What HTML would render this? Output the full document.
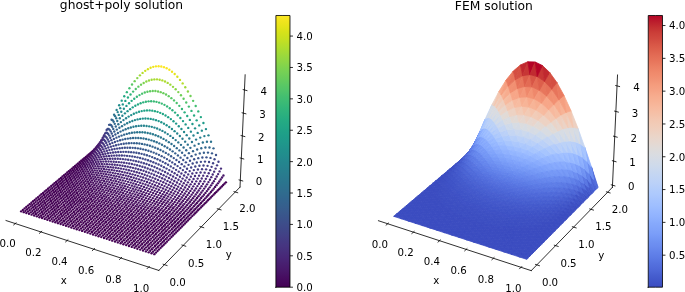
<!DOCTYPE html>
<html><head><meta charset="utf-8"><title>ghost+poly solution / FEM solution</title>
<style>html,body{margin:0;padding:0;background:#fff;overflow:hidden}svg{display:block}</style>
</head><body>
<svg width="685" height="292" viewBox="0 0 670.123 285.658">
<defs>
<style type="text/css">*{stroke-linejoin: round; stroke-linecap: butt}</style>
</defs>
<g id="figure_1">
<g id="patch_1">
<path d="M 0 285.658 L 670.123 285.658 L 670.123 0 L 0 0 z " style="fill: #ffffff"/>
</g>
<g id="patch_2">
<path d="M -14.185 281.353 L 251.907 281.353 L 251.907 15.261 L -14.185 15.261 z " style="fill: #ffffff"/>
</g>
<g id="pane3d_1">
<g id="patch_3">
<path d="M 5.906 215.744 L 93.779 142.087 L 92.557 35.861 L 0.480 103.055 " style="fill: none; opacity: 0.5"/>
</g>
</g>
<g id="pane3d_2">
<g id="patch_4">
<path d="M 93.779 142.087 L 234.783 183.071 L 239.815 73.187 L 92.557 35.861 " style="fill: none; opacity: 0.5"/>
</g>
</g>
<g id="pane3d_3">
<g id="patch_5">
<path d="M 5.906 215.744 L 155.377 264.561 L 234.783 183.071 L 93.779 142.087 " style="fill: none; opacity: 0.5"/>
</g>
</g>
<g id="axis3d_1">
<g id="line2d_1">
<path d="M 5.906 215.744 L 155.377 264.561 " style="fill: none; stroke: #000000; stroke-width: 0.8; stroke-linecap: square"/>
</g>
<g id="xtick_1">
<g id="line2d_2">
<path d="M 15.720 218.055 L 13.434 219.994 " style="fill: none; stroke: #000000; stroke-width: 0.8; stroke-linecap: square"/>
</g>
<g id="text_1">
<text style="font-size: 10px; font-family: 'DejaVu Sans', 'Liberation Sans', sans-serif; text-anchor: middle" x="7.430" y="242.009">0.0</text>
</g>
</g>
<g id="xtick_2">
<g id="line2d_3">
<path d="M 40.847 226.253 L 38.594 228.227 " style="fill: none; stroke: #000000; stroke-width: 0.8; stroke-linecap: square"/>
</g>
<g id="text_2">
<text style="font-size: 10px; font-family: 'DejaVu Sans', 'Liberation Sans', sans-serif; text-anchor: middle" x="32.594" y="250.393">0.2</text>
</g>
</g>
<g id="xtick_3">
<g id="line2d_4">
<path d="M 66.434 234.601 L 64.216 236.612 " style="fill: none; stroke: #000000; stroke-width: 0.8; stroke-linecap: square"/>
</g>
<g id="text_3">
<text style="font-size: 10px; font-family: 'DejaVu Sans', 'Liberation Sans', sans-serif; text-anchor: middle" x="58.220" y="258.932">0.4</text>
</g>
</g>
<g id="xtick_4">
<g id="line2d_5">
<path d="M 92.493 243.104 L 90.313 245.152 " style="fill: none; stroke: #000000; stroke-width: 0.8; stroke-linecap: square"/>
</g>
<g id="text_4">
<text style="font-size: 10px; font-family: 'DejaVu Sans', 'Liberation Sans', sans-serif; text-anchor: middle" x="84.322" y="267.628">0.6</text>
</g>
</g>
<g id="xtick_5">
<g id="line2d_6">
<path d="M 119.039 251.765 L 116.897 253.852 " style="fill: none; stroke: #000000; stroke-width: 0.8; stroke-linecap: square"/>
</g>
<g id="text_5">
<text style="font-size: 10px; font-family: 'DejaVu Sans', 'Liberation Sans', sans-serif; text-anchor: middle" x="110.914" y="276.488">0.8</text>
</g>
</g>
<g id="xtick_6">
<g id="line2d_7">
<path d="M 146.084 260.590 L 143.983 262.716 " style="fill: none; stroke: #000000; stroke-width: 0.8; stroke-linecap: square"/>
</g>
<g id="text_6">
<text style="font-size: 10px; font-family: 'DejaVu Sans', 'Liberation Sans', sans-serif; text-anchor: middle" x="138.008" y="285.515">1.0</text>
</g>
</g>
<g id="text_7">
<text style="font-size: 10px; font-family: 'DejaVu Sans', 'Liberation Sans', sans-serif; text-anchor: middle" x="62.380" y="277.540">x</text>
</g>
</g>
<g id="axis3d_2">
<g id="line2d_8">
<path d="M 234.783 183.071 L 155.377 264.561 " style="fill: none; stroke: #000000; stroke-width: 0.8; stroke-linecap: square"/>
</g>
<g id="xtick_7">
<g id="line2d_9">
<path d="M 159.617 258.516 L 163.385 259.737 " style="fill: none; stroke: #000000; stroke-width: 0.8; stroke-linecap: square"/>
</g>
<g id="text_8">
<text style="font-size: 10px; font-family: 'DejaVu Sans', 'Liberation Sans', sans-serif; text-anchor: middle" x="173.752" y="279.944">0.0</text>
</g>
</g>
<g id="xtick_8">
<g id="line2d_10">
<path d="M 177.986 239.698 L 181.702 240.871 " style="fill: none; stroke: #000000; stroke-width: 0.8; stroke-linecap: square"/>
</g>
<g id="text_9">
<text style="font-size: 10px; font-family: 'DejaVu Sans', 'Liberation Sans', sans-serif; text-anchor: middle" x="191.858" y="260.831">0.5</text>
</g>
</g>
<g id="xtick_9">
<g id="line2d_11">
<path d="M 195.638 221.615 L 199.303 222.743 " style="fill: none; stroke: #000000; stroke-width: 0.8; stroke-linecap: square"/>
</g>
<g id="text_10">
<text style="font-size: 10px; font-family: 'DejaVu Sans', 'Liberation Sans', sans-serif; text-anchor: middle" x="209.256" y="242.466">1.0</text>
</g>
</g>
<g id="xtick_10">
<g id="line2d_12">
<path d="M 212.613 204.226 L 216.229 205.310 " style="fill: none; stroke: #000000; stroke-width: 0.8; stroke-linecap: square"/>
</g>
<g id="text_11">
<text style="font-size: 10px; font-family: 'DejaVu Sans', 'Liberation Sans', sans-serif; text-anchor: middle" x="225.986" y="224.806">1.5</text>
</g>
</g>
<g id="xtick_11">
<g id="line2d_13">
<path d="M 228.950 187.491 L 232.517 188.535 " style="fill: none; stroke: #000000; stroke-width: 0.8; stroke-linecap: square"/>
</g>
<g id="text_12">
<text style="font-size: 10px; font-family: 'DejaVu Sans', 'Liberation Sans', sans-serif; text-anchor: middle" x="242.087" y="207.810">2.0</text>
</g>
</g>
<g id="text_13">
<text style="font-size: 10px; font-family: 'DejaVu Sans', 'Liberation Sans', sans-serif; text-anchor: middle" x="223.828" y="252.762">y</text>
</g>
</g>
<g id="axis3d_3">
<g id="line2d_14">
<path d="M 234.783 183.071 L 239.815 73.187 " style="fill: none; stroke: #000000; stroke-width: 0.8; stroke-linecap: square"/>
</g>
<g id="xtick_12">
<g id="line2d_15">
<path d="M 233.903 176.018 L 237.466 177.045 " style="fill: none; stroke: #000000; stroke-width: 0.8; stroke-linecap: square"/>
</g>
<g id="text_14">
<text style="font-size: 10px; font-family: 'DejaVu Sans', 'Liberation Sans', sans-serif; text-anchor: middle" x="253.388" y="181.367">0</text>
</g>
</g>
<g id="xtick_13">
<g id="line2d_16">
<path d="M 234.878 154.512 L 238.473 155.523 " style="fill: none; stroke: #000000; stroke-width: 0.8; stroke-linecap: square"/>
</g>
<g id="text_15">
<text style="font-size: 10px; font-family: 'DejaVu Sans', 'Liberation Sans', sans-serif; text-anchor: middle" x="254.529" y="159.898">1</text>
</g>
</g>
<g id="xtick_14">
<g id="line2d_17">
<path d="M 235.869 132.627 L 239.498 133.620 " style="fill: none; stroke: #000000; stroke-width: 0.8; stroke-linecap: square"/>
</g>
<g id="text_16">
<text style="font-size: 10px; font-family: 'DejaVu Sans', 'Liberation Sans', sans-serif; text-anchor: middle" x="255.691" y="138.051">2</text>
</g>
</g>
<g id="xtick_15">
<g id="line2d_18">
<path d="M 236.878 110.352 L 240.540 111.326 " style="fill: none; stroke: #000000; stroke-width: 0.8; stroke-linecap: square"/>
</g>
<g id="text_17">
<text style="font-size: 10px; font-family: 'DejaVu Sans', 'Liberation Sans', sans-serif; text-anchor: middle" x="256.873" y="115.817">3</text>
</g>
</g>
<g id="xtick_16">
<g id="line2d_19">
<path d="M 237.906 87.677 L 241.602 88.632 " style="fill: none; stroke: #000000; stroke-width: 0.8; stroke-linecap: square"/>
</g>
<g id="text_18">
<text style="font-size: 10px; font-family: 'DejaVu Sans', 'Liberation Sans', sans-serif; text-anchor: middle" x="258.077" y="93.184">4</text>
</g>
</g>
</g>
<g id="axes_1">
<g id="scatter">
<circle cx="97.16" cy="142.4" r="1.16" fill="#440154"/>
<circle cx="95.71" cy="143.62" r="1.16" fill="#440154"/>
<circle cx="94.25" cy="144.84" r="1.16" fill="#440154"/>
<circle cx="99.53" cy="137.32" r="1.16" fill="#48186a"/>
<circle cx="98.08" cy="139.24" r="1.16" fill="#481668"/>
<circle cx="92.79" cy="146.07" r="1.16" fill="#440154"/>
<circle cx="96.63" cy="141.07" r="1.16" fill="#471365"/>
<circle cx="91.33" cy="147.3" r="1.16" fill="#440154"/>
<circle cx="101.91" cy="132.24" r="1.16" fill="#472d7b"/>
<circle cx="95.18" cy="142.84" r="1.16" fill="#471164"/>
<circle cx="100.47" cy="134.85" r="1.16" fill="#482878"/>
<circle cx="89.86" cy="148.53" r="1.16" fill="#440154"/>
<circle cx="93.72" cy="144.54" r="1.16" fill="#470e61"/>
<circle cx="99.03" cy="137.3" r="1.16" fill="#482475"/>
<circle cx="88.39" cy="149.77" r="1.16" fill="#440154"/>
<circle cx="97.58" cy="139.61" r="1.16" fill="#482071"/>
<circle cx="92.26" cy="146.19" r="1.16" fill="#470d60"/>
<circle cx="104.31" cy="127.17" r="1.16" fill="#424086"/>
<circle cx="102.88" cy="130.48" r="1.16" fill="#443a83"/>
<circle cx="86.91" cy="151.01" r="1.16" fill="#440154"/>
<circle cx="96.13" cy="141.78" r="1.16" fill="#481c6e"/>
<circle cx="90.79" cy="147.8" r="1.16" fill="#460b5e"/>
<circle cx="101.44" cy="133.55" r="1.16" fill="#46337f"/>
<circle cx="94.67" cy="143.85" r="1.16" fill="#481a6c"/>
<circle cx="99.99" cy="136.39" r="1.16" fill="#472e7c"/>
<circle cx="85.43" cy="152.26" r="1.16" fill="#440154"/>
<circle cx="89.32" cy="149.36" r="1.16" fill="#460a5d"/>
<circle cx="106.73" cy="122.15" r="1.16" fill="#3b528b"/>
<circle cx="98.54" cy="139.05" r="1.16" fill="#482979"/>
<circle cx="93.21" cy="145.83" r="1.16" fill="#481769"/>
<circle cx="105.3" cy="126.15" r="1.16" fill="#3e4a89"/>
<circle cx="83.95" cy="153.51" r="1.16" fill="#440154"/>
<circle cx="103.86" cy="129.83" r="1.16" fill="#414287"/>
<circle cx="87.85" cy="150.9" r="1.16" fill="#46085c"/>
<circle cx="97.09" cy="141.53" r="1.16" fill="#482475"/>
<circle cx="91.74" cy="147.72" r="1.16" fill="#481467"/>
<circle cx="102.42" cy="133.21" r="1.16" fill="#443b84"/>
<circle cx="95.63" cy="143.87" r="1.16" fill="#482071"/>
<circle cx="82.46" cy="154.76" r="1.16" fill="#440154"/>
<circle cx="100.97" cy="136.34" r="1.16" fill="#463480"/>
<circle cx="86.37" cy="152.4" r="1.16" fill="#46085c"/>
<circle cx="90.27" cy="149.54" r="1.16" fill="#471164"/>
<circle cx="99.52" cy="139.24" r="1.16" fill="#472f7d"/>
<circle cx="109.17" cy="117.18" r="1.16" fill="#33638d"/>
<circle cx="94.17" cy="146.09" r="1.16" fill="#481c6e"/>
<circle cx="107.73" cy="121.88" r="1.16" fill="#38598c"/>
<circle cx="106.29" cy="126.16" r="1.16" fill="#3c508b"/>
<circle cx="80.97" cy="156.02" r="1.16" fill="#440154"/>
<circle cx="84.88" cy="153.87" r="1.16" fill="#46075a"/>
<circle cx="88.79" cy="151.29" r="1.16" fill="#471063"/>
<circle cx="104.85" cy="130.08" r="1.16" fill="#3f4788"/>
<circle cx="98.06" cy="141.94" r="1.16" fill="#472a7a"/>
<circle cx="92.7" cy="148.19" r="1.16" fill="#481a6c"/>
<circle cx="103.41" cy="133.67" r="1.16" fill="#424086"/>
<circle cx="96.6" cy="144.48" r="1.16" fill="#482576"/>
<circle cx="101.96" cy="136.99" r="1.16" fill="#443983"/>
<circle cx="83.39" cy="155.32" r="1.16" fill="#46075a"/>
<circle cx="79.47" cy="157.28" r="1.16" fill="#440154"/>
<circle cx="87.31" cy="152.98" r="1.16" fill="#470e61"/>
<circle cx="91.23" cy="150.19" r="1.16" fill="#481769"/>
<circle cx="100.51" cy="140.05" r="1.16" fill="#46337f"/>
<circle cx="95.14" cy="146.86" r="1.16" fill="#482173"/>
<circle cx="110.18" cy="117.69" r="1.16" fill="#31678e"/>
<circle cx="108.74" cy="122.57" r="1.16" fill="#365d8d"/>
<circle cx="111.61" cy="112.31" r="1.16" fill="#2c728e"/>
<circle cx="107.3" cy="127.01" r="1.16" fill="#3a538b"/>
<circle cx="81.9" cy="156.76" r="1.16" fill="#450559"/>
<circle cx="85.83" cy="154.63" r="1.16" fill="#460b5e"/>
<circle cx="105.86" cy="131.07" r="1.16" fill="#3e4a89"/>
<circle cx="77.97" cy="158.54" r="1.16" fill="#440154"/>
<circle cx="89.75" cy="152.11" r="1.16" fill="#481467"/>
<circle cx="99.05" cy="142.9" r="1.16" fill="#472d7b"/>
<circle cx="93.67" cy="149.11" r="1.16" fill="#481d6f"/>
<circle cx="104.41" cy="134.79" r="1.16" fill="#414287"/>
<circle cx="97.59" cy="145.57" r="1.16" fill="#482878"/>
<circle cx="102.96" cy="138.21" r="1.16" fill="#443b84"/>
<circle cx="84.34" cy="156.24" r="1.16" fill="#460b5e"/>
<circle cx="80.4" cy="158.17" r="1.16" fill="#450559"/>
<circle cx="88.27" cy="153.95" r="1.16" fill="#471164"/>
<circle cx="76.46" cy="159.81" r="1.16" fill="#440154"/>
<circle cx="92.2" cy="151.25" r="1.16" fill="#481b6d"/>
<circle cx="101.5" cy="141.37" r="1.16" fill="#453581"/>
<circle cx="111.2" cy="119.08" r="1.16" fill="#31688e"/>
<circle cx="109.76" cy="124.03" r="1.16" fill="#355e8d"/>
<circle cx="96.12" cy="148.06" r="1.16" fill="#482475"/>
<circle cx="112.64" cy="113.61" r="1.16" fill="#2c738e"/>
<circle cx="108.32" cy="128.54" r="1.16" fill="#3a548c"/>
<circle cx="106.87" cy="132.65" r="1.16" fill="#3e4c8a"/>
<circle cx="114.08" cy="107.55" r="1.16" fill="#26818e"/>
<circle cx="86.78" cy="155.73" r="1.16" fill="#471063"/>
<circle cx="82.84" cy="157.8" r="1.16" fill="#460a5d"/>
<circle cx="100.04" cy="144.31" r="1.16" fill="#472f7d"/>
<circle cx="90.72" cy="153.28" r="1.16" fill="#481769"/>
<circle cx="78.9" cy="159.57" r="1.16" fill="#450457"/>
<circle cx="105.42" cy="136.42" r="1.16" fill="#414487"/>
<circle cx="74.95" cy="161.08" r="1.16" fill="#440154"/>
<circle cx="94.65" cy="150.41" r="1.16" fill="#482071"/>
<circle cx="98.58" cy="147.04" r="1.16" fill="#472a7a"/>
<circle cx="103.97" cy="139.89" r="1.16" fill="#433d84"/>
<circle cx="85.29" cy="157.44" r="1.16" fill="#470e61"/>
<circle cx="89.24" cy="155.23" r="1.16" fill="#481467"/>
<circle cx="81.34" cy="159.34" r="1.16" fill="#46085c"/>
<circle cx="93.18" cy="152.64" r="1.16" fill="#481c6e"/>
<circle cx="112.23" cy="121.15" r="1.16" fill="#31688e"/>
<circle cx="77.39" cy="160.96" r="1.16" fill="#450457"/>
<circle cx="110.79" cy="126.1" r="1.16" fill="#355e8d"/>
<circle cx="102.51" cy="143.1" r="1.16" fill="#453581"/>
<circle cx="113.68" cy="115.69" r="1.16" fill="#2c738e"/>
<circle cx="109.34" cy="130.6" r="1.16" fill="#3a548c"/>
<circle cx="73.43" cy="162.36" r="1.16" fill="#440154"/>
<circle cx="97.11" cy="149.61" r="1.16" fill="#482576"/>
<circle cx="107.89" cy="134.71" r="1.16" fill="#3e4c8a"/>
<circle cx="115.12" cy="109.64" r="1.16" fill="#27808e"/>
<circle cx="101.05" cy="146.07" r="1.16" fill="#46307e"/>
<circle cx="87.75" cy="157.1" r="1.16" fill="#471365"/>
<circle cx="83.8" cy="159.11" r="1.16" fill="#470d60"/>
<circle cx="106.44" cy="138.47" r="1.16" fill="#414487"/>
<circle cx="91.7" cy="154.75" r="1.16" fill="#481a6c"/>
<circle cx="79.84" cy="160.85" r="1.16" fill="#46075a"/>
<circle cx="116.56" cy="102.93" r="1.16" fill="#218e8d"/>
<circle cx="95.64" cy="152.02" r="1.16" fill="#482173"/>
<circle cx="75.88" cy="162.34" r="1.16" fill="#450457"/>
<circle cx="104.98" cy="141.94" r="1.16" fill="#433d84"/>
<circle cx="99.58" cy="148.84" r="1.16" fill="#472a7a"/>
<circle cx="71.91" cy="163.64" r="1.16" fill="#440154"/>
<circle cx="113.27" cy="123.76" r="1.16" fill="#31668e"/>
<circle cx="111.82" cy="128.63" r="1.16" fill="#365c8d"/>
<circle cx="114.72" cy="118.38" r="1.16" fill="#2c718e"/>
<circle cx="86.26" cy="158.9" r="1.16" fill="#471063"/>
<circle cx="90.21" cy="156.77" r="1.16" fill="#481769"/>
<circle cx="110.37" cy="133.07" r="1.16" fill="#3b528b"/>
<circle cx="103.52" cy="145.14" r="1.16" fill="#453581"/>
<circle cx="82.3" cy="160.74" r="1.16" fill="#460b5e"/>
<circle cx="94.16" cy="154.3" r="1.16" fill="#481d6f"/>
<circle cx="116.16" cy="112.43" r="1.16" fill="#277e8e"/>
<circle cx="78.33" cy="162.33" r="1.16" fill="#46075a"/>
<circle cx="98.11" cy="151.44" r="1.16" fill="#482677"/>
<circle cx="108.92" cy="137.13" r="1.16" fill="#3e4989"/>
<circle cx="74.36" cy="163.72" r="1.16" fill="#440256"/>
<circle cx="102.06" cy="148.12" r="1.16" fill="#472f7d"/>
<circle cx="117.61" cy="105.83" r="1.16" fill="#228b8d"/>
<circle cx="107.46" cy="140.85" r="1.16" fill="#414287"/>
<circle cx="70.38" cy="164.92" r="1.16" fill="#440154"/>
<circle cx="88.72" cy="158.7" r="1.16" fill="#481467"/>
<circle cx="92.68" cy="156.46" r="1.16" fill="#481b6d"/>
<circle cx="84.76" cy="160.64" r="1.16" fill="#470e61"/>
<circle cx="96.64" cy="153.87" r="1.16" fill="#482173"/>
<circle cx="80.79" cy="162.33" r="1.16" fill="#460a5d"/>
<circle cx="106" cy="144.27" r="1.16" fill="#443b84"/>
<circle cx="114.31" cy="126.77" r="1.16" fill="#33638d"/>
<circle cx="76.82" cy="163.8" r="1.16" fill="#450559"/>
<circle cx="115.76" cy="121.53" r="1.16" fill="#2e6e8e"/>
<circle cx="100.59" cy="150.89" r="1.16" fill="#472a7a"/>
<circle cx="112.86" cy="131.52" r="1.16" fill="#38598c"/>
<circle cx="119.05" cy="98.47" r="1.16" fill="#1e9b8a"/>
<circle cx="72.84" cy="165.08" r="1.16" fill="#440256"/>
<circle cx="111.41" cy="135.86" r="1.16" fill="#3c508b"/>
<circle cx="117.21" cy="115.74" r="1.16" fill="#297a8e"/>
<circle cx="104.54" cy="147.44" r="1.16" fill="#463480"/>
<circle cx="91.19" cy="158.52" r="1.16" fill="#481769"/>
<circle cx="68.85" cy="166.21" r="1.16" fill="#440154"/>
<circle cx="87.23" cy="160.56" r="1.16" fill="#471164"/>
<circle cx="109.95" cy="139.82" r="1.16" fill="#3f4788"/>
<circle cx="95.16" cy="156.18" r="1.16" fill="#481d6f"/>
<circle cx="83.26" cy="162.33" r="1.16" fill="#470d60"/>
<circle cx="118.66" cy="109.32" r="1.16" fill="#24878e"/>
<circle cx="99.12" cy="153.48" r="1.16" fill="#482576"/>
<circle cx="79.28" cy="163.88" r="1.16" fill="#46085c"/>
<circle cx="108.5" cy="143.46" r="1.16" fill="#424086"/>
<circle cx="103.07" cy="150.39" r="1.16" fill="#472f7d"/>
<circle cx="75.3" cy="165.24" r="1.16" fill="#450559"/>
<circle cx="120.11" cy="102.17" r="1.16" fill="#1f968b"/>
<circle cx="115.36" cy="130.08" r="1.16" fill="#355f8d"/>
<circle cx="71.31" cy="166.44" r="1.16" fill="#440256"/>
<circle cx="116.82" cy="125.02" r="1.16" fill="#306a8e"/>
<circle cx="93.67" cy="158.36" r="1.16" fill="#481b6d"/>
<circle cx="89.7" cy="160.49" r="1.16" fill="#481668"/>
<circle cx="113.91" cy="134.68" r="1.16" fill="#39558c"/>
<circle cx="107.03" cy="146.82" r="1.16" fill="#443983"/>
<circle cx="118.27" cy="119.43" r="1.16" fill="#2b758e"/>
<circle cx="85.73" cy="162.35" r="1.16" fill="#471063"/>
<circle cx="97.64" cy="155.93" r="1.16" fill="#482173"/>
<circle cx="67.32" cy="167.5" r="1.16" fill="#440154"/>
<circle cx="81.75" cy="163.98" r="1.16" fill="#460b5e"/>
<circle cx="112.45" cy="138.88" r="1.16" fill="#3d4d8a"/>
<circle cx="101.6" cy="153.13" r="1.16" fill="#482979"/>
<circle cx="119.72" cy="113.25" r="1.16" fill="#26828e"/>
<circle cx="77.77" cy="165.41" r="1.16" fill="#46075a"/>
<circle cx="105.57" cy="149.93" r="1.16" fill="#46337f"/>
<circle cx="110.99" cy="142.73" r="1.16" fill="#404588"/>
<circle cx="73.78" cy="166.68" r="1.16" fill="#450457"/>
<circle cx="121.56" cy="94.2" r="1.16" fill="#22a884"/>
<circle cx="92.18" cy="160.44" r="1.16" fill="#48186a"/>
<circle cx="96.16" cy="158.23" r="1.16" fill="#481d6f"/>
<circle cx="88.2" cy="162.38" r="1.16" fill="#471365"/>
<circle cx="121.17" cy="106.37" r="1.16" fill="#21918c"/>
<circle cx="69.78" cy="167.8" r="1.16" fill="#440256"/>
<circle cx="100.13" cy="155.71" r="1.16" fill="#482576"/>
<circle cx="109.53" cy="146.27" r="1.16" fill="#433e85"/>
<circle cx="84.22" cy="164.08" r="1.16" fill="#470e61"/>
<circle cx="117.87" cy="128.74" r="1.16" fill="#32658e"/>
<circle cx="116.42" cy="133.6" r="1.16" fill="#375b8d"/>
<circle cx="119.33" cy="123.4" r="1.16" fill="#2d708e"/>
<circle cx="104.1" cy="152.83" r="1.16" fill="#472d7b"/>
<circle cx="80.24" cy="165.59" r="1.16" fill="#460a5d"/>
<circle cx="65.78" cy="168.8" r="1.16" fill="#440154"/>
<circle cx="114.96" cy="138.02" r="1.16" fill="#3b518b"/>
<circle cx="120.78" cy="117.48" r="1.16" fill="#287c8e"/>
<circle cx="76.25" cy="166.91" r="1.16" fill="#46075a"/>
<circle cx="108.07" cy="149.53" r="1.16" fill="#453781"/>
<circle cx="113.5" cy="142.06" r="1.16" fill="#3e4989"/>
<circle cx="122.63" cy="98.7" r="1.16" fill="#1fa187"/>
<circle cx="94.67" cy="160.42" r="1.16" fill="#481b6d"/>
<circle cx="72.25" cy="168.09" r="1.16" fill="#450457"/>
<circle cx="90.69" cy="162.43" r="1.16" fill="#481668"/>
<circle cx="98.65" cy="158.13" r="1.16" fill="#482173"/>
<circle cx="86.7" cy="164.2" r="1.16" fill="#471063"/>
<circle cx="122.24" cy="110.91" r="1.16" fill="#238a8d"/>
<circle cx="102.62" cy="155.53" r="1.16" fill="#482878"/>
<circle cx="82.71" cy="165.77" r="1.16" fill="#470d60"/>
<circle cx="112.04" cy="145.77" r="1.16" fill="#424186"/>
<circle cx="68.25" cy="169.15" r="1.16" fill="#440256"/>
<circle cx="106.6" cy="152.57" r="1.16" fill="#46307e"/>
<circle cx="78.72" cy="167.16" r="1.16" fill="#46085c"/>
<circle cx="118.93" cy="132.62" r="1.16" fill="#34608d"/>
<circle cx="120.39" cy="127.53" r="1.16" fill="#306a8e"/>
<circle cx="64.24" cy="170.1" r="1.16" fill="#440154"/>
<circle cx="117.47" cy="137.26" r="1.16" fill="#39558c"/>
<circle cx="121.85" cy="121.91" r="1.16" fill="#2b758e"/>
<circle cx="110.57" cy="149.19" r="1.16" fill="#443a83"/>
<circle cx="74.72" cy="168.4" r="1.16" fill="#450559"/>
<circle cx="123.7" cy="103.6" r="1.16" fill="#1f998a"/>
<circle cx="97.16" cy="160.42" r="1.16" fill="#481d6f"/>
<circle cx="93.18" cy="162.5" r="1.16" fill="#48186a"/>
<circle cx="101.14" cy="158.07" r="1.16" fill="#482475"/>
<circle cx="116.01" cy="141.48" r="1.16" fill="#3d4d8a"/>
<circle cx="124.09" cy="90.13" r="1.16" fill="#2fb47c"/>
<circle cx="89.19" cy="164.34" r="1.16" fill="#471365"/>
<circle cx="105.12" cy="155.39" r="1.16" fill="#472c7a"/>
<circle cx="70.72" cy="169.5" r="1.16" fill="#450457"/>
<circle cx="123.31" cy="115.68" r="1.16" fill="#26828e"/>
<circle cx="85.2" cy="165.97" r="1.16" fill="#470e61"/>
<circle cx="114.55" cy="145.36" r="1.16" fill="#404588"/>
<circle cx="81.2" cy="167.41" r="1.16" fill="#460b5e"/>
<circle cx="109.1" cy="152.36" r="1.16" fill="#463480"/>
<circle cx="66.7" cy="170.5" r="1.16" fill="#440154"/>
<circle cx="77.2" cy="168.7" r="1.16" fill="#46075a"/>
<circle cx="124.77" cy="108.75" r="1.16" fill="#20928c"/>
<circle cx="121.45" cy="131.76" r="1.16" fill="#32648e"/>
<circle cx="95.67" cy="162.6" r="1.16" fill="#481a6c"/>
<circle cx="99.66" cy="160.46" r="1.16" fill="#482071"/>
<circle cx="125.16" cy="95.44" r="1.16" fill="#25ab82"/>
<circle cx="113.09" cy="148.92" r="1.16" fill="#433e85"/>
<circle cx="119.99" cy="136.59" r="1.16" fill="#375a8c"/>
<circle cx="122.91" cy="126.44" r="1.16" fill="#2e6f8e"/>
<circle cx="91.68" cy="164.49" r="1.16" fill="#481668"/>
<circle cx="103.65" cy="158.04" r="1.16" fill="#482677"/>
<circle cx="62.69" cy="171.4" r="1.16" fill="#440154"/>
<circle cx="73.19" cy="169.86" r="1.16" fill="#450559"/>
<circle cx="87.69" cy="166.18" r="1.16" fill="#471164"/>
<circle cx="118.53" cy="140.99" r="1.16" fill="#3b518b"/>
<circle cx="107.63" cy="155.3" r="1.16" fill="#472e7c"/>
<circle cx="124.38" cy="120.56" r="1.16" fill="#297b8e"/>
<circle cx="83.69" cy="167.68" r="1.16" fill="#470d60"/>
<circle cx="69.18" cy="170.9" r="1.16" fill="#440256"/>
<circle cx="117.07" cy="145.01" r="1.16" fill="#3f4889"/>
<circle cx="111.62" cy="152.21" r="1.16" fill="#453781"/>
<circle cx="79.68" cy="169.02" r="1.16" fill="#460a5d"/>
<circle cx="126.23" cy="101.03" r="1.16" fill="#1fa187"/>
<circle cx="125.84" cy="114.04" r="1.16" fill="#23888e"/>
<circle cx="98.17" cy="162.72" r="1.16" fill="#481c6e"/>
<circle cx="65.16" cy="171.84" r="1.16" fill="#440154"/>
<circle cx="102.17" cy="160.52" r="1.16" fill="#482374"/>
<circle cx="94.18" cy="164.67" r="1.16" fill="#481769"/>
<circle cx="75.67" cy="170.22" r="1.16" fill="#46075a"/>
<circle cx="115.61" cy="148.71" r="1.16" fill="#424086"/>
<circle cx="106.16" cy="158.05" r="1.16" fill="#482979"/>
<circle cx="90.18" cy="166.41" r="1.16" fill="#471365"/>
<circle cx="123.99" cy="131.02" r="1.16" fill="#31688e"/>
<circle cx="122.52" cy="136.03" r="1.16" fill="#355e8d"/>
<circle cx="110.15" cy="155.26" r="1.16" fill="#46307e"/>
<circle cx="86.18" cy="167.96" r="1.16" fill="#470e61"/>
<circle cx="125.45" cy="125.49" r="1.16" fill="#2c738e"/>
<circle cx="126.62" cy="86.3" r="1.16" fill="#42be71"/>
<circle cx="61.13" cy="172.71" r="1.16" fill="#440154"/>
<circle cx="121.06" cy="140.59" r="1.16" fill="#3a548c"/>
<circle cx="71.66" cy="171.31" r="1.16" fill="#450457"/>
<circle cx="127.3" cy="106.78" r="1.16" fill="#1f988b"/>
<circle cx="82.17" cy="169.35" r="1.16" fill="#460b5e"/>
<circle cx="114.14" cy="152.12" r="1.16" fill="#443983"/>
<circle cx="119.6" cy="144.76" r="1.16" fill="#3e4c8a"/>
<circle cx="126.91" cy="119.37" r="1.16" fill="#27808e"/>
<circle cx="67.64" cy="172.29" r="1.16" fill="#440256"/>
<circle cx="100.68" cy="162.87" r="1.16" fill="#481f70"/>
<circle cx="78.16" cy="170.59" r="1.16" fill="#46085c"/>
<circle cx="104.68" cy="160.63" r="1.16" fill="#482576"/>
<circle cx="96.68" cy="164.87" r="1.16" fill="#481a6c"/>
<circle cx="127.7" cy="92.4" r="1.16" fill="#2fb47c"/>
<circle cx="108.67" cy="158.11" r="1.16" fill="#472c7a"/>
<circle cx="92.68" cy="166.65" r="1.16" fill="#481467"/>
<circle cx="118.13" cy="148.58" r="1.16" fill="#414487"/>
<circle cx="63.61" cy="173.19" r="1.16" fill="#440154"/>
<circle cx="88.67" cy="168.25" r="1.16" fill="#471063"/>
<circle cx="74.14" cy="171.72" r="1.16" fill="#450559"/>
<circle cx="128.38" cy="112.58" r="1.16" fill="#218e8d"/>
<circle cx="112.67" cy="155.28" r="1.16" fill="#46337f"/>
<circle cx="125.06" cy="135.58" r="1.16" fill="#34618d"/>
<circle cx="126.52" cy="130.4" r="1.16" fill="#2f6c8e"/>
<circle cx="123.6" cy="140.29" r="1.16" fill="#38588c"/>
<circle cx="84.66" cy="169.68" r="1.16" fill="#470d60"/>
<circle cx="128.77" cy="98.68" r="1.16" fill="#23a983"/>
<circle cx="127.99" cy="124.68" r="1.16" fill="#2a778e"/>
<circle cx="116.67" cy="152.09" r="1.16" fill="#433d84"/>
<circle cx="70.12" cy="172.74" r="1.16" fill="#450457"/>
<circle cx="59.58" cy="174.02" r="1.16" fill="#440154"/>
<circle cx="122.13" cy="144.58" r="1.16" fill="#3d4e8a"/>
<circle cx="80.65" cy="170.97" r="1.16" fill="#460a5d"/>
<circle cx="103.19" cy="163.05" r="1.16" fill="#482071"/>
<circle cx="99.19" cy="165.1" r="1.16" fill="#481b6d"/>
<circle cx="107.19" cy="160.77" r="1.16" fill="#482677"/>
<circle cx="95.18" cy="166.92" r="1.16" fill="#481769"/>
<circle cx="111.2" cy="158.21" r="1.16" fill="#472e7c"/>
<circle cx="129.46" cy="118.35" r="1.16" fill="#25848e"/>
<circle cx="66.09" cy="173.68" r="1.16" fill="#440256"/>
<circle cx="129.85" cy="105.01" r="1.16" fill="#1f9e89"/>
<circle cx="76.63" cy="172.14" r="1.16" fill="#46075a"/>
<circle cx="120.67" cy="148.52" r="1.16" fill="#404688"/>
<circle cx="91.18" cy="168.56" r="1.16" fill="#471365"/>
<circle cx="115.2" cy="155.35" r="1.16" fill="#453581"/>
<circle cx="87.16" cy="170.03" r="1.16" fill="#470e61"/>
<circle cx="127.6" cy="135.25" r="1.16" fill="#32648e"/>
<circle cx="72.6" cy="173.2" r="1.16" fill="#450559"/>
<circle cx="62.05" cy="174.54" r="1.16" fill="#440154"/>
<circle cx="129.17" cy="82.72" r="1.16" fill="#58c765"/>
<circle cx="126.14" cy="140.09" r="1.16" fill="#375a8c"/>
<circle cx="129.07" cy="129.92" r="1.16" fill="#2e6f8e"/>
<circle cx="119.2" cy="152.13" r="1.16" fill="#423f85"/>
<circle cx="83.15" cy="171.36" r="1.16" fill="#460b5e"/>
<circle cx="130.93" cy="111.3" r="1.16" fill="#20938c"/>
<circle cx="105.71" cy="163.27" r="1.16" fill="#482374"/>
<circle cx="124.67" cy="144.5" r="1.16" fill="#3c508b"/>
<circle cx="101.71" cy="165.35" r="1.16" fill="#481d6f"/>
<circle cx="109.72" cy="160.95" r="1.16" fill="#482979"/>
<circle cx="130.54" cy="124.03" r="1.16" fill="#297b8e"/>
<circle cx="97.7" cy="167.21" r="1.16" fill="#48186a"/>
<circle cx="130.25" cy="89.6" r="1.16" fill="#3fbc73"/>
<circle cx="68.57" cy="174.17" r="1.16" fill="#450457"/>
<circle cx="113.72" cy="158.37" r="1.16" fill="#472f7d"/>
<circle cx="58.01" cy="175.33" r="1.16" fill="#440154"/>
<circle cx="79.12" cy="172.57" r="1.16" fill="#46085c"/>
<circle cx="93.68" cy="168.89" r="1.16" fill="#481467"/>
<circle cx="123.2" cy="148.54" r="1.16" fill="#3f4889"/>
<circle cx="117.73" cy="155.47" r="1.16" fill="#453882"/>
<circle cx="131.33" cy="96.55" r="1.16" fill="#2ab07f"/>
<circle cx="89.67" cy="170.4" r="1.16" fill="#471063"/>
<circle cx="132.01" cy="117.49" r="1.16" fill="#23888e"/>
<circle cx="64.54" cy="175.06" r="1.16" fill="#440256"/>
<circle cx="75.09" cy="173.66" r="1.16" fill="#46075a"/>
<circle cx="130.15" cy="135.04" r="1.16" fill="#31668e"/>
<circle cx="85.65" cy="171.77" r="1.16" fill="#470d60"/>
<circle cx="128.68" cy="140" r="1.16" fill="#365c8d"/>
<circle cx="121.74" cy="152.24" r="1.16" fill="#424086"/>
<circle cx="132.41" cy="103.44" r="1.16" fill="#20a486"/>
<circle cx="131.62" cy="129.57" r="1.16" fill="#2c718e"/>
<circle cx="108.24" cy="163.53" r="1.16" fill="#482475"/>
<circle cx="104.23" cy="165.64" r="1.16" fill="#481f70"/>
<circle cx="71.06" cy="174.66" r="1.16" fill="#450457"/>
<circle cx="112.25" cy="161.18" r="1.16" fill="#472a7a"/>
<circle cx="127.22" cy="144.51" r="1.16" fill="#3b528b"/>
<circle cx="100.21" cy="167.53" r="1.16" fill="#481a6c"/>
<circle cx="60.49" cy="175.88" r="1.16" fill="#440154"/>
<circle cx="81.62" cy="173" r="1.16" fill="#460a5d"/>
<circle cx="116.26" cy="158.57" r="1.16" fill="#46327e"/>
<circle cx="96.2" cy="169.24" r="1.16" fill="#481668"/>
<circle cx="133.09" cy="123.53" r="1.16" fill="#277e8e"/>
<circle cx="133.49" cy="110.22" r="1.16" fill="#1f978b"/>
<circle cx="125.75" cy="148.64" r="1.16" fill="#3e4a89"/>
<circle cx="92.18" cy="170.78" r="1.16" fill="#471164"/>
<circle cx="120.27" cy="155.66" r="1.16" fill="#443983"/>
<circle cx="67.02" cy="175.58" r="1.16" fill="#440256"/>
<circle cx="77.59" cy="174.13" r="1.16" fill="#46085c"/>
<circle cx="56.44" cy="176.65" r="1.16" fill="#440154"/>
<circle cx="88.15" cy="172.18" r="1.16" fill="#470e61"/>
<circle cx="134.57" cy="116.82" r="1.16" fill="#228c8d"/>
<circle cx="124.28" cy="152.43" r="1.16" fill="#414287"/>
<circle cx="132.71" cy="134.96" r="1.16" fill="#30698e"/>
<circle cx="131.24" cy="140.02" r="1.16" fill="#355e8d"/>
<circle cx="73.56" cy="175.16" r="1.16" fill="#450559"/>
<circle cx="110.77" cy="163.82" r="1.16" fill="#482576"/>
<circle cx="131.74" cy="79.41" r="1.16" fill="#70cf57"/>
<circle cx="106.75" cy="165.95" r="1.16" fill="#482071"/>
<circle cx="62.98" cy="176.44" r="1.16" fill="#440256"/>
<circle cx="114.78" cy="161.46" r="1.16" fill="#472c7a"/>
<circle cx="102.74" cy="167.88" r="1.16" fill="#481b6d"/>
<circle cx="84.13" cy="173.45" r="1.16" fill="#460b5e"/>
<circle cx="134.18" cy="129.37" r="1.16" fill="#2c738e"/>
<circle cx="132.81" cy="87.06" r="1.16" fill="#4ec36b"/>
<circle cx="129.77" cy="144.62" r="1.16" fill="#3a548c"/>
<circle cx="98.72" cy="169.61" r="1.16" fill="#481769"/>
<circle cx="118.8" cy="158.83" r="1.16" fill="#46337f"/>
<circle cx="133.89" cy="94.66" r="1.16" fill="#34b679"/>
<circle cx="69.52" cy="176.11" r="1.16" fill="#450457"/>
<circle cx="94.69" cy="171.18" r="1.16" fill="#471365"/>
<circle cx="128.3" cy="148.83" r="1.16" fill="#3e4c8a"/>
<circle cx="80.09" cy="174.61" r="1.16" fill="#46085c"/>
<circle cx="134.97" cy="102.11" r="1.16" fill="#23a983"/>
<circle cx="122.81" cy="155.92" r="1.16" fill="#443b84"/>
<circle cx="58.93" cy="177.23" r="1.16" fill="#440154"/>
<circle cx="135.65" cy="123.19" r="1.16" fill="#26818e"/>
<circle cx="90.67" cy="172.61" r="1.16" fill="#471063"/>
<circle cx="136.05" cy="109.34" r="1.16" fill="#1e9c89"/>
<circle cx="76.06" cy="175.67" r="1.16" fill="#46075a"/>
<circle cx="65.47" cy="176.99" r="1.16" fill="#440256"/>
<circle cx="126.83" cy="152.69" r="1.16" fill="#414487"/>
<circle cx="113.3" cy="164.16" r="1.16" fill="#482878"/>
<circle cx="109.28" cy="166.3" r="1.16" fill="#482173"/>
<circle cx="133.79" cy="140.15" r="1.16" fill="#34608d"/>
<circle cx="135.27" cy="135" r="1.16" fill="#2f6b8e"/>
<circle cx="105.26" cy="168.25" r="1.16" fill="#481c6e"/>
<circle cx="117.32" cy="161.78" r="1.16" fill="#472e7c"/>
<circle cx="86.64" cy="173.91" r="1.16" fill="#470d60"/>
<circle cx="54.87" cy="177.97" r="1.16" fill="#440154"/>
<circle cx="132.32" cy="144.83" r="1.16" fill="#39568c"/>
<circle cx="137.13" cy="116.33" r="1.16" fill="#218f8d"/>
<circle cx="101.24" cy="170.01" r="1.16" fill="#48186a"/>
<circle cx="121.34" cy="159.15" r="1.16" fill="#463480"/>
<circle cx="136.74" cy="129.32" r="1.16" fill="#2a768e"/>
<circle cx="72.01" cy="176.65" r="1.16" fill="#450559"/>
<circle cx="97.21" cy="171.61" r="1.16" fill="#481467"/>
<circle cx="82.6" cy="175.09" r="1.16" fill="#460a5d"/>
<circle cx="61.42" cy="177.81" r="1.16" fill="#440256"/>
<circle cx="130.86" cy="149.11" r="1.16" fill="#3d4d8a"/>
<circle cx="220.98" cy="178.36" r="1.16" fill="#440154"/>
<circle cx="125.36" cy="156.24" r="1.16" fill="#433d84"/>
<circle cx="93.18" cy="173.06" r="1.16" fill="#471164"/>
<circle cx="138.22" cy="123.02" r="1.16" fill="#26828e"/>
<circle cx="67.96" cy="177.55" r="1.16" fill="#450457"/>
<circle cx="78.56" cy="176.18" r="1.16" fill="#46085c"/>
<circle cx="129.39" cy="153.03" r="1.16" fill="#404588"/>
<circle cx="111.82" cy="166.69" r="1.16" fill="#482374"/>
<circle cx="115.84" cy="164.53" r="1.16" fill="#482979"/>
<circle cx="57.36" cy="178.58" r="1.16" fill="#440154"/>
<circle cx="136.46" cy="93.02" r="1.16" fill="#3dbc74"/>
<circle cx="89.15" cy="174.38" r="1.16" fill="#470e61"/>
<circle cx="137.54" cy="101" r="1.16" fill="#27ad81"/>
<circle cx="107.8" cy="168.65" r="1.16" fill="#481d6f"/>
<circle cx="136.36" cy="140.4" r="1.16" fill="#34618d"/>
<circle cx="119.87" cy="162.15" r="1.16" fill="#472f7d"/>
<circle cx="135.39" cy="84.79" r="1.16" fill="#5ec962"/>
<circle cx="137.83" cy="135.18" r="1.16" fill="#2f6c8e"/>
<circle cx="138.62" cy="108.68" r="1.16" fill="#1f9f88"/>
<circle cx="134.89" cy="145.15" r="1.16" fill="#38588c"/>
<circle cx="103.77" cy="170.43" r="1.16" fill="#481a6c"/>
<circle cx="134.31" cy="76.4" r="1.16" fill="#89d548"/>
<circle cx="123.89" cy="159.53" r="1.16" fill="#453581"/>
<circle cx="74.51" cy="177.19" r="1.16" fill="#450559"/>
<circle cx="139.31" cy="129.42" r="1.16" fill="#2a778e"/>
<circle cx="63.91" cy="178.39" r="1.16" fill="#440256"/>
<circle cx="85.11" cy="175.59" r="1.16" fill="#460b5e"/>
<circle cx="99.74" cy="172.05" r="1.16" fill="#481668"/>
<circle cx="139.7" cy="116.03" r="1.16" fill="#20928c"/>
<circle cx="133.42" cy="149.48" r="1.16" fill="#3d4e8a"/>
<circle cx="127.92" cy="156.63" r="1.16" fill="#433e85"/>
<circle cx="53.29" cy="179.3" r="1.16" fill="#440154"/>
<circle cx="95.71" cy="173.52" r="1.16" fill="#471365"/>
<circle cx="70.46" cy="178.11" r="1.16" fill="#450457"/>
<circle cx="81.07" cy="176.71" r="1.16" fill="#46085c"/>
<circle cx="140.79" cy="123.03" r="1.16" fill="#25848e"/>
<circle cx="59.85" cy="179.18" r="1.16" fill="#440154"/>
<circle cx="131.95" cy="153.45" r="1.16" fill="#404688"/>
<circle cx="114.36" cy="167.12" r="1.16" fill="#482475"/>
<circle cx="118.39" cy="164.96" r="1.16" fill="#472a7a"/>
<circle cx="218.58" cy="171.66" r="1.16" fill="#48186a"/>
<circle cx="219.66" cy="179.69" r="1.16" fill="#440154"/>
<circle cx="91.67" cy="174.87" r="1.16" fill="#470e61"/>
<circle cx="110.33" cy="169.09" r="1.16" fill="#481f70"/>
<circle cx="122.42" cy="162.58" r="1.16" fill="#46307e"/>
<circle cx="138.93" cy="140.77" r="1.16" fill="#33628d"/>
<circle cx="140.4" cy="135.49" r="1.16" fill="#2e6d8e"/>
<circle cx="137.45" cy="145.57" r="1.16" fill="#38598c"/>
<circle cx="106.3" cy="170.88" r="1.16" fill="#481b6d"/>
<circle cx="126.45" cy="159.96" r="1.16" fill="#453781"/>
<circle cx="77.02" cy="177.73" r="1.16" fill="#46075a"/>
<circle cx="66.41" cy="178.98" r="1.16" fill="#450457"/>
<circle cx="87.63" cy="176.1" r="1.16" fill="#470d60"/>
<circle cx="102.27" cy="172.51" r="1.16" fill="#481769"/>
<circle cx="141.88" cy="129.67" r="1.16" fill="#29798e"/>
<circle cx="135.98" cy="149.94" r="1.16" fill="#3c4f8a"/>
<circle cx="55.78" cy="179.93" r="1.16" fill="#440154"/>
<circle cx="141.2" cy="108.23" r="1.16" fill="#1fa287"/>
<circle cx="140.12" cy="100.13" r="1.16" fill="#2cb17e"/>
<circle cx="130.48" cy="157.09" r="1.16" fill="#423f85"/>
<circle cx="142.28" cy="115.93" r="1.16" fill="#20938c"/>
<circle cx="98.24" cy="174" r="1.16" fill="#471365"/>
<circle cx="139.04" cy="91.65" r="1.16" fill="#48c16e"/>
<circle cx="72.97" cy="178.68" r="1.16" fill="#450559"/>
<circle cx="83.58" cy="177.24" r="1.16" fill="#460a5d"/>
<circle cx="62.35" cy="179.79" r="1.16" fill="#440256"/>
<circle cx="134.51" cy="153.94" r="1.16" fill="#3f4788"/>
<circle cx="143.37" cy="123.21" r="1.16" fill="#24868e"/>
<circle cx="120.94" cy="165.42" r="1.16" fill="#472a7a"/>
<circle cx="116.91" cy="167.58" r="1.16" fill="#482576"/>
<circle cx="137.97" cy="82.82" r="1.16" fill="#6ece58"/>
<circle cx="94.2" cy="175.37" r="1.16" fill="#471063"/>
<circle cx="141.5" cy="141.26" r="1.16" fill="#33638d"/>
<circle cx="112.88" cy="169.55" r="1.16" fill="#482071"/>
<circle cx="124.97" cy="163.06" r="1.16" fill="#46307e"/>
<circle cx="51.71" cy="180.63" r="1.16" fill="#440154"/>
<circle cx="142.97" cy="135.95" r="1.16" fill="#2e6e8e"/>
<circle cx="140.02" cy="146.09" r="1.16" fill="#38598c"/>
<circle cx="108.84" cy="171.36" r="1.16" fill="#481c6e"/>
<circle cx="129.01" cy="160.46" r="1.16" fill="#453882"/>
<circle cx="217.22" cy="173.69" r="1.16" fill="#481668"/>
<circle cx="79.53" cy="178.29" r="1.16" fill="#46085c"/>
<circle cx="68.91" cy="179.57" r="1.16" fill="#450457"/>
<circle cx="90.15" cy="176.62" r="1.16" fill="#470d60"/>
<circle cx="136.89" cy="73.7" r="1.16" fill="#a0da39"/>
<circle cx="104.81" cy="173" r="1.16" fill="#48186a"/>
<circle cx="144.46" cy="130.08" r="1.16" fill="#29798e"/>
<circle cx="58.28" cy="180.55" r="1.16" fill="#440154"/>
<circle cx="138.55" cy="150.5" r="1.16" fill="#3c508b"/>
<circle cx="216.17" cy="164.96" r="1.16" fill="#472d7b"/>
<circle cx="133.04" cy="157.63" r="1.16" fill="#423f85"/>
<circle cx="218.33" cy="181.02" r="1.16" fill="#440154"/>
<circle cx="100.77" cy="174.51" r="1.16" fill="#481467"/>
<circle cx="75.48" cy="179.26" r="1.16" fill="#450559"/>
<circle cx="143.78" cy="108.01" r="1.16" fill="#20a486"/>
<circle cx="144.86" cy="116.03" r="1.16" fill="#1f958b"/>
<circle cx="86.1" cy="177.78" r="1.16" fill="#460b5e"/>
<circle cx="64.85" cy="180.4" r="1.16" fill="#440256"/>
<circle cx="137.08" cy="154.53" r="1.16" fill="#3f4788"/>
<circle cx="142.7" cy="99.51" r="1.16" fill="#31b57b"/>
<circle cx="123.5" cy="165.94" r="1.16" fill="#472c7a"/>
<circle cx="119.46" cy="168.09" r="1.16" fill="#482677"/>
<circle cx="144.07" cy="141.88" r="1.16" fill="#33638d"/>
<circle cx="145.95" cy="123.57" r="1.16" fill="#24878e"/>
<circle cx="96.73" cy="175.89" r="1.16" fill="#471164"/>
<circle cx="54.2" cy="181.28" r="1.16" fill="#440154"/>
<circle cx="127.54" cy="163.59" r="1.16" fill="#46327e"/>
<circle cx="115.43" cy="170.06" r="1.16" fill="#482173"/>
<circle cx="145.55" cy="136.54" r="1.16" fill="#2e6e8e"/>
<circle cx="142.6" cy="146.72" r="1.16" fill="#375a8c"/>
<circle cx="111.39" cy="171.86" r="1.16" fill="#481c6e"/>
<circle cx="131.57" cy="161.03" r="1.16" fill="#453882"/>
<circle cx="82.05" cy="178.85" r="1.16" fill="#46085c"/>
<circle cx="71.42" cy="180.16" r="1.16" fill="#450559"/>
<circle cx="141.63" cy="90.55" r="1.16" fill="#50c46a"/>
<circle cx="92.68" cy="177.16" r="1.16" fill="#470e61"/>
<circle cx="141.13" cy="151.14" r="1.16" fill="#3c508b"/>
<circle cx="147.04" cy="130.64" r="1.16" fill="#297a8e"/>
<circle cx="60.78" cy="181.18" r="1.16" fill="#440256"/>
<circle cx="107.35" cy="173.51" r="1.16" fill="#48186a"/>
<circle cx="135.61" cy="158.23" r="1.16" fill="#424086"/>
<circle cx="214.78" cy="167.71" r="1.16" fill="#482878"/>
<circle cx="215.87" cy="175.65" r="1.16" fill="#471365"/>
<circle cx="50.13" cy="181.97" r="1.16" fill="#440154"/>
<circle cx="103.31" cy="175.03" r="1.16" fill="#481668"/>
<circle cx="77.99" cy="179.84" r="1.16" fill="#46075a"/>
<circle cx="88.63" cy="178.33" r="1.16" fill="#460b5e"/>
<circle cx="67.35" cy="181.01" r="1.16" fill="#450457"/>
<circle cx="140.55" cy="81.14" r="1.16" fill="#7fd34e"/>
<circle cx="139.66" cy="155.19" r="1.16" fill="#3f4788"/>
<circle cx="147.45" cy="116.33" r="1.16" fill="#1f968b"/>
<circle cx="146.65" cy="142.61" r="1.16" fill="#33638d"/>
<circle cx="146.37" cy="108.01" r="1.16" fill="#21a685"/>
<circle cx="126.06" cy="166.5" r="1.16" fill="#472d7b"/>
<circle cx="122.02" cy="168.64" r="1.16" fill="#482677"/>
<circle cx="148.53" cy="124.11" r="1.16" fill="#24878e"/>
<circle cx="148.13" cy="137.27" r="1.16" fill="#2e6e8e"/>
<circle cx="56.7" cy="181.92" r="1.16" fill="#440154"/>
<circle cx="99.26" cy="176.43" r="1.16" fill="#471164"/>
<circle cx="145.18" cy="147.47" r="1.16" fill="#375a8c"/>
<circle cx="130.1" cy="164.18" r="1.16" fill="#46327e"/>
<circle cx="213.75" cy="158.29" r="1.16" fill="#424086"/>
<circle cx="117.98" cy="170.6" r="1.16" fill="#482173"/>
<circle cx="217" cy="182.36" r="1.16" fill="#440154"/>
<circle cx="134.14" cy="161.65" r="1.16" fill="#443983"/>
<circle cx="113.94" cy="172.4" r="1.16" fill="#481d6f"/>
<circle cx="84.57" cy="179.42" r="1.16" fill="#460a5d"/>
<circle cx="73.93" cy="180.77" r="1.16" fill="#450559"/>
<circle cx="145.29" cy="99.15" r="1.16" fill="#34b679"/>
<circle cx="143.71" cy="151.89" r="1.16" fill="#3c508b"/>
<circle cx="149.62" cy="131.37" r="1.16" fill="#297a8e"/>
<circle cx="95.21" cy="177.71" r="1.16" fill="#470e61"/>
<circle cx="63.28" cy="181.81" r="1.16" fill="#440256"/>
<circle cx="138.19" cy="158.91" r="1.16" fill="#424086"/>
<circle cx="109.9" cy="174.05" r="1.16" fill="#481a6c"/>
<circle cx="139.48" cy="71.33" r="1.16" fill="#b5de2b"/>
<circle cx="213.4" cy="170.29" r="1.16" fill="#482475"/>
<circle cx="52.62" cy="182.63" r="1.16" fill="#440154"/>
<circle cx="105.85" cy="175.58" r="1.16" fill="#481668"/>
<circle cx="80.51" cy="180.43" r="1.16" fill="#46075a"/>
<circle cx="212.33" cy="161.75" r="1.16" fill="#443a83"/>
<circle cx="142.23" cy="155.94" r="1.16" fill="#3f4788"/>
<circle cx="149.24" cy="143.47" r="1.16" fill="#33638d"/>
<circle cx="91.16" cy="178.9" r="1.16" fill="#470d60"/>
<circle cx="69.86" cy="181.63" r="1.16" fill="#450457"/>
<circle cx="144.22" cy="89.74" r="1.16" fill="#58c765"/>
<circle cx="150.72" cy="138.14" r="1.16" fill="#2e6e8e"/>
<circle cx="150.03" cy="116.84" r="1.16" fill="#1f968b"/>
<circle cx="147.76" cy="148.32" r="1.16" fill="#38598c"/>
<circle cx="214.51" cy="177.54" r="1.16" fill="#471164"/>
<circle cx="151.12" cy="124.83" r="1.16" fill="#24878e"/>
<circle cx="128.63" cy="167.11" r="1.16" fill="#472d7b"/>
<circle cx="124.59" cy="169.23" r="1.16" fill="#482878"/>
<circle cx="59.2" cy="182.57" r="1.16" fill="#440256"/>
<circle cx="132.67" cy="164.82" r="1.16" fill="#46337f"/>
<circle cx="101.8" cy="176.98" r="1.16" fill="#471365"/>
<circle cx="120.54" cy="171.17" r="1.16" fill="#482374"/>
<circle cx="148.95" cy="108.25" r="1.16" fill="#22a785"/>
<circle cx="136.72" cy="162.34" r="1.16" fill="#443983"/>
<circle cx="152.21" cy="132.26" r="1.16" fill="#29798e"/>
<circle cx="146.29" cy="152.73" r="1.16" fill="#3c508b"/>
<circle cx="116.5" cy="172.97" r="1.16" fill="#481f70"/>
<circle cx="87.1" cy="180" r="1.16" fill="#460a5d"/>
<circle cx="76.45" cy="181.37" r="1.16" fill="#450559"/>
<circle cx="48.53" cy="183.31" r="1.16" fill="#440154"/>
<circle cx="140.77" cy="159.66" r="1.16" fill="#424086"/>
<circle cx="65.79" cy="182.45" r="1.16" fill="#440256"/>
<circle cx="97.75" cy="178.28" r="1.16" fill="#471063"/>
<circle cx="112.45" cy="174.62" r="1.16" fill="#481b6d"/>
<circle cx="147.88" cy="99.05" r="1.16" fill="#38b977"/>
<circle cx="210.92" cy="164.96" r="1.16" fill="#46337f"/>
<circle cx="211.32" cy="151.68" r="1.16" fill="#3b528b"/>
<circle cx="143.15" cy="79.78" r="1.16" fill="#8bd646"/>
<circle cx="55.12" cy="183.29" r="1.16" fill="#440154"/>
<circle cx="151.82" cy="144.46" r="1.16" fill="#33628d"/>
<circle cx="144.82" cy="156.77" r="1.16" fill="#3f4788"/>
<circle cx="153.31" cy="139.16" r="1.16" fill="#2e6d8e"/>
<circle cx="212.02" cy="172.72" r="1.16" fill="#482071"/>
<circle cx="108.4" cy="176.15" r="1.16" fill="#481769"/>
<circle cx="215.67" cy="183.7" r="1.16" fill="#440154"/>
<circle cx="83.04" cy="181.03" r="1.16" fill="#46085c"/>
<circle cx="150.35" cy="149.27" r="1.16" fill="#38598c"/>
<circle cx="153.71" cy="125.73" r="1.16" fill="#24878e"/>
<circle cx="72.38" cy="182.26" r="1.16" fill="#450559"/>
<circle cx="152.62" cy="117.55" r="1.16" fill="#1f968b"/>
<circle cx="93.69" cy="179.48" r="1.16" fill="#470d60"/>
<circle cx="131.2" cy="167.78" r="1.16" fill="#472d7b"/>
<circle cx="135.25" cy="165.53" r="1.16" fill="#46337f"/>
<circle cx="127.15" cy="169.86" r="1.16" fill="#482878"/>
<circle cx="61.71" cy="183.22" r="1.16" fill="#440256"/>
<circle cx="209.87" cy="155.84" r="1.16" fill="#3e4a89"/>
<circle cx="154.8" cy="133.3" r="1.16" fill="#29798e"/>
<circle cx="104.35" cy="177.56" r="1.16" fill="#481467"/>
<circle cx="148.87" cy="153.67" r="1.16" fill="#3c4f8a"/>
<circle cx="123.11" cy="171.79" r="1.16" fill="#482374"/>
<circle cx="139.3" cy="163.1" r="1.16" fill="#443983"/>
<circle cx="151.55" cy="108.73" r="1.16" fill="#22a884"/>
<circle cx="119.06" cy="173.57" r="1.16" fill="#481f70"/>
<circle cx="51.03" cy="183.99" r="1.16" fill="#440154"/>
<circle cx="78.97" cy="181.99" r="1.16" fill="#46075a"/>
<circle cx="146.81" cy="89.21" r="1.16" fill="#60ca60"/>
<circle cx="143.35" cy="160.49" r="1.16" fill="#424086"/>
<circle cx="89.63" cy="180.6" r="1.16" fill="#460b5e"/>
<circle cx="213.15" cy="179.36" r="1.16" fill="#470e61"/>
<circle cx="68.3" cy="183.09" r="1.16" fill="#450457"/>
<circle cx="154.41" cy="145.56" r="1.16" fill="#34618d"/>
<circle cx="100.29" cy="178.86" r="1.16" fill="#471063"/>
<circle cx="155.9" cy="140.31" r="1.16" fill="#2f6c8e"/>
<circle cx="115.01" cy="175.22" r="1.16" fill="#481b6d"/>
<circle cx="209.51" cy="167.94" r="1.16" fill="#472e7c"/>
<circle cx="147.4" cy="157.69" r="1.16" fill="#3f4788"/>
<circle cx="208.44" cy="159.67" r="1.16" fill="#414287"/>
<circle cx="152.93" cy="150.34" r="1.16" fill="#38588c"/>
<circle cx="156.3" cy="126.82" r="1.16" fill="#24868e"/>
<circle cx="142.08" cy="69.3" r="1.16" fill="#c8e020"/>
<circle cx="57.62" cy="183.96" r="1.16" fill="#440154"/>
<circle cx="155.21" cy="118.48" r="1.16" fill="#1f968b"/>
<circle cx="150.48" cy="99.21" r="1.16" fill="#3aba76"/>
<circle cx="157.39" cy="134.51" r="1.16" fill="#2a778e"/>
<circle cx="110.96" cy="176.74" r="1.16" fill="#481769"/>
<circle cx="85.57" cy="181.64" r="1.16" fill="#46085c"/>
<circle cx="74.9" cy="182.89" r="1.16" fill="#450559"/>
<circle cx="96.24" cy="180.08" r="1.16" fill="#470e61"/>
<circle cx="151.46" cy="154.7" r="1.16" fill="#3d4e8a"/>
<circle cx="46.94" cy="184.65" r="1.16" fill="#440154"/>
<circle cx="133.78" cy="168.49" r="1.16" fill="#472d7b"/>
<circle cx="210.64" cy="175.03" r="1.16" fill="#481c6e"/>
<circle cx="137.83" cy="166.29" r="1.16" fill="#46337f"/>
<circle cx="129.73" cy="170.54" r="1.16" fill="#482878"/>
<circle cx="64.22" cy="183.88" r="1.16" fill="#440256"/>
<circle cx="141.88" cy="163.92" r="1.16" fill="#443983"/>
<circle cx="154.14" cy="109.43" r="1.16" fill="#22a884"/>
<circle cx="125.67" cy="172.44" r="1.16" fill="#482475"/>
<circle cx="106.9" cy="178.16" r="1.16" fill="#481467"/>
<circle cx="208.88" cy="145.14" r="1.16" fill="#33638d"/>
<circle cx="157" cy="146.79" r="1.16" fill="#34608d"/>
<circle cx="145.93" cy="161.39" r="1.16" fill="#423f85"/>
<circle cx="158.49" cy="141.6" r="1.16" fill="#2f6b8e"/>
<circle cx="207.4" cy="150.01" r="1.16" fill="#38598c"/>
<circle cx="53.53" cy="184.67" r="1.16" fill="#440154"/>
<circle cx="207.01" cy="163.19" r="1.16" fill="#443b84"/>
<circle cx="121.62" cy="174.2" r="1.16" fill="#481f70"/>
<circle cx="145.75" cy="78.74" r="1.16" fill="#95d840"/>
<circle cx="81.5" cy="182.61" r="1.16" fill="#46075a"/>
<circle cx="158.89" cy="128.08" r="1.16" fill="#25848e"/>
<circle cx="92.17" cy="181.2" r="1.16" fill="#460b5e"/>
<circle cx="155.53" cy="151.51" r="1.16" fill="#39568c"/>
<circle cx="214.33" cy="185.04" r="1.16" fill="#440154"/>
<circle cx="149.99" cy="158.69" r="1.16" fill="#404688"/>
<circle cx="70.82" cy="183.73" r="1.16" fill="#450457"/>
<circle cx="159.98" cy="135.87" r="1.16" fill="#2a768e"/>
<circle cx="157.81" cy="119.61" r="1.16" fill="#1f958b"/>
<circle cx="102.84" cy="179.47" r="1.16" fill="#471164"/>
<circle cx="117.57" cy="175.84" r="1.16" fill="#481b6d"/>
<circle cx="208.11" cy="170.72" r="1.16" fill="#482979"/>
<circle cx="205.94" cy="154.45" r="1.16" fill="#3c508b"/>
<circle cx="60.13" cy="184.63" r="1.16" fill="#440256"/>
<circle cx="149.42" cy="88.99" r="1.16" fill="#65cb5e"/>
<circle cx="154.05" cy="155.82" r="1.16" fill="#3d4d8a"/>
<circle cx="113.51" cy="177.36" r="1.16" fill="#48186a"/>
<circle cx="153.08" cy="99.65" r="1.16" fill="#3bbb75"/>
<circle cx="88.1" cy="182.25" r="1.16" fill="#460a5d"/>
<circle cx="211.79" cy="181.13" r="1.16" fill="#470d60"/>
<circle cx="77.42" cy="183.52" r="1.16" fill="#450559"/>
<circle cx="161.08" cy="143.02" r="1.16" fill="#30698e"/>
<circle cx="159.6" cy="148.13" r="1.16" fill="#355e8d"/>
<circle cx="140.41" cy="167.1" r="1.16" fill="#46337f"/>
<circle cx="136.36" cy="169.25" r="1.16" fill="#472d7b"/>
<circle cx="98.78" cy="180.69" r="1.16" fill="#470e61"/>
<circle cx="49.44" cy="185.34" r="1.16" fill="#440154"/>
<circle cx="144.47" cy="164.81" r="1.16" fill="#453882"/>
<circle cx="156.74" cy="110.38" r="1.16" fill="#22a785"/>
<circle cx="132.3" cy="171.26" r="1.16" fill="#482878"/>
<circle cx="161.48" cy="129.53" r="1.16" fill="#26828e"/>
<circle cx="66.74" cy="184.54" r="1.16" fill="#450457"/>
<circle cx="204.5" cy="158.51" r="1.16" fill="#3f4788"/>
<circle cx="148.52" cy="162.37" r="1.16" fill="#423f85"/>
<circle cx="162.57" cy="137.38" r="1.16" fill="#2c738e"/>
<circle cx="158.12" cy="152.79" r="1.16" fill="#3a548c"/>
<circle cx="205.59" cy="166.46" r="1.16" fill="#463480"/>
<circle cx="128.25" cy="173.13" r="1.16" fill="#482475"/>
<circle cx="109.46" cy="178.77" r="1.16" fill="#481467"/>
<circle cx="160.4" cy="120.94" r="1.16" fill="#20938c"/>
<circle cx="209.26" cy="177.22" r="1.16" fill="#481a6c"/>
<circle cx="152.58" cy="159.77" r="1.16" fill="#404588"/>
<circle cx="56.04" cy="185.35" r="1.16" fill="#440154"/>
<circle cx="124.19" cy="174.87" r="1.16" fill="#482071"/>
<circle cx="84.03" cy="183.24" r="1.16" fill="#46085c"/>
<circle cx="94.71" cy="181.82" r="1.16" fill="#470d60"/>
<circle cx="73.34" cy="184.38" r="1.16" fill="#450559"/>
<circle cx="204.93" cy="144.27" r="1.16" fill="#31678e"/>
<circle cx="163.67" cy="144.58" r="1.16" fill="#31668e"/>
<circle cx="156.65" cy="157.04" r="1.16" fill="#3e4c8a"/>
<circle cx="203.45" cy="149.31" r="1.16" fill="#365d8d"/>
<circle cx="105.4" cy="180.09" r="1.16" fill="#471164"/>
<circle cx="120.14" cy="176.49" r="1.16" fill="#481c6e"/>
<circle cx="162.19" cy="149.6" r="1.16" fill="#365c8d"/>
<circle cx="144.69" cy="67.63" r="1.16" fill="#d8e219"/>
<circle cx="164.07" cy="131.15" r="1.16" fill="#26818e"/>
<circle cx="45.33" cy="186" r="1.16" fill="#440154"/>
<circle cx="206.43" cy="138.71" r="1.16" fill="#2c728e"/>
<circle cx="206.72" cy="173.34" r="1.16" fill="#482475"/>
<circle cx="203.06" cy="162.25" r="1.16" fill="#424086"/>
<circle cx="62.65" cy="185.3" r="1.16" fill="#440256"/>
<circle cx="165.16" cy="139.05" r="1.16" fill="#2c718e"/>
<circle cx="159.33" cy="111.56" r="1.16" fill="#21a685"/>
<circle cx="201.98" cy="153.9" r="1.16" fill="#3a538b"/>
<circle cx="155.68" cy="100.35" r="1.16" fill="#3bbb75"/>
<circle cx="160.71" cy="154.17" r="1.16" fill="#3b528b"/>
<circle cx="163" cy="122.48" r="1.16" fill="#20928c"/>
<circle cx="143" cy="167.98" r="1.16" fill="#46327e"/>
<circle cx="147.06" cy="165.76" r="1.16" fill="#453882"/>
<circle cx="116.08" cy="178.01" r="1.16" fill="#48186a"/>
<circle cx="148.36" cy="78.03" r="1.16" fill="#a0da39"/>
<circle cx="138.94" cy="170.07" r="1.16" fill="#472d7b"/>
<circle cx="90.64" cy="182.88" r="1.16" fill="#460a5d"/>
<circle cx="152.02" cy="89.07" r="1.16" fill="#69cd5b"/>
<circle cx="79.95" cy="184.17" r="1.16" fill="#46075a"/>
<circle cx="151.12" cy="163.41" r="1.16" fill="#433e85"/>
<circle cx="51.94" cy="186.04" r="1.16" fill="#440154"/>
<circle cx="101.33" cy="181.31" r="1.16" fill="#471063"/>
<circle cx="134.88" cy="172.02" r="1.16" fill="#482878"/>
<circle cx="204.17" cy="169.49" r="1.16" fill="#472f7d"/>
<circle cx="155.18" cy="160.94" r="1.16" fill="#414487"/>
<circle cx="166.27" cy="146.26" r="1.16" fill="#32648e"/>
<circle cx="69.26" cy="185.2" r="1.16" fill="#450457"/>
<circle cx="166.67" cy="132.94" r="1.16" fill="#277e8e"/>
<circle cx="212.99" cy="186.39" r="1.16" fill="#440154"/>
<circle cx="130.83" cy="173.86" r="1.16" fill="#482475"/>
<circle cx="164.79" cy="151.17" r="1.16" fill="#375a8c"/>
<circle cx="167.76" cy="140.86" r="1.16" fill="#2e6f8e"/>
<circle cx="200.52" cy="158.1" r="1.16" fill="#3e4a89"/>
<circle cx="112.02" cy="179.41" r="1.16" fill="#481668"/>
<circle cx="159.24" cy="158.34" r="1.16" fill="#3e4a89"/>
<circle cx="58.55" cy="186.03" r="1.16" fill="#440256"/>
<circle cx="126.77" cy="175.57" r="1.16" fill="#482071"/>
<circle cx="165.59" cy="124.22" r="1.16" fill="#218f8d"/>
<circle cx="210.43" cy="182.85" r="1.16" fill="#460b5e"/>
<circle cx="86.57" cy="183.88" r="1.16" fill="#46085c"/>
<circle cx="201.63" cy="165.69" r="1.16" fill="#443983"/>
<circle cx="97.26" cy="182.45" r="1.16" fill="#470d60"/>
<circle cx="161.93" cy="112.98" r="1.16" fill="#20a486"/>
<circle cx="200.94" cy="144.28" r="1.16" fill="#31688e"/>
<circle cx="199.45" cy="149.39" r="1.16" fill="#355e8d"/>
<circle cx="163.31" cy="155.64" r="1.16" fill="#3c508b"/>
<circle cx="75.87" cy="185.04" r="1.16" fill="#450559"/>
<circle cx="169.26" cy="134.9" r="1.16" fill="#297b8e"/>
<circle cx="122.71" cy="177.18" r="1.16" fill="#481c6e"/>
<circle cx="107.95" cy="180.73" r="1.16" fill="#471365"/>
<circle cx="168.86" cy="148.08" r="1.16" fill="#34618d"/>
<circle cx="207.88" cy="179.32" r="1.16" fill="#481769"/>
<circle cx="170.35" cy="142.82" r="1.16" fill="#2f6c8e"/>
<circle cx="47.84" cy="186.71" r="1.16" fill="#440154"/>
<circle cx="202.44" cy="138.64" r="1.16" fill="#2c738e"/>
<circle cx="197.98" cy="154.04" r="1.16" fill="#3a548c"/>
<circle cx="158.28" cy="101.32" r="1.16" fill="#3aba76"/>
<circle cx="65.17" cy="185.98" r="1.16" fill="#440256"/>
<circle cx="149.65" cy="166.78" r="1.16" fill="#453781"/>
<circle cx="145.59" cy="168.91" r="1.16" fill="#46327e"/>
<circle cx="167.38" cy="152.86" r="1.16" fill="#38588c"/>
<circle cx="153.71" cy="164.53" r="1.16" fill="#433d84"/>
<circle cx="199.08" cy="161.96" r="1.16" fill="#414287"/>
<circle cx="141.53" cy="170.93" r="1.16" fill="#472d7b"/>
<circle cx="168.18" cy="126.16" r="1.16" fill="#228c8d"/>
<circle cx="157.78" cy="162.18" r="1.16" fill="#414287"/>
<circle cx="205.32" cy="175.8" r="1.16" fill="#482071"/>
<circle cx="118.65" cy="178.68" r="1.16" fill="#48186a"/>
<circle cx="171.85" cy="137.02" r="1.16" fill="#2a778e"/>
<circle cx="93.19" cy="183.52" r="1.16" fill="#460b5e"/>
<circle cx="137.47" cy="172.84" r="1.16" fill="#482878"/>
<circle cx="161.84" cy="159.74" r="1.16" fill="#3f4889"/>
<circle cx="82.49" cy="184.82" r="1.16" fill="#46075a"/>
<circle cx="54.45" cy="186.73" r="1.16" fill="#440154"/>
<circle cx="164.53" cy="114.63" r="1.16" fill="#1fa287"/>
<circle cx="154.62" cy="89.46" r="1.16" fill="#6ccd5a"/>
<circle cx="103.89" cy="181.95" r="1.16" fill="#471063"/>
<circle cx="172.94" cy="144.91" r="1.16" fill="#31688e"/>
<circle cx="171.46" cy="150.01" r="1.16" fill="#355e8d"/>
<circle cx="196.52" cy="158.3" r="1.16" fill="#3e4c8a"/>
<circle cx="196.92" cy="144.99" r="1.16" fill="#31688e"/>
<circle cx="202.76" cy="172.33" r="1.16" fill="#472a7a"/>
<circle cx="165.91" cy="157.22" r="1.16" fill="#3d4e8a"/>
<circle cx="133.41" cy="174.63" r="1.16" fill="#482475"/>
<circle cx="195.44" cy="150.08" r="1.16" fill="#355e8d"/>
<circle cx="71.78" cy="185.87" r="1.16" fill="#450457"/>
<circle cx="203.96" cy="132.41" r="1.16" fill="#26818e"/>
<circle cx="170.77" cy="128.28" r="1.16" fill="#23888e"/>
<circle cx="174.44" cy="139.29" r="1.16" fill="#2c738e"/>
<circle cx="114.58" cy="180.08" r="1.16" fill="#481668"/>
<circle cx="169.98" cy="154.65" r="1.16" fill="#3a548c"/>
<circle cx="198.42" cy="139.37" r="1.16" fill="#2c738e"/>
<circle cx="200.2" cy="168.89" r="1.16" fill="#46337f"/>
<circle cx="150.97" cy="77.67" r="1.16" fill="#a8db34"/>
<circle cx="129.35" cy="176.31" r="1.16" fill="#482071"/>
<circle cx="43.73" cy="187.35" r="1.16" fill="#440154"/>
<circle cx="193.96" cy="154.72" r="1.16" fill="#3a548c"/>
<circle cx="61.07" cy="186.72" r="1.16" fill="#440256"/>
<circle cx="175.53" cy="147.13" r="1.16" fill="#32648e"/>
<circle cx="147.31" cy="66.33" r="1.16" fill="#e5e419"/>
<circle cx="160.88" cy="102.56" r="1.16" fill="#38b977"/>
<circle cx="89.11" cy="184.53" r="1.16" fill="#46085c"/>
<circle cx="174.05" cy="152.06" r="1.16" fill="#375a8c"/>
<circle cx="99.81" cy="183.1" r="1.16" fill="#470d60"/>
<circle cx="177.03" cy="141.72" r="1.16" fill="#2e6f8e"/>
<circle cx="197.64" cy="165.51" r="1.16" fill="#443b84"/>
<circle cx="173.36" cy="130.59" r="1.16" fill="#25848e"/>
<circle cx="167.12" cy="116.51" r="1.16" fill="#1f9f88"/>
<circle cx="192.89" cy="146.23" r="1.16" fill="#31668e"/>
<circle cx="78.4" cy="185.7" r="1.16" fill="#450559"/>
<circle cx="156.31" cy="165.72" r="1.16" fill="#443b84"/>
<circle cx="191.4" cy="151.24" r="1.16" fill="#365c8d"/>
<circle cx="160.38" cy="163.5" r="1.16" fill="#424086"/>
<circle cx="152.25" cy="167.86" r="1.16" fill="#453581"/>
<circle cx="125.29" cy="177.89" r="1.16" fill="#481c6e"/>
<circle cx="164.44" cy="161.22" r="1.16" fill="#404688"/>
<circle cx="110.52" cy="181.38" r="1.16" fill="#471365"/>
<circle cx="148.19" cy="169.9" r="1.16" fill="#46307e"/>
<circle cx="195.07" cy="162.2" r="1.16" fill="#414487"/>
<circle cx="178.12" cy="149.48" r="1.16" fill="#34608d"/>
<circle cx="179.61" cy="144.28" r="1.16" fill="#306a8e"/>
<circle cx="50.35" cy="187.41" r="1.16" fill="#440154"/>
<circle cx="194.38" cy="140.71" r="1.16" fill="#2c718e"/>
<circle cx="168.51" cy="158.89" r="1.16" fill="#3e4c8a"/>
<circle cx="175.95" cy="133.07" r="1.16" fill="#27808e"/>
<circle cx="144.12" cy="171.85" r="1.16" fill="#472d7b"/>
<circle cx="188.84" cy="147.88" r="1.16" fill="#33638d"/>
<circle cx="67.69" cy="186.66" r="1.16" fill="#450457"/>
<circle cx="192.5" cy="158.96" r="1.16" fill="#3e4c8a"/>
<circle cx="172.58" cy="156.54" r="1.16" fill="#3b518b"/>
<circle cx="199.94" cy="133.16" r="1.16" fill="#27808e"/>
<circle cx="182.2" cy="146.99" r="1.16" fill="#32658e"/>
<circle cx="189.93" cy="155.81" r="1.16" fill="#3b528b"/>
<circle cx="176.65" cy="154.21" r="1.16" fill="#39558c"/>
<circle cx="211.64" cy="187.74" r="1.16" fill="#440154"/>
<circle cx="190.33" cy="142.5" r="1.16" fill="#2e6e8e"/>
<circle cx="184.78" cy="149.81" r="1.16" fill="#355f8d"/>
<circle cx="178.53" cy="135.73" r="1.16" fill="#297b8e"/>
<circle cx="186.27" cy="144.63" r="1.16" fill="#306a8e"/>
<circle cx="187.36" cy="152.76" r="1.16" fill="#38598c"/>
<circle cx="180.71" cy="151.95" r="1.16" fill="#375b8d"/>
<circle cx="169.71" cy="118.6" r="1.16" fill="#1e9c89"/>
<circle cx="140.06" cy="173.69" r="1.16" fill="#482878"/>
<circle cx="121.22" cy="179.37" r="1.16" fill="#481a6c"/>
<circle cx="181.11" cy="138.55" r="1.16" fill="#2b758e"/>
<circle cx="183.69" cy="141.52" r="1.16" fill="#2d708e"/>
<circle cx="209.07" cy="184.53" r="1.16" fill="#460a5d"/>
<circle cx="95.74" cy="184.17" r="1.16" fill="#460b5e"/>
<circle cx="157.23" cy="90.15" r="1.16" fill="#6ccd5a"/>
<circle cx="85.03" cy="185.47" r="1.16" fill="#46075a"/>
<circle cx="56.97" cy="187.43" r="1.16" fill="#440154"/>
<circle cx="206.5" cy="181.33" r="1.16" fill="#481467"/>
<circle cx="183.3" cy="154.53" r="1.16" fill="#39558c"/>
<circle cx="106.45" cy="182.61" r="1.16" fill="#471063"/>
<circle cx="163.48" cy="104.07" r="1.16" fill="#34b679"/>
<circle cx="136" cy="175.44" r="1.16" fill="#482475"/>
<circle cx="195.9" cy="134.6" r="1.16" fill="#277e8e"/>
<circle cx="187.77" cy="138.91" r="1.16" fill="#2b758e"/>
<circle cx="203.93" cy="178.14" r="1.16" fill="#481c6e"/>
<circle cx="179.24" cy="156.48" r="1.16" fill="#3b518b"/>
<circle cx="74.31" cy="186.54" r="1.16" fill="#450457"/>
<circle cx="172.3" cy="120.92" r="1.16" fill="#1f978b"/>
<circle cx="185.89" cy="157.21" r="1.16" fill="#3c508b"/>
<circle cx="191.84" cy="136.57" r="1.16" fill="#297a8e"/>
<circle cx="175.18" cy="158.53" r="1.16" fill="#3d4d8a"/>
<circle cx="201.36" cy="174.98" r="1.16" fill="#482576"/>
<circle cx="171.11" cy="160.65" r="1.16" fill="#3f4889"/>
<circle cx="167.04" cy="162.78" r="1.16" fill="#414487"/>
<circle cx="188.47" cy="159.99" r="1.16" fill="#3e4989"/>
<circle cx="117.15" cy="180.76" r="1.16" fill="#481668"/>
<circle cx="198.78" cy="171.87" r="1.16" fill="#472d7b"/>
<circle cx="162.98" cy="164.9" r="1.16" fill="#423f85"/>
<circle cx="185.2" cy="135.48" r="1.16" fill="#287c8e"/>
<circle cx="191.05" cy="162.85" r="1.16" fill="#414487"/>
<circle cx="196.21" cy="168.8" r="1.16" fill="#453581"/>
<circle cx="131.93" cy="177.09" r="1.16" fill="#482071"/>
<circle cx="158.91" cy="166.98" r="1.16" fill="#443983"/>
<circle cx="193.63" cy="165.79" r="1.16" fill="#433d84"/>
<circle cx="46.23" cy="188.07" r="1.16" fill="#440154"/>
<circle cx="174.89" cy="123.45" r="1.16" fill="#20938c"/>
<circle cx="63.59" cy="187.41" r="1.16" fill="#440256"/>
<circle cx="154.85" cy="169" r="1.16" fill="#463480"/>
<circle cx="181.83" cy="158.84" r="1.16" fill="#3d4d8a"/>
<circle cx="182.63" cy="132.2" r="1.16" fill="#26828e"/>
<circle cx="177.48" cy="126.17" r="1.16" fill="#218e8d"/>
<circle cx="150.78" cy="170.94" r="1.16" fill="#46307e"/>
<circle cx="91.66" cy="185.19" r="1.16" fill="#460a5d"/>
<circle cx="180.06" cy="129.09" r="1.16" fill="#23888e"/>
<circle cx="102.37" cy="183.76" r="1.16" fill="#470e61"/>
<circle cx="201.49" cy="126.26" r="1.16" fill="#218e8d"/>
<circle cx="80.94" cy="186.37" r="1.16" fill="#46075a"/>
<circle cx="166.08" cy="105.85" r="1.16" fill="#31b57b"/>
<circle cx="177.77" cy="160.62" r="1.16" fill="#3e4989"/>
<circle cx="127.87" cy="178.64" r="1.16" fill="#481c6e"/>
<circle cx="153.58" cy="77.65" r="1.16" fill="#addc30"/>
<circle cx="189.29" cy="132.59" r="1.16" fill="#26828e"/>
<circle cx="146.72" cy="172.81" r="1.16" fill="#472c7a"/>
<circle cx="184.42" cy="161.29" r="1.16" fill="#3f4788"/>
<circle cx="113.08" cy="182.06" r="1.16" fill="#471365"/>
<circle cx="52.86" cy="188.12" r="1.16" fill="#440154"/>
<circle cx="173.71" cy="162.49" r="1.16" fill="#404588"/>
<circle cx="70.22" cy="187.34" r="1.16" fill="#450457"/>
<circle cx="197.44" cy="127.83" r="1.16" fill="#228b8d"/>
<circle cx="193.37" cy="129.99" r="1.16" fill="#24878e"/>
<circle cx="142.66" cy="174.59" r="1.16" fill="#482878"/>
<circle cx="169.65" cy="164.42" r="1.16" fill="#424086"/>
<circle cx="187.01" cy="163.82" r="1.16" fill="#414287"/>
<circle cx="159.84" cy="91.15" r="1.16" fill="#69cd5b"/>
<circle cx="123.8" cy="180.1" r="1.16" fill="#481a6c"/>
<circle cx="165.58" cy="166.37" r="1.16" fill="#433d84"/>
<circle cx="180.37" cy="162.79" r="1.16" fill="#404588"/>
<circle cx="186.73" cy="128.77" r="1.16" fill="#238a8d"/>
<circle cx="168.67" cy="107.88" r="1.16" fill="#2cb17e"/>
<circle cx="98.29" cy="184.84" r="1.16" fill="#460b5e"/>
<circle cx="189.6" cy="166.43" r="1.16" fill="#433d84"/>
<circle cx="138.59" cy="176.29" r="1.16" fill="#482475"/>
<circle cx="59.48" cy="188.13" r="1.16" fill="#440256"/>
<circle cx="42.12" cy="188.71" r="1.16" fill="#440154"/>
<circle cx="87.57" cy="186.14" r="1.16" fill="#46085c"/>
<circle cx="161.52" cy="168.3" r="1.16" fill="#453882"/>
<circle cx="149.92" cy="65.42" r="1.16" fill="#efe51c"/>
<circle cx="109.01" cy="183.29" r="1.16" fill="#471164"/>
<circle cx="192.19" cy="169.12" r="1.16" fill="#453581"/>
<circle cx="76.85" cy="187.22" r="1.16" fill="#450559"/>
<circle cx="157.45" cy="170.2" r="1.16" fill="#46337f"/>
<circle cx="176.31" cy="164.42" r="1.16" fill="#424186"/>
<circle cx="194.78" cy="171.86" r="1.16" fill="#472f7d"/>
<circle cx="184.17" cy="125.14" r="1.16" fill="#20928c"/>
<circle cx="182.97" cy="165.04" r="1.16" fill="#424086"/>
<circle cx="119.73" cy="181.47" r="1.16" fill="#481769"/>
<circle cx="134.52" cy="177.89" r="1.16" fill="#482071"/>
<circle cx="171.27" cy="110.17" r="1.16" fill="#27ad81"/>
<circle cx="153.39" cy="172.04" r="1.16" fill="#472f7d"/>
<circle cx="197.37" cy="174.65" r="1.16" fill="#482878"/>
<circle cx="48.74" cy="188.79" r="1.16" fill="#440154"/>
<circle cx="199.95" cy="177.49" r="1.16" fill="#482173"/>
<circle cx="172.25" cy="166.14" r="1.16" fill="#433e85"/>
<circle cx="66.12" cy="188.1" r="1.16" fill="#440256"/>
<circle cx="190.83" cy="125.56" r="1.16" fill="#21918c"/>
<circle cx="202.54" cy="180.36" r="1.16" fill="#481a6c"/>
<circle cx="181.6" cy="121.71" r="1.16" fill="#1f988b"/>
<circle cx="205.12" cy="183.26" r="1.16" fill="#471164"/>
<circle cx="173.86" cy="112.71" r="1.16" fill="#23a983"/>
<circle cx="207.7" cy="186.18" r="1.16" fill="#46085c"/>
<circle cx="149.32" cy="173.82" r="1.16" fill="#472a7a"/>
<circle cx="94.21" cy="185.86" r="1.16" fill="#460a5d"/>
<circle cx="210.29" cy="189.1" r="1.16" fill="#440154"/>
<circle cx="104.93" cy="184.43" r="1.16" fill="#470e61"/>
<circle cx="185.57" cy="167.36" r="1.16" fill="#443b84"/>
<circle cx="162.44" cy="92.47" r="1.16" fill="#65cb5e"/>
<circle cx="179.02" cy="118.49" r="1.16" fill="#1f9e89"/>
<circle cx="130.45" cy="179.41" r="1.16" fill="#481c6e"/>
<circle cx="176.44" cy="115.48" r="1.16" fill="#20a486"/>
<circle cx="168.19" cy="167.91" r="1.16" fill="#443983"/>
<circle cx="83.48" cy="187.05" r="1.16" fill="#46075a"/>
<circle cx="178.92" cy="166.42" r="1.16" fill="#433e85"/>
<circle cx="115.66" cy="182.76" r="1.16" fill="#481467"/>
<circle cx="55.37" cy="188.83" r="1.16" fill="#440154"/>
<circle cx="145.25" cy="175.54" r="1.16" fill="#482677"/>
<circle cx="156.19" cy="77.98" r="1.16" fill="#b0dd2f"/>
<circle cx="194.92" cy="122.68" r="1.16" fill="#1f968b"/>
<circle cx="164.13" cy="169.69" r="1.16" fill="#453581"/>
<circle cx="72.75" cy="188.03" r="1.16" fill="#450457"/>
<circle cx="188.16" cy="169.75" r="1.16" fill="#453581"/>
<circle cx="199" cy="120.29" r="1.16" fill="#1e9b8a"/>
<circle cx="126.38" cy="180.85" r="1.16" fill="#481a6c"/>
<circle cx="174.86" cy="167.93" r="1.16" fill="#443a83"/>
<circle cx="160.06" cy="171.46" r="1.16" fill="#46327e"/>
<circle cx="141.19" cy="177.17" r="1.16" fill="#482374"/>
<circle cx="188.28" cy="121.32" r="1.16" fill="#1f998a"/>
<circle cx="181.52" cy="168.5" r="1.16" fill="#443983"/>
<circle cx="100.85" cy="185.52" r="1.16" fill="#470d60"/>
<circle cx="44.62" cy="189.44" r="1.16" fill="#440154"/>
<circle cx="62.01" cy="188.84" r="1.16" fill="#440256"/>
<circle cx="190.76" cy="172.2" r="1.16" fill="#46307e"/>
<circle cx="90.12" cy="186.82" r="1.16" fill="#46085c"/>
<circle cx="111.58" cy="183.98" r="1.16" fill="#471164"/>
<circle cx="155.99" cy="173.19" r="1.16" fill="#472e7c"/>
<circle cx="165.05" cy="94.08" r="1.16" fill="#60ca60"/>
<circle cx="170.8" cy="169.51" r="1.16" fill="#453781"/>
<circle cx="79.39" cy="187.9" r="1.16" fill="#450559"/>
<circle cx="137.12" cy="178.74" r="1.16" fill="#482071"/>
<circle cx="193.36" cy="174.71" r="1.16" fill="#472a7a"/>
<circle cx="122.31" cy="182.2" r="1.16" fill="#481769"/>
<circle cx="151.92" cy="174.89" r="1.16" fill="#472a7a"/>
<circle cx="51.26" cy="189.51" r="1.16" fill="#440154"/>
<circle cx="184.12" cy="170.64" r="1.16" fill="#463480"/>
<circle cx="68.65" cy="188.8" r="1.16" fill="#450457"/>
<circle cx="177.47" cy="169.79" r="1.16" fill="#453781"/>
<circle cx="166.73" cy="171.14" r="1.16" fill="#46337f"/>
<circle cx="185.72" cy="117.28" r="1.16" fill="#1fa187"/>
<circle cx="195.95" cy="177.26" r="1.16" fill="#482475"/>
<circle cx="133.04" cy="180.22" r="1.16" fill="#481c6e"/>
<circle cx="96.77" cy="186.54" r="1.16" fill="#460a5d"/>
<circle cx="107.5" cy="185.12" r="1.16" fill="#470e61"/>
<circle cx="152.54" cy="64.89" r="1.16" fill="#f6e620"/>
<circle cx="192.39" cy="117.73" r="1.16" fill="#1fa187"/>
<circle cx="147.86" cy="176.52" r="1.16" fill="#482677"/>
<circle cx="167.65" cy="96" r="1.16" fill="#58c765"/>
<circle cx="198.55" cy="179.86" r="1.16" fill="#481d6f"/>
<circle cx="86.03" cy="187.73" r="1.16" fill="#46075a"/>
<circle cx="118.24" cy="183.48" r="1.16" fill="#481467"/>
<circle cx="162.67" cy="172.77" r="1.16" fill="#472f7d"/>
<circle cx="57.9" cy="189.55" r="1.16" fill="#440256"/>
<circle cx="158.81" cy="78.67" r="1.16" fill="#b0dd2f"/>
<circle cx="40.5" cy="190.07" r="1.16" fill="#440154"/>
<circle cx="186.73" cy="172.83" r="1.16" fill="#472f7d"/>
<circle cx="173.41" cy="171.18" r="1.16" fill="#463480"/>
<circle cx="201.14" cy="182.48" r="1.16" fill="#481769"/>
<circle cx="183.16" cy="113.47" r="1.16" fill="#23a983"/>
<circle cx="75.29" cy="188.72" r="1.16" fill="#450457"/>
<circle cx="143.79" cy="178.1" r="1.16" fill="#482374"/>
<circle cx="128.97" cy="181.63" r="1.16" fill="#481a6c"/>
<circle cx="180.08" cy="171.71" r="1.16" fill="#46337f"/>
<circle cx="158.6" cy="174.4" r="1.16" fill="#472c7a"/>
<circle cx="170.25" cy="98.22" r="1.16" fill="#50c46a"/>
<circle cx="203.74" cy="185.13" r="1.16" fill="#471063"/>
<circle cx="196.5" cy="114.52" r="1.16" fill="#22a884"/>
<circle cx="47.14" cy="190.17" r="1.16" fill="#440154"/>
<circle cx="180.59" cy="109.9" r="1.16" fill="#2ab07f"/>
<circle cx="103.42" cy="186.21" r="1.16" fill="#470d60"/>
<circle cx="64.54" cy="189.55" r="1.16" fill="#440256"/>
<circle cx="189.33" cy="175.09" r="1.16" fill="#472a7a"/>
<circle cx="206.33" cy="187.79" r="1.16" fill="#46085c"/>
<circle cx="169.35" cy="172.64" r="1.16" fill="#46307e"/>
<circle cx="92.68" cy="187.5" r="1.16" fill="#46085c"/>
<circle cx="114.16" cy="184.69" r="1.16" fill="#471164"/>
<circle cx="172.84" cy="100.73" r="1.16" fill="#48c16e"/>
<circle cx="139.71" cy="179.61" r="1.16" fill="#481f70"/>
<circle cx="154.53" cy="176" r="1.16" fill="#482979"/>
<circle cx="178.01" cy="106.58" r="1.16" fill="#34b679"/>
<circle cx="81.93" cy="188.6" r="1.16" fill="#450559"/>
<circle cx="208.93" cy="190.46" r="1.16" fill="#440154"/>
<circle cx="175.43" cy="103.52" r="1.16" fill="#3dbc74"/>
<circle cx="124.9" cy="182.96" r="1.16" fill="#481769"/>
<circle cx="176.02" cy="172.91" r="1.16" fill="#46307e"/>
<circle cx="182.68" cy="173.68" r="1.16" fill="#472f7d"/>
<circle cx="189.86" cy="112.99" r="1.16" fill="#25ab82"/>
<circle cx="53.78" cy="190.23" r="1.16" fill="#440154"/>
<circle cx="191.94" cy="177.39" r="1.16" fill="#482576"/>
<circle cx="165.28" cy="174.14" r="1.16" fill="#472e7c"/>
<circle cx="71.18" cy="189.51" r="1.16" fill="#450457"/>
<circle cx="150.46" cy="177.55" r="1.16" fill="#482576"/>
<circle cx="135.64" cy="181.06" r="1.16" fill="#481c6e"/>
<circle cx="161.42" cy="79.71" r="1.16" fill="#addc30"/>
<circle cx="99.33" cy="187.23" r="1.16" fill="#460b5e"/>
<circle cx="110.07" cy="185.83" r="1.16" fill="#470e61"/>
<circle cx="88.58" cy="188.42" r="1.16" fill="#46075a"/>
<circle cx="194.54" cy="179.73" r="1.16" fill="#482071"/>
<circle cx="120.82" cy="184.22" r="1.16" fill="#481467"/>
<circle cx="161.21" cy="175.65" r="1.16" fill="#472a7a"/>
<circle cx="60.42" cy="190.26" r="1.16" fill="#440256"/>
<circle cx="171.96" cy="174.21" r="1.16" fill="#472e7c"/>
<circle cx="43.01" cy="190.81" r="1.16" fill="#440154"/>
<circle cx="185.29" cy="175.71" r="1.16" fill="#472a7a"/>
<circle cx="146.39" cy="179.07" r="1.16" fill="#482173"/>
<circle cx="77.83" cy="189.42" r="1.16" fill="#450559"/>
<circle cx="131.56" cy="182.43" r="1.16" fill="#481a6c"/>
<circle cx="178.63" cy="174.69" r="1.16" fill="#472d7b"/>
<circle cx="155.17" cy="64.76" r="1.16" fill="#fbe723"/>
<circle cx="197.15" cy="182.11" r="1.16" fill="#481b6d"/>
<circle cx="157.14" cy="177.15" r="1.16" fill="#482878"/>
<circle cx="187.31" cy="108.5" r="1.16" fill="#2fb47c"/>
<circle cx="49.65" cy="190.9" r="1.16" fill="#440154"/>
<circle cx="105.99" cy="186.91" r="1.16" fill="#470d60"/>
<circle cx="67.07" cy="190.26" r="1.16" fill="#440256"/>
<circle cx="142.32" cy="180.52" r="1.16" fill="#481f70"/>
<circle cx="167.9" cy="175.56" r="1.16" fill="#472c7a"/>
<circle cx="95.24" cy="188.2" r="1.16" fill="#460a5d"/>
<circle cx="116.74" cy="185.42" r="1.16" fill="#471164"/>
<circle cx="193.99" cy="108.97" r="1.16" fill="#2fb47c"/>
<circle cx="187.9" cy="177.79" r="1.16" fill="#482677"/>
<circle cx="199.75" cy="184.51" r="1.16" fill="#481467"/>
<circle cx="164.03" cy="81.1" r="1.16" fill="#a8db34"/>
<circle cx="84.48" cy="189.29" r="1.16" fill="#46075a"/>
<circle cx="127.49" cy="183.74" r="1.16" fill="#481769"/>
<circle cx="153.07" cy="178.63" r="1.16" fill="#482475"/>
<circle cx="174.58" cy="175.82" r="1.16" fill="#472c7a"/>
<circle cx="181.25" cy="176.53" r="1.16" fill="#482979"/>
<circle cx="56.3" cy="190.96" r="1.16" fill="#440154"/>
<circle cx="38.88" cy="191.43" r="1.16" fill="#440154"/>
<circle cx="138.24" cy="181.92" r="1.16" fill="#481c6e"/>
<circle cx="202.36" cy="186.94" r="1.16" fill="#470e61"/>
<circle cx="163.83" cy="176.95" r="1.16" fill="#482979"/>
<circle cx="73.72" cy="190.21" r="1.16" fill="#450457"/>
<circle cx="184.75" cy="104.25" r="1.16" fill="#3fbc73"/>
<circle cx="190.52" cy="179.91" r="1.16" fill="#482173"/>
<circle cx="112.65" cy="186.55" r="1.16" fill="#471063"/>
<circle cx="101.9" cy="187.93" r="1.16" fill="#460b5e"/>
<circle cx="149" cy="180.07" r="1.16" fill="#482173"/>
<circle cx="123.4" cy="184.99" r="1.16" fill="#481467"/>
<circle cx="91.14" cy="189.12" r="1.16" fill="#46085c"/>
<circle cx="204.96" cy="189.38" r="1.16" fill="#46075a"/>
<circle cx="62.95" cy="190.98" r="1.16" fill="#440256"/>
<circle cx="45.53" cy="191.55" r="1.16" fill="#440154"/>
<circle cx="166.64" cy="82.84" r="1.16" fill="#a0da39"/>
<circle cx="170.51" cy="177.03" r="1.16" fill="#482979"/>
<circle cx="159.76" cy="178.35" r="1.16" fill="#482576"/>
<circle cx="134.16" cy="183.27" r="1.16" fill="#481a6c"/>
<circle cx="80.38" cy="190.13" r="1.16" fill="#450559"/>
<circle cx="183.86" cy="178.41" r="1.16" fill="#482576"/>
<circle cx="177.19" cy="177.49" r="1.16" fill="#482878"/>
<circle cx="193.13" cy="182.07" r="1.16" fill="#481c6e"/>
<circle cx="207.57" cy="191.83" r="1.16" fill="#440154"/>
<circle cx="182.19" cy="100.28" r="1.16" fill="#4ec36b"/>
<circle cx="144.92" cy="181.47" r="1.16" fill="#481f70"/>
<circle cx="157.79" cy="65.03" r="1.16" fill="#fde725"/>
<circle cx="52.18" cy="191.63" r="1.16" fill="#440154"/>
<circle cx="108.56" cy="187.63" r="1.16" fill="#470d60"/>
<circle cx="69.61" cy="190.97" r="1.16" fill="#440256"/>
<circle cx="119.32" cy="186.17" r="1.16" fill="#471164"/>
<circle cx="97.8" cy="188.91" r="1.16" fill="#460a5d"/>
<circle cx="169.25" cy="84.93" r="1.16" fill="#95d840"/>
<circle cx="191.46" cy="103.67" r="1.16" fill="#42be71"/>
<circle cx="155.68" cy="179.74" r="1.16" fill="#482374"/>
<circle cx="166.45" cy="178.3" r="1.16" fill="#482677"/>
<circle cx="130.08" cy="184.55" r="1.16" fill="#481769"/>
<circle cx="87.04" cy="190" r="1.16" fill="#46075a"/>
<circle cx="179.61" cy="96.59" r="1.16" fill="#5ec962"/>
<circle cx="195.74" cy="184.26" r="1.16" fill="#481769"/>
<circle cx="186.48" cy="180.33" r="1.16" fill="#482173"/>
<circle cx="140.84" cy="182.82" r="1.16" fill="#481b6d"/>
<circle cx="171.85" cy="87.36" r="1.16" fill="#8bd646"/>
<circle cx="58.83" cy="191.68" r="1.16" fill="#440256"/>
<circle cx="173.13" cy="178.55" r="1.16" fill="#482677"/>
<circle cx="41.39" cy="192.18" r="1.16" fill="#440154"/>
<circle cx="177.03" cy="93.2" r="1.16" fill="#6ece58"/>
<circle cx="76.27" cy="190.93" r="1.16" fill="#450457"/>
<circle cx="174.44" cy="90.12" r="1.16" fill="#7fd34e"/>
<circle cx="179.81" cy="179.2" r="1.16" fill="#482576"/>
<circle cx="151.61" cy="181.11" r="1.16" fill="#482071"/>
<circle cx="162.37" cy="179.59" r="1.16" fill="#482475"/>
<circle cx="115.23" cy="187.29" r="1.16" fill="#471063"/>
<circle cx="104.47" cy="188.65" r="1.16" fill="#460b5e"/>
<circle cx="198.36" cy="186.47" r="1.16" fill="#471164"/>
<circle cx="126" cy="185.77" r="1.16" fill="#481467"/>
<circle cx="93.7" cy="189.83" r="1.16" fill="#46085c"/>
<circle cx="65.49" cy="191.71" r="1.16" fill="#440256"/>
<circle cx="48.05" cy="192.29" r="1.16" fill="#440154"/>
<circle cx="136.76" cy="184.13" r="1.16" fill="#48186a"/>
<circle cx="189.1" cy="182.3" r="1.16" fill="#481d6f"/>
<circle cx="82.93" cy="190.84" r="1.16" fill="#450559"/>
<circle cx="169.07" cy="179.69" r="1.16" fill="#482576"/>
<circle cx="147.53" cy="182.45" r="1.16" fill="#481d6f"/>
<circle cx="200.97" cy="188.7" r="1.16" fill="#460b5e"/>
<circle cx="158.3" cy="180.89" r="1.16" fill="#482173"/>
<circle cx="188.93" cy="98.64" r="1.16" fill="#58c765"/>
<circle cx="160.42" cy="65.71" r="1.16" fill="#fde725"/>
<circle cx="182.43" cy="180.95" r="1.16" fill="#482173"/>
<circle cx="175.75" cy="180.11" r="1.16" fill="#482475"/>
<circle cx="54.7" cy="192.37" r="1.16" fill="#440154"/>
<circle cx="111.14" cy="188.36" r="1.16" fill="#470d60"/>
<circle cx="72.15" cy="191.69" r="1.16" fill="#450457"/>
<circle cx="121.91" cy="186.94" r="1.16" fill="#471164"/>
<circle cx="37.25" cy="192.8" r="1.16" fill="#440154"/>
<circle cx="100.37" cy="189.62" r="1.16" fill="#460a5d"/>
<circle cx="132.68" cy="185.38" r="1.16" fill="#481769"/>
<circle cx="191.72" cy="184.29" r="1.16" fill="#481a6c"/>
<circle cx="89.6" cy="190.71" r="1.16" fill="#46075a"/>
<circle cx="143.45" cy="183.75" r="1.16" fill="#481b6d"/>
<circle cx="203.59" cy="190.95" r="1.16" fill="#46075a"/>
<circle cx="165" cy="180.87" r="1.16" fill="#482374"/>
<circle cx="154.22" cy="182.18" r="1.16" fill="#481f70"/>
<circle cx="61.37" cy="192.42" r="1.16" fill="#440256"/>
<circle cx="43.91" cy="192.93" r="1.16" fill="#440154"/>
<circle cx="78.82" cy="191.64" r="1.16" fill="#450457"/>
<circle cx="185.05" cy="182.74" r="1.16" fill="#481d6f"/>
<circle cx="171.69" cy="181.12" r="1.16" fill="#482374"/>
<circle cx="117.82" cy="188.05" r="1.16" fill="#471063"/>
<circle cx="107.04" cy="189.38" r="1.16" fill="#460b5e"/>
<circle cx="128.59" cy="186.58" r="1.16" fill="#481467"/>
<circle cx="206.21" cy="193.2" r="1.16" fill="#440154"/>
<circle cx="178.38" cy="181.71" r="1.16" fill="#482173"/>
<circle cx="194.34" cy="186.31" r="1.16" fill="#481467"/>
<circle cx="139.37" cy="185.01" r="1.16" fill="#48186a"/>
<circle cx="96.27" cy="190.55" r="1.16" fill="#46085c"/>
<circle cx="50.57" cy="193.03" r="1.16" fill="#440154"/>
<circle cx="68.03" cy="192.43" r="1.16" fill="#440256"/>
<circle cx="186.38" cy="93.9" r="1.16" fill="#70cf57"/>
<circle cx="160.92" cy="182.08" r="1.16" fill="#482071"/>
<circle cx="150.15" cy="183.46" r="1.16" fill="#481c6e"/>
<circle cx="163.04" cy="66.79" r="1.16" fill="#fbe723"/>
<circle cx="85.49" cy="191.56" r="1.16" fill="#450559"/>
<circle cx="57.24" cy="193.1" r="1.16" fill="#440154"/>
<circle cx="167.62" cy="182.19" r="1.16" fill="#482071"/>
<circle cx="124.5" cy="187.72" r="1.16" fill="#471164"/>
<circle cx="113.72" cy="189.11" r="1.16" fill="#470d60"/>
<circle cx="187.68" cy="184.56" r="1.16" fill="#481b6d"/>
<circle cx="196.96" cy="188.36" r="1.16" fill="#471063"/>
<circle cx="74.7" cy="192.42" r="1.16" fill="#450457"/>
<circle cx="39.77" cy="193.56" r="1.16" fill="#440154"/>
<circle cx="135.28" cy="186.23" r="1.16" fill="#481668"/>
<circle cx="102.94" cy="190.35" r="1.16" fill="#460a5d"/>
<circle cx="146.06" cy="184.71" r="1.16" fill="#481b6d"/>
<circle cx="156.84" cy="183.29" r="1.16" fill="#481d6f"/>
<circle cx="174.31" cy="182.59" r="1.16" fill="#482071"/>
<circle cx="181" cy="183.35" r="1.16" fill="#481d6f"/>
<circle cx="92.16" cy="191.43" r="1.16" fill="#46075a"/>
<circle cx="183.82" cy="89.46" r="1.16" fill="#89d548"/>
<circle cx="63.9" cy="193.15" r="1.16" fill="#440256"/>
<circle cx="46.43" cy="193.68" r="1.16" fill="#440154"/>
<circle cx="165.66" cy="68.28" r="1.16" fill="#f6e620"/>
<circle cx="81.37" cy="192.37" r="1.16" fill="#450559"/>
<circle cx="199.58" cy="190.42" r="1.16" fill="#460b5e"/>
<circle cx="163.54" cy="183.3" r="1.16" fill="#481f70"/>
<circle cx="120.41" cy="188.82" r="1.16" fill="#471063"/>
<circle cx="131.19" cy="187.4" r="1.16" fill="#481467"/>
<circle cx="190.31" cy="186.41" r="1.16" fill="#481769"/>
<circle cx="109.63" cy="190.12" r="1.16" fill="#460b5e"/>
<circle cx="141.98" cy="185.93" r="1.16" fill="#48186a"/>
<circle cx="152.76" cy="184.5" r="1.16" fill="#481c6e"/>
<circle cx="98.84" cy="191.28" r="1.16" fill="#46085c"/>
<circle cx="53.1" cy="193.77" r="1.16" fill="#440154"/>
<circle cx="70.58" cy="193.16" r="1.16" fill="#440256"/>
<circle cx="170.24" cy="183.55" r="1.16" fill="#481f70"/>
<circle cx="35.62" cy="194.18" r="1.16" fill="#440154"/>
<circle cx="181.25" cy="85.35" r="1.16" fill="#a0da39"/>
<circle cx="183.63" cy="185.02" r="1.16" fill="#481b6d"/>
<circle cx="88.05" cy="192.28" r="1.16" fill="#450559"/>
<circle cx="176.94" cy="184.1" r="1.16" fill="#481d6f"/>
<circle cx="202.21" cy="192.49" r="1.16" fill="#450559"/>
<circle cx="168.27" cy="70.16" r="1.16" fill="#efe51c"/>
<circle cx="159.47" cy="184.44" r="1.16" fill="#481c6e"/>
<circle cx="127.1" cy="188.53" r="1.16" fill="#471164"/>
<circle cx="137.89" cy="187.11" r="1.16" fill="#481668"/>
<circle cx="59.77" cy="193.85" r="1.16" fill="#440256"/>
<circle cx="116.31" cy="189.87" r="1.16" fill="#470e61"/>
<circle cx="148.68" cy="185.7" r="1.16" fill="#481a6c"/>
<circle cx="192.93" cy="188.29" r="1.16" fill="#471365"/>
<circle cx="77.25" cy="193.15" r="1.16" fill="#450457"/>
<circle cx="42.29" cy="194.31" r="1.16" fill="#440154"/>
<circle cx="105.52" cy="191.09" r="1.16" fill="#460a5d"/>
<circle cx="178.67" cy="81.58" r="1.16" fill="#b5de2b"/>
<circle cx="170.88" cy="72.45" r="1.16" fill="#e5e419"/>
<circle cx="94.73" cy="192.16" r="1.16" fill="#46075a"/>
<circle cx="166.17" cy="184.56" r="1.16" fill="#481d6f"/>
<circle cx="204.84" cy="194.57" r="1.16" fill="#440154"/>
<circle cx="176.08" cy="78.16" r="1.16" fill="#c8e020"/>
<circle cx="173.49" cy="75.12" r="1.16" fill="#d8e219"/>
<circle cx="66.45" cy="193.89" r="1.16" fill="#440256"/>
<circle cx="186.26" cy="186.73" r="1.16" fill="#481769"/>
<circle cx="48.96" cy="194.43" r="1.16" fill="#440154"/>
<circle cx="155.38" cy="185.58" r="1.16" fill="#481b6d"/>
<circle cx="83.93" cy="193.1" r="1.16" fill="#450559"/>
<circle cx="172.87" cy="184.94" r="1.16" fill="#481c6e"/>
<circle cx="144.59" cy="186.87" r="1.16" fill="#481769"/>
<circle cx="133.8" cy="188.25" r="1.16" fill="#481467"/>
<circle cx="123.01" cy="189.61" r="1.16" fill="#471063"/>
<circle cx="179.57" cy="185.64" r="1.16" fill="#481b6d"/>
<circle cx="195.56" cy="190.19" r="1.16" fill="#470e61"/>
<circle cx="112.21" cy="190.88" r="1.16" fill="#460b5e"/>
<circle cx="101.42" cy="192.01" r="1.16" fill="#46085c"/>
<circle cx="55.63" cy="194.52" r="1.16" fill="#440154"/>
<circle cx="73.13" cy="193.9" r="1.16" fill="#450457"/>
<circle cx="38.14" cy="194.94" r="1.16" fill="#440154"/>
<circle cx="162.09" cy="185.61" r="1.16" fill="#481b6d"/>
<circle cx="90.62" cy="193.01" r="1.16" fill="#46075a"/>
<circle cx="151.3" cy="186.71" r="1.16" fill="#48186a"/>
<circle cx="188.89" cy="188.45" r="1.16" fill="#481467"/>
<circle cx="140.5" cy="188.01" r="1.16" fill="#481668"/>
<circle cx="129.7" cy="189.36" r="1.16" fill="#471164"/>
<circle cx="198.19" cy="192.1" r="1.16" fill="#460a5d"/>
<circle cx="118.91" cy="190.65" r="1.16" fill="#470e61"/>
<circle cx="62.31" cy="194.59" r="1.16" fill="#440256"/>
<circle cx="168.8" cy="185.85" r="1.16" fill="#481b6d"/>
<circle cx="44.81" cy="195.07" r="1.16" fill="#440154"/>
<circle cx="79.81" cy="193.88" r="1.16" fill="#450457"/>
<circle cx="108.11" cy="191.84" r="1.16" fill="#460a5d"/>
<circle cx="182.2" cy="187.2" r="1.16" fill="#48186a"/>
<circle cx="175.51" cy="186.36" r="1.16" fill="#481a6c"/>
<circle cx="97.3" cy="192.9" r="1.16" fill="#46075a"/>
<circle cx="158.01" cy="186.68" r="1.16" fill="#481a6c"/>
<circle cx="69" cy="194.63" r="1.16" fill="#440256"/>
<circle cx="51.49" cy="195.18" r="1.16" fill="#440154"/>
<circle cx="147.21" cy="187.83" r="1.16" fill="#481769"/>
<circle cx="136.41" cy="189.12" r="1.16" fill="#471365"/>
<circle cx="86.5" cy="193.83" r="1.16" fill="#450559"/>
<circle cx="125.61" cy="190.42" r="1.16" fill="#471063"/>
<circle cx="33.98" cy="195.55" r="1.16" fill="#440154"/>
<circle cx="200.83" cy="194.02" r="1.16" fill="#450559"/>
<circle cx="191.53" cy="190.2" r="1.16" fill="#471063"/>
<circle cx="114.8" cy="191.64" r="1.16" fill="#460b5e"/>
<circle cx="164.72" cy="186.81" r="1.16" fill="#481a6c"/>
<circle cx="104" cy="192.76" r="1.16" fill="#46085c"/>
<circle cx="58.17" cy="195.27" r="1.16" fill="#440154"/>
<circle cx="75.68" cy="194.64" r="1.16" fill="#450457"/>
<circle cx="184.84" cy="188.8" r="1.16" fill="#481668"/>
<circle cx="40.66" cy="195.7" r="1.16" fill="#440154"/>
<circle cx="171.43" cy="187.17" r="1.16" fill="#481a6c"/>
<circle cx="153.92" cy="187.75" r="1.16" fill="#48186a"/>
<circle cx="178.14" cy="187.81" r="1.16" fill="#48186a"/>
<circle cx="93.19" cy="193.75" r="1.16" fill="#46075a"/>
<circle cx="143.12" cy="188.94" r="1.16" fill="#481467"/>
<circle cx="132.31" cy="190.2" r="1.16" fill="#471164"/>
<circle cx="203.46" cy="195.95" r="1.16" fill="#440154"/>
<circle cx="121.5" cy="191.44" r="1.16" fill="#470e61"/>
<circle cx="64.86" cy="195.34" r="1.16" fill="#440256"/>
<circle cx="194.16" cy="191.97" r="1.16" fill="#470d60"/>
<circle cx="47.34" cy="195.83" r="1.16" fill="#440154"/>
<circle cx="82.37" cy="194.62" r="1.16" fill="#450457"/>
<circle cx="110.7" cy="192.6" r="1.16" fill="#460a5d"/>
<circle cx="160.64" cy="187.81" r="1.16" fill="#48186a"/>
<circle cx="99.88" cy="193.65" r="1.16" fill="#46085c"/>
<circle cx="149.83" cy="188.82" r="1.16" fill="#481668"/>
<circle cx="167.36" cy="188.05" r="1.16" fill="#48186a"/>
<circle cx="139.02" cy="190.01" r="1.16" fill="#471365"/>
<circle cx="71.55" cy="195.37" r="1.16" fill="#440256"/>
<circle cx="54.03" cy="195.94" r="1.16" fill="#440154"/>
<circle cx="187.48" cy="190.41" r="1.16" fill="#471164"/>
<circle cx="128.21" cy="191.24" r="1.16" fill="#471063"/>
<circle cx="89.07" cy="194.57" r="1.16" fill="#450559"/>
<circle cx="36.5" cy="196.32" r="1.16" fill="#440154"/>
<circle cx="174.07" cy="188.52" r="1.16" fill="#481769"/>
<circle cx="180.78" cy="189.29" r="1.16" fill="#481668"/>
<circle cx="117.4" cy="192.43" r="1.16" fill="#470d60"/>
<circle cx="196.8" cy="193.75" r="1.16" fill="#46085c"/>
<circle cx="156.55" cy="188.82" r="1.16" fill="#481769"/>
<circle cx="106.58" cy="193.52" r="1.16" fill="#460a5d"/>
<circle cx="60.72" cy="196.03" r="1.16" fill="#440256"/>
<circle cx="78.24" cy="195.38" r="1.16" fill="#450457"/>
<circle cx="43.19" cy="196.47" r="1.16" fill="#440154"/>
<circle cx="145.74" cy="189.88" r="1.16" fill="#481467"/>
<circle cx="95.76" cy="194.5" r="1.16" fill="#46075a"/>
<circle cx="134.92" cy="191.06" r="1.16" fill="#471164"/>
<circle cx="163.27" cy="188.97" r="1.16" fill="#481769"/>
<circle cx="124.11" cy="192.25" r="1.16" fill="#470e61"/>
<circle cx="190.12" cy="192.05" r="1.16" fill="#470e61"/>
<circle cx="67.41" cy="196.09" r="1.16" fill="#440256"/>
<circle cx="49.88" cy="196.59" r="1.16" fill="#440154"/>
<circle cx="84.94" cy="195.37" r="1.16" fill="#450559"/>
<circle cx="113.29" cy="193.37" r="1.16" fill="#460b5e"/>
<circle cx="199.44" cy="195.54" r="1.16" fill="#450457"/>
<circle cx="169.99" cy="189.31" r="1.16" fill="#481769"/>
<circle cx="152.46" cy="189.84" r="1.16" fill="#481668"/>
<circle cx="32.34" cy="196.93" r="1.16" fill="#440154"/>
<circle cx="183.42" cy="190.79" r="1.16" fill="#471365"/>
<circle cx="176.71" cy="189.9" r="1.16" fill="#481668"/>
<circle cx="102.47" cy="194.4" r="1.16" fill="#46085c"/>
<circle cx="141.64" cy="190.92" r="1.16" fill="#471365"/>
<circle cx="74.11" cy="196.12" r="1.16" fill="#440256"/>
<circle cx="56.57" cy="196.7" r="1.16" fill="#440154"/>
<circle cx="130.82" cy="192.08" r="1.16" fill="#471063"/>
<circle cx="39.03" cy="197.09" r="1.16" fill="#440154"/>
<circle cx="91.64" cy="195.32" r="1.16" fill="#450559"/>
<circle cx="159.18" cy="189.91" r="1.16" fill="#481668"/>
<circle cx="120" cy="193.22" r="1.16" fill="#470d60"/>
<circle cx="192.76" cy="193.7" r="1.16" fill="#460b5e"/>
<circle cx="109.17" cy="194.29" r="1.16" fill="#460a5d"/>
<circle cx="202.09" cy="197.34" r="1.16" fill="#440154"/>
<circle cx="148.37" cy="190.85" r="1.16" fill="#481467"/>
<circle cx="63.27" cy="196.78" r="1.16" fill="#440256"/>
<circle cx="80.81" cy="196.13" r="1.16" fill="#450457"/>
<circle cx="165.91" cy="190.15" r="1.16" fill="#481668"/>
<circle cx="45.72" cy="197.24" r="1.16" fill="#440154"/>
<circle cx="137.54" cy="191.94" r="1.16" fill="#471164"/>
<circle cx="186.06" cy="192.31" r="1.16" fill="#471063"/>
<circle cx="98.34" cy="195.26" r="1.16" fill="#46075a"/>
<circle cx="172.63" cy="190.59" r="1.16" fill="#481467"/>
<circle cx="126.72" cy="193.07" r="1.16" fill="#470d60"/>
<circle cx="179.35" cy="191.29" r="1.16" fill="#471365"/>
<circle cx="69.97" cy="196.84" r="1.16" fill="#440256"/>
<circle cx="155.09" cy="190.87" r="1.16" fill="#481467"/>
<circle cx="52.42" cy="197.36" r="1.16" fill="#440154"/>
<circle cx="115.89" cy="194.16" r="1.16" fill="#460b5e"/>
<circle cx="87.51" cy="196.12" r="1.16" fill="#450559"/>
<circle cx="34.86" cy="197.71" r="1.16" fill="#440154"/>
<circle cx="195.41" cy="195.37" r="1.16" fill="#46075a"/>
<circle cx="144.27" cy="191.86" r="1.16" fill="#471164"/>
<circle cx="105.05" cy="195.17" r="1.16" fill="#46085c"/>
<circle cx="161.82" cy="191.03" r="1.16" fill="#481467"/>
<circle cx="133.44" cy="192.94" r="1.16" fill="#470e61"/>
<circle cx="76.67" cy="196.88" r="1.16" fill="#450457"/>
<circle cx="59.12" cy="197.46" r="1.16" fill="#440154"/>
<circle cx="41.56" cy="197.87" r="1.16" fill="#440154"/>
<circle cx="94.22" cy="196.08" r="1.16" fill="#450559"/>
<circle cx="122.6" cy="194.03" r="1.16" fill="#460b5e"/>
<circle cx="188.71" cy="193.85" r="1.16" fill="#470d60"/>
<circle cx="168.55" cy="191.36" r="1.16" fill="#481467"/>
<circle cx="150.99" cy="191.84" r="1.16" fill="#471365"/>
<circle cx="181.99" cy="192.71" r="1.16" fill="#471063"/>
<circle cx="175.27" cy="191.9" r="1.16" fill="#471365"/>
<circle cx="111.77" cy="195.07" r="1.16" fill="#460a5d"/>
<circle cx="65.82" cy="197.54" r="1.16" fill="#440256"/>
<circle cx="83.38" cy="196.89" r="1.16" fill="#450457"/>
<circle cx="48.26" cy="198.01" r="1.16" fill="#440154"/>
<circle cx="140.16" cy="192.84" r="1.16" fill="#471063"/>
<circle cx="198.05" cy="197.04" r="1.16" fill="#450457"/>
<circle cx="100.93" cy="196.02" r="1.16" fill="#46075a"/>
<circle cx="30.69" cy="198.32" r="1.16" fill="#440154"/>
<circle cx="157.73" cy="191.93" r="1.16" fill="#471365"/>
<circle cx="129.33" cy="193.91" r="1.16" fill="#470d60"/>
<circle cx="72.53" cy="197.6" r="1.16" fill="#440256"/>
<circle cx="118.49" cy="194.96" r="1.16" fill="#460b5e"/>
<circle cx="54.96" cy="198.13" r="1.16" fill="#440154"/>
<circle cx="90.09" cy="196.87" r="1.16" fill="#450559"/>
<circle cx="146.89" cy="192.81" r="1.16" fill="#471164"/>
<circle cx="191.36" cy="195.4" r="1.16" fill="#460a5d"/>
<circle cx="164.46" cy="192.17" r="1.16" fill="#471365"/>
<circle cx="37.39" cy="198.49" r="1.16" fill="#440154"/>
<circle cx="107.65" cy="195.94" r="1.16" fill="#46085c"/>
<circle cx="136.06" cy="193.81" r="1.16" fill="#470e61"/>
<circle cx="171.19" cy="192.58" r="1.16" fill="#471365"/>
<circle cx="184.64" cy="194.15" r="1.16" fill="#470e61"/>
<circle cx="200.71" cy="198.72" r="1.16" fill="#440154"/>
<circle cx="61.67" cy="198.22" r="1.16" fill="#440256"/>
<circle cx="79.24" cy="197.63" r="1.16" fill="#450457"/>
<circle cx="177.92" cy="193.23" r="1.16" fill="#471164"/>
<circle cx="44.09" cy="198.64" r="1.16" fill="#440154"/>
<circle cx="125.21" cy="194.85" r="1.16" fill="#460b5e"/>
<circle cx="96.8" cy="196.84" r="1.16" fill="#450559"/>
<circle cx="153.63" cy="192.85" r="1.16" fill="#471164"/>
<circle cx="114.37" cy="195.86" r="1.16" fill="#460a5d"/>
<circle cx="142.79" cy="193.76" r="1.16" fill="#471063"/>
<circle cx="68.38" cy="198.3" r="1.16" fill="#440256"/>
<circle cx="85.95" cy="197.65" r="1.16" fill="#450457"/>
<circle cx="50.8" cy="198.78" r="1.16" fill="#440154"/>
<circle cx="160.36" cy="193.01" r="1.16" fill="#471365"/>
<circle cx="194.01" cy="196.97" r="1.16" fill="#46075a"/>
<circle cx="103.52" cy="196.79" r="1.16" fill="#46075a"/>
<circle cx="131.94" cy="194.76" r="1.16" fill="#470d60"/>
<circle cx="33.22" cy="199.1" r="1.16" fill="#440154"/>
<circle cx="167.1" cy="193.33" r="1.16" fill="#471164"/>
<circle cx="75.09" cy="198.36" r="1.16" fill="#440256"/>
<circle cx="121.1" cy="195.77" r="1.16" fill="#460b5e"/>
<circle cx="149.52" cy="193.78" r="1.16" fill="#471063"/>
<circle cx="187.29" cy="195.6" r="1.16" fill="#460b5e"/>
<circle cx="57.51" cy="198.89" r="1.16" fill="#440154"/>
<circle cx="92.67" cy="197.64" r="1.16" fill="#450559"/>
<circle cx="173.84" cy="193.83" r="1.16" fill="#471063"/>
<circle cx="180.57" cy="194.57" r="1.16" fill="#470e61"/>
<circle cx="39.92" cy="199.27" r="1.16" fill="#440154"/>
<circle cx="110.25" cy="196.73" r="1.16" fill="#46085c"/>
<circle cx="138.68" cy="194.7" r="1.16" fill="#470e61"/>
<circle cx="156.26" cy="193.88" r="1.16" fill="#471164"/>
<circle cx="64.22" cy="198.99" r="1.16" fill="#440256"/>
<circle cx="81.81" cy="198.4" r="1.16" fill="#450457"/>
<circle cx="127.83" cy="195.69" r="1.16" fill="#460b5e"/>
<circle cx="196.66" cy="198.54" r="1.16" fill="#450457"/>
<circle cx="46.63" cy="199.42" r="1.16" fill="#440154"/>
<circle cx="99.39" cy="197.61" r="1.16" fill="#46075a"/>
<circle cx="29.04" cy="199.71" r="1.16" fill="#440154"/>
<circle cx="163.01" cy="194.12" r="1.16" fill="#471164"/>
<circle cx="145.42" cy="194.7" r="1.16" fill="#471063"/>
<circle cx="116.98" cy="196.66" r="1.16" fill="#460a5d"/>
<circle cx="70.94" cy="199.07" r="1.16" fill="#440256"/>
<circle cx="88.53" cy="198.41" r="1.16" fill="#450457"/>
<circle cx="189.95" cy="197.07" r="1.16" fill="#46085c"/>
<circle cx="53.35" cy="199.55" r="1.16" fill="#440154"/>
<circle cx="169.75" cy="194.51" r="1.16" fill="#471063"/>
<circle cx="134.57" cy="195.63" r="1.16" fill="#470d60"/>
<circle cx="106.12" cy="197.57" r="1.16" fill="#46075a"/>
<circle cx="35.75" cy="199.89" r="1.16" fill="#440154"/>
<circle cx="183.22" cy="195.94" r="1.16" fill="#470d60"/>
<circle cx="176.49" cy="195.1" r="1.16" fill="#470e61"/>
<circle cx="152.16" cy="194.76" r="1.16" fill="#471063"/>
<circle cx="123.71" cy="196.59" r="1.16" fill="#460a5d"/>
<circle cx="77.66" cy="199.13" r="1.16" fill="#440256"/>
<circle cx="60.06" cy="199.67" r="1.16" fill="#440154"/>
<circle cx="199.32" cy="200.12" r="1.16" fill="#440154"/>
<circle cx="95.25" cy="198.41" r="1.16" fill="#450559"/>
<circle cx="42.46" cy="200.05" r="1.16" fill="#440154"/>
<circle cx="141.31" cy="195.61" r="1.16" fill="#470e61"/>
<circle cx="112.85" cy="197.52" r="1.16" fill="#46085c"/>
<circle cx="158.91" cy="194.93" r="1.16" fill="#471063"/>
<circle cx="66.78" cy="199.76" r="1.16" fill="#440256"/>
<circle cx="84.39" cy="199.16" r="1.16" fill="#450457"/>
<circle cx="130.45" cy="196.54" r="1.16" fill="#460b5e"/>
<circle cx="192.61" cy="198.54" r="1.16" fill="#450559"/>
<circle cx="49.18" cy="200.2" r="1.16" fill="#440154"/>
<circle cx="165.65" cy="195.23" r="1.16" fill="#471063"/>
<circle cx="101.98" cy="198.39" r="1.16" fill="#46075a"/>
<circle cx="148.05" cy="195.65" r="1.16" fill="#470e61"/>
<circle cx="31.57" cy="200.5" r="1.16" fill="#440154"/>
<circle cx="172.4" cy="195.7" r="1.16" fill="#470e61"/>
<circle cx="185.88" cy="197.31" r="1.16" fill="#460a5d"/>
<circle cx="119.59" cy="197.47" r="1.16" fill="#460a5d"/>
<circle cx="179.14" cy="196.38" r="1.16" fill="#470d60"/>
<circle cx="73.51" cy="199.84" r="1.16" fill="#440256"/>
<circle cx="91.11" cy="199.18" r="1.16" fill="#450457"/>
<circle cx="55.9" cy="200.33" r="1.16" fill="#440154"/>
<circle cx="137.19" cy="196.51" r="1.16" fill="#470d60"/>
<circle cx="108.72" cy="198.36" r="1.16" fill="#46075a"/>
<circle cx="154.8" cy="195.77" r="1.16" fill="#470e61"/>
<circle cx="38.28" cy="200.68" r="1.16" fill="#440154"/>
<circle cx="126.33" cy="197.42" r="1.16" fill="#460a5d"/>
<circle cx="80.24" cy="199.9" r="1.16" fill="#450457"/>
<circle cx="62.62" cy="200.44" r="1.16" fill="#440154"/>
<circle cx="97.85" cy="199.19" r="1.16" fill="#450559"/>
<circle cx="161.55" cy="196" r="1.16" fill="#470e61"/>
<circle cx="195.27" cy="200.02" r="1.16" fill="#440256"/>
<circle cx="143.94" cy="196.53" r="1.16" fill="#470d60"/>
<circle cx="45.01" cy="200.84" r="1.16" fill="#440154"/>
<circle cx="115.46" cy="198.32" r="1.16" fill="#46085c"/>
<circle cx="168.3" cy="196.37" r="1.16" fill="#470e61"/>
<circle cx="27.38" cy="201.11" r="1.16" fill="#440154"/>
<circle cx="188.54" cy="198.7" r="1.16" fill="#46075a"/>
<circle cx="133.07" cy="197.4" r="1.16" fill="#460b5e"/>
<circle cx="69.35" cy="200.54" r="1.16" fill="#440256"/>
<circle cx="86.97" cy="199.94" r="1.16" fill="#450457"/>
<circle cx="175.05" cy="196.92" r="1.16" fill="#470d60"/>
<circle cx="181.8" cy="197.68" r="1.16" fill="#460b5e"/>
<circle cx="150.69" cy="196.62" r="1.16" fill="#470e61"/>
<circle cx="51.73" cy="200.98" r="1.16" fill="#440154"/>
<circle cx="104.58" cy="199.18" r="1.16" fill="#46075a"/>
<circle cx="34.1" cy="201.29" r="1.16" fill="#440154"/>
<circle cx="122.2" cy="198.29" r="1.16" fill="#460a5d"/>
<circle cx="76.08" cy="200.61" r="1.16" fill="#440256"/>
<circle cx="139.82" cy="197.41" r="1.16" fill="#470d60"/>
<circle cx="157.45" cy="196.79" r="1.16" fill="#470e61"/>
<circle cx="93.7" cy="199.96" r="1.16" fill="#450559"/>
<circle cx="58.46" cy="201.11" r="1.16" fill="#440154"/>
<circle cx="197.93" cy="201.51" r="1.16" fill="#440154"/>
<circle cx="111.32" cy="199.16" r="1.16" fill="#46075a"/>
<circle cx="40.83" cy="201.46" r="1.16" fill="#440154"/>
<circle cx="128.95" cy="198.27" r="1.16" fill="#460a5d"/>
<circle cx="164.2" cy="197.08" r="1.16" fill="#470e61"/>
<circle cx="82.82" cy="200.67" r="1.16" fill="#450457"/>
<circle cx="146.58" cy="197.47" r="1.16" fill="#470d60"/>
<circle cx="191.2" cy="200.1" r="1.16" fill="#450559"/>
<circle cx="65.19" cy="201.22" r="1.16" fill="#440256"/>
<circle cx="100.44" cy="199.97" r="1.16" fill="#450559"/>
<circle cx="170.96" cy="197.52" r="1.16" fill="#470d60"/>
<circle cx="47.55" cy="201.62" r="1.16" fill="#440154"/>
<circle cx="184.46" cy="198.99" r="1.16" fill="#46085c"/>
<circle cx="118.07" cy="199.14" r="1.16" fill="#46085c"/>
<circle cx="177.71" cy="198.15" r="1.16" fill="#460b5e"/>
<circle cx="29.91" cy="201.9" r="1.16" fill="#440154"/>
<circle cx="135.7" cy="198.27" r="1.16" fill="#460b5e"/>
<circle cx="153.33" cy="197.6" r="1.16" fill="#470d60"/>
<circle cx="71.92" cy="201.31" r="1.16" fill="#440256"/>
<circle cx="89.55" cy="200.71" r="1.16" fill="#450457"/>
<circle cx="54.28" cy="201.76" r="1.16" fill="#440154"/>
<circle cx="107.19" cy="199.97" r="1.16" fill="#46075a"/>
<circle cx="124.82" cy="199.12" r="1.16" fill="#460a5d"/>
<circle cx="36.64" cy="202.08" r="1.16" fill="#440154"/>
<circle cx="160.09" cy="197.83" r="1.16" fill="#470d60"/>
<circle cx="142.46" cy="198.32" r="1.16" fill="#460b5e"/>
<circle cx="78.66" cy="201.39" r="1.16" fill="#440256"/>
<circle cx="96.3" cy="200.74" r="1.16" fill="#450559"/>
<circle cx="61.02" cy="201.89" r="1.16" fill="#440154"/>
<circle cx="193.87" cy="201.5" r="1.16" fill="#440256"/>
<circle cx="113.93" cy="199.96" r="1.16" fill="#46075a"/>
<circle cx="166.85" cy="198.18" r="1.16" fill="#470d60"/>
<circle cx="43.37" cy="202.25" r="1.16" fill="#440154"/>
<circle cx="131.57" cy="199.13" r="1.16" fill="#460a5d"/>
<circle cx="187.12" cy="200.31" r="1.16" fill="#46075a"/>
<circle cx="173.61" cy="198.69" r="1.16" fill="#460b5e"/>
<circle cx="149.22" cy="198.42" r="1.16" fill="#470d60"/>
<circle cx="180.37" cy="199.39" r="1.16" fill="#460a5d"/>
<circle cx="25.72" cy="202.51" r="1.16" fill="#440154"/>
<circle cx="85.4" cy="201.45" r="1.16" fill="#450457"/>
<circle cx="67.75" cy="202" r="1.16" fill="#440256"/>
<circle cx="103.04" cy="200.76" r="1.16" fill="#450559"/>
<circle cx="50.11" cy="202.41" r="1.16" fill="#440154"/>
<circle cx="120.69" cy="199.96" r="1.16" fill="#46085c"/>
<circle cx="155.98" cy="198.6" r="1.16" fill="#470d60"/>
<circle cx="138.33" cy="199.16" r="1.16" fill="#460b5e"/>
<circle cx="32.45" cy="202.7" r="1.16" fill="#440154"/>
<circle cx="74.5" cy="202.09" r="1.16" fill="#440256"/>
<circle cx="92.14" cy="201.5" r="1.16" fill="#450457"/>
<circle cx="109.79" cy="200.77" r="1.16" fill="#46075a"/>
<circle cx="56.84" cy="202.55" r="1.16" fill="#440154"/>
<circle cx="162.75" cy="198.88" r="1.16" fill="#470d60"/>
<circle cx="196.53" cy="202.91" r="1.16" fill="#440154"/>
<circle cx="127.44" cy="199.97" r="1.16" fill="#46085c"/>
<circle cx="39.18" cy="202.88" r="1.16" fill="#440154"/>
<circle cx="145.1" cy="199.24" r="1.16" fill="#460b5e"/>
<circle cx="169.51" cy="199.3" r="1.16" fill="#460b5e"/>
<circle cx="189.79" cy="201.64" r="1.16" fill="#450457"/>
<circle cx="81.24" cy="202.17" r="1.16" fill="#440256"/>
<circle cx="98.89" cy="201.53" r="1.16" fill="#450559"/>
<circle cx="63.58" cy="202.67" r="1.16" fill="#440154"/>
<circle cx="176.28" cy="199.87" r="1.16" fill="#460a5d"/>
<circle cx="183.04" cy="200.64" r="1.16" fill="#46075a"/>
<circle cx="116.55" cy="200.78" r="1.16" fill="#46075a"/>
<circle cx="45.92" cy="203.05" r="1.16" fill="#440154"/>
<circle cx="134.21" cy="200" r="1.16" fill="#460a5d"/>
<circle cx="151.86" cy="199.38" r="1.16" fill="#460b5e"/>
<circle cx="28.25" cy="203.31" r="1.16" fill="#440154"/>
<circle cx="87.99" cy="202.23" r="1.16" fill="#450457"/>
<circle cx="70.33" cy="202.78" r="1.16" fill="#440256"/>
<circle cx="105.65" cy="201.56" r="1.16" fill="#450559"/>
<circle cx="52.66" cy="203.2" r="1.16" fill="#440154"/>
<circle cx="158.63" cy="199.61" r="1.16" fill="#460b5e"/>
<circle cx="123.31" cy="200.79" r="1.16" fill="#46085c"/>
<circle cx="140.97" cy="200.06" r="1.16" fill="#460a5d"/>
<circle cx="34.99" cy="203.5" r="1.16" fill="#440154"/>
<circle cx="165.4" cy="199.95" r="1.16" fill="#460b5e"/>
<circle cx="94.74" cy="202.29" r="1.16" fill="#450457"/>
<circle cx="77.08" cy="202.88" r="1.16" fill="#440256"/>
<circle cx="112.41" cy="201.58" r="1.16" fill="#46075a"/>
<circle cx="59.41" cy="203.34" r="1.16" fill="#440154"/>
<circle cx="192.46" cy="202.98" r="1.16" fill="#440256"/>
<circle cx="130.07" cy="200.82" r="1.16" fill="#46085c"/>
<circle cx="172.17" cy="200.42" r="1.16" fill="#460a5d"/>
<circle cx="147.74" cy="200.18" r="1.16" fill="#460b5e"/>
<circle cx="41.73" cy="203.67" r="1.16" fill="#440154"/>
<circle cx="185.7" cy="201.9" r="1.16" fill="#450559"/>
<circle cx="178.94" cy="201.06" r="1.16" fill="#46085c"/>
<circle cx="83.83" cy="202.96" r="1.16" fill="#440256"/>
<circle cx="24.05" cy="203.91" r="1.16" fill="#440154"/>
<circle cx="101.5" cy="202.33" r="1.16" fill="#450559"/>
<circle cx="66.15" cy="203.46" r="1.16" fill="#440154"/>
<circle cx="119.17" cy="201.6" r="1.16" fill="#46075a"/>
<circle cx="154.51" cy="200.36" r="1.16" fill="#460b5e"/>
<circle cx="136.84" cy="200.88" r="1.16" fill="#460a5d"/>
<circle cx="48.48" cy="203.84" r="1.16" fill="#440154"/>
<circle cx="30.79" cy="204.11" r="1.16" fill="#440154"/>
<circle cx="90.58" cy="203.02" r="1.16" fill="#450457"/>
<circle cx="161.29" cy="200.64" r="1.16" fill="#460b5e"/>
<circle cx="72.91" cy="203.57" r="1.16" fill="#440256"/>
<circle cx="108.26" cy="202.36" r="1.16" fill="#450559"/>
<circle cx="125.94" cy="201.63" r="1.16" fill="#46085c"/>
<circle cx="55.22" cy="203.99" r="1.16" fill="#440154"/>
<circle cx="143.61" cy="200.97" r="1.16" fill="#460a5d"/>
<circle cx="195.14" cy="204.32" r="1.16" fill="#440154"/>
<circle cx="168.06" cy="201.03" r="1.16" fill="#460a5d"/>
<circle cx="37.54" cy="204.3" r="1.16" fill="#440154"/>
<circle cx="174.84" cy="201.56" r="1.16" fill="#46085c"/>
<circle cx="188.38" cy="203.17" r="1.16" fill="#450457"/>
<circle cx="97.34" cy="203.08" r="1.16" fill="#450457"/>
<circle cx="79.66" cy="203.66" r="1.16" fill="#440256"/>
<circle cx="181.61" cy="202.27" r="1.16" fill="#46075a"/>
<circle cx="115.02" cy="202.4" r="1.16" fill="#46075a"/>
<circle cx="61.97" cy="204.13" r="1.16" fill="#440154"/>
<circle cx="150.39" cy="201.13" r="1.16" fill="#460a5d"/>
<circle cx="132.71" cy="201.69" r="1.16" fill="#46085c"/>
<circle cx="44.28" cy="204.47" r="1.16" fill="#440154"/>
<circle cx="86.42" cy="203.75" r="1.16" fill="#440256"/>
<circle cx="26.59" cy="204.72" r="1.16" fill="#440154"/>
<circle cx="157.17" cy="201.35" r="1.16" fill="#460a5d"/>
<circle cx="104.11" cy="203.13" r="1.16" fill="#450559"/>
<circle cx="68.73" cy="204.25" r="1.16" fill="#440256"/>
<circle cx="121.79" cy="202.43" r="1.16" fill="#46075a"/>
<circle cx="139.48" cy="201.77" r="1.16" fill="#460a5d"/>
<circle cx="51.04" cy="204.63" r="1.16" fill="#440154"/>
<circle cx="163.95" cy="201.67" r="1.16" fill="#460a5d"/>
<circle cx="33.33" cy="204.91" r="1.16" fill="#440154"/>
<circle cx="93.18" cy="203.82" r="1.16" fill="#450457"/>
<circle cx="110.87" cy="203.17" r="1.16" fill="#450559"/>
<circle cx="75.49" cy="204.36" r="1.16" fill="#440256"/>
<circle cx="170.73" cy="202.12" r="1.16" fill="#46085c"/>
<circle cx="146.26" cy="201.9" r="1.16" fill="#460a5d"/>
<circle cx="128.57" cy="202.49" r="1.16" fill="#46085c"/>
<circle cx="57.79" cy="204.78" r="1.16" fill="#440154"/>
<circle cx="191.05" cy="204.45" r="1.16" fill="#440256"/>
<circle cx="177.51" cy="202.71" r="1.16" fill="#46075a"/>
<circle cx="184.28" cy="203.48" r="1.16" fill="#450559"/>
<circle cx="40.09" cy="205.1" r="1.16" fill="#440154"/>
<circle cx="99.95" cy="203.88" r="1.16" fill="#450457"/>
<circle cx="153.04" cy="202.09" r="1.16" fill="#460a5d"/>
<circle cx="82.25" cy="204.46" r="1.16" fill="#440256"/>
<circle cx="117.65" cy="203.22" r="1.16" fill="#46075a"/>
<circle cx="135.34" cy="202.56" r="1.16" fill="#46085c"/>
<circle cx="22.37" cy="205.32" r="1.16" fill="#440154"/>
<circle cx="64.55" cy="204.92" r="1.16" fill="#440154"/>
<circle cx="46.84" cy="205.27" r="1.16" fill="#440154"/>
<circle cx="159.83" cy="202.35" r="1.16" fill="#460a5d"/>
<circle cx="29.13" cy="205.52" r="1.16" fill="#440154"/>
<circle cx="89.02" cy="204.54" r="1.16" fill="#440256"/>
<circle cx="106.72" cy="203.94" r="1.16" fill="#450559"/>
<circle cx="124.42" cy="203.27" r="1.16" fill="#46075a"/>
<circle cx="142.13" cy="202.67" r="1.16" fill="#46085c"/>
<circle cx="71.31" cy="205.04" r="1.16" fill="#440256"/>
<circle cx="166.61" cy="202.72" r="1.16" fill="#46085c"/>
<circle cx="53.6" cy="205.43" r="1.16" fill="#440154"/>
<circle cx="193.73" cy="205.73" r="1.16" fill="#440154"/>
<circle cx="173.4" cy="203.22" r="1.16" fill="#46085c"/>
<circle cx="35.88" cy="205.72" r="1.16" fill="#440154"/>
<circle cx="186.96" cy="204.69" r="1.16" fill="#450457"/>
<circle cx="180.18" cy="203.87" r="1.16" fill="#450559"/>
<circle cx="148.91" cy="202.83" r="1.16" fill="#46085c"/>
<circle cx="95.78" cy="204.62" r="1.16" fill="#450457"/>
<circle cx="113.49" cy="203.99" r="1.16" fill="#450559"/>
<circle cx="78.07" cy="205.15" r="1.16" fill="#440256"/>
<circle cx="131.2" cy="203.35" r="1.16" fill="#46075a"/>
<circle cx="60.36" cy="205.58" r="1.16" fill="#440154"/>
<circle cx="42.64" cy="205.9" r="1.16" fill="#440154"/>
<circle cx="155.7" cy="203.06" r="1.16" fill="#46085c"/>
<circle cx="102.56" cy="204.68" r="1.16" fill="#450457"/>
<circle cx="84.84" cy="205.25" r="1.16" fill="#440256"/>
<circle cx="120.27" cy="204.05" r="1.16" fill="#46075a"/>
<circle cx="137.99" cy="203.44" r="1.16" fill="#46085c"/>
<circle cx="24.91" cy="206.13" r="1.16" fill="#440154"/>
<circle cx="67.13" cy="205.71" r="1.16" fill="#440154"/>
<circle cx="162.49" cy="203.37" r="1.16" fill="#46085c"/>
<circle cx="49.4" cy="206.07" r="1.16" fill="#440154"/>
<circle cx="144.78" cy="203.58" r="1.16" fill="#46085c"/>
<circle cx="31.67" cy="206.33" r="1.16" fill="#440154"/>
<circle cx="169.28" cy="203.78" r="1.16" fill="#46085c"/>
<circle cx="109.34" cy="204.75" r="1.16" fill="#450559"/>
<circle cx="91.62" cy="205.34" r="1.16" fill="#450457"/>
<circle cx="127.06" cy="204.12" r="1.16" fill="#46075a"/>
<circle cx="73.89" cy="205.84" r="1.16" fill="#440256"/>
<circle cx="176.07" cy="204.33" r="1.16" fill="#46075a"/>
<circle cx="189.64" cy="205.92" r="1.16" fill="#440256"/>
<circle cx="56.17" cy="206.23" r="1.16" fill="#440154"/>
<circle cx="182.86" cy="205.03" r="1.16" fill="#450457"/>
<circle cx="151.57" cy="203.78" r="1.16" fill="#46085c"/>
<circle cx="38.44" cy="206.53" r="1.16" fill="#440154"/>
<circle cx="98.39" cy="205.42" r="1.16" fill="#450457"/>
<circle cx="116.12" cy="204.82" r="1.16" fill="#450559"/>
<circle cx="133.84" cy="204.22" r="1.16" fill="#46075a"/>
<circle cx="80.67" cy="205.95" r="1.16" fill="#440256"/>
<circle cx="62.94" cy="206.38" r="1.16" fill="#440154"/>
<circle cx="20.7" cy="206.73" r="1.16" fill="#440154"/>
<circle cx="158.36" cy="204.04" r="1.16" fill="#46085c"/>
<circle cx="45.2" cy="206.71" r="1.16" fill="#440154"/>
<circle cx="140.63" cy="204.34" r="1.16" fill="#46085c"/>
<circle cx="105.17" cy="205.5" r="1.16" fill="#450457"/>
<circle cx="122.9" cy="204.89" r="1.16" fill="#46075a"/>
<circle cx="87.44" cy="206.05" r="1.16" fill="#440256"/>
<circle cx="27.46" cy="206.94" r="1.16" fill="#440154"/>
<circle cx="165.16" cy="204.39" r="1.16" fill="#46085c"/>
<circle cx="69.71" cy="206.51" r="1.16" fill="#440154"/>
<circle cx="51.97" cy="206.88" r="1.16" fill="#440154"/>
<circle cx="171.95" cy="204.85" r="1.16" fill="#46075a"/>
<circle cx="147.43" cy="204.51" r="1.16" fill="#46085c"/>
<circle cx="192.32" cy="207.14" r="1.16" fill="#440154"/>
<circle cx="178.75" cy="205.45" r="1.16" fill="#450559"/>
<circle cx="129.69" cy="204.98" r="1.16" fill="#46075a"/>
<circle cx="34.23" cy="207.15" r="1.16" fill="#440154"/>
<circle cx="111.96" cy="205.57" r="1.16" fill="#450559"/>
<circle cx="185.54" cy="206.2" r="1.16" fill="#440256"/>
<circle cx="94.22" cy="206.14" r="1.16" fill="#450457"/>
<circle cx="76.48" cy="206.64" r="1.16" fill="#440256"/>
<circle cx="58.74" cy="207.03" r="1.16" fill="#440154"/>
<circle cx="154.23" cy="204.73" r="1.16" fill="#46085c"/>
<circle cx="40.99" cy="207.34" r="1.16" fill="#440154"/>
<circle cx="136.49" cy="205.09" r="1.16" fill="#46075a"/>
<circle cx="118.75" cy="205.65" r="1.16" fill="#450559"/>
<circle cx="101.01" cy="206.23" r="1.16" fill="#450457"/>
<circle cx="83.26" cy="206.75" r="1.16" fill="#440256"/>
<circle cx="161.03" cy="205.03" r="1.16" fill="#46075a"/>
<circle cx="65.52" cy="207.18" r="1.16" fill="#440154"/>
<circle cx="23.24" cy="207.55" r="1.16" fill="#440154"/>
<circle cx="47.77" cy="207.51" r="1.16" fill="#440154"/>
<circle cx="143.29" cy="205.24" r="1.16" fill="#46075a"/>
<circle cx="167.83" cy="205.42" r="1.16" fill="#46075a"/>
<circle cx="125.54" cy="205.74" r="1.16" fill="#450559"/>
<circle cx="107.79" cy="206.31" r="1.16" fill="#450457"/>
<circle cx="90.05" cy="206.85" r="1.16" fill="#440256"/>
<circle cx="30.01" cy="207.76" r="1.16" fill="#440154"/>
<circle cx="72.3" cy="207.31" r="1.16" fill="#440154"/>
<circle cx="174.63" cy="205.93" r="1.16" fill="#450559"/>
<circle cx="181.43" cy="206.58" r="1.16" fill="#450457"/>
<circle cx="188.22" cy="207.38" r="1.16" fill="#440154"/>
<circle cx="54.54" cy="207.68" r="1.16" fill="#440154"/>
<circle cx="150.09" cy="205.44" r="1.16" fill="#46075a"/>
<circle cx="132.34" cy="205.85" r="1.16" fill="#46075a"/>
<circle cx="114.59" cy="206.4" r="1.16" fill="#450559"/>
<circle cx="36.78" cy="207.96" r="1.16" fill="#440154"/>
<circle cx="96.83" cy="206.95" r="1.16" fill="#450457"/>
<circle cx="79.08" cy="207.44" r="1.16" fill="#440256"/>
<circle cx="156.89" cy="205.7" r="1.16" fill="#46075a"/>
<circle cx="61.32" cy="207.84" r="1.16" fill="#440154"/>
<circle cx="139.14" cy="205.98" r="1.16" fill="#46075a"/>
<circle cx="43.56" cy="208.15" r="1.16" fill="#440154"/>
<circle cx="121.38" cy="206.49" r="1.16" fill="#450559"/>
<circle cx="103.62" cy="207.04" r="1.16" fill="#450457"/>
<circle cx="163.7" cy="206.03" r="1.16" fill="#46075a"/>
<circle cx="85.87" cy="207.55" r="1.16" fill="#440256"/>
<circle cx="25.79" cy="208.37" r="1.16" fill="#440154"/>
<circle cx="68.1" cy="207.98" r="1.16" fill="#440154"/>
<circle cx="170.5" cy="206.47" r="1.16" fill="#450559"/>
<circle cx="145.94" cy="206.15" r="1.16" fill="#46075a"/>
<circle cx="50.34" cy="208.32" r="1.16" fill="#440154"/>
<circle cx="128.18" cy="206.59" r="1.16" fill="#450559"/>
<circle cx="177.31" cy="207.02" r="1.16" fill="#450457"/>
<circle cx="110.42" cy="207.13" r="1.16" fill="#450457"/>
<circle cx="190.91" cy="208.56" r="1.16" fill="#440154"/>
<circle cx="92.66" cy="207.66" r="1.16" fill="#440256"/>
<circle cx="184.11" cy="207.71" r="1.16" fill="#440256"/>
<circle cx="32.56" cy="208.58" r="1.16" fill="#440154"/>
<circle cx="74.89" cy="208.12" r="1.16" fill="#440154"/>
<circle cx="152.75" cy="206.38" r="1.16" fill="#46075a"/>
<circle cx="57.12" cy="208.49" r="1.16" fill="#440154"/>
<circle cx="134.99" cy="206.72" r="1.16" fill="#46075a"/>
<circle cx="117.22" cy="207.23" r="1.16" fill="#450559"/>
<circle cx="39.34" cy="208.77" r="1.16" fill="#440154"/>
<circle cx="99.45" cy="207.76" r="1.16" fill="#450457"/>
<circle cx="81.68" cy="208.24" r="1.16" fill="#440256"/>
<circle cx="159.56" cy="206.67" r="1.16" fill="#46075a"/>
<circle cx="63.9" cy="208.64" r="1.16" fill="#440154"/>
<circle cx="141.79" cy="206.88" r="1.16" fill="#46075a"/>
<circle cx="166.37" cy="207.04" r="1.16" fill="#450559"/>
<circle cx="46.12" cy="208.96" r="1.16" fill="#440154"/>
<circle cx="124.02" cy="207.33" r="1.16" fill="#450559"/>
<circle cx="106.25" cy="207.86" r="1.16" fill="#450457"/>
<circle cx="88.47" cy="208.36" r="1.16" fill="#440256"/>
<circle cx="173.18" cy="207.52" r="1.16" fill="#450559"/>
<circle cx="28.34" cy="209.19" r="1.16" fill="#440154"/>
<circle cx="70.69" cy="208.79" r="1.16" fill="#440154"/>
<circle cx="148.6" cy="207.07" r="1.16" fill="#46075a"/>
<circle cx="179.99" cy="208.11" r="1.16" fill="#450457"/>
<circle cx="186.8" cy="208.84" r="1.16" fill="#440154"/>
<circle cx="52.91" cy="209.13" r="1.16" fill="#440154"/>
<circle cx="130.83" cy="207.46" r="1.16" fill="#450559"/>
<circle cx="113.05" cy="207.96" r="1.16" fill="#450457"/>
<circle cx="95.27" cy="208.47" r="1.16" fill="#440256"/>
<circle cx="35.12" cy="209.39" r="1.16" fill="#440154"/>
<circle cx="77.49" cy="208.93" r="1.16" fill="#440256"/>
<circle cx="155.42" cy="207.33" r="1.16" fill="#46075a"/>
<circle cx="59.7" cy="209.3" r="1.16" fill="#440154"/>
<circle cx="137.64" cy="207.6" r="1.16" fill="#450559"/>
<circle cx="119.86" cy="208.07" r="1.16" fill="#450559"/>
<circle cx="162.23" cy="207.65" r="1.16" fill="#450559"/>
<circle cx="41.91" cy="209.59" r="1.16" fill="#440154"/>
<circle cx="102.07" cy="208.58" r="1.16" fill="#450457"/>
<circle cx="84.28" cy="209.05" r="1.16" fill="#440256"/>
<circle cx="66.49" cy="209.45" r="1.16" fill="#440154"/>
<circle cx="169.05" cy="208.06" r="1.16" fill="#450559"/>
<circle cx="144.45" cy="207.78" r="1.16" fill="#46075a"/>
<circle cx="48.7" cy="209.77" r="1.16" fill="#440154"/>
<circle cx="126.67" cy="208.19" r="1.16" fill="#450559"/>
<circle cx="175.87" cy="208.57" r="1.16" fill="#450457"/>
<circle cx="108.88" cy="208.69" r="1.16" fill="#450457"/>
<circle cx="91.08" cy="209.17" r="1.16" fill="#440256"/>
<circle cx="182.68" cy="209.21" r="1.16" fill="#440256"/>
<circle cx="189.5" cy="209.98" r="1.16" fill="#440154"/>
<circle cx="30.89" cy="210.01" r="1.16" fill="#440154"/>
<circle cx="73.29" cy="209.6" r="1.16" fill="#440154"/>
<circle cx="151.27" cy="208" r="1.16" fill="#46075a"/>
<circle cx="55.49" cy="209.95" r="1.16" fill="#440154"/>
<circle cx="133.48" cy="208.32" r="1.16" fill="#450559"/>
<circle cx="115.68" cy="208.8" r="1.16" fill="#450457"/>
<circle cx="97.89" cy="209.29" r="1.16" fill="#440256"/>
<circle cx="158.09" cy="208.29" r="1.16" fill="#450559"/>
<circle cx="37.68" cy="210.21" r="1.16" fill="#440154"/>
<circle cx="80.09" cy="209.74" r="1.16" fill="#440256"/>
<circle cx="62.29" cy="210.11" r="1.16" fill="#440154"/>
<circle cx="140.3" cy="208.49" r="1.16" fill="#450559"/>
<circle cx="164.91" cy="208.64" r="1.16" fill="#450559"/>
<circle cx="122.5" cy="208.91" r="1.16" fill="#450559"/>
<circle cx="44.48" cy="210.41" r="1.16" fill="#440154"/>
<circle cx="104.7" cy="209.4" r="1.16" fill="#450457"/>
<circle cx="86.89" cy="209.87" r="1.16" fill="#440256"/>
<circle cx="171.73" cy="209.08" r="1.16" fill="#450457"/>
<circle cx="147.12" cy="208.69" r="1.16" fill="#450559"/>
<circle cx="69.09" cy="210.26" r="1.16" fill="#440154"/>
<circle cx="178.56" cy="209.63" r="1.16" fill="#440256"/>
<circle cx="185.38" cy="210.31" r="1.16" fill="#440154"/>
<circle cx="129.31" cy="209.05" r="1.16" fill="#450559"/>
<circle cx="51.27" cy="210.59" r="1.16" fill="#440154"/>
<circle cx="111.51" cy="209.52" r="1.16" fill="#450457"/>
<circle cx="93.7" cy="209.99" r="1.16" fill="#440256"/>
<circle cx="153.94" cy="208.94" r="1.16" fill="#450559"/>
<circle cx="33.45" cy="210.83" r="1.16" fill="#440154"/>
<circle cx="75.89" cy="210.41" r="1.16" fill="#440154"/>
<circle cx="136.13" cy="209.2" r="1.16" fill="#450559"/>
<circle cx="58.07" cy="210.76" r="1.16" fill="#440154"/>
<circle cx="118.32" cy="209.64" r="1.16" fill="#450457"/>
<circle cx="160.77" cy="209.25" r="1.16" fill="#450559"/>
<circle cx="100.51" cy="210.11" r="1.16" fill="#440256"/>
<circle cx="40.25" cy="211.04" r="1.16" fill="#440154"/>
<circle cx="82.7" cy="210.55" r="1.16" fill="#440256"/>
<circle cx="167.59" cy="209.64" r="1.16" fill="#450559"/>
<circle cx="142.96" cy="209.38" r="1.16" fill="#450559"/>
<circle cx="64.88" cy="210.92" r="1.16" fill="#440154"/>
<circle cx="125.14" cy="209.77" r="1.16" fill="#450457"/>
<circle cx="174.42" cy="210.11" r="1.16" fill="#450457"/>
<circle cx="47.05" cy="211.23" r="1.16" fill="#440154"/>
<circle cx="107.33" cy="210.23" r="1.16" fill="#450457"/>
<circle cx="89.51" cy="210.68" r="1.16" fill="#440256"/>
<circle cx="181.25" cy="210.7" r="1.16" fill="#440256"/>
<circle cx="149.79" cy="209.61" r="1.16" fill="#450559"/>
<circle cx="188.07" cy="211.41" r="1.16" fill="#440154"/>
<circle cx="71.68" cy="211.08" r="1.16" fill="#440154"/>
<circle cx="131.97" cy="209.91" r="1.16" fill="#450559"/>
<circle cx="53.86" cy="211.41" r="1.16" fill="#440154"/>
<circle cx="114.15" cy="210.35" r="1.16" fill="#450457"/>
<circle cx="156.62" cy="209.88" r="1.16" fill="#450559"/>
<circle cx="96.32" cy="210.81" r="1.16" fill="#440256"/>
<circle cx="36.02" cy="211.66" r="1.16" fill="#440154"/>
<circle cx="78.49" cy="211.23" r="1.16" fill="#440154"/>
<circle cx="138.79" cy="210.08" r="1.16" fill="#450559"/>
<circle cx="163.45" cy="210.22" r="1.16" fill="#450559"/>
<circle cx="60.66" cy="211.58" r="1.16" fill="#440154"/>
<circle cx="120.97" cy="210.48" r="1.16" fill="#450457"/>
<circle cx="103.14" cy="210.93" r="1.16" fill="#440256"/>
<circle cx="42.82" cy="211.86" r="1.16" fill="#440154"/>
<circle cx="170.28" cy="210.64" r="1.16" fill="#450457"/>
<circle cx="85.31" cy="211.37" r="1.16" fill="#440256"/>
<circle cx="145.63" cy="210.29" r="1.16" fill="#450559"/>
<circle cx="67.47" cy="211.74" r="1.16" fill="#440154"/>
<circle cx="177.11" cy="211.15" r="1.16" fill="#440256"/>
<circle cx="127.8" cy="210.62" r="1.16" fill="#450457"/>
<circle cx="183.95" cy="211.77" r="1.16" fill="#440154"/>
<circle cx="49.63" cy="212.05" r="1.16" fill="#440154"/>
<circle cx="109.96" cy="211.06" r="1.16" fill="#450457"/>
<circle cx="152.46" cy="210.53" r="1.16" fill="#450559"/>
<circle cx="92.13" cy="211.5" r="1.16" fill="#440256"/>
<circle cx="74.29" cy="211.9" r="1.16" fill="#440154"/>
<circle cx="134.63" cy="210.79" r="1.16" fill="#450559"/>
<circle cx="56.44" cy="212.23" r="1.16" fill="#440154"/>
<circle cx="159.3" cy="210.83" r="1.16" fill="#450559"/>
<circle cx="116.79" cy="211.19" r="1.16" fill="#450457"/>
<circle cx="98.95" cy="211.63" r="1.16" fill="#440256"/>
<circle cx="38.59" cy="212.49" r="1.16" fill="#440154"/>
<circle cx="81.1" cy="212.04" r="1.16" fill="#440154"/>
<circle cx="166.13" cy="211.2" r="1.16" fill="#450457"/>
<circle cx="141.46" cy="210.97" r="1.16" fill="#450559"/>
<circle cx="63.26" cy="212.4" r="1.16" fill="#440154"/>
<circle cx="123.62" cy="211.33" r="1.16" fill="#450457"/>
<circle cx="172.97" cy="211.65" r="1.16" fill="#450457"/>
<circle cx="105.77" cy="211.76" r="1.16" fill="#440256"/>
<circle cx="45.4" cy="212.68" r="1.16" fill="#440154"/>
<circle cx="87.92" cy="212.19" r="1.16" fill="#440256"/>
<circle cx="148.3" cy="211.2" r="1.16" fill="#450559"/>
<circle cx="179.81" cy="212.19" r="1.16" fill="#440256"/>
<circle cx="186.65" cy="212.84" r="1.16" fill="#440154"/>
<circle cx="70.07" cy="212.56" r="1.16" fill="#440154"/>
<circle cx="130.45" cy="211.49" r="1.16" fill="#450457"/>
<circle cx="112.6" cy="211.9" r="1.16" fill="#450457"/>
<circle cx="52.22" cy="212.87" r="1.16" fill="#440154"/>
<circle cx="155.14" cy="211.47" r="1.16" fill="#450457"/>
<circle cx="94.75" cy="212.32" r="1.16" fill="#440256"/>
<circle cx="76.89" cy="212.71" r="1.16" fill="#440154"/>
<circle cx="137.29" cy="211.66" r="1.16" fill="#450457"/>
<circle cx="161.98" cy="211.79" r="1.16" fill="#450457"/>
<circle cx="59.03" cy="213.05" r="1.16" fill="#440154"/>
<circle cx="119.43" cy="212.04" r="1.16" fill="#450457"/>
<circle cx="101.58" cy="212.46" r="1.16" fill="#440256"/>
<circle cx="168.82" cy="212.18" r="1.16" fill="#450457"/>
<circle cx="41.17" cy="213.31" r="1.16" fill="#440154"/>
<circle cx="83.72" cy="212.86" r="1.16" fill="#440154"/>
<circle cx="144.13" cy="211.87" r="1.16" fill="#450457"/>
<circle cx="65.85" cy="213.22" r="1.16" fill="#440154"/>
<circle cx="175.67" cy="212.66" r="1.16" fill="#440256"/>
<circle cx="126.27" cy="212.19" r="1.16" fill="#450457"/>
<circle cx="108.41" cy="212.6" r="1.16" fill="#440256"/>
<circle cx="182.51" cy="213.23" r="1.16" fill="#440154"/>
<circle cx="47.98" cy="213.51" r="1.16" fill="#440154"/>
<circle cx="150.97" cy="212.11" r="1.16" fill="#450457"/>
<circle cx="90.55" cy="213.01" r="1.16" fill="#440256"/>
<circle cx="72.68" cy="213.38" r="1.16" fill="#440154"/>
<circle cx="133.11" cy="212.36" r="1.16" fill="#450457"/>
<circle cx="157.82" cy="212.4" r="1.16" fill="#450457"/>
<circle cx="115.25" cy="212.74" r="1.16" fill="#450457"/>
<circle cx="54.8" cy="213.69" r="1.16" fill="#440154"/>
<circle cx="97.38" cy="213.15" r="1.16" fill="#440256"/>
<circle cx="79.51" cy="213.54" r="1.16" fill="#440154"/>
<circle cx="139.96" cy="212.55" r="1.16" fill="#450457"/>
<circle cx="164.67" cy="212.75" r="1.16" fill="#450457"/>
<circle cx="61.63" cy="213.87" r="1.16" fill="#440154"/>
<circle cx="122.09" cy="212.89" r="1.16" fill="#450457"/>
<circle cx="171.52" cy="213.17" r="1.16" fill="#440256"/>
<circle cx="104.21" cy="213.29" r="1.16" fill="#440256"/>
<circle cx="43.75" cy="214.14" r="1.16" fill="#440154"/>
<circle cx="146.8" cy="212.77" r="1.16" fill="#450457"/>
<circle cx="86.34" cy="213.69" r="1.16" fill="#440154"/>
<circle cx="178.37" cy="213.68" r="1.16" fill="#440256"/>
<circle cx="68.46" cy="214.04" r="1.16" fill="#440154"/>
<circle cx="128.93" cy="213.05" r="1.16" fill="#450457"/>
<circle cx="185.22" cy="214.28" r="1.16" fill="#440154"/>
<circle cx="111.05" cy="213.43" r="1.16" fill="#440256"/>
<circle cx="153.65" cy="213.03" r="1.16" fill="#450457"/>
<circle cx="50.57" cy="214.34" r="1.16" fill="#440154"/>
<circle cx="93.17" cy="213.83" r="1.16" fill="#440256"/>
<circle cx="135.78" cy="213.23" r="1.16" fill="#450457"/>
<circle cx="75.29" cy="214.2" r="1.16" fill="#440154"/>
<circle cx="160.51" cy="213.35" r="1.16" fill="#450457"/>
<circle cx="117.9" cy="213.58" r="1.16" fill="#440256"/>
<circle cx="57.4" cy="214.52" r="1.16" fill="#440154"/>
<circle cx="100.01" cy="213.98" r="1.16" fill="#440256"/>
<circle cx="167.36" cy="213.72" r="1.16" fill="#440256"/>
<circle cx="142.63" cy="213.44" r="1.16" fill="#450457"/>
<circle cx="82.12" cy="214.36" r="1.16" fill="#440154"/>
<circle cx="124.74" cy="213.74" r="1.16" fill="#450457"/>
<circle cx="174.22" cy="214.17" r="1.16" fill="#440256"/>
<circle cx="64.23" cy="214.7" r="1.16" fill="#440154"/>
<circle cx="106.85" cy="214.13" r="1.16" fill="#440256"/>
<circle cx="149.48" cy="213.68" r="1.16" fill="#450457"/>
<circle cx="181.07" cy="214.7" r="1.16" fill="#440154"/>
<circle cx="46.33" cy="214.98" r="1.16" fill="#440154"/>
<circle cx="88.96" cy="214.51" r="1.16" fill="#440154"/>
<circle cx="131.59" cy="213.92" r="1.16" fill="#450457"/>
<circle cx="71.06" cy="214.87" r="1.16" fill="#440154"/>
<circle cx="156.34" cy="213.96" r="1.16" fill="#450457"/>
<circle cx="113.7" cy="214.28" r="1.16" fill="#440256"/>
<circle cx="53.16" cy="215.17" r="1.16" fill="#440154"/>
<circle cx="95.8" cy="214.66" r="1.16" fill="#440256"/>
<circle cx="138.45" cy="214.11" r="1.16" fill="#450457"/>
<circle cx="163.2" cy="214.3" r="1.16" fill="#450457"/>
<circle cx="77.9" cy="215.03" r="1.16" fill="#440154"/>
<circle cx="120.55" cy="214.43" r="1.16" fill="#440256"/>
<circle cx="60" cy="215.35" r="1.16" fill="#440154"/>
<circle cx="170.06" cy="214.69" r="1.16" fill="#440256"/>
<circle cx="102.65" cy="214.81" r="1.16" fill="#440256"/>
<circle cx="145.31" cy="214.33" r="1.16" fill="#450457"/>
<circle cx="84.74" cy="215.19" r="1.16" fill="#440154"/>
<circle cx="176.92" cy="215.16" r="1.16" fill="#440154"/>
<circle cx="127.41" cy="214.6" r="1.16" fill="#450457"/>
<circle cx="66.84" cy="215.53" r="1.16" fill="#440154"/>
<circle cx="183.78" cy="215.72" r="1.16" fill="#440154"/>
<circle cx="152.17" cy="214.59" r="1.16" fill="#450457"/>
<circle cx="109.5" cy="214.97" r="1.16" fill="#440256"/>
<circle cx="48.92" cy="215.81" r="1.16" fill="#440154"/>
<circle cx="91.59" cy="215.34" r="1.16" fill="#440154"/>
<circle cx="134.26" cy="214.79" r="1.16" fill="#450457"/>
<circle cx="73.68" cy="215.69" r="1.16" fill="#440154"/>
<circle cx="159.03" cy="214.89" r="1.16" fill="#450457"/>
<circle cx="116.35" cy="215.12" r="1.16" fill="#440256"/>
<circle cx="55.76" cy="216" r="1.16" fill="#440154"/>
<circle cx="98.44" cy="215.5" r="1.16" fill="#440256"/>
<circle cx="165.9" cy="215.25" r="1.16" fill="#440256"/>
<circle cx="141.12" cy="215" r="1.16" fill="#450457"/>
<circle cx="80.52" cy="215.86" r="1.16" fill="#440154"/>
<circle cx="123.21" cy="215.29" r="1.16" fill="#440256"/>
<circle cx="172.76" cy="215.67" r="1.16" fill="#440256"/>
<circle cx="62.6" cy="216.18" r="1.16" fill="#440154"/>
<circle cx="105.29" cy="215.65" r="1.16" fill="#440256"/>
<circle cx="147.99" cy="215.24" r="1.16" fill="#450457"/>
<circle cx="179.63" cy="216.16" r="1.16" fill="#440154"/>
<circle cx="87.37" cy="216.02" r="1.16" fill="#440154"/>
<circle cx="130.07" cy="215.47" r="1.16" fill="#450457"/>
<circle cx="69.45" cy="216.35" r="1.16" fill="#440154"/>
<circle cx="154.86" cy="215.51" r="1.16" fill="#450457"/>
<circle cx="112.15" cy="215.81" r="1.16" fill="#440256"/>
<circle cx="51.52" cy="216.64" r="1.16" fill="#440154"/>
<circle cx="94.22" cy="216.18" r="1.16" fill="#440154"/>
<circle cx="136.94" cy="215.67" r="1.16" fill="#450457"/>
<circle cx="161.73" cy="215.83" r="1.16" fill="#440256"/>
<circle cx="76.29" cy="216.52" r="1.16" fill="#440154"/>
<circle cx="119.01" cy="215.97" r="1.16" fill="#440256"/>
<circle cx="58.36" cy="216.83" r="1.16" fill="#440154"/>
<circle cx="168.6" cy="216.21" r="1.16" fill="#440256"/>
<circle cx="101.08" cy="216.33" r="1.16" fill="#440256"/>
<circle cx="143.8" cy="215.89" r="1.16" fill="#450457"/>
<circle cx="83.15" cy="216.69" r="1.16" fill="#440154"/>
<circle cx="175.47" cy="216.65" r="1.16" fill="#440154"/>
<circle cx="125.88" cy="216.15" r="1.16" fill="#440256"/>
<circle cx="65.21" cy="217.01" r="1.16" fill="#440154"/>
<circle cx="150.68" cy="216.14" r="1.16" fill="#440256"/>
<circle cx="182.34" cy="217.17" r="1.16" fill="#440154"/>
<circle cx="107.94" cy="216.49" r="1.16" fill="#440256"/>
<circle cx="90" cy="216.85" r="1.16" fill="#440154"/>
<circle cx="132.74" cy="216.34" r="1.16" fill="#440256"/>
<circle cx="157.55" cy="216.43" r="1.16" fill="#440256"/>
<circle cx="72.06" cy="217.19" r="1.16" fill="#440154"/>
<circle cx="114.81" cy="216.66" r="1.16" fill="#440256"/>
<circle cx="54.11" cy="217.48" r="1.16" fill="#440154"/>
<circle cx="96.86" cy="217.01" r="1.16" fill="#440154"/>
<circle cx="164.43" cy="216.77" r="1.16" fill="#440256"/>
<circle cx="139.61" cy="216.55" r="1.16" fill="#440256"/>
<circle cx="78.92" cy="217.36" r="1.16" fill="#440154"/>
<circle cx="121.67" cy="216.83" r="1.16" fill="#440256"/>
<circle cx="171.3" cy="217.17" r="1.16" fill="#440256"/>
<circle cx="60.97" cy="217.67" r="1.16" fill="#440154"/>
<circle cx="103.73" cy="217.17" r="1.16" fill="#440256"/>
<circle cx="146.49" cy="216.78" r="1.16" fill="#440256"/>
<circle cx="178.18" cy="217.63" r="1.16" fill="#440154"/>
<circle cx="85.78" cy="217.52" r="1.16" fill="#440154"/>
<circle cx="128.54" cy="217.01" r="1.16" fill="#440256"/>
<circle cx="67.82" cy="217.85" r="1.16" fill="#440154"/>
<circle cx="153.37" cy="217.05" r="1.16" fill="#440256"/>
<circle cx="110.59" cy="217.34" r="1.16" fill="#440256"/>
<circle cx="92.64" cy="217.69" r="1.16" fill="#440154"/>
<circle cx="135.42" cy="217.21" r="1.16" fill="#440256"/>
<circle cx="160.25" cy="217.36" r="1.16" fill="#440256"/>
<circle cx="74.68" cy="218.02" r="1.16" fill="#440154"/>
<circle cx="117.47" cy="217.51" r="1.16" fill="#440256"/>
<circle cx="56.72" cy="218.32" r="1.16" fill="#440154"/>
<circle cx="167.13" cy="217.72" r="1.16" fill="#440256"/>
<circle cx="99.51" cy="217.85" r="1.16" fill="#440154"/>
<circle cx="142.3" cy="217.43" r="1.16" fill="#440256"/>
<circle cx="81.54" cy="218.19" r="1.16" fill="#440154"/>
<circle cx="174.01" cy="218.13" r="1.16" fill="#440154"/>
<circle cx="124.34" cy="217.69" r="1.16" fill="#440256"/>
<circle cx="63.58" cy="218.5" r="1.16" fill="#440154"/>
<circle cx="149.18" cy="217.68" r="1.16" fill="#440256"/>
<circle cx="106.38" cy="218.02" r="1.16" fill="#440256"/>
<circle cx="180.9" cy="218.62" r="1.16" fill="#440154"/>
<circle cx="88.41" cy="218.36" r="1.16" fill="#440154"/>
<circle cx="131.22" cy="217.88" r="1.16" fill="#440256"/>
<circle cx="156.06" cy="217.97" r="1.16" fill="#440256"/>
<circle cx="70.44" cy="218.68" r="1.16" fill="#440154"/>
<circle cx="113.25" cy="218.18" r="1.16" fill="#440256"/>
<circle cx="95.28" cy="218.52" r="1.16" fill="#440154"/>
<circle cx="138.1" cy="218.09" r="1.16" fill="#440256"/>
<circle cx="162.95" cy="218.29" r="1.16" fill="#440256"/>
<circle cx="77.31" cy="218.86" r="1.16" fill="#440154"/>
<circle cx="120.13" cy="218.36" r="1.16" fill="#440256"/>
<circle cx="169.84" cy="218.67" r="1.16" fill="#440154"/>
<circle cx="59.33" cy="219.16" r="1.16" fill="#440154"/>
<circle cx="144.99" cy="218.32" r="1.16" fill="#440256"/>
<circle cx="102.16" cy="218.69" r="1.16" fill="#440154"/>
<circle cx="176.73" cy="219.1" r="1.16" fill="#440154"/>
<circle cx="84.18" cy="219.03" r="1.16" fill="#440154"/>
<circle cx="127.01" cy="218.55" r="1.16" fill="#440256"/>
<circle cx="151.87" cy="218.59" r="1.16" fill="#440256"/>
<circle cx="66.19" cy="219.34" r="1.16" fill="#440154"/>
<circle cx="109.03" cy="218.86" r="1.16" fill="#440256"/>
<circle cx="91.05" cy="219.2" r="1.16" fill="#440154"/>
<circle cx="133.9" cy="218.75" r="1.16" fill="#440256"/>
<circle cx="158.76" cy="218.89" r="1.16" fill="#440256"/>
<circle cx="73.06" cy="219.52" r="1.16" fill="#440154"/>
<circle cx="115.92" cy="219.04" r="1.16" fill="#440256"/>
<circle cx="165.66" cy="219.23" r="1.16" fill="#440256"/>
<circle cx="97.93" cy="219.37" r="1.16" fill="#440154"/>
<circle cx="140.79" cy="218.97" r="1.16" fill="#440256"/>
<circle cx="79.94" cy="219.69" r="1.16" fill="#440154"/>
<circle cx="122.8" cy="219.22" r="1.16" fill="#440256"/>
<circle cx="172.55" cy="219.62" r="1.16" fill="#440154"/>
<circle cx="61.94" cy="220" r="1.16" fill="#440154"/>
<circle cx="147.68" cy="219.22" r="1.16" fill="#440256"/>
<circle cx="104.81" cy="219.54" r="1.16" fill="#440154"/>
<circle cx="179.45" cy="220.07" r="1.16" fill="#440154"/>
<circle cx="86.81" cy="219.87" r="1.16" fill="#440154"/>
<circle cx="129.69" cy="219.42" r="1.16" fill="#440256"/>
<circle cx="154.57" cy="219.49" r="1.16" fill="#440256"/>
<circle cx="68.81" cy="220.18" r="1.16" fill="#440154"/>
<circle cx="111.69" cy="219.71" r="1.16" fill="#440256"/>
<circle cx="93.69" cy="220.04" r="1.16" fill="#440154"/>
<circle cx="136.58" cy="219.63" r="1.16" fill="#440256"/>
<circle cx="161.47" cy="219.81" r="1.16" fill="#440256"/>
<circle cx="75.69" cy="220.36" r="1.16" fill="#440154"/>
<circle cx="118.58" cy="219.89" r="1.16" fill="#440256"/>
<circle cx="168.37" cy="220.17" r="1.16" fill="#440154"/>
<circle cx="143.48" cy="219.86" r="1.16" fill="#440256"/>
<circle cx="100.58" cy="220.21" r="1.16" fill="#440154"/>
<circle cx="82.57" cy="220.53" r="1.16" fill="#440154"/>
<circle cx="175.27" cy="220.58" r="1.16" fill="#440154"/>
<circle cx="125.48" cy="220.08" r="1.16" fill="#440256"/>
<circle cx="150.38" cy="220.12" r="1.16" fill="#440256"/>
<circle cx="64.56" cy="220.84" r="1.16" fill="#440154"/>
<circle cx="107.47" cy="220.38" r="1.16" fill="#440154"/>
<circle cx="89.46" cy="220.71" r="1.16" fill="#440154"/>
<circle cx="132.37" cy="220.29" r="1.16" fill="#440256"/>
<circle cx="157.28" cy="220.41" r="1.16" fill="#440256"/>
<circle cx="71.44" cy="221.02" r="1.16" fill="#440154"/>
<circle cx="114.36" cy="220.56" r="1.16" fill="#440256"/>
<circle cx="164.18" cy="220.73" r="1.16" fill="#440154"/>
<circle cx="139.27" cy="220.51" r="1.16" fill="#440256"/>
<circle cx="96.34" cy="220.88" r="1.16" fill="#440154"/>
<circle cx="78.32" cy="221.2" r="1.16" fill="#440154"/>
<circle cx="121.26" cy="220.75" r="1.16" fill="#440256"/>
<circle cx="171.09" cy="221.11" r="1.16" fill="#440154"/>
<circle cx="146.17" cy="220.75" r="1.16" fill="#440256"/>
<circle cx="103.24" cy="221.06" r="1.16" fill="#440154"/>
<circle cx="178" cy="221.53" r="1.16" fill="#440154"/>
<circle cx="85.21" cy="221.38" r="1.16" fill="#440154"/>
<circle cx="128.16" cy="220.95" r="1.16" fill="#440256"/>
<circle cx="153.08" cy="221.02" r="1.16" fill="#440256"/>
<circle cx="67.18" cy="221.68" r="1.16" fill="#440154"/>
<circle cx="110.13" cy="221.23" r="1.16" fill="#440154"/>
<circle cx="92.1" cy="221.55" r="1.16" fill="#440154"/>
<circle cx="135.06" cy="221.16" r="1.16" fill="#440256"/>
<circle cx="159.99" cy="221.32" r="1.16" fill="#440256"/>
<circle cx="74.07" cy="221.86" r="1.16" fill="#440154"/>
<circle cx="117.03" cy="221.42" r="1.16" fill="#440256"/>
<circle cx="166.9" cy="221.66" r="1.16" fill="#440154"/>
<circle cx="141.96" cy="221.39" r="1.16" fill="#440256"/>
<circle cx="99" cy="221.73" r="1.16" fill="#440154"/>
<circle cx="80.96" cy="222.04" r="1.16" fill="#440154"/>
<circle cx="123.93" cy="221.61" r="1.16" fill="#440256"/>
<circle cx="173.81" cy="222.05" r="1.16" fill="#440154"/>
<circle cx="148.87" cy="221.64" r="1.16" fill="#440256"/>
<circle cx="105.9" cy="221.91" r="1.16" fill="#440154"/>
<circle cx="87.86" cy="222.22" r="1.16" fill="#440154"/>
<circle cx="130.84" cy="221.82" r="1.16" fill="#440256"/>
<circle cx="155.79" cy="221.92" r="1.16" fill="#440256"/>
<circle cx="69.81" cy="222.53" r="1.16" fill="#440154"/>
<circle cx="112.8" cy="222.09" r="1.16" fill="#440154"/>
<circle cx="137.75" cy="222.04" r="1.16" fill="#440256"/>
<circle cx="162.7" cy="222.24" r="1.16" fill="#440154"/>
<circle cx="94.76" cy="222.4" r="1.16" fill="#440154"/>
<circle cx="76.71" cy="222.71" r="1.16" fill="#440154"/>
<circle cx="119.71" cy="222.28" r="1.16" fill="#440154"/>
<circle cx="169.62" cy="222.6" r="1.16" fill="#440154"/>
<circle cx="144.66" cy="222.28" r="1.16" fill="#440256"/>
<circle cx="101.66" cy="222.58" r="1.16" fill="#440154"/>
<circle cx="176.54" cy="223" r="1.16" fill="#440154"/>
<circle cx="83.6" cy="222.89" r="1.16" fill="#440154"/>
<circle cx="126.62" cy="222.48" r="1.16" fill="#440256"/>
<circle cx="151.58" cy="222.54" r="1.16" fill="#440256"/>
<circle cx="108.56" cy="222.76" r="1.16" fill="#440154"/>
<circle cx="133.53" cy="222.69" r="1.16" fill="#440256"/>
<circle cx="90.51" cy="223.07" r="1.16" fill="#440154"/>
<circle cx="158.5" cy="222.83" r="1.16" fill="#440154"/>
<circle cx="72.44" cy="223.37" r="1.16" fill="#440154"/>
<circle cx="115.47" cy="222.94" r="1.16" fill="#440154"/>
<circle cx="165.42" cy="223.16" r="1.16" fill="#440154"/>
<circle cx="140.45" cy="222.92" r="1.16" fill="#440256"/>
<circle cx="97.41" cy="223.25" r="1.16" fill="#440154"/>
<circle cx="79.35" cy="223.56" r="1.16" fill="#440154"/>
<circle cx="122.39" cy="223.14" r="1.16" fill="#440154"/>
<circle cx="172.34" cy="223.53" r="1.16" fill="#440154"/>
<circle cx="147.37" cy="223.17" r="1.16" fill="#440256"/>
<circle cx="104.32" cy="223.43" r="1.16" fill="#440154"/>
<circle cx="86.25" cy="223.74" r="1.16" fill="#440154"/>
<circle cx="129.3" cy="223.35" r="1.16" fill="#440256"/>
<circle cx="154.29" cy="223.44" r="1.16" fill="#440154"/>
<circle cx="111.23" cy="223.61" r="1.16" fill="#440154"/>
<circle cx="136.22" cy="223.57" r="1.16" fill="#440256"/>
<circle cx="93.16" cy="223.92" r="1.16" fill="#440154"/>
<circle cx="161.22" cy="223.75" r="1.16" fill="#440154"/>
<circle cx="75.08" cy="224.22" r="1.16" fill="#440154"/>
<circle cx="118.15" cy="223.8" r="1.16" fill="#440154"/>
<circle cx="168.14" cy="224.09" r="1.16" fill="#440154"/>
<circle cx="143.15" cy="223.8" r="1.16" fill="#440256"/>
<circle cx="100.07" cy="224.1" r="1.16" fill="#440154"/>
<circle cx="175.07" cy="224.47" r="1.16" fill="#440154"/>
<circle cx="81.99" cy="224.4" r="1.16" fill="#440154"/>
<circle cx="125.07" cy="224" r="1.16" fill="#440154"/>
<circle cx="150.08" cy="224.06" r="1.16" fill="#440154"/>
<circle cx="106.99" cy="224.28" r="1.16" fill="#440154"/>
<circle cx="132" cy="224.22" r="1.16" fill="#440154"/>
<circle cx="88.9" cy="224.59" r="1.16" fill="#440154"/>
<circle cx="157.01" cy="224.35" r="1.16" fill="#440154"/>
<circle cx="113.91" cy="224.47" r="1.16" fill="#440154"/>
<circle cx="138.92" cy="224.44" r="1.16" fill="#440154"/>
<circle cx="163.94" cy="224.66" r="1.16" fill="#440154"/>
<circle cx="95.82" cy="224.77" r="1.16" fill="#440154"/>
<circle cx="77.73" cy="225.07" r="1.16" fill="#440154"/>
<circle cx="120.83" cy="224.67" r="1.16" fill="#440154"/>
<circle cx="170.87" cy="225.01" r="1.16" fill="#440154"/>
<circle cx="145.85" cy="224.69" r="1.16" fill="#440154"/>
<circle cx="102.74" cy="224.95" r="1.16" fill="#440154"/>
<circle cx="127.76" cy="224.87" r="1.16" fill="#440154"/>
<circle cx="84.64" cy="225.25" r="1.16" fill="#440154"/>
<circle cx="152.79" cy="224.96" r="1.16" fill="#440154"/>
<circle cx="109.66" cy="225.14" r="1.16" fill="#440154"/>
<circle cx="134.69" cy="225.09" r="1.16" fill="#440154"/>
<circle cx="91.56" cy="225.44" r="1.16" fill="#440154"/>
<circle cx="159.73" cy="225.25" r="1.16" fill="#440154"/>
<circle cx="116.59" cy="225.33" r="1.16" fill="#440154"/>
<circle cx="166.66" cy="225.58" r="1.16" fill="#440154"/>
<circle cx="141.63" cy="225.33" r="1.16" fill="#440154"/>
<circle cx="98.49" cy="225.62" r="1.16" fill="#440154"/>
<circle cx="80.37" cy="225.92" r="1.16" fill="#440154"/>
<circle cx="123.52" cy="225.53" r="1.16" fill="#440154"/>
<circle cx="173.61" cy="225.94" r="1.16" fill="#440154"/>
<circle cx="148.57" cy="225.58" r="1.16" fill="#440154"/>
<circle cx="105.41" cy="225.81" r="1.16" fill="#440154"/>
<circle cx="130.46" cy="225.74" r="1.16" fill="#440154"/>
<circle cx="87.3" cy="226.11" r="1.16" fill="#440154"/>
<circle cx="155.51" cy="225.86" r="1.16" fill="#440154"/>
<circle cx="112.34" cy="226" r="1.16" fill="#440154"/>
<circle cx="137.4" cy="225.97" r="1.16" fill="#440154"/>
<circle cx="162.45" cy="226.16" r="1.16" fill="#440154"/>
<circle cx="94.22" cy="226.29" r="1.16" fill="#440154"/>
<circle cx="119.28" cy="226.19" r="1.16" fill="#440154"/>
<circle cx="169.4" cy="226.5" r="1.16" fill="#440154"/>
<circle cx="144.34" cy="226.21" r="1.16" fill="#440154"/>
<circle cx="101.15" cy="226.47" r="1.16" fill="#440154"/>
<circle cx="126.22" cy="226.4" r="1.16" fill="#440154"/>
<circle cx="83.03" cy="226.78" r="1.16" fill="#440154"/>
<circle cx="151.28" cy="226.47" r="1.16" fill="#440154"/>
<circle cx="108.09" cy="226.66" r="1.16" fill="#440154"/>
<circle cx="133.16" cy="226.62" r="1.16" fill="#440154"/>
<circle cx="89.96" cy="226.96" r="1.16" fill="#440154"/>
<circle cx="158.23" cy="226.76" r="1.16" fill="#440154"/>
<circle cx="115.03" cy="226.86" r="1.16" fill="#440154"/>
<circle cx="140.1" cy="226.85" r="1.16" fill="#440154"/>
<circle cx="165.18" cy="227.07" r="1.16" fill="#440154"/>
<circle cx="96.89" cy="227.14" r="1.16" fill="#440154"/>
<circle cx="121.97" cy="227.06" r="1.16" fill="#440154"/>
<circle cx="172.13" cy="227.42" r="1.16" fill="#440154"/>
<circle cx="147.05" cy="227.1" r="1.16" fill="#440154"/>
<circle cx="103.83" cy="227.33" r="1.16" fill="#440154"/>
<circle cx="128.92" cy="227.27" r="1.16" fill="#440154"/>
<circle cx="85.69" cy="227.63" r="1.16" fill="#440154"/>
<circle cx="154" cy="227.37" r="1.16" fill="#440154"/>
<circle cx="110.77" cy="227.52" r="1.16" fill="#440154"/>
<circle cx="135.86" cy="227.49" r="1.16" fill="#440154"/>
<circle cx="160.96" cy="227.66" r="1.16" fill="#440154"/>
<circle cx="92.62" cy="227.82" r="1.16" fill="#440154"/>
<circle cx="117.72" cy="227.72" r="1.16" fill="#440154"/>
<circle cx="167.92" cy="227.99" r="1.16" fill="#440154"/>
<circle cx="142.82" cy="227.73" r="1.16" fill="#440154"/>
<circle cx="99.56" cy="228" r="1.16" fill="#440154"/>
<circle cx="124.67" cy="227.93" r="1.16" fill="#440154"/>
<circle cx="149.77" cy="227.99" r="1.16" fill="#440154"/>
<circle cx="106.51" cy="228.19" r="1.16" fill="#440154"/>
<circle cx="131.62" cy="228.14" r="1.16" fill="#440154"/>
<circle cx="88.35" cy="228.49" r="1.16" fill="#440154"/>
<circle cx="156.73" cy="228.27" r="1.16" fill="#440154"/>
<circle cx="113.46" cy="228.39" r="1.16" fill="#440154"/>
<circle cx="138.57" cy="228.37" r="1.16" fill="#440154"/>
<circle cx="163.69" cy="228.57" r="1.16" fill="#440154"/>
<circle cx="95.29" cy="228.67" r="1.16" fill="#440154"/>
<circle cx="120.41" cy="228.59" r="1.16" fill="#440154"/>
<circle cx="170.66" cy="228.9" r="1.16" fill="#440154"/>
<circle cx="145.53" cy="228.62" r="1.16" fill="#440154"/>
<circle cx="102.24" cy="228.86" r="1.16" fill="#440154"/>
<circle cx="127.37" cy="228.8" r="1.16" fill="#440154"/>
<circle cx="152.5" cy="228.88" r="1.16" fill="#440154"/>
<circle cx="109.19" cy="229.05" r="1.16" fill="#440154"/>
<circle cx="134.33" cy="229.02" r="1.16" fill="#440154"/>
<circle cx="91.02" cy="229.35" r="1.16" fill="#440154"/>
<circle cx="159.46" cy="229.17" r="1.16" fill="#440154"/>
<circle cx="116.15" cy="229.25" r="1.16" fill="#440154"/>
<circle cx="166.43" cy="229.48" r="1.16" fill="#440154"/>
<circle cx="141.29" cy="229.26" r="1.16" fill="#440154"/>
<circle cx="97.97" cy="229.53" r="1.16" fill="#440154"/>
<circle cx="123.11" cy="229.46" r="1.16" fill="#440154"/>
<circle cx="148.26" cy="229.51" r="1.16" fill="#440154"/>
<circle cx="104.92" cy="229.72" r="1.16" fill="#440154"/>
<circle cx="130.07" cy="229.67" r="1.16" fill="#440154"/>
<circle cx="155.23" cy="229.78" r="1.16" fill="#440154"/>
<circle cx="111.88" cy="229.92" r="1.16" fill="#440154"/>
<circle cx="137.04" cy="229.9" r="1.16" fill="#440154"/>
<circle cx="162.2" cy="230.07" r="1.16" fill="#440154"/>
<circle cx="93.69" cy="230.21" r="1.16" fill="#440154"/>
<circle cx="118.85" cy="230.12" r="1.16" fill="#440154"/>
<circle cx="169.17" cy="230.39" r="1.16" fill="#440154"/>
<circle cx="144.01" cy="230.14" r="1.16" fill="#440154"/>
<circle cx="100.65" cy="230.39" r="1.16" fill="#440154"/>
<circle cx="125.81" cy="230.33" r="1.16" fill="#440154"/>
<circle cx="150.98" cy="230.4" r="1.16" fill="#440154"/>
<circle cx="107.61" cy="230.59" r="1.16" fill="#440154"/>
<circle cx="132.78" cy="230.55" r="1.16" fill="#440154"/>
<circle cx="157.96" cy="230.68" r="1.16" fill="#440154"/>
<circle cx="114.58" cy="230.78" r="1.16" fill="#440154"/>
<circle cx="139.76" cy="230.78" r="1.16" fill="#440154"/>
<circle cx="164.94" cy="230.98" r="1.16" fill="#440154"/>
<circle cx="96.37" cy="231.07" r="1.16" fill="#440154"/>
<circle cx="121.55" cy="230.99" r="1.16" fill="#440154"/>
<circle cx="146.74" cy="231.03" r="1.16" fill="#440154"/>
<circle cx="103.33" cy="231.26" r="1.16" fill="#440154"/>
<circle cx="128.52" cy="231.2" r="1.16" fill="#440154"/>
<circle cx="153.72" cy="231.29" r="1.16" fill="#440154"/>
<circle cx="110.3" cy="231.45" r="1.16" fill="#440154"/>
<circle cx="135.5" cy="231.43" r="1.16" fill="#440154"/>
<circle cx="160.7" cy="231.58" r="1.16" fill="#440154"/>
<circle cx="117.28" cy="231.65" r="1.16" fill="#440154"/>
<circle cx="142.48" cy="231.66" r="1.16" fill="#440154"/>
<circle cx="167.69" cy="231.88" r="1.16" fill="#440154"/>
<circle cx="99.05" cy="231.93" r="1.16" fill="#440154"/>
<circle cx="124.26" cy="231.86" r="1.16" fill="#440154"/>
<circle cx="149.47" cy="231.92" r="1.16" fill="#440154"/>
<circle cx="106.02" cy="232.12" r="1.16" fill="#440154"/>
<circle cx="131.24" cy="232.08" r="1.16" fill="#440154"/>
<circle cx="156.45" cy="232.19" r="1.16" fill="#440154"/>
<circle cx="113" cy="232.32" r="1.16" fill="#440154"/>
<circle cx="138.22" cy="232.31" r="1.16" fill="#440154"/>
<circle cx="163.45" cy="232.48" r="1.16" fill="#440154"/>
<circle cx="119.98" cy="232.52" r="1.16" fill="#440154"/>
<circle cx="145.21" cy="232.55" r="1.16" fill="#440154"/>
<circle cx="101.74" cy="232.79" r="1.16" fill="#440154"/>
<circle cx="126.97" cy="232.73" r="1.16" fill="#440154"/>
<circle cx="152.2" cy="232.81" r="1.16" fill="#440154"/>
<circle cx="108.72" cy="232.99" r="1.16" fill="#440154"/>
<circle cx="133.96" cy="232.95" r="1.16" fill="#440154"/>
<circle cx="159.2" cy="233.09" r="1.16" fill="#440154"/>
<circle cx="115.7" cy="233.19" r="1.16" fill="#440154"/>
<circle cx="140.95" cy="233.19" r="1.16" fill="#440154"/>
<circle cx="166.2" cy="233.38" r="1.16" fill="#440154"/>
<circle cx="122.69" cy="233.39" r="1.16" fill="#440154"/>
<circle cx="147.94" cy="233.44" r="1.16" fill="#440154"/>
<circle cx="104.43" cy="233.66" r="1.16" fill="#440154"/>
<circle cx="129.69" cy="233.61" r="1.16" fill="#440154"/>
<circle cx="154.94" cy="233.7" r="1.16" fill="#440154"/>
<circle cx="111.42" cy="233.86" r="1.16" fill="#440154"/>
<circle cx="136.68" cy="233.83" r="1.16" fill="#440154"/>
<circle cx="161.95" cy="233.98" r="1.16" fill="#440154"/>
<circle cx="118.41" cy="234.06" r="1.16" fill="#440154"/>
<circle cx="143.68" cy="234.07" r="1.16" fill="#440154"/>
<circle cx="125.41" cy="234.27" r="1.16" fill="#440154"/>
<circle cx="150.68" cy="234.33" r="1.16" fill="#440154"/>
<circle cx="107.13" cy="234.53" r="1.16" fill="#440154"/>
<circle cx="132.41" cy="234.49" r="1.16" fill="#440154"/>
<circle cx="157.69" cy="234.6" r="1.16" fill="#440154"/>
<circle cx="114.13" cy="234.73" r="1.16" fill="#440154"/>
<circle cx="139.41" cy="234.72" r="1.16" fill="#440154"/>
<circle cx="164.7" cy="234.89" r="1.16" fill="#440154"/>
<circle cx="121.12" cy="234.93" r="1.16" fill="#440154"/>
<circle cx="146.42" cy="234.96" r="1.16" fill="#440154"/>
<circle cx="128.13" cy="235.14" r="1.16" fill="#440154"/>
<circle cx="153.43" cy="235.22" r="1.16" fill="#440154"/>
<circle cx="109.83" cy="235.4" r="1.16" fill="#440154"/>
<circle cx="135.14" cy="235.37" r="1.16" fill="#440154"/>
<circle cx="160.44" cy="235.5" r="1.16" fill="#440154"/>
<circle cx="116.84" cy="235.6" r="1.16" fill="#440154"/>
<circle cx="142.15" cy="235.6" r="1.16" fill="#440154"/>
<circle cx="123.84" cy="235.8" r="1.16" fill="#440154"/>
<circle cx="149.16" cy="235.85" r="1.16" fill="#440154"/>
<circle cx="130.85" cy="236.02" r="1.16" fill="#440154"/>
<circle cx="156.18" cy="236.11" r="1.16" fill="#440154"/>
<circle cx="112.54" cy="236.27" r="1.16" fill="#440154"/>
<circle cx="137.87" cy="236.25" r="1.16" fill="#440154"/>
<circle cx="163.2" cy="236.39" r="1.16" fill="#440154"/>
<circle cx="119.55" cy="236.47" r="1.16" fill="#440154"/>
<circle cx="144.89" cy="236.49" r="1.16" fill="#440154"/>
<circle cx="126.57" cy="236.68" r="1.16" fill="#440154"/>
<circle cx="151.91" cy="236.74" r="1.16" fill="#440154"/>
<circle cx="133.58" cy="236.9" r="1.16" fill="#440154"/>
<circle cx="158.93" cy="237.01" r="1.16" fill="#440154"/>
<circle cx="115.25" cy="237.14" r="1.16" fill="#440154"/>
<circle cx="140.61" cy="237.13" r="1.16" fill="#440154"/>
<circle cx="122.27" cy="237.35" r="1.16" fill="#440154"/>
<circle cx="147.63" cy="237.38" r="1.16" fill="#440154"/>
<circle cx="129.29" cy="237.56" r="1.16" fill="#440154"/>
<circle cx="154.66" cy="237.63" r="1.16" fill="#440154"/>
<circle cx="136.32" cy="237.78" r="1.16" fill="#440154"/>
<circle cx="161.69" cy="237.91" r="1.16" fill="#440154"/>
<circle cx="117.97" cy="238.02" r="1.16" fill="#440154"/>
<circle cx="143.35" cy="238.02" r="1.16" fill="#440154"/>
<circle cx="125" cy="238.22" r="1.16" fill="#440154"/>
<circle cx="150.38" cy="238.27" r="1.16" fill="#440154"/>
<circle cx="132.03" cy="238.44" r="1.16" fill="#440154"/>
<circle cx="157.42" cy="238.53" r="1.16" fill="#440154"/>
<circle cx="139.06" cy="238.67" r="1.16" fill="#440154"/>
<circle cx="120.7" cy="238.89" r="1.16" fill="#440154"/>
<circle cx="146.1" cy="238.91" r="1.16" fill="#440154"/>
<circle cx="127.73" cy="239.1" r="1.16" fill="#440154"/>
<circle cx="153.14" cy="239.16" r="1.16" fill="#440154"/>
<circle cx="134.77" cy="239.32" r="1.16" fill="#440154"/>
<circle cx="160.18" cy="239.43" r="1.16" fill="#440154"/>
<circle cx="141.81" cy="239.55" r="1.16" fill="#440154"/>
<circle cx="123.43" cy="239.77" r="1.16" fill="#440154"/>
<circle cx="148.85" cy="239.8" r="1.16" fill="#440154"/>
<circle cx="130.47" cy="239.98" r="1.16" fill="#440154"/>
<circle cx="155.9" cy="240.05" r="1.16" fill="#440154"/>
<circle cx="137.51" cy="240.21" r="1.16" fill="#440154"/>
<circle cx="144.56" cy="240.44" r="1.16" fill="#440154"/>
<circle cx="126.16" cy="240.65" r="1.16" fill="#440154"/>
<circle cx="151.61" cy="240.69" r="1.16" fill="#440154"/>
<circle cx="133.21" cy="240.87" r="1.16" fill="#440154"/>
<circle cx="158.66" cy="240.95" r="1.16" fill="#440154"/>
<circle cx="140.26" cy="241.09" r="1.16" fill="#440154"/>
<circle cx="147.31" cy="241.33" r="1.16" fill="#440154"/>
<circle cx="128.9" cy="241.53" r="1.16" fill="#440154"/>
<circle cx="154.37" cy="241.58" r="1.16" fill="#440154"/>
<circle cx="135.95" cy="241.75" r="1.16" fill="#440154"/>
<circle cx="143.01" cy="241.98" r="1.16" fill="#440154"/>
<circle cx="150.08" cy="242.22" r="1.16" fill="#440154"/>
<circle cx="131.64" cy="242.41" r="1.16" fill="#440154"/>
<circle cx="157.14" cy="242.48" r="1.16" fill="#440154"/>
<circle cx="138.71" cy="242.64" r="1.16" fill="#440154"/>
<circle cx="145.77" cy="242.87" r="1.16" fill="#440154"/>
<circle cx="152.84" cy="243.11" r="1.16" fill="#440154"/>
<circle cx="134.39" cy="243.3" r="1.16" fill="#440154"/>
<circle cx="141.46" cy="243.52" r="1.16" fill="#440154"/>
<circle cx="148.54" cy="243.76" r="1.16" fill="#440154"/>
<circle cx="155.61" cy="244.01" r="1.16" fill="#440154"/>
<circle cx="137.15" cy="244.18" r="1.16" fill="#440154"/>
<circle cx="144.23" cy="244.41" r="1.16" fill="#440154"/>
<circle cx="151.31" cy="244.65" r="1.16" fill="#440154"/>
<circle cx="139.91" cy="245.07" r="1.16" fill="#440154"/>
<circle cx="146.99" cy="245.3" r="1.16" fill="#440154"/>
<circle cx="154.08" cy="245.55" r="1.16" fill="#440154"/>
<circle cx="142.68" cy="245.96" r="1.16" fill="#440154"/>
<circle cx="149.77" cy="246.2" r="1.16" fill="#440154"/>
<circle cx="145.45" cy="246.85" r="1.16" fill="#440154"/>
<circle cx="152.55" cy="247.09" r="1.16" fill="#440154"/>
<circle cx="148.22" cy="247.74" r="1.16" fill="#440154"/>
<circle cx="151" cy="248.64" r="1.16" fill="#440154"/>
</g><g id="text_19">
<text style="font-size: 12.05px; font-family: 'DejaVu Sans', 'Liberation Sans', sans-serif; text-anchor: middle" x="118.861" y="9.161">ghost+poly solution</text>
</g>
</g>
<g id="axes_2">
<g id="patch_6">
<path d="M 269.908 280.962 L 283.701 280.962 L 283.701 15.163 L 269.908 15.163 z " style="fill: #ffffff"/>
</g>
<rect x="269.91" y="15.16" width="13.79" height="265.8" fill="url(#gv)"/>
<g id="matplotlib.axis_1"/>
<g id="matplotlib.axis_2">
<g id="ytick_1">
<g id="line2d_20">
<defs>
<path id="m1a3ad3c0e2" d="M 0 0 L 2.9 0 " style="stroke: #000000; stroke-width: 0.8"/>
</defs>
<g>
<use href="#m1a3ad3c0e2" x="283.701" y="280.962" style="stroke: #000000; stroke-width: 0.8"/>
</g>
</g>
<g id="text_20">
<text style="font-size: 10px; font-family: 'DejaVu Sans', 'Liberation Sans', sans-serif; text-anchor: start" x="290.101" y="284.761">0.0</text>
</g>
</g>
<g id="ytick_2">
<g id="line2d_21">
<g>
<use href="#m1a3ad3c0e2" x="283.701" y="250.254" style="stroke: #000000; stroke-width: 0.8"/>
</g>
</g>
<g id="text_21">
<text style="font-size: 10px; font-family: 'DejaVu Sans', 'Liberation Sans', sans-serif; text-anchor: start" x="290.101" y="254.053">0.5</text>
</g>
</g>
<g id="ytick_3">
<g id="line2d_22">
<g>
<use href="#m1a3ad3c0e2" x="283.701" y="219.545" style="stroke: #000000; stroke-width: 0.8"/>
</g>
</g>
<g id="text_22">
<text style="font-size: 10px; font-family: 'DejaVu Sans', 'Liberation Sans', sans-serif; text-anchor: start" x="290.101" y="223.344">1.0</text>
</g>
</g>
<g id="ytick_4">
<g id="line2d_23">
<g>
<use href="#m1a3ad3c0e2" x="283.701" y="188.837" style="stroke: #000000; stroke-width: 0.8"/>
</g>
</g>
<g id="text_23">
<text style="font-size: 10px; font-family: 'DejaVu Sans', 'Liberation Sans', sans-serif; text-anchor: start" x="290.101" y="192.636">1.5</text>
</g>
</g>
<g id="ytick_5">
<g id="line2d_24">
<g>
<use href="#m1a3ad3c0e2" x="283.701" y="158.128" style="stroke: #000000; stroke-width: 0.8"/>
</g>
</g>
<g id="text_24">
<text style="font-size: 10px; font-family: 'DejaVu Sans', 'Liberation Sans', sans-serif; text-anchor: start" x="290.101" y="161.927">2.0</text>
</g>
</g>
<g id="ytick_6">
<g id="line2d_25">
<g>
<use href="#m1a3ad3c0e2" x="283.701" y="127.419" style="stroke: #000000; stroke-width: 0.8"/>
</g>
</g>
<g id="text_25">
<text style="font-size: 10px; font-family: 'DejaVu Sans', 'Liberation Sans', sans-serif; text-anchor: start" x="290.101" y="131.219">2.5</text>
</g>
</g>
<g id="ytick_7">
<g id="line2d_26">
<g>
<use href="#m1a3ad3c0e2" x="283.701" y="96.711" style="stroke: #000000; stroke-width: 0.8"/>
</g>
</g>
<g id="text_26">
<text style="font-size: 10px; font-family: 'DejaVu Sans', 'Liberation Sans', sans-serif; text-anchor: start" x="290.101" y="100.510">3.0</text>
</g>
</g>
<g id="ytick_8">
<g id="line2d_27">
<g>
<use href="#m1a3ad3c0e2" x="283.701" y="66.002" style="stroke: #000000; stroke-width: 0.8"/>
</g>
</g>
<g id="text_27">
<text style="font-size: 10px; font-family: 'DejaVu Sans', 'Liberation Sans', sans-serif; text-anchor: start" x="290.101" y="69.802">3.5</text>
</g>
</g>
<g id="ytick_9">
<g id="line2d_28">
<g>
<use href="#m1a3ad3c0e2" x="283.701" y="35.294" style="stroke: #000000; stroke-width: 0.8"/>
</g>
</g>
<g id="text_28">
<text style="font-size: 10px; font-family: 'DejaVu Sans', 'Liberation Sans', sans-serif; text-anchor: start" x="290.101" y="39.093">4.0</text>
</g>
</g>
</g>
<g id="LineCollection_1"/>
<g id="patch_7">
<path d="M 269.908 280.962 L 276.804 280.962 L 283.701 280.962 L 283.701 15.163 L 276.804 15.163 L 269.908 15.163 L 269.908 280.962 z " style="fill: none; stroke: #000000; stroke-width: 0.8; stroke-linejoin: miter; stroke-linecap: square"/>
</g>
</g>
<g id="patch_8">
<path d="M 350.127 281.549 L 616.219 281.549 L 616.219 15.456 L 350.127 15.456 z " style="fill: #ffffff"/>
</g>
<g id="pane3d_4">
<g id="patch_9">
<path d="M 370.219 215.939 L 458.091 142.283 L 456.870 36.057 L 364.792 103.251 " style="fill: none; opacity: 0.5"/>
</g>
</g>
<g id="pane3d_5">
<g id="patch_10">
<path d="M 458.091 142.283 L 599.095 183.267 L 604.127 73.382 L 456.870 36.057 " style="fill: none; opacity: 0.5"/>
</g>
</g>
<g id="pane3d_6">
<g id="patch_11">
<path d="M 370.219 215.939 L 519.690 264.756 L 599.095 183.267 L 458.091 142.283 " style="fill: none; opacity: 0.5"/>
</g>
</g>
<g id="axis3d_4">
<g id="line2d_29">
<path d="M 370.219 215.939 L 519.690 264.756 " style="fill: none; stroke: #000000; stroke-width: 0.8; stroke-linecap: square"/>
</g>
<g id="xtick_17">
<g id="line2d_30">
<path d="M 380.032 218.250 L 377.746 220.189 " style="fill: none; stroke: #000000; stroke-width: 0.8; stroke-linecap: square"/>
</g>
<g id="text_29">
<text style="font-size: 10px; font-family: 'DejaVu Sans', 'Liberation Sans', sans-serif; text-anchor: middle" x="371.742" y="242.205">0.0</text>
</g>
</g>
<g id="xtick_18">
<g id="line2d_31">
<path d="M 405.159 226.449 L 402.906 228.423 " style="fill: none; stroke: #000000; stroke-width: 0.8; stroke-linecap: square"/>
</g>
<g id="text_30">
<text style="font-size: 10px; font-family: 'DejaVu Sans', 'Liberation Sans', sans-serif; text-anchor: middle" x="396.906" y="250.589">0.2</text>
</g>
</g>
<g id="xtick_19">
<g id="line2d_32">
<path d="M 430.746 234.797 L 428.528 236.808 " style="fill: none; stroke: #000000; stroke-width: 0.8; stroke-linecap: square"/>
</g>
<g id="text_31">
<text style="font-size: 10px; font-family: 'DejaVu Sans', 'Liberation Sans', sans-serif; text-anchor: middle" x="422.532" y="259.127">0.4</text>
</g>
</g>
<g id="xtick_20">
<g id="line2d_33">
<path d="M 456.806 243.300 L 454.625 245.348 " style="fill: none; stroke: #000000; stroke-width: 0.8; stroke-linecap: square"/>
</g>
<g id="text_32">
<text style="font-size: 10px; font-family: 'DejaVu Sans', 'Liberation Sans', sans-serif; text-anchor: middle" x="448.635" y="267.824">0.6</text>
</g>
</g>
<g id="xtick_21">
<g id="line2d_34">
<path d="M 483.351 251.961 L 481.209 254.048 " style="fill: none; stroke: #000000; stroke-width: 0.8; stroke-linecap: square"/>
</g>
<g id="text_33">
<text style="font-size: 10px; font-family: 'DejaVu Sans', 'Liberation Sans', sans-serif; text-anchor: middle" x="475.226" y="276.684">0.8</text>
</g>
</g>
<g id="xtick_22">
<g id="line2d_35">
<path d="M 510.397 260.785 L 508.295 262.911 " style="fill: none; stroke: #000000; stroke-width: 0.8; stroke-linecap: square"/>
</g>
<g id="text_34">
<text style="font-size: 10px; font-family: 'DejaVu Sans', 'Liberation Sans', sans-serif; text-anchor: middle" x="502.320" y="285.711">1.0</text>
</g>
</g>
<g id="text_35">
<text style="font-size: 10px; font-family: 'DejaVu Sans', 'Liberation Sans', sans-serif; text-anchor: middle" x="426.692" y="277.736">x</text>
</g>
</g>
<g id="axis3d_5">
<g id="line2d_36">
<path d="M 599.095 183.267 L 519.690 264.756 " style="fill: none; stroke: #000000; stroke-width: 0.8; stroke-linecap: square"/>
</g>
<g id="xtick_23">
<g id="line2d_37">
<path d="M 523.929 258.711 L 527.697 259.932 " style="fill: none; stroke: #000000; stroke-width: 0.8; stroke-linecap: square"/>
</g>
<g id="text_36">
<text style="font-size: 10px; font-family: 'DejaVu Sans', 'Liberation Sans', sans-serif; text-anchor: middle" x="538.065" y="280.140">0.0</text>
</g>
</g>
<g id="xtick_24">
<g id="line2d_38">
<path d="M 542.299 239.893 L 546.015 241.066 " style="fill: none; stroke: #000000; stroke-width: 0.8; stroke-linecap: square"/>
</g>
<g id="text_37">
<text style="font-size: 10px; font-family: 'DejaVu Sans', 'Liberation Sans', sans-serif; text-anchor: middle" x="556.171" y="261.027">0.5</text>
</g>
</g>
<g id="xtick_25">
<g id="line2d_39">
<path d="M 559.950 221.811 L 563.615 222.938 " style="fill: none; stroke: #000000; stroke-width: 0.8; stroke-linecap: square"/>
</g>
<g id="text_38">
<text style="font-size: 10px; font-family: 'DejaVu Sans', 'Liberation Sans', sans-serif; text-anchor: middle" x="573.568" y="242.662">1.0</text>
</g>
</g>
<g id="xtick_26">
<g id="line2d_40">
<path d="M 576.925 204.422 L 580.541 205.506 " style="fill: none; stroke: #000000; stroke-width: 0.8; stroke-linecap: square"/>
</g>
<g id="text_39">
<text style="font-size: 10px; font-family: 'DejaVu Sans', 'Liberation Sans', sans-serif; text-anchor: middle" x="590.299" y="225.001">1.5</text>
</g>
</g>
<g id="xtick_27">
<g id="line2d_41">
<path d="M 593.262 187.686 L 596.829 188.730 " style="fill: none; stroke: #000000; stroke-width: 0.8; stroke-linecap: square"/>
</g>
<g id="text_40">
<text style="font-size: 10px; font-family: 'DejaVu Sans', 'Liberation Sans', sans-serif; text-anchor: middle" x="606.399" y="208.006">2.0</text>
</g>
</g>
<g id="text_41">
<text style="font-size: 10px; font-family: 'DejaVu Sans', 'Liberation Sans', sans-serif; text-anchor: middle" x="588.140" y="252.958">y</text>
</g>
</g>
<g id="axis3d_6">
<g id="line2d_42">
<path d="M 599.095 183.267 L 604.127 73.382 " style="fill: none; stroke: #000000; stroke-width: 0.8; stroke-linecap: square"/>
</g>
<g id="xtick_28">
<g id="line2d_43">
<path d="M 598.007 180.818 L 601.563 181.849 " style="fill: none; stroke: #000000; stroke-width: 0.8; stroke-linecap: square"/>
</g>
<g id="text_42">
<text style="font-size: 10px; font-family: 'DejaVu Sans', 'Liberation Sans', sans-serif; text-anchor: middle" x="617.455" y="186.159">0</text>
</g>
</g>
<g id="xtick_29">
<g id="line2d_44">
<path d="M 599.075 157.242 L 602.667 158.255 " style="fill: none; stroke: #000000; stroke-width: 0.8; stroke-linecap: square"/>
</g>
<g id="text_43">
<text style="font-size: 10px; font-family: 'DejaVu Sans', 'Liberation Sans', sans-serif; text-anchor: middle" x="618.707" y="162.624">1</text>
</g>
</g>
<g id="xtick_30">
<g id="line2d_45">
<path d="M 600.164 133.209 L 603.792 134.202 " style="fill: none; stroke: #000000; stroke-width: 0.8; stroke-linecap: square"/>
</g>
<g id="text_44">
<text style="font-size: 10px; font-family: 'DejaVu Sans', 'Liberation Sans', sans-serif; text-anchor: middle" x="619.983" y="138.633">2</text>
</g>
</g>
<g id="xtick_31">
<g id="line2d_46">
<path d="M 601.274 108.705 L 604.939 109.678 " style="fill: none; stroke: #000000; stroke-width: 0.8; stroke-linecap: square"/>
</g>
<g id="text_45">
<text style="font-size: 10px; font-family: 'DejaVu Sans', 'Liberation Sans', sans-serif; text-anchor: middle" x="621.283" y="114.173">3</text>
</g>
</g>
<g id="xtick_32">
<g id="line2d_47">
<path d="M 602.406 83.717 L 606.109 84.669 " style="fill: none; stroke: #000000; stroke-width: 0.8; stroke-linecap: square"/>
</g>
<g id="text_46">
<text style="font-size: 10px; font-family: 'DejaVu Sans', 'Liberation Sans', sans-serif; text-anchor: middle" x="622.610" y="89.232">4</text>
</g>
</g>
</g>
<g id="axes_3">
<g id="surf" stroke-width="0.8" stroke-linejoin="round">
<path d="M460.2 148.19L463.43 141.47L461.51 147.08z" fill="#4257c9" stroke="#4257c9"/>
<path d="M458.88 149.3L463.43 141.47L460.2 148.19z" fill="#4257c9" stroke="#4257c9"/>
<path d="M457.56 150.42L460.8 145.3L458.88 149.3z" fill="#3f53c6" stroke="#3f53c6"/>
<path d="M463.43 141.47L467.98 131.75L461.51 147.08z" fill="#5470de" stroke="#5470de"/>
<path d="M456.24 151.54L460.8 145.3L457.56 150.42z" fill="#3f53c6" stroke="#3f53c6"/>
<path d="M458.88 149.3L465.37 137.56L463.43 141.47z" fill="#506bda" stroke="#506bda"/>
<path d="M460.8 145.3L465.37 137.56L458.88 149.3z" fill="#4f69d9" stroke="#4f69d9"/>
<path d="M454.91 152.66L458.17 148.8L456.24 151.54z" fill="#3e51c5" stroke="#3e51c5"/>
<path d="M453.58 153.79L458.17 148.8L454.91 152.66z" fill="#3e51c5" stroke="#3e51c5"/>
<path d="M456.24 151.54L462.76 142.64L460.8 145.3z" fill="#4b64d5" stroke="#4b64d5"/>
<path d="M458.17 148.8L462.76 142.64L456.24 151.54z" fill="#4a63d3" stroke="#4a63d3"/>
<path d="M463.43 141.47L469.96 128.11L467.98 131.75z" fill="#6f92f3" stroke="#6f92f3"/>
<path d="M452.25 154.92L455.51 152.06L453.58 153.79z" fill="#3d50c3" stroke="#3d50c3"/>
<path d="M465.37 137.56L469.96 128.11L463.43 141.47z" fill="#6b8df0" stroke="#6b8df0"/>
<path d="M453.58 153.79L460.12 147.15L458.17 148.8z" fill="#485fd1" stroke="#485fd1"/>
<path d="M450.91 156.05L455.51 152.06L452.25 154.92z" fill="#3d50c3" stroke="#3d50c3"/>
<path d="M460.8 145.3L467.35 135.13L465.37 137.56z" fill="#6384eb" stroke="#6384eb"/>
<path d="M455.51 152.06L460.12 147.15L453.58 153.79z" fill="#465ecf" stroke="#465ecf"/>
<path d="M462.76 142.64L467.35 135.13L460.8 145.3z" fill="#5f7fe8" stroke="#5f7fe8"/>
<path d="M449.57 157.18L452.85 155.13L450.91 156.05z" fill="#3c4ec2" stroke="#3c4ec2"/>
<path d="M458.17 148.8L464.73 141.16L462.76 142.64z" fill="#5a78e4" stroke="#5a78e4"/>
<path d="M450.91 156.05L457.47 151.2L455.51 152.06z" fill="#445acc" stroke="#445acc"/>
<path d="M460.12 147.15L464.73 141.16L458.17 148.8z" fill="#5875e1" stroke="#5875e1"/>
<path d="M448.22 158.32L452.85 155.13L449.57 157.18z" fill="#3c4ec2" stroke="#3c4ec2"/>
<path d="M452.85 155.13L457.47 151.2L450.91 156.05z" fill="#445acc" stroke="#445acc"/>
<path d="M469.96 128.11L474.57 116.68L467.98 131.75z" fill="#8fb1fe" stroke="#8fb1fe"/>
<path d="M465.37 137.56L471.97 126.06L469.96 128.11z" fill="#82a6fb" stroke="#82a6fb"/>
<path d="M455.51 152.06L462.1 146.42L460.12 147.15z" fill="#536edd" stroke="#536edd"/>
<path d="M467.35 135.13L471.97 126.06L465.37 137.56z" fill="#7da0f9" stroke="#7da0f9"/>
<path d="M446.87 159.46L450.16 158.04L448.22 158.32z" fill="#3c4ec2" stroke="#3c4ec2"/>
<path d="M457.47 151.2L462.1 146.42L455.51 152.06z" fill="#516ddb" stroke="#516ddb"/>
<path d="M462.76 142.64L469.36 133.96L467.35 135.13z" fill="#7295f4" stroke="#7295f4"/>
<path d="M448.22 158.32L454.81 154.89L452.85 155.13z" fill="#4257c9" stroke="#4257c9"/>
<path d="M464.73 141.16L469.36 133.96L462.76 142.64z" fill="#6e90f2" stroke="#6e90f2"/>
<path d="M445.52 160.61L450.16 158.04L446.87 159.46z" fill="#3c4ec2" stroke="#3c4ec2"/>
<path d="M450.16 158.04L454.81 154.89L448.22 158.32z" fill="#4257c9" stroke="#4257c9"/>
<path d="M460.12 147.15L466.74 140.69L464.73 141.16z" fill="#6687ed" stroke="#6687ed"/>
<path d="M452.85 155.13L459.45 151.07L457.47 151.2z" fill="#4e68d8" stroke="#4e68d8"/>
<path d="M462.1 146.42L466.74 140.69L460.12 147.15z" fill="#6282ea" stroke="#6282ea"/>
<path d="M454.81 154.89L459.45 151.07L452.85 155.13z" fill="#4b64d5" stroke="#4b64d5"/>
<path d="M444.16 161.76L447.47 160.84L445.52 160.61z" fill="#3b4cc0" stroke="#3b4cc0"/>
<path d="M445.52 160.61L452.13 158.3L450.16 158.04z" fill="#4055c8" stroke="#4055c8"/>
<path d="M457.47 151.2L464.1 146.5L462.1 146.42z" fill="#5b7ae5" stroke="#5b7ae5"/>
<path d="M471.97 126.06L476.61 115.23L469.96 128.11z" fill="#9fbfff" stroke="#9fbfff"/>
<path d="M469.96 128.11L476.61 115.23L474.57 116.68z" fill="#a7c5fe" stroke="#a7c5fe"/>
<path d="M467.35 135.13L474 125.38L471.97 126.06z" fill="#90b2fe" stroke="#90b2fe"/>
<path d="M469.36 133.96L474 125.38L467.35 135.13z" fill="#89acfd" stroke="#89acfd"/>
<path d="M442.8 162.91L447.47 160.84L444.16 161.76z" fill="#3b4cc0" stroke="#3b4cc0"/>
<path d="M447.47 160.84L452.13 158.3L445.52 160.61z" fill="#3f53c6" stroke="#3f53c6"/>
<path d="M459.45 151.07L464.1 146.5L457.47 151.2z" fill="#5977e3" stroke="#5977e3"/>
<path d="M450.16 158.04L456.79 155.25L454.81 154.89z" fill="#4961d2" stroke="#4961d2"/>
<path d="M464.73 141.16L471.39 133.87L469.36 133.96z" fill="#7da0f9" stroke="#7da0f9"/>
<path d="M466.74 140.69L471.39 133.87L464.73 141.16z" fill="#779af7" stroke="#779af7"/>
<path d="M452.13 158.3L456.79 155.25L450.16 158.04z" fill="#485fd1" stroke="#485fd1"/>
<path d="M454.81 154.89L461.45 151.59L459.45 151.07z" fill="#5470de" stroke="#5470de"/>
<path d="M462.1 146.42L468.76 141.08L466.74 140.69z" fill="#6e90f2" stroke="#6e90f2"/>
<path d="M442.8 162.91L449.43 161.5L447.47 160.84z" fill="#3f53c6" stroke="#3f53c6"/>
<path d="M441.44 164.06L444.75 163.54L442.8 162.91z" fill="#3b4cc0" stroke="#3b4cc0"/>
<path d="M464.1 146.5L468.76 141.08L462.1 146.42z" fill="#6a8bef" stroke="#6a8bef"/>
<path d="M456.79 155.25L461.45 151.59L454.81 154.89z" fill="#536edd" stroke="#536edd"/>
<path d="M447.47 160.84L454.11 159.04L452.13 158.3z" fill="#455cce" stroke="#455cce"/>
<path d="M444.75 163.54L449.43 161.5L442.8 162.91z" fill="#3e51c5" stroke="#3e51c5"/>
<path d="M440.07 165.22L444.75 163.54L441.44 164.06z" fill="#3b4cc0" stroke="#3b4cc0"/>
<path d="M459.45 151.07L466.12 147.26L464.1 146.5z" fill="#6282ea" stroke="#6282ea"/>
<path d="M449.43 161.5L454.11 159.04L447.47 160.84z" fill="#455cce" stroke="#455cce"/>
<path d="M469.36 133.96L476.06 125.83L474 125.38z" fill="#9abbff" stroke="#9abbff"/>
<path d="M461.45 151.59L466.12 147.26L459.45 151.07z" fill="#5f7fe8" stroke="#5f7fe8"/>
<path d="M474 125.38L478.67 115.23L471.97 126.06z" fill="#aac7fd" stroke="#aac7fd"/>
<path d="M471.39 133.87L476.06 125.83L469.36 133.96z" fill="#92b4fe" stroke="#92b4fe"/>
<path d="M452.13 158.3L458.79 156.11L456.79 155.25z" fill="#4f69d9" stroke="#4f69d9"/>
<path d="M471.97 126.06L478.67 115.23L476.61 115.23z" fill="#b3cdfb" stroke="#b3cdfb"/>
<path d="M466.74 140.69L473.44 134.69L471.39 133.87z" fill="#84a7fc" stroke="#84a7fc"/>
<path d="M468.76 141.08L473.44 134.69L466.74 140.69z" fill="#7ea1fa" stroke="#7ea1fa"/>
<path d="M476.61 115.23L481.29 102.39L474.57 116.68z" fill="#c6d6f1" stroke="#c6d6f1"/>
<path d="M454.11 159.04L458.79 156.11L452.13 158.3z" fill="#4c66d6" stroke="#4c66d6"/>
<path d="M440.07 165.22L446.72 164.52L444.75 163.54z" fill="#3e51c5" stroke="#3e51c5"/>
<path d="M456.79 155.25L463.47 152.65L461.45 151.59z" fill="#5977e3" stroke="#5977e3"/>
<path d="M438.7 166.38L442.02 166.18L440.07 165.22z" fill="#3b4cc0" stroke="#3b4cc0"/>
<path d="M464.1 146.5L470.8 142.18L468.76 141.08z" fill="#7396f5" stroke="#7396f5"/>
<path d="M444.75 163.54L451.41 162.54L449.43 161.5z" fill="#4358cb" stroke="#4358cb"/>
<path d="M466.12 147.26L470.8 142.18L464.1 146.5z" fill="#6f92f3" stroke="#6f92f3"/>
<path d="M458.79 156.11L463.47 152.65L456.79 155.25z" fill="#5673e0" stroke="#5673e0"/>
<path d="M442.02 166.18L446.72 164.52L440.07 165.22z" fill="#3d50c3" stroke="#3d50c3"/>
<path d="M437.33 167.54L442.02 166.18L438.7 166.38z" fill="#3b4cc0" stroke="#3b4cc0"/>
<path d="M449.43 161.5L456.11 160.19L454.11 159.04z" fill="#4a63d3" stroke="#4a63d3"/>
<path d="M446.72 164.52L451.41 162.54L444.75 163.54z" fill="#4358cb" stroke="#4358cb"/>
<path d="M461.45 151.59L468.16 148.59L466.12 147.26z" fill="#6687ed" stroke="#6687ed"/>
<path d="M451.41 162.54L456.11 160.19L449.43 161.5z" fill="#4961d2" stroke="#4961d2"/>
<path d="M463.47 152.65L468.16 148.59L461.45 151.59z" fill="#6384eb" stroke="#6384eb"/>
<path d="M454.11 159.04L460.81 157.41L458.79 156.11z" fill="#536edd" stroke="#536edd"/>
<path d="M471.39 133.87L478.13 127.23L476.06 125.83z" fill="#9ebeff" stroke="#9ebeff"/>
<path d="M473.44 134.69L478.13 127.23L471.39 133.87z" fill="#97b8ff" stroke="#97b8ff"/>
<path d="M476.06 125.83L480.75 116.42L474 125.38z" fill="#afcafc" stroke="#afcafc"/>
<path d="M468.76 141.08L475.5 136.25L473.44 134.69z" fill="#88abfd" stroke="#88abfd"/>
<path d="M474 125.38L480.75 116.42L478.67 115.23z" fill="#bad0f8" stroke="#bad0f8"/>
<path d="M470.8 142.18L475.5 136.25L468.76 141.08z" fill="#82a6fb" stroke="#82a6fb"/>
<path d="M437.33 167.54L443.99 167.42L442.02 166.18z" fill="#3d50c3" stroke="#3d50c3"/>
<path d="M456.11 160.19L460.81 157.41L454.11 159.04z" fill="#506bda" stroke="#506bda"/>
<path d="M435.95 168.71L439.28 168.76L437.33 167.54z" fill="#3b4cc0" stroke="#3b4cc0"/>
<path d="M442.02 166.18L448.7 165.81L446.72 164.52z" fill="#4055c8" stroke="#4055c8"/>
<path d="M458.79 156.11L465.51 154.16L463.47 152.65z" fill="#5d7ce6" stroke="#5d7ce6"/>
<path d="M478.67 115.23L483.37 103.32L476.61 115.23z" fill="#cdd9ec" stroke="#cdd9ec"/>
<path d="M466.12 147.26L472.86 143.87L470.8 142.18z" fill="#779af7" stroke="#779af7"/>
<path d="M446.72 164.52L453.41 163.91L451.41 162.54z" fill="#465ecf" stroke="#465ecf"/>
<path d="M439.28 168.76L443.99 167.42L437.33 167.54z" fill="#3d50c3" stroke="#3d50c3"/>
<path d="M468.16 148.59L472.86 143.87L466.12 147.26z" fill="#7295f4" stroke="#7295f4"/>
<path d="M476.61 115.23L483.37 103.32L481.29 102.39z" fill="#d7dce3" stroke="#d7dce3"/>
<path d="M460.81 157.41L465.51 154.16L458.79 156.11z" fill="#5a78e4" stroke="#5a78e4"/>
<path d="M434.57 169.88L439.28 168.76L435.95 168.71z" fill="#3b4cc0" stroke="#3b4cc0"/>
<path d="M443.99 167.42L448.7 165.81L442.02 166.18z" fill="#4055c8" stroke="#4055c8"/>
<path d="M451.41 162.54L458.12 161.68L456.11 160.19z" fill="#4c66d6" stroke="#4c66d6"/>
<path d="M448.7 165.81L453.41 163.91L446.72 164.52z" fill="#455cce" stroke="#455cce"/>
<path d="M463.47 152.65L470.22 150.39L468.16 148.59z" fill="#688aef" stroke="#688aef"/>
<path d="M465.51 154.16L470.22 150.39L463.47 152.65z" fill="#6687ed" stroke="#6687ed"/>
<path d="M453.41 163.91L458.12 161.68L451.41 162.54z" fill="#4b64d5" stroke="#4b64d5"/>
<path d="M473.44 134.69L480.21 129.39L478.13 127.23z" fill="#a1c0ff" stroke="#a1c0ff"/>
<path d="M475.5 136.25L480.21 129.39L473.44 134.69z" fill="#98b9ff" stroke="#98b9ff"/>
<path d="M456.11 160.19L462.84 159.07L460.81 157.41z" fill="#5572df" stroke="#5572df"/>
<path d="M478.13 127.23L482.84 118.57L476.06 125.83z" fill="#b2ccfb" stroke="#b2ccfb"/>
<path d="M470.8 142.18L477.57 138.42L475.5 136.25z" fill="#8badfd" stroke="#8badfd"/>
<path d="M434.57 169.88L441.25 170.21L439.28 168.76z" fill="#3c4ec2" stroke="#3c4ec2"/>
<path d="M476.06 125.83L482.84 118.57L480.75 116.42z" fill="#bcd2f7" stroke="#bcd2f7"/>
<path d="M472.86 143.87L477.57 138.42L470.8 142.18z" fill="#84a7fc" stroke="#84a7fc"/>
<path d="M439.28 168.76L445.98 168.9L443.99 167.42z" fill="#3f53c6" stroke="#3f53c6"/>
<path d="M458.12 161.68L462.84 159.07L456.11 160.19z" fill="#536edd" stroke="#536edd"/>
<path d="M433.18 171.05L436.52 171.31L434.57 169.88z" fill="#3b4cc0" stroke="#3b4cc0"/>
<path d="M443.99 167.42L450.7 167.36L448.7 165.81z" fill="#445acc" stroke="#445acc"/>
<path d="M468.16 148.59L474.93 146.05L472.86 143.87z" fill="#799cf8" stroke="#799cf8"/>
<path d="M460.81 157.41L467.56 156.05L465.51 154.16z" fill="#5e7de7" stroke="#5e7de7"/>
<path d="M480.75 116.42L485.47 105.48L478.67 115.23z" fill="#d1dae9" stroke="#d1dae9"/>
<path d="M436.52 171.31L441.25 170.21L434.57 169.88z" fill="#3c4ec2" stroke="#3c4ec2"/>
<path d="M470.22 150.39L474.93 146.05L468.16 148.59z" fill="#7396f5" stroke="#7396f5"/>
<path d="M448.7 165.81L455.43 165.55L453.41 163.91z" fill="#4961d2" stroke="#4961d2"/>
<path d="M441.25 170.21L445.98 168.9L439.28 168.76z" fill="#3f53c6" stroke="#3f53c6"/>
<path d="M462.84 159.07L467.56 156.05L460.81 157.41z" fill="#5b7ae5" stroke="#5b7ae5"/>
<path d="M431.79 172.22L436.52 171.31L433.18 171.05z" fill="#3b4cc0" stroke="#3b4cc0"/>
<path d="M478.67 115.23L485.47 105.48L483.37 103.32z" fill="#dadce0" stroke="#dadce0"/>
<path d="M445.98 168.9L450.7 167.36L443.99 167.42z" fill="#4358cb" stroke="#4358cb"/>
<path d="M453.41 163.91L460.15 163.45L458.12 161.68z" fill="#4f69d9" stroke="#4f69d9"/>
<path d="M465.51 154.16L472.28 152.58L470.22 150.39z" fill="#6a8bef" stroke="#6a8bef"/>
<path d="M450.7 167.36L455.43 165.55L448.7 165.81z" fill="#485fd1" stroke="#485fd1"/>
<path d="M475.5 136.25L482.3 132.16L480.21 129.39z" fill="#a1c0ff" stroke="#a1c0ff"/>
<path d="M477.57 138.42L482.3 132.16L475.5 136.25z" fill="#98b9ff" stroke="#98b9ff"/>
<path d="M467.56 156.05L472.28 152.58L465.51 154.16z" fill="#6687ed" stroke="#6687ed"/>
<path d="M480.21 129.39L484.94 121.51L478.13 127.23z" fill="#b2ccfb" stroke="#b2ccfb"/>
<path d="M455.43 165.55L460.15 163.45L453.41 163.91z" fill="#4e68d8" stroke="#4e68d8"/>
<path d="M472.86 143.87L479.66 141.07L477.57 138.42z" fill="#89acfd" stroke="#89acfd"/>
<path d="M458.12 161.68L464.88 161.03L462.84 159.07z" fill="#5673e0" stroke="#5673e0"/>
<path d="M478.13 127.23L484.94 121.51L482.84 118.57z" fill="#bcd2f7" stroke="#bcd2f7"/>
<path d="M474.93 146.05L479.66 141.07L472.86 143.87z" fill="#84a7fc" stroke="#84a7fc"/>
<path d="M431.79 172.22L438.49 172.92L436.52 171.31z" fill="#3c4ec2" stroke="#3c4ec2"/>
<path d="M483.37 103.32L488.12 89.44L481.29 102.39z" fill="#edd1c2" stroke="#edd1c2"/>
<path d="M436.52 171.31L443.23 171.85L441.25 170.21z" fill="#3e51c5" stroke="#3e51c5"/>
<path d="M430.4 173.4L433.75 173.82L431.79 172.22z" fill="#3b4cc0" stroke="#3b4cc0"/>
<path d="M460.15 163.45L464.88 161.03L458.12 161.68z" fill="#5470de" stroke="#5470de"/>
<path d="M441.25 170.21L447.97 170.59L445.98 168.9z" fill="#4257c9" stroke="#4257c9"/>
<path d="M470.22 150.39L477.02 148.61L474.93 146.05z" fill="#779af7" stroke="#779af7"/>
<path d="M462.84 159.07L469.62 158.25L467.56 156.05z" fill="#5f7fe8" stroke="#5f7fe8"/>
<path d="M482.84 118.57L487.59 108.61L480.75 116.42z" fill="#cfdaea" stroke="#cfdaea"/>
<path d="M445.98 168.9L452.71 169.13L450.7 167.36z" fill="#455cce" stroke="#455cce"/>
<path d="M472.28 152.58L477.02 148.61L470.22 150.39z" fill="#7396f5" stroke="#7396f5"/>
<path d="M433.75 173.82L438.49 172.92L431.79 172.22z" fill="#3b4cc0" stroke="#3b4cc0"/>
<path d="M438.49 172.92L443.23 171.85L436.52 171.31z" fill="#3e51c5" stroke="#3e51c5"/>
<path d="M480.75 116.42L487.59 108.61L485.47 105.48z" fill="#dadce0" stroke="#dadce0"/>
<path d="M450.7 167.36L457.45 167.43L455.43 165.55z" fill="#4a63d3" stroke="#4a63d3"/>
<path d="M464.88 161.03L469.62 158.25L462.84 159.07z" fill="#5d7ce6" stroke="#5d7ce6"/>
<path d="M443.23 171.85L447.97 170.59L441.25 170.21z" fill="#4055c8" stroke="#4055c8"/>
<path d="M429 174.59L433.75 173.82L430.4 173.4z" fill="#3b4cc0" stroke="#3b4cc0"/>
<path d="M447.97 170.59L452.71 169.13L445.98 168.9z" fill="#445acc" stroke="#445acc"/>
<path d="M467.56 156.05L474.36 155.07L472.28 152.58z" fill="#6a8bef" stroke="#6a8bef"/>
<path d="M455.43 165.55L462.2 165.47L460.15 163.45z" fill="#506bda" stroke="#506bda"/>
<path d="M477.57 138.42L484.41 135.41L482.3 132.16z" fill="#9ebeff" stroke="#9ebeff"/>
<path d="M479.66 141.07L484.41 135.41L477.57 138.42z" fill="#96b7ff" stroke="#96b7ff"/>
<path d="M452.71 169.13L457.45 167.43L450.7 167.36z" fill="#4961d2" stroke="#4961d2"/>
<path d="M482.3 132.16L487.05 125.04L480.21 129.39z" fill="#afcafc" stroke="#afcafc"/>
<path d="M474.93 146.05L481.76 144.11L479.66 141.07z" fill="#88abfd" stroke="#88abfd"/>
<path d="M469.62 158.25L474.36 155.07L467.56 156.05z" fill="#6687ed" stroke="#6687ed"/>
<path d="M480.21 129.39L487.05 125.04L484.94 121.51z" fill="#bad0f8" stroke="#bad0f8"/>
<path d="M477.02 148.61L481.76 144.11L474.93 146.05z" fill="#82a6fb" stroke="#82a6fb"/>
<path d="M460.15 163.45L466.94 163.23L464.88 161.03z" fill="#5875e1" stroke="#5875e1"/>
<path d="M457.45 167.43L462.2 165.47L455.43 165.55z" fill="#4f69d9" stroke="#4f69d9"/>
<path d="M485.47 105.48L490.24 92.84L483.37 103.32z" fill="#edd1c2" stroke="#edd1c2"/>
<path d="M429 174.59L435.71 175.57L433.75 173.82z" fill="#3b4cc0" stroke="#3b4cc0"/>
<path d="M433.75 173.82L440.47 174.69L438.49 172.92z" fill="#3d50c3" stroke="#3d50c3"/>
<path d="M484.94 121.51L489.71 112.5L482.84 118.57z" fill="#cdd9ec" stroke="#cdd9ec"/>
<path d="M472.28 152.58L479.11 151.48L477.02 148.61z" fill="#7699f6" stroke="#7699f6"/>
<path d="M438.49 172.92L445.23 173.66L443.23 171.85z" fill="#3f53c6" stroke="#3f53c6"/>
<path d="M462.2 165.47L466.94 163.23L460.15 163.45z" fill="#5572df" stroke="#5572df"/>
<path d="M427.6 175.77L430.95 176.32L429 174.59z" fill="#3b4cc0" stroke="#3b4cc0"/>
<path d="M443.23 171.85L449.98 172.46L447.97 170.59z" fill="#4358cb" stroke="#4358cb"/>
<path d="M464.88 161.03L471.69 160.69L469.62 158.25z" fill="#5f7fe8" stroke="#5f7fe8"/>
<path d="M474.36 155.07L479.11 151.48L472.28 152.58z" fill="#7295f4" stroke="#7295f4"/>
<path d="M482.84 118.57L489.71 112.5L487.59 108.61z" fill="#d7dce3" stroke="#d7dce3"/>
<path d="M483.37 103.32L490.24 92.84L488.12 89.44z" fill="#f4c6af" stroke="#f4c6af"/>
<path d="M447.97 170.59L454.74 171.08L452.71 169.13z" fill="#465ecf" stroke="#465ecf"/>
<path d="M430.95 176.32L435.71 175.57L429 174.59z" fill="#3b4cc0" stroke="#3b4cc0"/>
<path d="M435.71 175.57L440.47 174.69L433.75 173.82z" fill="#3d50c3" stroke="#3d50c3"/>
<path d="M466.94 163.23L471.69 160.69L464.88 161.03z" fill="#5d7ce6" stroke="#5d7ce6"/>
<path d="M440.47 174.69L445.23 173.66L438.49 172.92z" fill="#3f53c6" stroke="#3f53c6"/>
<path d="M452.71 169.13L459.5 169.5L457.45 167.43z" fill="#4b64d5" stroke="#4b64d5"/>
<path d="M479.66 141.07L486.52 139.03L484.41 135.41z" fill="#9abbff" stroke="#9abbff"/>
<path d="M445.23 173.66L449.98 172.46L443.23 171.85z" fill="#4257c9" stroke="#4257c9"/>
<path d="M481.76 144.11L486.52 139.03L479.66 141.07z" fill="#93b5fe" stroke="#93b5fe"/>
<path d="M426.19 176.96L430.95 176.32L427.6 175.77z" fill="#3b4cc0" stroke="#3b4cc0"/>
<path d="M484.41 135.41L489.17 129.02L482.3 132.16z" fill="#abc8fd" stroke="#abc8fd"/>
<path d="M469.62 158.25L476.45 157.81L474.36 155.07z" fill="#688aef" stroke="#688aef"/>
<path d="M482.3 132.16L489.17 129.02L487.05 125.04z" fill="#b5cdfa" stroke="#b5cdfa"/>
<path d="M449.98 172.46L454.74 171.08L447.97 170.59z" fill="#455cce" stroke="#455cce"/>
<path d="M477.02 148.61L483.87 147.43L481.76 144.11z" fill="#85a8fc" stroke="#85a8fc"/>
<path d="M457.45 167.43L464.25 167.69L462.2 165.47z" fill="#506bda" stroke="#506bda"/>
<path d="M479.11 151.48L483.87 147.43L477.02 148.61z" fill="#80a3fa" stroke="#80a3fa"/>
<path d="M471.69 160.69L476.45 157.81L469.62 158.25z" fill="#6485ec" stroke="#6485ec"/>
<path d="M454.74 171.08L459.5 169.5L452.71 169.13z" fill="#4a63d3" stroke="#4a63d3"/>
<path d="M487.59 108.61L492.37 97.2L485.47 105.48z" fill="#ebd3c6" stroke="#ebd3c6"/>
<path d="M487.05 125.04L491.83 116.97L484.94 121.51z" fill="#c9d7f0" stroke="#c9d7f0"/>
<path d="M462.2 165.47L469.01 165.64L466.94 163.23z" fill="#5673e0" stroke="#5673e0"/>
<path d="M459.5 169.5L464.25 167.69L457.45 167.43z" fill="#4f69d9" stroke="#4f69d9"/>
<path d="M474.36 155.07L481.21 154.57L479.11 151.48z" fill="#7597f6" stroke="#7597f6"/>
<path d="M484.94 121.51L491.83 116.97L489.71 112.5z" fill="#d3dbe7" stroke="#d3dbe7"/>
<path d="M426.19 176.96L432.92 178.18L430.95 176.32z" fill="#3b4cc0" stroke="#3b4cc0"/>
<path d="M430.95 176.32L437.7 177.44L435.71 175.57z" fill="#3c4ec2" stroke="#3c4ec2"/>
<path d="M485.47 105.48L492.37 97.2L490.24 92.84z" fill="#f2c9b4" stroke="#f2c9b4"/>
<path d="M435.71 175.57L442.47 176.59L440.47 174.69z" fill="#3e51c5" stroke="#3e51c5"/>
<path d="M464.25 167.69L469.01 165.64L462.2 165.47z" fill="#5572df" stroke="#5572df"/>
<path d="M476.45 157.81L481.21 154.57L474.36 155.07z" fill="#6f92f3" stroke="#6f92f3"/>
<path d="M466.94 163.23L473.78 163.32L471.69 160.69z" fill="#5e7de7" stroke="#5e7de7"/>
<path d="M440.47 174.69L447.24 175.61L445.23 173.66z" fill="#4055c8" stroke="#4055c8"/>
<path d="M424.78 178.15L428.15 178.81L426.19 176.96z" fill="#3b4cc0" stroke="#3b4cc0"/>
<path d="M445.23 173.66L452.01 174.48L449.98 172.46z" fill="#445acc" stroke="#445acc"/>
<path d="M486.52 139.03L491.3 133.33L484.41 135.41z" fill="#a6c4fe" stroke="#a6c4fe"/>
<path d="M481.76 144.11L488.64 142.9L486.52 139.03z" fill="#96b7ff" stroke="#96b7ff"/>
<path d="M484.41 135.41L491.3 133.33L489.17 129.02z" fill="#afcafc" stroke="#afcafc"/>
<path d="M483.87 147.43L488.64 142.9L481.76 144.11z" fill="#8fb1fe" stroke="#8fb1fe"/>
<path d="M449.98 172.46L456.78 173.19L454.74 171.08z" fill="#485fd1" stroke="#485fd1"/>
<path d="M469.01 165.64L473.78 163.32L466.94 163.23z" fill="#5b7ae5" stroke="#5b7ae5"/>
<path d="M428.15 178.81L432.92 178.18L426.19 176.96z" fill="#3b4cc0" stroke="#3b4cc0"/>
<path d="M432.92 178.18L437.7 177.44L430.95 176.32z" fill="#3c4ec2" stroke="#3c4ec2"/>
<path d="M437.7 177.44L442.47 176.59L435.71 175.57z" fill="#3e51c5" stroke="#3e51c5"/>
<path d="M489.71 112.5L494.5 102.29L487.59 108.61z" fill="#e7d7ce" stroke="#e7d7ce"/>
<path d="M479.11 151.48L485.99 150.95L483.87 147.43z" fill="#81a4fb" stroke="#81a4fb"/>
<path d="M471.69 160.69L478.55 160.73L476.45 157.81z" fill="#6788ee" stroke="#6788ee"/>
<path d="M454.74 171.08L461.55 171.72L459.5 169.5z" fill="#4b64d5" stroke="#4b64d5"/>
<path d="M442.47 176.59L447.24 175.61L440.47 174.69z" fill="#4055c8" stroke="#4055c8"/>
<path d="M489.17 129.02L493.96 121.84L487.05 125.04z" fill="#c3d5f4" stroke="#c3d5f4"/>
<path d="M447.24 175.61L452.01 174.48L445.23 173.66z" fill="#4358cb" stroke="#4358cb"/>
<path d="M481.21 154.57L485.99 150.95L479.11 151.48z" fill="#7b9ff9" stroke="#7b9ff9"/>
<path d="M423.37 179.35L428.15 178.81L424.78 178.15z" fill="#3b4cc0" stroke="#3b4cc0"/>
<path d="M487.05 125.04L493.96 121.84L491.83 116.97z" fill="#ccd9ed" stroke="#ccd9ed"/>
<path d="M459.5 169.5L466.32 170.06L464.25 167.69z" fill="#506bda" stroke="#506bda"/>
<path d="M452.01 174.48L456.78 173.19L449.98 172.46z" fill="#465ecf" stroke="#465ecf"/>
<path d="M473.78 163.32L478.55 160.73L471.69 160.69z" fill="#6384eb" stroke="#6384eb"/>
<path d="M456.78 173.19L461.55 171.72L454.74 171.08z" fill="#4a63d3" stroke="#4a63d3"/>
<path d="M487.59 108.61L494.5 102.29L492.37 97.2z" fill="#efcebd" stroke="#efcebd"/>
<path d="M464.25 167.69L471.1 168.2L469.01 165.64z" fill="#5673e0" stroke="#5673e0"/>
<path d="M476.45 157.81L483.33 157.83L481.21 154.57z" fill="#7093f3" stroke="#7093f3"/>
<path d="M461.55 171.72L466.32 170.06L459.5 169.5z" fill="#4f69d9" stroke="#4f69d9"/>
<path d="M490.24 92.84L495.06 78.35L488.12 89.44z" fill="#f7a98b" stroke="#f7a98b"/>
<path d="M488.64 142.9L493.43 137.86L486.52 139.03z" fill="#9fbfff" stroke="#9fbfff"/>
<path d="M486.52 139.03L493.43 137.86L491.3 133.33z" fill="#a7c5fe" stroke="#a7c5fe"/>
<path d="M478.55 160.73L483.33 157.83L476.45 157.81z" fill="#6c8ff1" stroke="#6c8ff1"/>
<path d="M483.87 147.43L490.77 146.94L488.64 142.9z" fill="#90b2fe" stroke="#90b2fe"/>
<path d="M491.83 116.97L496.64 107.89L489.71 112.5z" fill="#e0dbd8" stroke="#e0dbd8"/>
<path d="M469.01 165.64L475.87 166.1L473.78 163.32z" fill="#5d7ce6" stroke="#5d7ce6"/>
<path d="M485.99 150.95L490.77 146.94L483.87 147.43z" fill="#89acfd" stroke="#89acfd"/>
<path d="M466.32 170.06L471.1 168.2L464.25 167.69z" fill="#5470de" stroke="#5470de"/>
<path d="M428.15 178.81L434.9 180.14L432.92 178.18z" fill="#3c4ec2" stroke="#3c4ec2"/>
<path d="M423.37 179.35L430.12 180.75L428.15 178.81z" fill="#3b4cc0" stroke="#3b4cc0"/>
<path d="M432.92 178.18L439.69 179.43L437.7 177.44z" fill="#3d50c3" stroke="#3d50c3"/>
<path d="M491.3 133.33L496.1 126.99L489.17 129.02z" fill="#bad0f8" stroke="#bad0f8"/>
<path d="M437.7 177.44L444.48 178.61L442.47 176.59z" fill="#3f53c6" stroke="#3f53c6"/>
<path d="M442.47 176.59L449.26 177.68L447.24 175.61z" fill="#4257c9" stroke="#4257c9"/>
<path d="M489.17 129.02L496.1 126.99L493.96 121.84z" fill="#c4d5f3" stroke="#c4d5f3"/>
<path d="M447.24 175.61L454.04 176.63L452.01 174.48z" fill="#445acc" stroke="#445acc"/>
<path d="M481.21 154.57L488.11 154.63L485.99 150.95z" fill="#7da0f9" stroke="#7da0f9"/>
<path d="M421.95 180.55L425.33 181.29L423.37 179.35z" fill="#3b4cc0" stroke="#3b4cc0"/>
<path d="M471.1 168.2L475.87 166.1L469.01 165.64z" fill="#5a78e4" stroke="#5a78e4"/>
<path d="M489.71 112.5L496.64 107.89L494.5 102.29z" fill="#ead4c8" stroke="#ead4c8"/>
<path d="M452.01 174.48L458.83 175.43L456.78 173.19z" fill="#485fd1" stroke="#485fd1"/>
<path d="M473.78 163.32L480.66 163.78L478.55 160.73z" fill="#6485ec" stroke="#6485ec"/>
<path d="M483.33 157.83L488.11 154.63L481.21 154.57z" fill="#779af7" stroke="#779af7"/>
<path d="M430.12 180.75L434.9 180.14L428.15 178.81z" fill="#3c4ec2" stroke="#3c4ec2"/>
<path d="M434.9 180.14L439.69 179.43L432.92 178.18z" fill="#3d50c3" stroke="#3d50c3"/>
<path d="M425.33 181.29L430.12 180.75L423.37 179.35z" fill="#3b4cc0" stroke="#3b4cc0"/>
<path d="M456.78 173.19L463.61 174.08L461.55 171.72z" fill="#4b64d5" stroke="#4b64d5"/>
<path d="M439.69 179.43L444.48 178.61L437.7 177.44z" fill="#3f53c6" stroke="#3f53c6"/>
<path d="M444.48 178.61L449.26 177.68L442.47 176.59z" fill="#4055c8" stroke="#4055c8"/>
<path d="M492.37 97.2L497.2 84.23L490.24 92.84z" fill="#f7b396" stroke="#f7b396"/>
<path d="M475.87 166.1L480.66 163.78L473.78 163.32z" fill="#6180e9" stroke="#6180e9"/>
<path d="M449.26 177.68L454.04 176.63L447.24 175.61z" fill="#445acc" stroke="#445acc"/>
<path d="M493.96 121.84L498.78 113.83L491.83 116.97z" fill="#d8dce2" stroke="#d8dce2"/>
<path d="M461.55 171.72L468.4 172.56L466.32 170.06z" fill="#506bda" stroke="#506bda"/>
<path d="M420.53 181.75L425.33 181.29L421.95 180.55z" fill="#3b4cc0" stroke="#3b4cc0"/>
<path d="M488.64 142.9L495.57 142.52L493.43 137.86z" fill="#9fbfff" stroke="#9fbfff"/>
<path d="M454.04 176.63L458.83 175.43L452.01 174.48z" fill="#465ecf" stroke="#465ecf"/>
<path d="M490.77 146.94L495.57 142.52L488.64 142.9z" fill="#98b9ff" stroke="#98b9ff"/>
<path d="M478.55 160.73L485.45 161.21L483.33 157.83z" fill="#6e90f2" stroke="#6e90f2"/>
<path d="M493.43 137.86L498.24 132.3L491.3 133.33z" fill="#b2ccfb" stroke="#b2ccfb"/>
<path d="M485.99 150.95L492.91 151.1L490.77 146.94z" fill="#89acfd" stroke="#89acfd"/>
<path d="M458.83 175.43L463.61 174.08L456.78 173.19z" fill="#4a63d3" stroke="#4a63d3"/>
<path d="M466.32 170.06L473.19 170.87L471.1 168.2z" fill="#5572df" stroke="#5572df"/>
<path d="M491.3 133.33L498.24 132.3L496.1 126.99z" fill="#bbd1f8" stroke="#bbd1f8"/>
<path d="M491.83 116.97L498.78 113.83L496.64 107.89z" fill="#e2dad5" stroke="#e2dad5"/>
<path d="M488.11 154.63L492.91 151.1L485.99 150.95z" fill="#82a6fb" stroke="#82a6fb"/>
<path d="M480.66 163.78L485.45 161.21L478.55 160.73z" fill="#6a8bef" stroke="#6a8bef"/>
<path d="M463.61 174.08L468.4 172.56L461.55 171.72z" fill="#4e68d8" stroke="#4e68d8"/>
<path d="M471.1 168.2L477.98 169L475.87 166.1z" fill="#5b7ae5" stroke="#5b7ae5"/>
<path d="M490.24 92.84L497.2 84.23L495.06 78.35z" fill="#f59f80" stroke="#f59f80"/>
<path d="M494.5 102.29L499.34 90.77L492.37 97.2z" fill="#f6bda2" stroke="#f6bda2"/>
<path d="M468.4 172.56L473.19 170.87L466.32 170.06z" fill="#536edd" stroke="#536edd"/>
<path d="M483.33 157.83L490.25 158.38L488.11 154.63z" fill="#779af7" stroke="#779af7"/>
<path d="M496.1 126.99L500.93 119.98L493.96 121.84z" fill="#cfdaea" stroke="#cfdaea"/>
<path d="M430.12 180.75L436.9 182.18L434.9 180.14z" fill="#3d50c3" stroke="#3d50c3"/>
<path d="M425.33 181.29L432.1 182.78L430.12 180.75z" fill="#3b4cc0" stroke="#3b4cc0"/>
<path d="M434.9 180.14L441.7 181.5L439.69 179.43z" fill="#3e51c5" stroke="#3e51c5"/>
<path d="M420.53 181.75L427.29 183.3L425.33 181.29z" fill="#3b4cc0" stroke="#3b4cc0"/>
<path d="M439.69 179.43L446.5 180.73L444.48 178.61z" fill="#3f53c6" stroke="#3f53c6"/>
<path d="M485.45 161.21L490.25 158.38L483.33 157.83z" fill="#7295f4" stroke="#7295f4"/>
<path d="M444.48 178.61L451.3 179.86L449.26 177.68z" fill="#4257c9" stroke="#4257c9"/>
<path d="M473.19 170.87L477.98 169L471.1 168.2z" fill="#5977e3" stroke="#5977e3"/>
<path d="M475.87 166.1L482.78 166.93L480.66 163.78z" fill="#6282ea" stroke="#6282ea"/>
<path d="M449.26 177.68L456.09 178.88L454.04 176.63z" fill="#455cce" stroke="#455cce"/>
<path d="M493.96 121.84L500.93 119.98L498.78 113.83z" fill="#d9dce1" stroke="#d9dce1"/>
<path d="M490.77 146.94L497.72 147.24L495.57 142.52z" fill="#97b8ff" stroke="#97b8ff"/>
<path d="M495.57 142.52L500.39 137.68L493.43 137.86z" fill="#a9c6fd" stroke="#a9c6fd"/>
<path d="M492.91 151.1L497.72 147.24L490.77 146.94z" fill="#90b2fe" stroke="#90b2fe"/>
<path d="M454.04 176.63L460.89 177.77L458.83 175.43z" fill="#485fd1" stroke="#485fd1"/>
<path d="M493.43 137.86L500.39 137.68L498.24 132.3z" fill="#b1cbfc" stroke="#b1cbfc"/>
<path d="M419.11 182.95L422.49 183.76L420.53 181.75z" fill="#3b4cc0" stroke="#3b4cc0"/>
<path d="M477.98 169L482.78 166.93L475.87 166.1z" fill="#5f7fe8" stroke="#5f7fe8"/>
<path d="M458.83 175.43L465.69 176.54L463.61 174.08z" fill="#4b64d5" stroke="#4b64d5"/>
<path d="M496.64 107.89L501.49 97.74L494.5 102.29z" fill="#f3c8b2" stroke="#f3c8b2"/>
<path d="M488.11 154.63L495.06 155.3L492.91 151.1z" fill="#82a6fb" stroke="#82a6fb"/>
<path d="M432.1 182.78L436.9 182.18L430.12 180.75z" fill="#3c4ec2" stroke="#3c4ec2"/>
<path d="M492.37 97.2L499.34 90.77L497.2 84.23z" fill="#f7ac8e" stroke="#f7ac8e"/>
<path d="M436.9 182.18L441.7 181.5L434.9 180.14z" fill="#3e51c5" stroke="#3e51c5"/>
<path d="M427.29 183.3L432.1 182.78L425.33 181.29z" fill="#3b4cc0" stroke="#3b4cc0"/>
<path d="M441.7 181.5L446.5 180.73L439.69 179.43z" fill="#3f53c6" stroke="#3f53c6"/>
<path d="M480.66 163.78L487.58 164.66L485.45 161.21z" fill="#6a8bef" stroke="#6a8bef"/>
<path d="M422.49 183.76L427.29 183.3L420.53 181.75z" fill="#3b4cc0" stroke="#3b4cc0"/>
<path d="M446.5 180.73L451.3 179.86L444.48 178.61z" fill="#4257c9" stroke="#4257c9"/>
<path d="M498.24 132.3L503.08 126.21L496.1 126.99z" fill="#c5d6f2" stroke="#c5d6f2"/>
<path d="M490.25 158.38L495.06 155.3L488.11 154.63z" fill="#7da0f9" stroke="#7da0f9"/>
<path d="M463.61 174.08L470.49 175.16L468.4 172.56z" fill="#4f69d9" stroke="#4f69d9"/>
<path d="M451.3 179.86L456.09 178.88L449.26 177.68z" fill="#445acc" stroke="#445acc"/>
<path d="M456.09 178.88L460.89 177.77L454.04 176.63z" fill="#465ecf" stroke="#465ecf"/>
<path d="M482.78 166.93L487.58 164.66L480.66 163.78z" fill="#6687ed" stroke="#6687ed"/>
<path d="M496.1 126.99L503.08 126.21L500.93 119.98z" fill="#cedaeb" stroke="#cedaeb"/>
<path d="M417.68 184.16L422.49 183.76L419.11 182.95z" fill="#3b4cc0" stroke="#3b4cc0"/>
<path d="M468.4 172.56L475.29 173.64L473.19 170.87z" fill="#5470de" stroke="#5470de"/>
<path d="M460.89 177.77L465.69 176.54L458.83 175.43z" fill="#4a63d3" stroke="#4a63d3"/>
<path d="M498.78 113.83L503.64 104.96L496.64 107.89z" fill="#edd2c3" stroke="#edd2c3"/>
<path d="M485.45 161.21L492.39 162.19L490.25 158.38z" fill="#7295f4" stroke="#7295f4"/>
<path d="M465.69 176.54L470.49 175.16L463.61 174.08z" fill="#4e68d8" stroke="#4e68d8"/>
<path d="M494.5 102.29L501.49 97.74L499.34 90.77z" fill="#f7b99e" stroke="#f7b99e"/>
<path d="M497.72 147.24L502.55 143.07L495.57 142.52z" fill="#9ebeff" stroke="#9ebeff"/>
<path d="M495.57 142.52L502.55 143.07L500.39 137.68z" fill="#a7c5fe" stroke="#a7c5fe"/>
<path d="M473.19 170.87L480.1 171.97L477.98 169z" fill="#5977e3" stroke="#5977e3"/>
<path d="M492.91 151.1L499.87 151.97L497.72 147.24z" fill="#8fb1fe" stroke="#8fb1fe"/>
<path d="M487.58 164.66L492.39 162.19L485.45 161.21z" fill="#6e90f2" stroke="#6e90f2"/>
<path d="M470.49 175.16L475.29 173.64L468.4 172.56z" fill="#516ddb" stroke="#516ddb"/>
<path d="M495.06 155.3L499.87 151.97L492.91 151.1z" fill="#88abfd" stroke="#88abfd"/>
<path d="M500.39 137.68L505.23 132.43L498.24 132.3z" fill="#bad0f8" stroke="#bad0f8"/>
<path d="M477.98 169L484.91 170.13L482.78 166.93z" fill="#5f7fe8" stroke="#5f7fe8"/>
<path d="M498.24 132.3L505.23 132.43L503.08 126.21z" fill="#c4d5f3" stroke="#c4d5f3"/>
<path d="M475.29 173.64L480.1 171.97L473.19 170.87z" fill="#5673e0" stroke="#5673e0"/>
<path d="M500.93 119.98L505.78 112.28L498.78 113.83z" fill="#e3d9d3" stroke="#e3d9d3"/>
<path d="M496.64 107.89L503.64 104.96L501.49 97.74z" fill="#f3c7b1" stroke="#f3c7b1"/>
<path d="M432.1 182.78L438.9 184.31L436.9 182.18z" fill="#3d50c3" stroke="#3d50c3"/>
<path d="M436.9 182.18L443.72 183.66L441.7 181.5z" fill="#3e51c5" stroke="#3e51c5"/>
<path d="M490.25 158.38L497.21 159.51L495.06 155.3z" fill="#7b9ff9" stroke="#7b9ff9"/>
<path d="M427.29 183.3L434.09 184.88L432.1 182.78z" fill="#3c4ec2" stroke="#3c4ec2"/>
<path d="M441.7 181.5L448.53 182.94L446.5 180.73z" fill="#4055c8" stroke="#4055c8"/>
<path d="M422.49 183.76L429.27 185.39L427.29 183.3z" fill="#3b4cc0" stroke="#3b4cc0"/>
<path d="M446.5 180.73L453.34 182.12L451.3 179.86z" fill="#4257c9" stroke="#4257c9"/>
<path d="M417.68 184.16L424.45 185.84L422.49 183.76z" fill="#3b4cc0" stroke="#3b4cc0"/>
<path d="M583.91 184.38L585.11 183.17L578.62 163.39z" fill="#4b64d5" stroke="#4b64d5"/>
<path d="M451.3 179.86L458.15 181.21L456.09 178.88z" fill="#445acc" stroke="#445acc"/>
<path d="M492.39 162.19L497.21 159.51L490.25 158.38z" fill="#7699f6" stroke="#7699f6"/>
<path d="M480.1 171.97L484.91 170.13L477.98 169z" fill="#5b7ae5" stroke="#5b7ae5"/>
<path d="M456.09 178.88L462.96 180.2L460.89 177.77z" fill="#485fd1" stroke="#485fd1"/>
<path d="M482.78 166.93L489.72 168.14L487.58 164.66z" fill="#6687ed" stroke="#6687ed"/>
<path d="M460.89 177.77L467.78 179.07L465.69 176.54z" fill="#4a63d3" stroke="#4a63d3"/>
<path d="M497.72 147.24L504.71 148.39L502.55 143.07z" fill="#9dbdff" stroke="#9dbdff"/>
<path d="M416.25 185.37L419.63 186.24L417.68 184.16z" fill="#3b4cc0" stroke="#3b4cc0"/>
<path d="M582.71 185.59L583.91 184.38L580.63 175.44z" fill="#4257c9" stroke="#4257c9"/>
<path d="M498.78 113.83L505.78 112.28L503.64 104.96z" fill="#edd2c3" stroke="#edd2c3"/>
<path d="M499.87 151.97L504.71 148.39L497.72 147.24z" fill="#94b6ff" stroke="#94b6ff"/>
<path d="M503.08 126.21L507.93 119.58L500.93 119.98z" fill="#d7dce3" stroke="#d7dce3"/>
<path d="M502.55 143.07L507.39 138.57L500.39 137.68z" fill="#aec9fc" stroke="#aec9fc"/>
<path d="M438.9 184.31L443.72 183.66L436.9 182.18z" fill="#3e51c5" stroke="#3e51c5"/>
<path d="M434.09 184.88L438.9 184.31L432.1 182.78z" fill="#3d50c3" stroke="#3d50c3"/>
<path d="M443.72 183.66L448.53 182.94L441.7 181.5z" fill="#3f53c6" stroke="#3f53c6"/>
<path d="M465.69 176.54L472.59 177.83L470.49 175.16z" fill="#4e68d8" stroke="#4e68d8"/>
<path d="M429.27 185.39L434.09 184.88L427.29 183.3z" fill="#3c4ec2" stroke="#3c4ec2"/>
<path d="M484.91 170.13L489.72 168.14L482.78 166.93z" fill="#6282ea" stroke="#6282ea"/>
<path d="M500.39 137.68L507.39 138.57L505.23 132.43z" fill="#b7cff9" stroke="#b7cff9"/>
<path d="M448.53 182.94L453.34 182.12L446.5 180.73z" fill="#4257c9" stroke="#4257c9"/>
<path d="M424.45 185.84L429.27 185.39L422.49 183.76z" fill="#3b4cc0" stroke="#3b4cc0"/>
<path d="M495.06 155.3L502.04 156.65L499.87 151.97z" fill="#86a9fc" stroke="#86a9fc"/>
<path d="M497.2 84.23L502.09 69.56L495.06 78.35z" fill="#ea7b60" stroke="#ea7b60"/>
<path d="M419.63 186.24L424.45 185.84L417.68 184.16z" fill="#3b4cc0" stroke="#3b4cc0"/>
<path d="M453.34 182.12L458.15 181.21L451.3 179.86z" fill="#445acc" stroke="#445acc"/>
<path d="M487.58 164.66L494.54 166L492.39 162.19z" fill="#6c8ff1" stroke="#6c8ff1"/>
<path d="M458.15 181.21L462.96 180.2L456.09 178.88z" fill="#465ecf" stroke="#465ecf"/>
<path d="M470.49 175.16L477.41 176.47L475.29 173.64z" fill="#536edd" stroke="#536edd"/>
<path d="M497.21 159.51L502.04 156.65L495.06 155.3z" fill="#81a4fb" stroke="#81a4fb"/>
<path d="M580.63 175.44L583.91 184.38L578.62 163.39z" fill="#5470de" stroke="#5470de"/>
<path d="M500.93 119.98L507.93 119.58L505.78 112.28z" fill="#e1dad6" stroke="#e1dad6"/>
<path d="M462.96 180.2L467.78 179.07L460.89 177.77z" fill="#4961d2" stroke="#4961d2"/>
<path d="M489.72 168.14L494.54 166L487.58 164.66z" fill="#688aef" stroke="#688aef"/>
<path d="M505.23 132.43L510.09 126.78L503.08 126.21z" fill="#cbd8ee" stroke="#cbd8ee"/>
<path d="M414.81 186.59L419.63 186.24L416.25 185.37z" fill="#3b4cc0" stroke="#3b4cc0"/>
<path d="M475.29 173.64L482.22 174.99L480.1 171.97z" fill="#5673e0" stroke="#5673e0"/>
<path d="M467.78 179.07L472.59 177.83L465.69 176.54z" fill="#4c66d6" stroke="#4c66d6"/>
<path d="M499.34 90.77L504.24 77.86L497.2 84.23z" fill="#f29072" stroke="#f29072"/>
<path d="M492.39 162.19L499.37 163.7L497.21 159.51z" fill="#7699f6" stroke="#7699f6"/>
<path d="M472.59 177.83L477.41 176.47L470.49 175.16z" fill="#506bda" stroke="#506bda"/>
<path d="M504.71 148.39L509.55 144.58L502.55 143.07z" fill="#a2c1ff" stroke="#a2c1ff"/>
<path d="M480.1 171.97L487.05 173.37L484.91 170.13z" fill="#5b7ae5" stroke="#5b7ae5"/>
<path d="M503.08 126.21L510.09 126.78L507.93 119.58z" fill="#d5dbe5" stroke="#d5dbe5"/>
<path d="M502.55 143.07L509.55 144.58L507.39 138.57z" fill="#aac7fd" stroke="#aac7fd"/>
<path d="M499.87 151.97L506.87 153.61L504.71 148.39z" fill="#92b4fe" stroke="#92b4fe"/>
<path d="M501.49 97.74L506.38 86.47L499.34 90.77z" fill="#f7a688" stroke="#f7a688"/>
<path d="M502.04 156.65L506.87 153.61L499.87 151.97z" fill="#8badfd" stroke="#8badfd"/>
<path d="M494.54 166L499.37 163.7L492.39 162.19z" fill="#7093f3" stroke="#7093f3"/>
<path d="M576.06 169.47L582.71 185.59L580.63 175.44z" fill="#506bda" stroke="#506bda"/>
<path d="M477.41 176.47L482.22 174.99L475.29 173.64z" fill="#5470de" stroke="#5470de"/>
<path d="M507.39 138.57L512.25 133.79L505.23 132.43z" fill="#bed2f6" stroke="#bed2f6"/>
<path d="M581.51 186.81L582.71 185.59L576.06 169.47z" fill="#485fd1" stroke="#485fd1"/>
<path d="M484.91 170.13L491.87 171.64L489.72 168.14z" fill="#6282ea" stroke="#6282ea"/>
<path d="M503.64 104.96L508.53 95.2L501.49 97.74z" fill="#f7b99e" stroke="#f7b99e"/>
<path d="M438.9 184.31L445.75 185.89L443.72 183.66z" fill="#3f53c6" stroke="#3f53c6"/>
<path d="M434.09 184.88L440.92 186.5L438.9 184.31z" fill="#3d50c3" stroke="#3d50c3"/>
<path d="M482.22 174.99L487.05 173.37L480.1 171.97z" fill="#5977e3" stroke="#5977e3"/>
<path d="M443.72 183.66L450.57 185.21L448.53 182.94z" fill="#4055c8" stroke="#4055c8"/>
<path d="M497.21 159.51L504.2 161.26L502.04 156.65z" fill="#7ea1fa" stroke="#7ea1fa"/>
<path d="M429.27 185.39L436.09 187.05L434.09 184.88z" fill="#3c4ec2" stroke="#3c4ec2"/>
<path d="M448.53 182.94L455.4 184.46L453.34 182.12z" fill="#4257c9" stroke="#4257c9"/>
<path d="M424.45 185.84L431.26 187.54L429.27 185.39z" fill="#3b4cc0" stroke="#3b4cc0"/>
<path d="M505.23 132.43L512.25 133.79L510.09 126.78z" fill="#c7d7f0" stroke="#c7d7f0"/>
<path d="M419.63 186.24L426.43 187.98L424.45 185.84z" fill="#3b4cc0" stroke="#3b4cc0"/>
<path d="M453.34 182.12L460.22 183.62L458.15 181.21z" fill="#445acc" stroke="#445acc"/>
<path d="M414.81 186.59L421.6 188.37L419.63 186.24z" fill="#3b4cc0" stroke="#3b4cc0"/>
<path d="M458.15 181.21L465.05 182.69L462.96 180.2z" fill="#465ecf" stroke="#465ecf"/>
<path d="M499.37 163.7L504.2 161.26L497.21 159.51z" fill="#799cf8" stroke="#799cf8"/>
<path d="M505.78 112.28L510.67 103.89L503.64 104.96z" fill="#f2c9b4" stroke="#f2c9b4"/>
<path d="M487.05 173.37L491.87 171.64L484.91 170.13z" fill="#5e7de7" stroke="#5e7de7"/>
<path d="M489.72 168.14L496.7 169.78L494.54 166z" fill="#688aef" stroke="#688aef"/>
<path d="M462.96 180.2L469.87 181.67L467.78 179.07z" fill="#4a63d3" stroke="#4a63d3"/>
<path d="M580.3 188.03L581.51 186.81L578.15 179.5z" fill="#3f53c6" stroke="#3f53c6"/>
<path d="M504.71 148.39L511.72 150.41L509.55 144.58z" fill="#9ebeff" stroke="#9ebeff"/>
<path d="M497.2 84.23L504.24 77.86L502.09 69.56z" fill="#e7745b" stroke="#e7745b"/>
<path d="M506.87 153.61L511.72 150.41L504.71 148.39z" fill="#96b7ff" stroke="#96b7ff"/>
<path d="M574.02 157.72L580.63 175.44L578.62 163.39z" fill="#6f92f3" stroke="#6f92f3"/>
<path d="M467.78 179.07L474.7 180.56L472.59 177.83z" fill="#4c66d6" stroke="#4c66d6"/>
<path d="M507.93 119.58L512.82 112.44L505.78 112.28z" fill="#e9d5cb" stroke="#e9d5cb"/>
<path d="M509.55 144.58L514.41 140.57L507.39 138.57z" fill="#afcafc" stroke="#afcafc"/>
<path d="M578.15 179.5L581.51 186.81L576.06 169.47z" fill="#4f69d9" stroke="#4f69d9"/>
<path d="M413.37 187.81L416.76 188.72L414.81 186.59z" fill="#3b4cc0" stroke="#3b4cc0"/>
<path d="M440.92 186.5L445.75 185.89L438.9 184.31z" fill="#3e51c5" stroke="#3e51c5"/>
<path d="M445.75 185.89L450.57 185.21L443.72 183.66z" fill="#3f53c6" stroke="#3f53c6"/>
<path d="M436.09 187.05L440.92 186.5L434.09 184.88z" fill="#3d50c3" stroke="#3d50c3"/>
<path d="M502.04 156.65L509.05 158.69L506.87 153.61z" fill="#88abfd" stroke="#88abfd"/>
<path d="M450.57 185.21L455.4 184.46L448.53 182.94z" fill="#4257c9" stroke="#4257c9"/>
<path d="M431.26 187.54L436.09 187.05L429.27 185.39z" fill="#3c4ec2" stroke="#3c4ec2"/>
<path d="M491.87 171.64L496.7 169.78L489.72 168.14z" fill="#6485ec" stroke="#6485ec"/>
<path d="M507.39 138.57L514.41 140.57L512.25 133.79z" fill="#b9d0f9" stroke="#b9d0f9"/>
<path d="M499.34 90.77L506.38 86.47L504.24 77.86z" fill="#f18f71" stroke="#f18f71"/>
<path d="M472.59 177.83L479.53 179.34L477.41 176.47z" fill="#506bda" stroke="#506bda"/>
<path d="M455.4 184.46L460.22 183.62L453.34 182.12z" fill="#445acc" stroke="#445acc"/>
<path d="M426.43 187.98L431.26 187.54L424.45 185.84z" fill="#3b4cc0" stroke="#3b4cc0"/>
<path d="M494.54 166L501.54 167.82L499.37 163.7z" fill="#6f92f3" stroke="#6f92f3"/>
<path d="M421.6 188.37L426.43 187.98L419.63 186.24z" fill="#3b4cc0" stroke="#3b4cc0"/>
<path d="M460.22 183.62L465.05 182.69L458.15 181.21z" fill="#455cce" stroke="#455cce"/>
<path d="M576.06 169.47L580.63 175.44L574.02 157.72z" fill="#6b8df0" stroke="#6b8df0"/>
<path d="M510.09 126.78L514.97 120.74L507.93 119.58z" fill="#dbdcde" stroke="#dbdcde"/>
<path d="M504.2 161.26L509.05 158.69L502.04 156.65z" fill="#81a4fb" stroke="#81a4fb"/>
<path d="M501.49 97.74L508.53 95.2L506.38 86.47z" fill="#f7a688" stroke="#f7a688"/>
<path d="M416.76 188.72L421.6 188.37L414.81 186.59z" fill="#3b4cc0" stroke="#3b4cc0"/>
<path d="M465.05 182.69L469.87 181.67L462.96 180.2z" fill="#4961d2" stroke="#4961d2"/>
<path d="M477.41 176.47L484.36 178.03L482.22 174.99z" fill="#5470de" stroke="#5470de"/>
<path d="M503.64 104.96L510.67 103.89L508.53 95.2z" fill="#f7bca1" stroke="#f7bca1"/>
<path d="M469.87 181.67L474.7 180.56L467.78 179.07z" fill="#4b64d5" stroke="#4b64d5"/>
<path d="M496.7 169.78L501.54 167.82L494.54 166z" fill="#6b8df0" stroke="#6b8df0"/>
<path d="M505.78 112.28L512.82 112.44L510.67 103.89z" fill="#f1ccb8" stroke="#f1ccb8"/>
<path d="M512.25 133.79L517.12 128.75L510.09 126.78z" fill="#cdd9ec" stroke="#cdd9ec"/>
<path d="M482.22 174.99L489.19 176.62L487.05 173.37z" fill="#5977e3" stroke="#5977e3"/>
<path d="M474.7 180.56L479.53 179.34L472.59 177.83z" fill="#4f69d9" stroke="#4f69d9"/>
<path d="M411.92 189.03L416.76 188.72L413.37 187.81z" fill="#3b4cc0" stroke="#3b4cc0"/>
<path d="M499.37 163.7L506.38 165.76L504.2 161.26z" fill="#7699f6" stroke="#7699f6"/>
<path d="M573.51 174.8L580.3 188.03L578.15 179.5z" fill="#4b64d5" stroke="#4b64d5"/>
<path d="M511.72 150.41L516.58 147.09L509.55 144.58z" fill="#a2c1ff" stroke="#a2c1ff"/>
<path d="M507.93 119.58L514.97 120.74L512.82 112.44z" fill="#e6d7cf" stroke="#e6d7cf"/>
<path d="M509.55 144.58L516.58 147.09L514.41 140.57z" fill="#aac7fd" stroke="#aac7fd"/>
<path d="M506.87 153.61L513.9 156.03L511.72 150.41z" fill="#92b4fe" stroke="#92b4fe"/>
<path d="M479.53 179.34L484.36 178.03L477.41 176.47z" fill="#536edd" stroke="#536edd"/>
<path d="M509.05 158.69L513.9 156.03L506.87 153.61z" fill="#8badfd" stroke="#8badfd"/>
<path d="M487.05 173.37L494.03 175.12L491.87 171.64z" fill="#5e7de7" stroke="#5e7de7"/>
<path d="M571.41 165.01L578.15 179.5L576.06 169.47z" fill="#6384eb" stroke="#6384eb"/>
<path d="M501.54 167.82L506.38 165.76L499.37 163.7z" fill="#7295f4" stroke="#7295f4"/>
<path d="M510.09 126.78L517.12 128.75L514.97 120.74z" fill="#d7dce3" stroke="#d7dce3"/>
<path d="M514.41 140.57L519.28 136.4L512.25 133.79z" fill="#bed2f6" stroke="#bed2f6"/>
<path d="M579.09 189.25L580.3 188.03L573.51 174.8z" fill="#445acc" stroke="#445acc"/>
<path d="M484.36 178.03L489.19 176.62L482.22 174.99z" fill="#5673e0" stroke="#5673e0"/>
<path d="M504.2 161.26L511.23 163.62L509.05 158.69z" fill="#7ea1fa" stroke="#7ea1fa"/>
<path d="M491.87 171.64L498.87 173.53L496.7 169.78z" fill="#6384eb" stroke="#6384eb"/>
<path d="M512.25 133.79L519.28 136.4L517.12 128.75z" fill="#c7d7f0" stroke="#c7d7f0"/>
<path d="M440.92 186.5L447.79 188.18L445.75 185.89z" fill="#3f53c6" stroke="#3f53c6"/>
<path d="M489.19 176.62L494.03 175.12L487.05 173.37z" fill="#5b7ae5" stroke="#5b7ae5"/>
<path d="M445.75 185.89L452.63 187.55L450.57 185.21z" fill="#4055c8" stroke="#4055c8"/>
<path d="M573.51 174.8L578.15 179.5L571.41 165.01z" fill="#5f7fe8" stroke="#5f7fe8"/>
<path d="M436.09 187.05L442.95 188.76L440.92 186.5z" fill="#3e51c5" stroke="#3e51c5"/>
<path d="M450.57 185.21L457.47 186.84L455.4 184.46z" fill="#4257c9" stroke="#4257c9"/>
<path d="M574.02 157.72L578.62 163.39L572.05 143.98z" fill="#8fb1fe" stroke="#8fb1fe"/>
<path d="M431.26 187.54L438.11 189.28L436.09 187.05z" fill="#3d50c3" stroke="#3d50c3"/>
<path d="M455.4 184.46L462.31 186.08L460.22 183.62z" fill="#445acc" stroke="#445acc"/>
<path d="M426.43 187.98L433.27 189.74L431.26 187.54z" fill="#3c4ec2" stroke="#3c4ec2"/>
<path d="M506.38 165.76L511.23 163.62L504.2 161.26z" fill="#799cf8" stroke="#799cf8"/>
<path d="M421.6 188.37L428.42 190.17L426.43 187.98z" fill="#3b4cc0" stroke="#3b4cc0"/>
<path d="M460.22 183.62L467.14 185.23L465.05 182.69z" fill="#465ecf" stroke="#465ecf"/>
<path d="M511.72 150.41L518.76 153.31L516.58 147.09z" fill="#9dbdff" stroke="#9dbdff"/>
<path d="M513.9 156.03L518.76 153.31L511.72 150.41z" fill="#94b6ff" stroke="#94b6ff"/>
<path d="M416.76 188.72L423.57 190.55L421.6 188.37z" fill="#3b4cc0" stroke="#3b4cc0"/>
<path d="M465.05 182.69L471.98 184.31L469.87 181.67z" fill="#4961d2" stroke="#4961d2"/>
<path d="M516.58 147.09L521.45 143.68L514.41 140.57z" fill="#aec9fc" stroke="#aec9fc"/>
<path d="M496.7 169.78L503.71 171.86L501.54 167.82z" fill="#688aef" stroke="#688aef"/>
<path d="M575.67 183.23L579.09 189.25L573.51 174.8z" fill="#4a63d3" stroke="#4a63d3"/>
<path d="M494.03 175.12L498.87 173.53L491.87 171.64z" fill="#5f7fe8" stroke="#5f7fe8"/>
<path d="M569.35 153.68L576.06 169.47L574.02 157.72z" fill="#82a6fb" stroke="#82a6fb"/>
<path d="M411.92 189.03L418.72 190.89L416.76 188.72z" fill="#3b4cc0" stroke="#3b4cc0"/>
<path d="M469.87 181.67L476.82 183.32L474.7 180.56z" fill="#4b64d5" stroke="#4b64d5"/>
<path d="M514.41 140.57L521.45 143.68L519.28 136.4z" fill="#b7cff9" stroke="#b7cff9"/>
<path d="M509.05 158.69L516.08 161.43L513.9 156.03z" fill="#86a9fc" stroke="#86a9fc"/>
<path d="M577.87 190.47L579.09 189.25L575.67 183.23z" fill="#3e51c5" stroke="#3e51c5"/>
<path d="M571.41 165.01L576.06 169.47L569.35 153.68z" fill="#7da0f9" stroke="#7da0f9"/>
<path d="M474.7 180.56L481.66 182.24L479.53 179.34z" fill="#4f69d9" stroke="#4f69d9"/>
<path d="M511.23 163.62L516.08 161.43L509.05 158.69z" fill="#81a4fb" stroke="#81a4fb"/>
<path d="M498.87 173.53L503.71 171.86L496.7 169.78z" fill="#6485ec" stroke="#6485ec"/>
<path d="M514.97 120.74L519.88 114.38L512.82 112.44z" fill="#ebd3c6" stroke="#ebd3c6"/>
<path d="M447.79 188.18L452.63 187.55L445.75 185.89z" fill="#3f53c6" stroke="#3f53c6"/>
<path d="M442.95 188.76L447.79 188.18L440.92 186.5z" fill="#3e51c5" stroke="#3e51c5"/>
<path d="M501.54 167.82L508.56 170.13L506.38 165.76z" fill="#6f92f3" stroke="#6f92f3"/>
<path d="M452.63 187.55L457.47 186.84L450.57 185.21z" fill="#4257c9" stroke="#4257c9"/>
<path d="M512.82 112.44L517.74 104.81L510.67 103.89z" fill="#f5c4ac" stroke="#f5c4ac"/>
<path d="M438.11 189.28L442.95 188.76L436.09 187.05z" fill="#3d50c3" stroke="#3d50c3"/>
<path d="M517.12 128.75L522.02 123.5L514.97 120.74z" fill="#dbdcde" stroke="#dbdcde"/>
<path d="M457.47 186.84L462.31 186.08L455.4 184.46z" fill="#4358cb" stroke="#4358cb"/>
<path d="M433.27 189.74L438.11 189.28L431.26 187.54z" fill="#3c4ec2" stroke="#3c4ec2"/>
<path d="M479.53 179.34L486.51 181.09L484.36 178.03z" fill="#536edd" stroke="#536edd"/>
<path d="M410.47 190.26L413.87 191.2L411.92 189.03z" fill="#3b4cc0" stroke="#3b4cc0"/>
<path d="M462.31 186.08L467.14 185.23L460.22 183.62z" fill="#455cce" stroke="#455cce"/>
<path d="M428.42 190.17L433.27 189.74L426.43 187.98z" fill="#3c4ec2" stroke="#3c4ec2"/>
<path d="M510.67 103.89L515.6 94.83L508.53 95.2z" fill="#f7af91" stroke="#f7af91"/>
<path d="M423.57 190.55L428.42 190.17L421.6 188.37z" fill="#3b4cc0" stroke="#3b4cc0"/>
<path d="M467.14 185.23L471.98 184.31L465.05 182.69z" fill="#485fd1" stroke="#485fd1"/>
<path d="M519.28 136.4L524.17 132.13L517.12 128.75z" fill="#cbd8ee" stroke="#cbd8ee"/>
<path d="M568.82 171.31L575.67 183.23L573.51 174.8z" fill="#5a78e4" stroke="#5a78e4"/>
<path d="M518.76 153.31L523.63 150.57L516.58 147.09z" fill="#9ebeff" stroke="#9ebeff"/>
<path d="M418.72 190.89L423.57 190.55L416.76 188.72z" fill="#3b4cc0" stroke="#3b4cc0"/>
<path d="M516.58 147.09L523.63 150.57L521.45 143.68z" fill="#a7c5fe" stroke="#a7c5fe"/>
<path d="M484.36 178.03L491.35 179.86L489.19 176.62z" fill="#5673e0" stroke="#5673e0"/>
<path d="M508.53 95.2L513.46 84.55L506.38 86.47z" fill="#f29274" stroke="#f29274"/>
<path d="M471.98 184.31L476.82 183.32L469.87 181.67z" fill="#4a63d3" stroke="#4a63d3"/>
<path d="M503.71 171.86L508.56 170.13L501.54 167.82z" fill="#6b8df0" stroke="#6b8df0"/>
<path d="M513.9 156.03L520.94 159.23L518.76 153.31z" fill="#8fb1fe" stroke="#8fb1fe"/>
<path d="M413.87 191.2L418.72 190.89L411.92 189.03z" fill="#3b4cc0" stroke="#3b4cc0"/>
<path d="M566.69 161.86L573.51 174.8L571.41 165.01z" fill="#7295f4" stroke="#7295f4"/>
<path d="M506.38 165.76L513.42 168.37L511.23 163.62z" fill="#7699f6" stroke="#7699f6"/>
<path d="M476.82 183.32L481.66 182.24L474.7 180.56z" fill="#4c66d6" stroke="#4c66d6"/>
<path d="M570.98 179.54L577.87 190.47L575.67 183.23z" fill="#485fd1" stroke="#485fd1"/>
<path d="M506.38 86.47L511.33 74.05L504.24 77.86z" fill="#e67259" stroke="#e67259"/>
<path d="M516.08 161.43L520.94 159.23L513.9 156.03z" fill="#88abfd" stroke="#88abfd"/>
<path d="M521.45 143.68L526.33 140.25L519.28 136.4z" fill="#bad0f8" stroke="#bad0f8"/>
<path d="M489.19 176.62L496.2 178.57L494.03 175.12z" fill="#5a78e4" stroke="#5a78e4"/>
<path d="M514.97 120.74L522.02 123.5L519.88 114.38z" fill="#e6d7cf" stroke="#e6d7cf"/>
<path d="M517.12 128.75L524.17 132.13L522.02 123.5z" fill="#d5dbe5" stroke="#d5dbe5"/>
<path d="M481.66 182.24L486.51 181.09L479.53 179.34z" fill="#506bda" stroke="#506bda"/>
<path d="M504.24 77.86L509.19 63.5L502.09 69.56z" fill="#d44e41" stroke="#d44e41"/>
<path d="M512.82 112.44L519.88 114.38L517.74 104.81z" fill="#f2cab5" stroke="#f2cab5"/>
<path d="M570.98 179.54L575.67 183.23L568.82 171.31z" fill="#5875e1" stroke="#5875e1"/>
<path d="M568.82 171.31L573.51 174.8L566.69 161.86z" fill="#6e90f2" stroke="#6e90f2"/>
<path d="M508.56 170.13L513.42 168.37L506.38 165.76z" fill="#7093f3" stroke="#7093f3"/>
<path d="M519.28 136.4L526.33 140.25L524.17 132.13z" fill="#c4d5f3" stroke="#c4d5f3"/>
<path d="M486.51 181.09L491.35 179.86L484.36 178.03z" fill="#5470de" stroke="#5470de"/>
<path d="M409.02 191.49L413.87 191.2L410.47 190.26z" fill="#3b4cc0" stroke="#3b4cc0"/>
<path d="M494.03 175.12L501.05 177.21L498.87 173.53z" fill="#5e7de7" stroke="#5e7de7"/>
<path d="M510.67 103.89L517.74 104.81L515.6 94.83z" fill="#f7b497" stroke="#f7b497"/>
<path d="M511.23 163.62L518.28 166.6L516.08 161.43z" fill="#7b9ff9" stroke="#7b9ff9"/>
<path d="M569.35 153.68L574.02 157.72L567.34 140.58z" fill="#9fbfff" stroke="#9fbfff"/>
<path d="M567.34 140.58L574.02 157.72L572.05 143.98z" fill="#a7c5fe" stroke="#a7c5fe"/>
<path d="M518.76 153.31L525.81 157.07L523.63 150.57z" fill="#97b8ff" stroke="#97b8ff"/>
<path d="M576.65 191.7L577.87 190.47L570.98 179.54z" fill="#4257c9" stroke="#4257c9"/>
<path d="M523.63 150.57L528.5 147.87L521.45 143.68z" fill="#a9c6fd" stroke="#a9c6fd"/>
<path d="M564.61 151.03L571.41 165.01L569.35 153.68z" fill="#90b2fe" stroke="#90b2fe"/>
<path d="M491.35 179.86L496.2 178.57L489.19 176.62z" fill="#5875e1" stroke="#5875e1"/>
<path d="M520.94 159.23L525.81 157.07L518.76 153.31z" fill="#90b2fe" stroke="#90b2fe"/>
<path d="M521.45 143.68L528.5 147.87L526.33 140.25z" fill="#b1cbfc" stroke="#b1cbfc"/>
<path d="M498.87 173.53L505.9 175.81L503.71 171.86z" fill="#6384eb" stroke="#6384eb"/>
<path d="M513.42 168.37L518.28 166.6L511.23 163.62z" fill="#7699f6" stroke="#7699f6"/>
<path d="M566.69 161.86L571.41 165.01L564.61 151.03z" fill="#89acfd" stroke="#89acfd"/>
<path d="M508.53 95.2L515.6 94.83L513.46 84.55z" fill="#f4987a" stroke="#f4987a"/>
<path d="M496.2 178.57L501.05 177.21L494.03 175.12z" fill="#5b7ae5" stroke="#5b7ae5"/>
<path d="M516.08 161.43L523.14 164.85L520.94 159.23z" fill="#82a6fb" stroke="#82a6fb"/>
<path d="M447.79 188.18L454.7 189.93L452.63 187.55z" fill="#4055c8" stroke="#4055c8"/>
<path d="M442.95 188.76L449.84 190.52L447.79 188.18z" fill="#3f53c6" stroke="#3f53c6"/>
<path d="M452.63 187.55L459.55 189.28L457.47 186.84z" fill="#4257c9" stroke="#4257c9"/>
<path d="M438.11 189.28L444.99 191.06L442.95 188.76z" fill="#3e51c5" stroke="#3e51c5"/>
<path d="M457.47 186.84L464.4 188.58L462.31 186.08z" fill="#4358cb" stroke="#4358cb"/>
<path d="M503.71 171.86L510.76 174.38L508.56 170.13z" fill="#688aef" stroke="#688aef"/>
<path d="M433.27 189.74L440.14 191.55L438.11 189.28z" fill="#3d50c3" stroke="#3d50c3"/>
<path d="M462.31 186.08L469.25 187.81L467.14 185.23z" fill="#455cce" stroke="#455cce"/>
<path d="M573.19 186.7L576.65 191.7L570.98 179.54z" fill="#465ecf" stroke="#465ecf"/>
<path d="M564.07 168.84L570.98 179.54L568.82 171.31z" fill="#6687ed" stroke="#6687ed"/>
<path d="M524.17 132.13L529.08 127.82L522.02 123.5z" fill="#d7dce3" stroke="#d7dce3"/>
<path d="M428.42 190.17L435.28 191.99L433.27 189.74z" fill="#3c4ec2" stroke="#3c4ec2"/>
<path d="M526.33 140.25L531.22 136.88L524.17 132.13z" fill="#c5d6f2" stroke="#c5d6f2"/>
<path d="M506.38 86.47L513.46 84.55L511.33 74.05z" fill="#e8765c" stroke="#e8765c"/>
<path d="M561.93 159.8L568.82 171.31L566.69 161.86z" fill="#7da0f9" stroke="#7da0f9"/>
<path d="M467.14 185.23L474.1 186.99L471.98 184.31z" fill="#485fd1" stroke="#485fd1"/>
<path d="M501.05 177.21L505.9 175.81L498.87 173.53z" fill="#5f7fe8" stroke="#5f7fe8"/>
<path d="M518.28 166.6L523.14 164.85L516.08 161.43z" fill="#7da0f9" stroke="#7da0f9"/>
<path d="M423.57 190.55L430.42 192.4L428.42 190.17z" fill="#3b4cc0" stroke="#3b4cc0"/>
<path d="M523.63 150.57L530.68 154.99L528.5 147.87z" fill="#9fbfff" stroke="#9fbfff"/>
<path d="M525.81 157.07L530.68 154.99L523.63 150.57z" fill="#98b9ff" stroke="#98b9ff"/>
<path d="M522.02 123.5L526.94 118.11L519.88 114.38z" fill="#e9d5cb" stroke="#e9d5cb"/>
<path d="M471.98 184.31L478.95 186.1L476.82 183.32z" fill="#4a63d3" stroke="#4a63d3"/>
<path d="M418.72 190.89L425.56 192.77L423.57 190.55z" fill="#3b4cc0" stroke="#3b4cc0"/>
<path d="M528.5 147.87L533.38 145.29L526.33 140.25z" fill="#b2ccfb" stroke="#b2ccfb"/>
<path d="M413.87 191.2L420.7 193.11L418.72 190.89z" fill="#3b4cc0" stroke="#3b4cc0"/>
<path d="M476.82 183.32L483.81 185.15L481.66 182.24z" fill="#4c66d6" stroke="#4c66d6"/>
<path d="M508.56 170.13L515.62 172.94L513.42 168.37z" fill="#6c8ff1" stroke="#6c8ff1"/>
<path d="M566.25 176.8L573.19 186.7L570.98 179.54z" fill="#536edd" stroke="#536edd"/>
<path d="M564.07 168.84L568.82 171.31L561.93 159.8z" fill="#779af7" stroke="#779af7"/>
<path d="M520.94 159.23L528.01 163.18L525.81 157.07z" fill="#89acfd" stroke="#89acfd"/>
<path d="M505.9 175.81L510.76 174.38L503.71 171.86z" fill="#6485ec" stroke="#6485ec"/>
<path d="M524.17 132.13L531.22 136.88L529.08 127.82z" fill="#cedaeb" stroke="#cedaeb"/>
<path d="M409.02 191.49L415.84 193.42L413.87 191.2z" fill="#3b4cc0" stroke="#3b4cc0"/>
<path d="M566.25 176.8L570.98 179.54L564.07 168.84z" fill="#6282ea" stroke="#6282ea"/>
<path d="M504.24 77.86L511.33 74.05L509.19 63.5z" fill="#d55042" stroke="#d55042"/>
<path d="M575.43 192.94L576.65 191.7L573.19 186.7z" fill="#3d50c3" stroke="#3d50c3"/>
<path d="M526.33 140.25L533.38 145.29L531.22 136.88z" fill="#bbd1f8" stroke="#bbd1f8"/>
<path d="M481.66 182.24L488.66 184.14L486.51 181.09z" fill="#506bda" stroke="#506bda"/>
<path d="M519.88 114.38L524.81 107.74L517.74 104.81z" fill="#f5c4ac" stroke="#f5c4ac"/>
<path d="M523.14 164.85L528.01 163.18L520.94 159.23z" fill="#82a6fb" stroke="#82a6fb"/>
<path d="M522.02 123.5L529.08 127.82L526.94 118.11z" fill="#e1dad6" stroke="#e1dad6"/>
<path d="M559.82 149.54L566.69 161.86L564.61 151.03z" fill="#9abbff" stroke="#9abbff"/>
<path d="M564.61 151.03L569.35 153.68L562.57 138.65z" fill="#aac7fd" stroke="#aac7fd"/>
<path d="M454.7 189.93L459.55 189.28L452.63 187.55z" fill="#4055c8" stroke="#4055c8"/>
<path d="M449.84 190.52L454.7 189.93L447.79 188.18z" fill="#3f53c6" stroke="#3f53c6"/>
<path d="M561.93 159.8L566.69 161.86L559.82 149.54z" fill="#92b4fe" stroke="#92b4fe"/>
<path d="M459.55 189.28L464.4 188.58L457.47 186.84z" fill="#4358cb" stroke="#4358cb"/>
<path d="M444.99 191.06L449.84 190.52L442.95 188.76z" fill="#3e51c5" stroke="#3e51c5"/>
<path d="M486.51 181.09L493.52 183.08L491.35 179.86z" fill="#536edd" stroke="#536edd"/>
<path d="M513.42 168.37L520.48 171.52L518.28 166.6z" fill="#7295f4" stroke="#7295f4"/>
<path d="M440.14 191.55L444.99 191.06L438.11 189.28z" fill="#3d50c3" stroke="#3d50c3"/>
<path d="M530.68 154.99L535.56 153.08L528.5 147.87z" fill="#9fbfff" stroke="#9fbfff"/>
<path d="M464.4 188.58L469.25 187.81L462.31 186.08z" fill="#445acc" stroke="#445acc"/>
<path d="M510.76 174.38L515.62 172.94L508.56 170.13z" fill="#688aef" stroke="#688aef"/>
<path d="M528.5 147.87L535.56 153.08L533.38 145.29z" fill="#a7c5fe" stroke="#a7c5fe"/>
<path d="M435.28 191.99L440.14 191.55L433.27 189.74z" fill="#3d50c3" stroke="#3d50c3"/>
<path d="M562.57 138.65L569.35 153.68L567.34 140.58z" fill="#b3cdfb" stroke="#b3cdfb"/>
<path d="M469.25 187.81L474.1 186.99L467.14 185.23z" fill="#465ecf" stroke="#465ecf"/>
<path d="M525.81 157.07L532.87 161.63L530.68 154.99z" fill="#90b2fe" stroke="#90b2fe"/>
<path d="M430.42 192.4L435.28 191.99L428.42 190.17z" fill="#3c4ec2" stroke="#3c4ec2"/>
<path d="M474.1 186.99L478.95 186.1L471.98 184.31z" fill="#4961d2" stroke="#4961d2"/>
<path d="M491.35 179.86L498.37 181.97L496.2 178.57z" fill="#5673e0" stroke="#5673e0"/>
<path d="M425.56 192.77L430.42 192.4L423.57 190.55z" fill="#3b4cc0" stroke="#3b4cc0"/>
<path d="M407.56 192.72L410.97 193.7L409.02 191.49z" fill="#3b4cc0" stroke="#3b4cc0"/>
<path d="M519.88 114.38L526.94 118.11L524.81 107.74z" fill="#f1ccb8" stroke="#f1ccb8"/>
<path d="M568.46 183.81L573.19 186.7L566.25 176.8z" fill="#516ddb" stroke="#516ddb"/>
<path d="M528.01 163.18L532.87 161.63L525.81 157.07z" fill="#89acfd" stroke="#89acfd"/>
<path d="M557.13 158.66L564.07 168.84L561.93 159.8z" fill="#84a7fc" stroke="#84a7fc"/>
<path d="M478.95 186.1L483.81 185.15L476.82 183.32z" fill="#4b64d5" stroke="#4b64d5"/>
<path d="M568.46 183.81L575.43 192.94L573.19 186.7z" fill="#445acc" stroke="#445acc"/>
<path d="M420.7 193.11L425.56 192.77L418.72 190.89z" fill="#3b4cc0" stroke="#3b4cc0"/>
<path d="M517.74 104.81L522.69 96.74L515.6 94.83z" fill="#f7aa8c" stroke="#f7aa8c"/>
<path d="M559.29 167.25L566.25 176.8L564.07 168.84z" fill="#6e90f2" stroke="#6e90f2"/>
<path d="M533.38 145.29L538.27 142.91L531.22 136.88z" fill="#bad0f8" stroke="#bad0f8"/>
<path d="M515.62 172.94L520.48 171.52L513.42 168.37z" fill="#6e90f2" stroke="#6e90f2"/>
<path d="M518.28 166.6L525.35 170.17L523.14 164.85z" fill="#779af7" stroke="#779af7"/>
<path d="M531.22 136.88L536.12 133.64L529.08 127.82z" fill="#cfdaea" stroke="#cfdaea"/>
<path d="M496.2 178.57L503.23 180.83L501.05 177.21z" fill="#5a78e4" stroke="#5a78e4"/>
<path d="M483.81 185.15L488.66 184.14L481.66 182.24z" fill="#4e68d8" stroke="#4e68d8"/>
<path d="M415.84 193.42L420.7 193.11L413.87 191.2z" fill="#3b4cc0" stroke="#3b4cc0"/>
<path d="M559.29 167.25L564.07 168.84L557.13 158.66z" fill="#7ea1fa" stroke="#7ea1fa"/>
<path d="M535.56 153.08L540.43 151.41L533.38 145.29z" fill="#a6c4fe" stroke="#a6c4fe"/>
<path d="M530.68 154.99L537.74 160.28L535.56 153.08z" fill="#96b7ff" stroke="#96b7ff"/>
<path d="M410.97 193.7L415.84 193.42L409.02 191.49z" fill="#3b4cc0" stroke="#3b4cc0"/>
<path d="M567.34 140.58L572.05 143.98L565.38 125.47z" fill="#c6d6f1" stroke="#c6d6f1"/>
<path d="M488.66 184.14L493.52 183.08L486.51 181.09z" fill="#516ddb" stroke="#516ddb"/>
<path d="M555 149.01L561.93 159.8L559.82 149.54z" fill="#9ebeff" stroke="#9ebeff"/>
<path d="M533.38 145.29L540.43 151.41L538.27 142.91z" fill="#afcafc" stroke="#afcafc"/>
<path d="M531.22 136.88L538.27 142.91L536.12 133.64z" fill="#c4d5f3" stroke="#c4d5f3"/>
<path d="M532.87 161.63L537.74 160.28L530.68 154.99z" fill="#8fb1fe" stroke="#8fb1fe"/>
<path d="M557.13 158.66L561.93 159.8L555 149.01z" fill="#97b8ff" stroke="#97b8ff"/>
<path d="M501.05 177.21L508.1 179.66L505.9 175.81z" fill="#5e7de7" stroke="#5e7de7"/>
<path d="M520.48 171.52L525.35 170.17L518.28 166.6z" fill="#7295f4" stroke="#7295f4"/>
<path d="M523.14 164.85L530.21 168.91L528.01 163.18z" fill="#7da0f9" stroke="#7da0f9"/>
<path d="M561.48 174.89L566.25 176.8L559.29 167.25z" fill="#6a8bef" stroke="#6a8bef"/>
<path d="M529.08 127.82L533.99 123.57L526.94 118.11z" fill="#e3d9d3" stroke="#e3d9d3"/>
<path d="M559.82 149.54L564.61 151.03L557.75 137.93z" fill="#afcafc" stroke="#afcafc"/>
<path d="M561.48 174.89L568.46 183.81L566.25 176.8z" fill="#5b7ae5" stroke="#5b7ae5"/>
<path d="M493.52 183.08L498.37 181.97L491.35 179.86z" fill="#5470de" stroke="#5470de"/>
<path d="M517.74 104.81L524.81 107.74L522.69 96.74z" fill="#f7b497" stroke="#f7b497"/>
<path d="M535.56 153.08L542.6 159.2L540.43 151.41z" fill="#9abbff" stroke="#9abbff"/>
<path d="M552.31 158.28L559.29 167.25L557.13 158.66z" fill="#88abfd" stroke="#88abfd"/>
<path d="M529.08 127.82L536.12 133.64L533.99 123.57z" fill="#d9dce1" stroke="#d9dce1"/>
<path d="M537.74 160.28L542.6 159.2L535.56 153.08z" fill="#93b5fe" stroke="#93b5fe"/>
<path d="M505.9 175.81L512.96 178.48L510.76 174.38z" fill="#6282ea" stroke="#6282ea"/>
<path d="M557.75 137.93L564.61 151.03L562.57 138.65z" fill="#bad0f8" stroke="#bad0f8"/>
<path d="M540.43 151.41L545.3 150.1L538.27 142.91z" fill="#abc8fd" stroke="#abc8fd"/>
<path d="M498.37 181.97L503.23 180.83L496.2 178.57z" fill="#5875e1" stroke="#5875e1"/>
<path d="M525.35 170.17L530.21 168.91L523.14 164.85z" fill="#779af7" stroke="#779af7"/>
<path d="M528.01 163.18L535.08 167.8L532.87 161.63z" fill="#81a4fb" stroke="#81a4fb"/>
<path d="M550.16 149.25L557.13 158.66L555 149.01z" fill="#a1c0ff" stroke="#a1c0ff"/>
<path d="M515.6 94.83L520.57 85.14L513.46 84.55z" fill="#ef886b" stroke="#ef886b"/>
<path d="M552.31 158.28L557.13 158.66L550.16 149.25z" fill="#98b9ff" stroke="#98b9ff"/>
<path d="M574.21 194.17L575.43 192.94L568.46 183.81z" fill="#4055c8" stroke="#4055c8"/>
<path d="M538.27 142.91L543.15 140.84L536.12 133.64z" fill="#c3d5f4" stroke="#c3d5f4"/>
<path d="M406.1 193.96L410.97 193.7L407.56 192.72z" fill="#3b4cc0" stroke="#3b4cc0"/>
<path d="M554.48 166.39L559.29 167.25L552.31 158.28z" fill="#82a6fb" stroke="#82a6fb"/>
<path d="M540.43 151.41L547.46 158.5L545.3 150.1z" fill="#9ebeff" stroke="#9ebeff"/>
<path d="M538.27 142.91L545.3 150.1L543.15 140.84z" fill="#b5cdfa" stroke="#b5cdfa"/>
<path d="M554.48 166.39L561.48 174.89L559.29 167.25z" fill="#7396f5" stroke="#7396f5"/>
<path d="M542.6 159.2L547.46 158.5L540.43 151.41z" fill="#96b7ff" stroke="#96b7ff"/>
<path d="M545.3 150.1L552.31 158.28L550.16 149.25z" fill="#a1c0ff" stroke="#a1c0ff"/>
<path d="M547.46 158.5L552.31 158.28L545.3 150.1z" fill="#98b9ff" stroke="#98b9ff"/>
<path d="M555 149.01L559.82 149.54L552.9 138.18z" fill="#b2ccfb" stroke="#b2ccfb"/>
<path d="M510.76 174.38L517.83 177.33L515.62 172.94z" fill="#6687ed" stroke="#6687ed"/>
<path d="M503.23 180.83L508.1 179.66L501.05 177.21z" fill="#5b7ae5" stroke="#5b7ae5"/>
<path d="M532.87 161.63L539.94 166.92L537.74 160.28z" fill="#85a8fc" stroke="#85a8fc"/>
<path d="M545.3 150.1L550.16 149.25L543.15 140.84z" fill="#afcafc" stroke="#afcafc"/>
<path d="M547.46 158.5L554.48 166.39L552.31 158.28z" fill="#8badfd" stroke="#8badfd"/>
<path d="M530.21 168.91L535.08 167.8L528.01 163.18z" fill="#7b9ff9" stroke="#7b9ff9"/>
<path d="M563.69 181.68L568.46 183.81L561.48 174.89z" fill="#5977e3" stroke="#5977e3"/>
<path d="M526.94 118.11L531.88 112.67L524.81 107.74z" fill="#f2c9b4" stroke="#f2c9b4"/>
<path d="M550.16 149.25L555 149.01L548.03 139.22z" fill="#b2ccfb" stroke="#b2ccfb"/>
<path d="M537.74 160.28L544.8 166.33L542.6 159.2z" fill="#88abfd" stroke="#88abfd"/>
<path d="M542.6 159.2L549.65 166.12L547.46 158.5z" fill="#89acfd" stroke="#89acfd"/>
<path d="M536.12 133.64L543.15 140.84L541.03 130.67z" fill="#ccd9ed" stroke="#ccd9ed"/>
<path d="M552.9 138.18L559.82 149.54L557.75 137.93z" fill="#bcd2f7" stroke="#bcd2f7"/>
<path d="M549.65 166.12L554.48 166.39L547.46 158.5z" fill="#84a7fc" stroke="#84a7fc"/>
<path d="M543.15 140.84L550.16 149.25L548.03 139.22z" fill="#bad0f8" stroke="#bad0f8"/>
<path d="M508.1 179.66L512.96 178.48L505.9 175.81z" fill="#5e7de7" stroke="#5e7de7"/>
<path d="M526.94 118.11L533.99 123.57L531.88 112.67z" fill="#edd2c3" stroke="#edd2c3"/>
<path d="M535.08 167.8L539.94 166.92L532.87 161.63z" fill="#80a3fa" stroke="#80a3fa"/>
<path d="M515.62 172.94L522.7 176.22L520.48 171.52z" fill="#6a8bef" stroke="#6a8bef"/>
<path d="M536.12 133.64L541.03 130.67L533.99 123.57z" fill="#d8dce2" stroke="#d8dce2"/>
<path d="M556.68 173.67L561.48 174.89L554.48 166.39z" fill="#6f92f3" stroke="#6f92f3"/>
<path d="M570.7 189.98L574.21 194.17L568.46 183.81z" fill="#445acc" stroke="#445acc"/>
<path d="M454.7 189.93L461.64 191.75L459.55 189.28z" fill="#4257c9" stroke="#4257c9"/>
<path d="M449.84 190.52L456.77 192.35L454.7 189.93z" fill="#4055c8" stroke="#4055c8"/>
<path d="M459.55 189.28L466.5 191.11L464.4 188.58z" fill="#4358cb" stroke="#4358cb"/>
<path d="M444.99 191.06L451.91 192.89L449.84 190.52z" fill="#3e51c5" stroke="#3e51c5"/>
<path d="M563.69 181.68L570.7 189.98L568.46 183.81z" fill="#4e68d8" stroke="#4e68d8"/>
<path d="M548.03 139.22L555 149.01L552.9 138.18z" fill="#bcd2f7" stroke="#bcd2f7"/>
<path d="M464.4 188.58L471.37 190.42L469.25 187.81z" fill="#445acc" stroke="#445acc"/>
<path d="M515.6 94.83L522.69 96.74L520.57 85.14z" fill="#f39475" stroke="#f39475"/>
<path d="M562.57 138.65L567.34 140.58L560.57 124.51z" fill="#cdd9ec" stroke="#cdd9ec"/>
<path d="M544.8 166.33L549.65 166.12L542.6 159.2z" fill="#84a7fc" stroke="#84a7fc"/>
<path d="M440.14 191.55L447.04 193.4L444.99 191.06z" fill="#3e51c5" stroke="#3e51c5"/>
<path d="M539.94 166.92L544.8 166.33L537.74 160.28z" fill="#82a6fb" stroke="#82a6fb"/>
<path d="M469.25 187.81L476.23 189.68L474.1 186.99z" fill="#465ecf" stroke="#465ecf"/>
<path d="M549.65 166.12L556.68 173.67L554.48 166.39z" fill="#779af7" stroke="#779af7"/>
<path d="M435.28 191.99L442.17 193.86L440.14 191.55z" fill="#3d50c3" stroke="#3d50c3"/>
<path d="M543.15 140.84L548.03 139.22L541.03 130.67z" fill="#c9d7f0" stroke="#c9d7f0"/>
<path d="M556.68 173.67L563.69 181.68L561.48 174.89z" fill="#6282ea" stroke="#6282ea"/>
<path d="M512.96 178.48L517.83 177.33L510.76 174.38z" fill="#6282ea" stroke="#6282ea"/>
<path d="M474.1 186.99L481.1 188.9L478.95 186.1z" fill="#4961d2" stroke="#4961d2"/>
<path d="M520.48 171.52L527.56 175.19L525.35 170.17z" fill="#6e90f2" stroke="#6e90f2"/>
<path d="M430.42 192.4L437.3 194.29L435.28 191.99z" fill="#3c4ec2" stroke="#3c4ec2"/>
<path d="M478.95 186.1L485.96 188.06L483.81 185.15z" fill="#4b64d5" stroke="#4b64d5"/>
<path d="M425.56 192.77L432.43 194.68L430.42 192.4z" fill="#3c4ec2" stroke="#3c4ec2"/>
<path d="M513.46 84.55L518.45 73.01L511.33 74.05z" fill="#dd5f4b" stroke="#dd5f4b"/>
<path d="M483.81 185.15L490.83 187.18L488.66 184.14z" fill="#4e68d8" stroke="#4e68d8"/>
<path d="M517.83 177.33L522.7 176.22L515.62 172.94z" fill="#6687ed" stroke="#6687ed"/>
<path d="M420.7 193.11L427.56 195.03L425.56 192.77z" fill="#3b4cc0" stroke="#3b4cc0"/>
<path d="M525.35 170.17L532.43 174.28L530.21 168.91z" fill="#7093f3" stroke="#7093f3"/>
<path d="M544.8 166.33L551.85 173.02L549.65 166.12z" fill="#799cf8" stroke="#799cf8"/>
<path d="M551.85 173.02L556.68 173.67L549.65 166.12z" fill="#7295f4" stroke="#7295f4"/>
<path d="M415.84 193.42L422.69 195.36L420.7 193.11z" fill="#3b4cc0" stroke="#3b4cc0"/>
<path d="M488.66 184.14L495.69 186.27L493.52 183.08z" fill="#506bda" stroke="#506bda"/>
<path d="M560.57 124.51L567.34 140.58L565.38 125.47z" fill="#d7dce3" stroke="#d7dce3"/>
<path d="M533.99 123.57L541.03 130.67L538.92 119.51z" fill="#e2dad5" stroke="#e2dad5"/>
<path d="M548.03 139.22L552.9 138.18L545.93 128.08z" fill="#cdd9ec" stroke="#cdd9ec"/>
<path d="M530.21 168.91L537.3 173.54L535.08 167.8z" fill="#7597f6" stroke="#7597f6"/>
<path d="M541.03 130.67L548.03 139.22L545.93 128.08z" fill="#d3dbe7" stroke="#d3dbe7"/>
<path d="M557.75 137.93L562.57 138.65L555.71 124.8z" fill="#d1dae9" stroke="#d1dae9"/>
<path d="M539.94 166.92L547.01 172.84L544.8 166.33z" fill="#779af7" stroke="#779af7"/>
<path d="M522.7 176.22L527.56 175.19L520.48 171.52z" fill="#6a8bef" stroke="#6a8bef"/>
<path d="M535.08 167.8L542.16 173.04L539.94 166.92z" fill="#7699f6" stroke="#7699f6"/>
<path d="M410.97 193.7L417.81 195.66L415.84 193.42z" fill="#3b4cc0" stroke="#3b4cc0"/>
<path d="M558.9 180.2L563.69 181.68L556.68 173.67z" fill="#5f7fe8" stroke="#5f7fe8"/>
<path d="M524.81 107.74L529.77 100.92L522.69 96.74z" fill="#f7af91" stroke="#f7af91"/>
<path d="M533.99 123.57L538.92 119.51L531.88 112.67z" fill="#edd2c3" stroke="#edd2c3"/>
<path d="M493.52 183.08L500.56 185.33L498.37 181.97z" fill="#536edd" stroke="#536edd"/>
<path d="M565.94 187.72L570.7 189.98L563.69 181.68z" fill="#4b64d5" stroke="#4b64d5"/>
<path d="M552.9 138.18L557.75 137.93L550.83 126.06z" fill="#cfdaea" stroke="#cfdaea"/>
<path d="M572.98 195.42L574.21 194.17L570.7 189.98z" fill="#3c4ec2" stroke="#3c4ec2"/>
<path d="M406.1 193.96L412.93 195.94L410.97 193.7z" fill="#3b4cc0" stroke="#3b4cc0"/>
<path d="M547.01 172.84L551.85 173.02L544.8 166.33z" fill="#7396f5" stroke="#7396f5"/>
<path d="M524.81 107.74L531.88 112.67L529.77 100.92z" fill="#f7bca1" stroke="#f7bca1"/>
<path d="M527.56 175.19L532.43 174.28L525.35 170.17z" fill="#6c8ff1" stroke="#6c8ff1"/>
<path d="M461.64 191.75L466.5 191.11L459.55 189.28z" fill="#4257c9" stroke="#4257c9"/>
<path d="M456.77 192.35L461.64 191.75L454.7 189.93z" fill="#4055c8" stroke="#4055c8"/>
<path d="M451.91 192.89L456.77 192.35L449.84 190.52z" fill="#3f53c6" stroke="#3f53c6"/>
<path d="M466.5 191.11L471.37 190.42L464.4 188.58z" fill="#445acc" stroke="#445acc"/>
<path d="M551.85 173.02L558.9 180.2L556.68 173.67z" fill="#6687ed" stroke="#6687ed"/>
<path d="M447.04 193.4L451.91 192.89L444.99 191.06z" fill="#3e51c5" stroke="#3e51c5"/>
<path d="M471.37 190.42L476.23 189.68L469.25 187.81z" fill="#455cce" stroke="#455cce"/>
<path d="M498.37 181.97L505.43 184.36L503.23 180.83z" fill="#5673e0" stroke="#5673e0"/>
<path d="M442.17 193.86L447.04 193.4L440.14 191.55z" fill="#3d50c3" stroke="#3d50c3"/>
<path d="M476.23 189.68L481.1 188.9L474.1 186.99z" fill="#485fd1" stroke="#485fd1"/>
<path d="M541.03 130.67L545.93 128.08L538.92 119.51z" fill="#e0dbd8" stroke="#e0dbd8"/>
<path d="M532.43 174.28L537.3 173.54L530.21 168.91z" fill="#6f92f3" stroke="#6f92f3"/>
<path d="M542.16 173.04L547.01 172.84L539.94 166.92z" fill="#7396f5" stroke="#7396f5"/>
<path d="M437.3 194.29L442.17 193.86L435.28 191.99z" fill="#3d50c3" stroke="#3d50c3"/>
<path d="M537.3 173.54L542.16 173.04L535.08 167.8z" fill="#7295f4" stroke="#7295f4"/>
<path d="M481.1 188.9L485.96 188.06L478.95 186.1z" fill="#4a63d3" stroke="#4a63d3"/>
<path d="M558.9 180.2L565.94 187.72L563.69 181.68z" fill="#5470de" stroke="#5470de"/>
<path d="M513.46 84.55L520.57 85.14L518.45 73.01z" fill="#e36b54" stroke="#e36b54"/>
<path d="M545.93 128.08L552.9 138.18L550.83 126.06z" fill="#d7dce3" stroke="#d7dce3"/>
<path d="M503.23 180.83L510.3 183.4L508.1 179.66z" fill="#5977e3" stroke="#5977e3"/>
<path d="M432.43 194.68L437.3 194.29L430.42 192.4z" fill="#3c4ec2" stroke="#3c4ec2"/>
<path d="M485.96 188.06L490.83 187.18L483.81 185.15z" fill="#4b64d5" stroke="#4b64d5"/>
<path d="M555.71 124.8L562.57 138.65L560.57 124.51z" fill="#dadce0" stroke="#dadce0"/>
<path d="M565.94 187.72L572.98 195.42L570.7 189.98z" fill="#4257c9" stroke="#4257c9"/>
<path d="M427.56 195.03L432.43 194.68L425.56 192.77z" fill="#3b4cc0" stroke="#3b4cc0"/>
<path d="M490.83 187.18L495.69 186.27L488.66 184.14z" fill="#4e68d8" stroke="#4e68d8"/>
<path d="M511.33 74.05L516.33 60.46L509.19 63.5z" fill="#c0282f" stroke="#c0282f"/>
<path d="M508.1 179.66L515.18 182.45L512.96 178.48z" fill="#5b7ae5" stroke="#5b7ae5"/>
<path d="M550.83 126.06L557.75 137.93L555.71 124.8z" fill="#dadce0" stroke="#dadce0"/>
<path d="M422.69 195.36L427.56 195.03L420.7 193.11z" fill="#3b4cc0" stroke="#3b4cc0"/>
<path d="M547.01 172.84L554.08 179.27L551.85 173.02z" fill="#688aef" stroke="#688aef"/>
<path d="M554.08 179.27L558.9 180.2L551.85 173.02z" fill="#6384eb" stroke="#6384eb"/>
<path d="M404.64 195.2L408.05 196.2L406.1 193.96z" fill="#3b4cc0" stroke="#3b4cc0"/>
<path d="M495.69 186.27L500.56 185.33L493.52 183.08z" fill="#516ddb" stroke="#516ddb"/>
<path d="M417.81 195.66L422.69 195.36L415.84 193.42z" fill="#3b4cc0" stroke="#3b4cc0"/>
<path d="M512.96 178.48L520.05 181.53L517.83 177.33z" fill="#5f7fe8" stroke="#5f7fe8"/>
<path d="M500.56 185.33L505.43 184.36L498.37 181.97z" fill="#5470de" stroke="#5470de"/>
<path d="M412.93 195.94L417.81 195.66L410.97 193.7z" fill="#3b4cc0" stroke="#3b4cc0"/>
<path d="M531.88 112.67L538.92 119.51L536.83 107.31z" fill="#f3c7b1" stroke="#f3c7b1"/>
<path d="M517.83 177.33L524.92 180.68L522.7 176.22z" fill="#6282ea" stroke="#6282ea"/>
<path d="M542.16 173.04L549.24 178.79L547.01 172.84z" fill="#6a8bef" stroke="#6a8bef"/>
<path d="M538.92 119.51L545.93 128.08L543.85 115.76z" fill="#ead4c8" stroke="#ead4c8"/>
<path d="M505.43 184.36L510.3 183.4L503.23 180.83z" fill="#5673e0" stroke="#5673e0"/>
<path d="M561.14 186.07L565.94 187.72L558.9 180.2z" fill="#536edd" stroke="#536edd"/>
<path d="M408.05 196.2L412.93 195.94L406.1 193.96z" fill="#3b4cc0" stroke="#3b4cc0"/>
<path d="M522.7 176.22L529.79 179.93L527.56 175.19z" fill="#6485ec" stroke="#6485ec"/>
<path d="M545.93 128.08L550.83 126.06L543.85 115.76z" fill="#e7d7ce" stroke="#e7d7ce"/>
<path d="M549.24 178.79L554.08 179.27L547.01 172.84z" fill="#6687ed" stroke="#6687ed"/>
<path d="M537.3 173.54L544.39 178.68L542.16 173.04z" fill="#6a8bef" stroke="#6a8bef"/>
<path d="M531.88 112.67L536.83 107.31L529.77 100.92z" fill="#f7b99e" stroke="#f7b99e"/>
<path d="M527.56 175.19L534.66 179.31L532.43 174.28z" fill="#6788ee" stroke="#6788ee"/>
<path d="M554.08 179.27L561.14 186.07L558.9 180.2z" fill="#5977e3" stroke="#5977e3"/>
<path d="M522.69 96.74L527.67 88.31L520.57 85.14z" fill="#ef886b" stroke="#ef886b"/>
<path d="M510.3 183.4L515.18 182.45L508.1 179.66z" fill="#5977e3" stroke="#5977e3"/>
<path d="M532.43 174.28L539.53 178.88L537.3 173.54z" fill="#688aef" stroke="#688aef"/>
<path d="M522.69 96.74L529.77 100.92L527.67 88.31z" fill="#f4987a" stroke="#f4987a"/>
<path d="M515.18 182.45L520.05 181.53L512.96 178.48z" fill="#5b7ae5" stroke="#5b7ae5"/>
<path d="M571.75 196.66L572.98 195.42L565.94 187.72z" fill="#3f53c6" stroke="#3f53c6"/>
<path d="M544.39 178.68L549.24 178.79L542.16 173.04z" fill="#6687ed" stroke="#6687ed"/>
<path d="M520.05 181.53L524.92 180.68L517.83 177.33z" fill="#5f7fe8" stroke="#5f7fe8"/>
<path d="M538.92 119.51L543.85 115.76L536.83 107.31z" fill="#f3c8b2" stroke="#f3c8b2"/>
<path d="M511.33 74.05L518.45 73.01L516.33 60.46z" fill="#c73635" stroke="#c73635"/>
<path d="M561.14 186.07L568.21 193.1L565.94 187.72z" fill="#4961d2" stroke="#4961d2"/>
<path d="M524.92 180.68L529.79 179.93L522.7 176.22z" fill="#6180e9" stroke="#6180e9"/>
<path d="M539.53 178.88L544.39 178.68L537.3 173.54z" fill="#6687ed" stroke="#6687ed"/>
<path d="M403.17 196.44L408.05 196.2L404.64 195.2z" fill="#3b4cc0" stroke="#3b4cc0"/>
<path d="M529.79 179.93L534.66 179.31L527.56 175.19z" fill="#6384eb" stroke="#6384eb"/>
<path d="M534.66 179.31L539.53 178.88L532.43 174.28z" fill="#6485ec" stroke="#6485ec"/>
<path d="M550.83 126.06L555.71 124.8L548.79 112.52z" fill="#ebd3c6" stroke="#ebd3c6"/>
<path d="M549.24 178.79L556.33 184.93L554.08 179.27z" fill="#5d7ce6" stroke="#5d7ce6"/>
<path d="M568.21 193.1L571.75 196.66L565.94 187.72z" fill="#4257c9" stroke="#4257c9"/>
<path d="M556.33 184.93L561.14 186.07L554.08 179.27z" fill="#5673e0" stroke="#5673e0"/>
<path d="M461.64 191.75L468.62 193.67L466.5 191.11z" fill="#4257c9" stroke="#4257c9"/>
<path d="M456.77 192.35L463.74 194.25L461.64 191.75z" fill="#4055c8" stroke="#4055c8"/>
<path d="M466.5 191.11L473.49 193.05L471.37 190.42z" fill="#445acc" stroke="#445acc"/>
<path d="M451.91 192.89L458.86 194.8L456.77 192.35z" fill="#3f53c6" stroke="#3f53c6"/>
<path d="M471.37 190.42L478.37 192.39L476.23 189.68z" fill="#455cce" stroke="#455cce"/>
<path d="M560.57 124.51L565.38 125.47L558.62 108.43z" fill="#edd1c2" stroke="#edd1c2"/>
<path d="M447.04 193.4L453.98 195.3L451.91 192.89z" fill="#3e51c5" stroke="#3e51c5"/>
<path d="M476.23 189.68L483.25 191.69L481.1 188.9z" fill="#485fd1" stroke="#485fd1"/>
<path d="M543.85 115.76L550.83 126.06L548.79 112.52z" fill="#efcebd" stroke="#efcebd"/>
<path d="M442.17 193.86L449.1 195.77L447.04 193.4z" fill="#3d50c3" stroke="#3d50c3"/>
<path d="M481.1 188.9L488.12 190.96L485.96 188.06z" fill="#4961d2" stroke="#4961d2"/>
<path d="M555.71 124.8L560.57 124.51L553.71 109.99z" fill="#edd1c2" stroke="#edd1c2"/>
<path d="M437.3 194.29L444.22 196.21L442.17 193.86z" fill="#3d50c3" stroke="#3d50c3"/>
<path d="M485.96 188.06L493 190.2L490.83 187.18z" fill="#4b64d5" stroke="#4b64d5"/>
<path d="M432.43 194.68L439.34 196.61L437.3 194.29z" fill="#3c4ec2" stroke="#3c4ec2"/>
<path d="M490.83 187.18L497.88 189.42L495.69 186.27z" fill="#4e68d8" stroke="#4e68d8"/>
<path d="M544.39 178.68L551.49 184.22L549.24 178.79z" fill="#5e7de7" stroke="#5e7de7"/>
<path d="M427.56 195.03L434.46 196.99L432.43 194.68z" fill="#3c4ec2" stroke="#3c4ec2"/>
<path d="M495.69 186.27L502.76 188.62L500.56 185.33z" fill="#506bda" stroke="#506bda"/>
<path d="M422.69 195.36L429.57 197.33L427.56 195.03z" fill="#3b4cc0" stroke="#3b4cc0"/>
<path d="M563.42 191.35L568.21 193.1L561.14 186.07z" fill="#485fd1" stroke="#485fd1"/>
<path d="M500.56 185.33L507.64 187.82L505.43 184.36z" fill="#536edd" stroke="#536edd"/>
<path d="M529.77 100.92L536.83 107.31L534.75 94.03z" fill="#f7a688" stroke="#f7a688"/>
<path d="M551.49 184.22L556.33 184.93L549.24 178.79z" fill="#5a78e4" stroke="#5a78e4"/>
<path d="M556.33 184.93L563.42 191.35L561.14 186.07z" fill="#4f69d9" stroke="#4f69d9"/>
<path d="M505.43 184.36L512.52 187.03L510.3 183.4z" fill="#5470de" stroke="#5470de"/>
<path d="M417.81 195.66L424.68 197.65L422.69 195.36z" fill="#3b4cc0" stroke="#3b4cc0"/>
<path d="M539.53 178.88L546.64 183.88L544.39 178.68z" fill="#5f7fe8" stroke="#5f7fe8"/>
<path d="M536.83 107.31L543.85 115.76L541.8 102.17z" fill="#f7b99e" stroke="#f7b99e"/>
<path d="M510.3 183.4L517.4 186.27L515.18 182.45z" fill="#5673e0" stroke="#5673e0"/>
<path d="M520.57 85.14L525.58 74.87L518.45 73.01z" fill="#d85646" stroke="#d85646"/>
<path d="M548.79 112.52L555.71 124.8L553.71 109.99z" fill="#f2c9b4" stroke="#f2c9b4"/>
<path d="M412.93 195.94L419.79 197.94L417.81 195.66z" fill="#3b4cc0" stroke="#3b4cc0"/>
<path d="M529.77 100.92L534.75 94.03L527.67 88.31z" fill="#f29274" stroke="#f29274"/>
<path d="M468.62 193.67L473.49 193.05L466.5 191.11z" fill="#4358cb" stroke="#4358cb"/>
<path d="M534.66 179.31L541.78 183.83L539.53 178.88z" fill="#5f7fe8" stroke="#5f7fe8"/>
<path d="M463.74 194.25L468.62 193.67L461.64 191.75z" fill="#4257c9" stroke="#4257c9"/>
<path d="M515.18 182.45L522.28 185.56L520.05 181.53z" fill="#5977e3" stroke="#5977e3"/>
<path d="M473.49 193.05L478.37 192.39L471.37 190.42z" fill="#445acc" stroke="#445acc"/>
<path d="M458.86 194.8L463.74 194.25L456.77 192.35z" fill="#4055c8" stroke="#4055c8"/>
<path d="M478.37 192.39L483.25 191.69L476.23 189.68z" fill="#465ecf" stroke="#465ecf"/>
<path d="M453.98 195.3L458.86 194.8L451.91 192.89z" fill="#3f53c6" stroke="#3f53c6"/>
<path d="M520.05 181.53L527.16 184.92L524.92 180.68z" fill="#5b7ae5" stroke="#5b7ae5"/>
<path d="M483.25 191.69L488.12 190.96L481.1 188.9z" fill="#485fd1" stroke="#485fd1"/>
<path d="M529.79 179.93L536.91 184.02L534.66 179.31z" fill="#5e7de7" stroke="#5e7de7"/>
<path d="M408.05 196.2L414.9 198.22L412.93 195.94z" fill="#3b4cc0" stroke="#3b4cc0"/>
<path d="M524.92 180.68L532.04 184.4L529.79 179.93z" fill="#5d7ce6" stroke="#5d7ce6"/>
<path d="M546.64 183.88L551.49 184.22L544.39 178.68z" fill="#5b7ae5" stroke="#5b7ae5"/>
<path d="M449.1 195.77L453.98 195.3L447.04 193.4z" fill="#3e51c5" stroke="#3e51c5"/>
<path d="M570.51 197.91L571.75 196.66L568.21 193.1z" fill="#3c4ec2" stroke="#3c4ec2"/>
<path d="M520.57 85.14L527.67 88.31L525.58 74.87z" fill="#e36b54" stroke="#e36b54"/>
<path d="M488.12 190.96L493 190.2L485.96 188.06z" fill="#4a63d3" stroke="#4a63d3"/>
<path d="M543.85 115.76L548.79 112.52L541.8 102.17z" fill="#f6bda2" stroke="#f6bda2"/>
<path d="M444.22 196.21L449.1 195.77L442.17 193.86z" fill="#3d50c3" stroke="#3d50c3"/>
<path d="M493 190.2L497.88 189.42L490.83 187.18z" fill="#4b64d5" stroke="#4b64d5"/>
<path d="M403.17 196.44L410.01 198.47L408.05 196.2z" fill="#3b4cc0" stroke="#3b4cc0"/>
<path d="M553.71 109.99L560.57 124.51L558.62 108.43z" fill="#f4c6af" stroke="#f4c6af"/>
<path d="M439.34 196.61L444.22 196.21L437.3 194.29z" fill="#3d50c3" stroke="#3d50c3"/>
<path d="M497.88 189.42L502.76 188.62L495.69 186.27z" fill="#4e68d8" stroke="#4e68d8"/>
<path d="M434.46 196.99L439.34 196.61L432.43 194.68z" fill="#3c4ec2" stroke="#3c4ec2"/>
<path d="M563.42 191.35L570.51 197.91L568.21 193.1z" fill="#4055c8" stroke="#4055c8"/>
<path d="M502.76 188.62L507.64 187.82L500.56 185.33z" fill="#506bda" stroke="#506bda"/>
<path d="M541.78 183.83L546.64 183.88L539.53 178.88z" fill="#5d7ce6" stroke="#5d7ce6"/>
<path d="M551.49 184.22L558.6 190.07L556.33 184.93z" fill="#536edd" stroke="#536edd"/>
<path d="M507.64 187.82L512.52 187.03L505.43 184.36z" fill="#536edd" stroke="#536edd"/>
<path d="M429.57 197.33L434.46 196.99L427.56 195.03z" fill="#3b4cc0" stroke="#3b4cc0"/>
<path d="M558.6 190.07L563.42 191.35L556.33 184.93z" fill="#4c66d6" stroke="#4c66d6"/>
<path d="M536.83 107.31L541.8 102.17L534.75 94.03z" fill="#f7a688" stroke="#f7a688"/>
<path d="M512.52 187.03L517.4 186.27L510.3 183.4z" fill="#5470de" stroke="#5470de"/>
<path d="M536.91 184.02L541.78 183.83L534.66 179.31z" fill="#5d7ce6" stroke="#5d7ce6"/>
<path d="M424.68 197.65L429.57 197.33L422.69 195.36z" fill="#3b4cc0" stroke="#3b4cc0"/>
<path d="M517.4 186.27L522.28 185.56L515.18 182.45z" fill="#5673e0" stroke="#5673e0"/>
<path d="M532.04 184.4L536.91 184.02L529.79 179.93z" fill="#5b7ae5" stroke="#5b7ae5"/>
<path d="M522.28 185.56L527.16 184.92L520.05 181.53z" fill="#5977e3" stroke="#5977e3"/>
<path d="M527.16 184.92L532.04 184.4L524.92 180.68z" fill="#5a78e4" stroke="#5a78e4"/>
<path d="M419.79 197.94L424.68 197.65L417.81 195.66z" fill="#3b4cc0" stroke="#3b4cc0"/>
<path d="M401.69 197.69L405.11 198.71L403.17 196.44z" fill="#3b4cc0" stroke="#3b4cc0"/>
<path d="M414.9 198.22L419.79 197.94L412.93 195.94z" fill="#3b4cc0" stroke="#3b4cc0"/>
<path d="M546.64 183.88L553.76 189.2L551.49 184.22z" fill="#5572df" stroke="#5572df"/>
<path d="M410.01 198.47L414.9 198.22L408.05 196.2z" fill="#3b4cc0" stroke="#3b4cc0"/>
<path d="M553.76 189.2L558.6 190.07L551.49 184.22z" fill="#506bda" stroke="#506bda"/>
<path d="M405.11 198.71L410.01 198.47L403.17 196.44z" fill="#3b4cc0" stroke="#3b4cc0"/>
<path d="M558.6 190.07L565.71 196.11L563.42 191.35z" fill="#455cce" stroke="#455cce"/>
<path d="M548.79 112.52L553.71 109.99L546.77 97.45z" fill="#f7b396" stroke="#f7b396"/>
<path d="M541.8 102.17L548.79 112.52L546.77 97.45z" fill="#f7ac8e" stroke="#f7ac8e"/>
<path d="M541.78 183.83L548.91 188.68L546.64 183.88z" fill="#5673e0" stroke="#5673e0"/>
<path d="M569.27 199.16L570.51 197.91L563.42 191.35z" fill="#3e51c5" stroke="#3e51c5"/>
<path d="M527.67 88.31L534.75 94.03L532.69 79.64z" fill="#e8765c" stroke="#e8765c"/>
<path d="M518.45 73.01L523.49 60.65L516.33 60.46z" fill="#b40426" stroke="#b40426"/>
<path d="M536.91 184.02L544.04 188.44L541.78 183.83z" fill="#5875e1" stroke="#5875e1"/>
<path d="M548.91 188.68L553.76 189.2L546.64 183.88z" fill="#536edd" stroke="#536edd"/>
<path d="M473.49 193.05L480.52 195.1L478.37 192.39z" fill="#445acc" stroke="#445acc"/>
<path d="M468.62 193.67L475.63 195.69L473.49 193.05z" fill="#4358cb" stroke="#4358cb"/>
<path d="M478.37 192.39L485.41 194.48L483.25 191.69z" fill="#455cce" stroke="#455cce"/>
<path d="M463.74 194.25L470.74 196.25L468.62 193.67z" fill="#4257c9" stroke="#4257c9"/>
<path d="M483.25 191.69L490.3 193.84L488.12 190.96z" fill="#485fd1" stroke="#485fd1"/>
<path d="M565.71 196.11L569.27 199.16L563.42 191.35z" fill="#3f53c6" stroke="#3f53c6"/>
<path d="M458.86 194.8L465.85 196.78L463.74 194.25z" fill="#4055c8" stroke="#4055c8"/>
<path d="M488.12 190.96L495.19 193.19L493 190.2z" fill="#4961d2" stroke="#4961d2"/>
<path d="M400.22 198.94L405.11 198.71L401.69 197.69z" fill="#3b4cc0" stroke="#3b4cc0"/>
<path d="M453.98 195.3L460.96 197.28L458.86 194.8z" fill="#3f53c6" stroke="#3f53c6"/>
<path d="M493 190.2L500.08 192.52L497.88 189.42z" fill="#4b64d5" stroke="#4b64d5"/>
<path d="M532.04 184.4L539.17 188.44L536.91 184.02z" fill="#5673e0" stroke="#5673e0"/>
<path d="M527.67 88.31L532.69 79.64L525.58 74.87z" fill="#dd5f4b" stroke="#dd5f4b"/>
<path d="M449.1 195.77L456.07 197.74L453.98 195.3z" fill="#3e51c5" stroke="#3e51c5"/>
<path d="M497.88 189.42L504.97 191.85L502.76 188.62z" fill="#4c66d6" stroke="#4c66d6"/>
<path d="M502.76 188.62L509.86 191.19L507.64 187.82z" fill="#4f69d9" stroke="#4f69d9"/>
<path d="M518.45 73.01L525.58 74.87L523.49 60.65z" fill="#c12b30" stroke="#c12b30"/>
<path d="M444.22 196.21L451.18 198.18L449.1 195.77z" fill="#3d50c3" stroke="#3d50c3"/>
<path d="M527.16 184.92L534.29 188.63L532.04 184.4z" fill="#5673e0" stroke="#5673e0"/>
<path d="M534.75 94.03L541.8 102.17L539.76 87.23z" fill="#f18f71" stroke="#f18f71"/>
<path d="M507.64 187.82L514.75 190.55L512.52 187.03z" fill="#506bda" stroke="#506bda"/>
<path d="M512.52 187.03L519.63 189.95L517.4 186.27z" fill="#536edd" stroke="#536edd"/>
<path d="M522.28 185.56L529.41 188.96L527.16 184.92z" fill="#5572df" stroke="#5572df"/>
<path d="M517.4 186.27L524.52 189.41L522.28 185.56z" fill="#5470de" stroke="#5470de"/>
<path d="M439.34 196.61L446.28 198.59L444.22 196.21z" fill="#3d50c3" stroke="#3d50c3"/>
<path d="M544.04 188.44L548.91 188.68L541.78 183.83z" fill="#5470de" stroke="#5470de"/>
<path d="M553.76 189.2L560.89 194.75L558.6 190.07z" fill="#4a63d3" stroke="#4a63d3"/>
<path d="M434.46 196.99L441.39 198.97L439.34 196.61z" fill="#3c4ec2" stroke="#3c4ec2"/>
<path d="M560.89 194.75L565.71 196.11L558.6 190.07z" fill="#455cce" stroke="#455cce"/>
<path d="M553.71 109.99L558.62 108.43L551.75 93.36z" fill="#f7a98b" stroke="#f7a98b"/>
<path d="M429.57 197.33L436.49 199.33L434.46 196.99z" fill="#3c4ec2" stroke="#3c4ec2"/>
<path d="M539.17 188.44L544.04 188.44L536.91 184.02z" fill="#5572df" stroke="#5572df"/>
<path d="M424.68 197.65L431.59 199.66L429.57 197.33z" fill="#3b4cc0" stroke="#3b4cc0"/>
<path d="M419.79 197.94L426.69 199.97L424.68 197.65z" fill="#3b4cc0" stroke="#3b4cc0"/>
<path d="M541.8 102.17L546.77 97.45L539.76 87.23z" fill="#f29072" stroke="#f29072"/>
<path d="M534.29 188.63L539.17 188.44L532.04 184.4z" fill="#5572df" stroke="#5572df"/>
<path d="M480.52 195.1L485.41 194.48L478.37 192.39z" fill="#455cce" stroke="#455cce"/>
<path d="M475.63 195.69L480.52 195.1L473.49 193.05z" fill="#4358cb" stroke="#4358cb"/>
<path d="M485.41 194.48L490.3 193.84L483.25 191.69z" fill="#465ecf" stroke="#465ecf"/>
<path d="M470.74 196.25L475.63 195.69L468.62 193.67z" fill="#4257c9" stroke="#4257c9"/>
<path d="M490.3 193.84L495.19 193.19L488.12 190.96z" fill="#485fd1" stroke="#485fd1"/>
<path d="M465.85 196.78L470.74 196.25L463.74 194.25z" fill="#4055c8" stroke="#4055c8"/>
<path d="M495.19 193.19L500.08 192.52L493 190.2z" fill="#4a63d3" stroke="#4a63d3"/>
<path d="M529.41 188.96L534.29 188.63L527.16 184.92z" fill="#5470de" stroke="#5470de"/>
<path d="M500.08 192.52L504.97 191.85L497.88 189.42z" fill="#4b64d5" stroke="#4b64d5"/>
<path d="M460.96 197.28L465.85 196.78L458.86 194.8z" fill="#3f53c6" stroke="#3f53c6"/>
<path d="M414.9 198.22L421.79 200.25L419.79 197.94z" fill="#3b4cc0" stroke="#3b4cc0"/>
<path d="M546.77 97.45L553.71 109.99L551.75 93.36z" fill="#f59f80" stroke="#f59f80"/>
<path d="M548.91 188.68L556.05 193.77L553.76 189.2z" fill="#4c66d6" stroke="#4c66d6"/>
<path d="M504.97 191.85L509.86 191.19L502.76 188.62z" fill="#4c66d6" stroke="#4c66d6"/>
<path d="M524.52 189.41L529.41 188.96L522.28 185.56z" fill="#536edd" stroke="#536edd"/>
<path d="M509.86 191.19L514.75 190.55L507.64 187.82z" fill="#4f69d9" stroke="#4f69d9"/>
<path d="M456.07 197.74L460.96 197.28L453.98 195.3z" fill="#3f53c6" stroke="#3f53c6"/>
<path d="M534.75 94.03L539.76 87.23L532.69 79.64z" fill="#e67259" stroke="#e67259"/>
<path d="M514.75 190.55L519.63 189.95L512.52 187.03z" fill="#506bda" stroke="#506bda"/>
<path d="M519.63 189.95L524.52 189.41L517.4 186.27z" fill="#516ddb" stroke="#516ddb"/>
<path d="M451.18 198.18L456.07 197.74L449.1 195.77z" fill="#3e51c5" stroke="#3e51c5"/>
<path d="M410.01 198.47L416.89 200.52L414.9 198.22z" fill="#3b4cc0" stroke="#3b4cc0"/>
<path d="M556.05 193.77L560.89 194.75L553.76 189.2z" fill="#4961d2" stroke="#4961d2"/>
<path d="M446.28 198.59L451.18 198.18L444.22 196.21z" fill="#3d50c3" stroke="#3d50c3"/>
<path d="M568.03 200.41L569.27 199.16L565.71 196.11z" fill="#3b4cc0" stroke="#3b4cc0"/>
<path d="M441.39 198.97L446.28 198.59L439.34 196.61z" fill="#3c4ec2" stroke="#3c4ec2"/>
<path d="M405.11 198.71L411.98 200.78L410.01 198.47z" fill="#3b4cc0" stroke="#3b4cc0"/>
<path d="M436.49 199.33L441.39 198.97L434.46 196.99z" fill="#3c4ec2" stroke="#3c4ec2"/>
<path d="M560.89 194.75L568.03 200.41L565.71 196.11z" fill="#3f53c6" stroke="#3f53c6"/>
<path d="M544.04 188.44L551.19 193.12L548.91 188.68z" fill="#4f69d9" stroke="#4f69d9"/>
<path d="M400.22 198.94L407.07 201.01L405.11 198.71z" fill="#3b4cc0" stroke="#3b4cc0"/>
<path d="M431.59 199.66L436.49 199.33L429.57 197.33z" fill="#3b4cc0" stroke="#3b4cc0"/>
<path d="M426.69 199.97L431.59 199.66L424.68 197.65z" fill="#3b4cc0" stroke="#3b4cc0"/>
<path d="M551.19 193.12L556.05 193.77L548.91 188.68z" fill="#4b64d5" stroke="#4b64d5"/>
<path d="M421.79 200.25L426.69 199.97L419.79 197.94z" fill="#3b4cc0" stroke="#3b4cc0"/>
<path d="M539.17 188.44L546.32 192.74L544.04 188.44z" fill="#506bda" stroke="#506bda"/>
<path d="M416.89 200.52L421.79 200.25L414.9 198.22z" fill="#3b4cc0" stroke="#3b4cc0"/>
<path d="M398.73 200.19L402.16 201.24L400.22 198.94z" fill="#3b4cc0" stroke="#3b4cc0"/>
<path d="M534.29 188.63L541.44 192.59L539.17 188.44z" fill="#506bda" stroke="#506bda"/>
<path d="M411.98 200.78L416.89 200.52L410.01 198.47z" fill="#3b4cc0" stroke="#3b4cc0"/>
<path d="M525.58 74.87L532.69 79.64L530.63 64.13z" fill="#c73635" stroke="#c73635"/>
<path d="M556.05 193.77L563.2 199.02L560.89 194.75z" fill="#4358cb" stroke="#4358cb"/>
<path d="M546.32 192.74L551.19 193.12L544.04 188.44z" fill="#4e68d8" stroke="#4e68d8"/>
<path d="M529.41 188.96L536.56 192.62L534.29 188.63z" fill="#506bda" stroke="#506bda"/>
<path d="M407.07 201.01L411.98 200.78L405.11 198.71z" fill="#3b4cc0" stroke="#3b4cc0"/>
<path d="M524.52 189.41L531.67 192.8L529.41 188.96z" fill="#506bda" stroke="#506bda"/>
<path d="M402.16 201.24L407.07 201.01L400.22 198.94z" fill="#3b4cc0" stroke="#3b4cc0"/>
<path d="M525.58 74.87L530.63 64.13L523.49 60.65z" fill="#b40426" stroke="#b40426"/>
<path d="M539.76 87.23L546.77 97.45L544.78 80.71z" fill="#e7745b" stroke="#e7745b"/>
<path d="M519.63 189.95L526.78 193.11L524.52 189.41z" fill="#4f69d9" stroke="#4f69d9"/>
<path d="M514.75 190.55L521.88 193.5L519.63 189.95z" fill="#4e68d8" stroke="#4e68d8"/>
<path d="M566.78 201.67L568.03 200.41L560.89 194.75z" fill="#3d50c3" stroke="#3d50c3"/>
<path d="M541.44 192.59L546.32 192.74L539.17 188.44z" fill="#4f69d9" stroke="#4f69d9"/>
<path d="M509.86 191.19L516.98 193.96L514.75 190.55z" fill="#4c66d6" stroke="#4c66d6"/>
<path d="M504.97 191.85L512.09 194.47L509.86 191.19z" fill="#4b64d5" stroke="#4b64d5"/>
<path d="M495.19 193.19L502.29 195.57L500.08 192.52z" fill="#4961d2" stroke="#4961d2"/>
<path d="M490.3 193.84L497.39 196.14L495.19 193.19z" fill="#485fd1" stroke="#485fd1"/>
<path d="M500.08 192.52L507.19 195.01L504.97 191.85z" fill="#4a63d3" stroke="#4a63d3"/>
<path d="M485.41 194.48L492.48 196.71L490.3 193.84z" fill="#455cce" stroke="#455cce"/>
<path d="M480.52 195.1L487.58 197.27L485.41 194.48z" fill="#445acc" stroke="#445acc"/>
<path d="M475.63 195.69L482.68 197.81L480.52 195.1z" fill="#4358cb" stroke="#4358cb"/>
<path d="M470.74 196.25L477.78 198.33L475.63 195.69z" fill="#4257c9" stroke="#4257c9"/>
<path d="M546.77 97.45L551.75 93.36L544.78 80.71z" fill="#ea7b60" stroke="#ea7b60"/>
<path d="M465.85 196.78L472.88 198.84L470.74 196.25z" fill="#4055c8" stroke="#4055c8"/>
<path d="M460.96 197.28L467.98 199.32L465.85 196.78z" fill="#3f53c6" stroke="#3f53c6"/>
<path d="M456.07 197.74L463.07 199.77L460.96 197.28z" fill="#3f53c6" stroke="#3f53c6"/>
<path d="M536.56 192.62L541.44 192.59L534.29 188.63z" fill="#4f69d9" stroke="#4f69d9"/>
<path d="M563.2 199.02L566.78 201.67L560.89 194.75z" fill="#3e51c5" stroke="#3e51c5"/>
<path d="M551.19 193.12L558.35 197.98L556.05 193.77z" fill="#465ecf" stroke="#465ecf"/>
<path d="M451.18 198.18L458.17 200.2L456.07 197.74z" fill="#3e51c5" stroke="#3e51c5"/>
<path d="M532.69 79.64L539.76 87.23L537.74 70.88z" fill="#d55042" stroke="#d55042"/>
<path d="M446.28 198.59L453.26 200.61L451.18 198.18z" fill="#3d50c3" stroke="#3d50c3"/>
<path d="M531.67 192.8L536.56 192.62L529.41 188.96z" fill="#4f69d9" stroke="#4f69d9"/>
<path d="M397.25 201.45L402.16 201.24L398.73 200.19z" fill="#3b4cc0" stroke="#3b4cc0"/>
<path d="M441.39 198.97L448.36 201L446.28 198.59z" fill="#3d50c3" stroke="#3d50c3"/>
<path d="M558.35 197.98L563.2 199.02L556.05 193.77z" fill="#4358cb" stroke="#4358cb"/>
<path d="M526.78 193.11L531.67 192.8L524.52 189.41z" fill="#4e68d8" stroke="#4e68d8"/>
<path d="M436.49 199.33L443.45 201.36L441.39 198.97z" fill="#3c4ec2" stroke="#3c4ec2"/>
<path d="M521.88 193.5L526.78 193.11L519.63 189.95z" fill="#4e68d8" stroke="#4e68d8"/>
<path d="M516.98 193.96L521.88 193.5L514.75 190.55z" fill="#4c66d6" stroke="#4c66d6"/>
<path d="M431.59 199.66L438.54 201.69L436.49 199.33z" fill="#3c4ec2" stroke="#3c4ec2"/>
<path d="M512.09 194.47L516.98 193.96L509.86 191.19z" fill="#4b64d5" stroke="#4b64d5"/>
<path d="M507.19 195.01L512.09 194.47L504.97 191.85z" fill="#4a63d3" stroke="#4a63d3"/>
<path d="M546.32 192.74L553.49 197.24L551.19 193.12z" fill="#4961d2" stroke="#4961d2"/>
<path d="M502.29 195.57L507.19 195.01L500.08 192.52z" fill="#4961d2" stroke="#4961d2"/>
<path d="M497.39 196.14L502.29 195.57L495.19 193.19z" fill="#485fd1" stroke="#485fd1"/>
<path d="M492.48 196.71L497.39 196.14L490.3 193.84z" fill="#465ecf" stroke="#465ecf"/>
<path d="M487.58 197.27L492.48 196.71L485.41 194.48z" fill="#455cce" stroke="#455cce"/>
<path d="M426.69 199.97L433.62 202.01L431.59 199.66z" fill="#3b4cc0" stroke="#3b4cc0"/>
<path d="M482.68 197.81L487.58 197.27L480.52 195.1z" fill="#445acc" stroke="#445acc"/>
<path d="M477.78 198.33L482.68 197.81L475.63 195.69z" fill="#4358cb" stroke="#4358cb"/>
<path d="M472.88 198.84L477.78 198.33L470.74 196.25z" fill="#4257c9" stroke="#4257c9"/>
<path d="M467.98 199.32L472.88 198.84L465.85 196.78z" fill="#4055c8" stroke="#4055c8"/>
<path d="M421.79 200.25L428.71 202.31L426.69 199.97z" fill="#3b4cc0" stroke="#3b4cc0"/>
<path d="M463.07 199.77L467.98 199.32L460.96 197.28z" fill="#3f53c6" stroke="#3f53c6"/>
<path d="M553.49 197.24L558.35 197.98L551.19 193.12z" fill="#455cce" stroke="#455cce"/>
<path d="M458.17 200.2L463.07 199.77L456.07 197.74z" fill="#3e51c5" stroke="#3e51c5"/>
<path d="M532.69 79.64L537.74 70.88L530.63 64.13z" fill="#c0282f" stroke="#c0282f"/>
<path d="M416.89 200.52L423.8 202.59L421.79 200.25z" fill="#3b4cc0" stroke="#3b4cc0"/>
<path d="M539.76 87.23L544.78 80.71L537.74 70.88z" fill="#d44e41" stroke="#d44e41"/>
<path d="M541.44 192.59L548.62 196.76L546.32 192.74z" fill="#4a63d3" stroke="#4a63d3"/>
<path d="M453.26 200.61L458.17 200.2L451.18 198.18z" fill="#3e51c5" stroke="#3e51c5"/>
<path d="M411.98 200.78L418.88 202.86L416.89 200.52z" fill="#3b4cc0" stroke="#3b4cc0"/>
<path d="M448.36 201L453.26 200.61L446.28 198.59z" fill="#3d50c3" stroke="#3d50c3"/>
<path d="M443.45 201.36L448.36 201L441.39 198.97z" fill="#3c4ec2" stroke="#3c4ec2"/>
<path d="M407.07 201.01L413.96 203.1L411.98 200.78z" fill="#3b4cc0" stroke="#3b4cc0"/>
<path d="M536.56 192.62L543.73 196.49L541.44 192.59z" fill="#4b64d5" stroke="#4b64d5"/>
<path d="M438.54 201.69L443.45 201.36L436.49 199.33z" fill="#3c4ec2" stroke="#3c4ec2"/>
<path d="M565.53 202.93L566.78 201.67L563.2 199.02z" fill="#3b4cc0" stroke="#3b4cc0"/>
<path d="M558.35 197.98L565.53 202.93L563.2 199.02z" fill="#3e51c5" stroke="#3e51c5"/>
<path d="M548.62 196.76L553.49 197.24L546.32 192.74z" fill="#485fd1" stroke="#485fd1"/>
<path d="M402.16 201.24L409.04 203.34L407.07 201.01z" fill="#3b4cc0" stroke="#3b4cc0"/>
<path d="M433.62 202.01L438.54 201.69L431.59 199.66z" fill="#3b4cc0" stroke="#3b4cc0"/>
<path d="M531.67 192.8L538.84 196.41L536.56 192.62z" fill="#4b64d5" stroke="#4b64d5"/>
<path d="M397.25 201.45L404.12 203.56L402.16 201.24z" fill="#3b4cc0" stroke="#3b4cc0"/>
<path d="M428.71 202.31L433.62 202.01L426.69 199.97z" fill="#3b4cc0" stroke="#3b4cc0"/>
<path d="M526.78 193.11L533.95 196.47L531.67 192.8z" fill="#4b64d5" stroke="#4b64d5"/>
<path d="M423.8 202.59L428.71 202.31L421.79 200.25z" fill="#3b4cc0" stroke="#3b4cc0"/>
<path d="M543.73 196.49L548.62 196.76L541.44 192.59z" fill="#4961d2" stroke="#4961d2"/>
<path d="M521.88 193.5L529.04 196.65L526.78 193.11z" fill="#4b64d5" stroke="#4b64d5"/>
<path d="M418.88 202.86L423.8 202.59L416.89 200.52z" fill="#3b4cc0" stroke="#3b4cc0"/>
<path d="M516.98 193.96L524.14 196.92L521.88 193.5z" fill="#4a63d3" stroke="#4a63d3"/>
<path d="M553.49 197.24L560.68 201.86L558.35 197.98z" fill="#4055c8" stroke="#4055c8"/>
<path d="M413.96 203.1L418.88 202.86L411.98 200.78z" fill="#3b4cc0" stroke="#3b4cc0"/>
<path d="M512.09 194.47L519.23 197.27L516.98 193.96z" fill="#4a63d3" stroke="#4a63d3"/>
<path d="M538.84 196.41L543.73 196.49L536.56 192.62z" fill="#4a63d3" stroke="#4a63d3"/>
<path d="M507.19 195.01L514.32 197.67L512.09 194.47z" fill="#4961d2" stroke="#4961d2"/>
<path d="M502.29 195.57L509.42 198.12L507.19 195.01z" fill="#485fd1" stroke="#485fd1"/>
<path d="M395.76 202.71L399.19 203.77L397.25 201.45z" fill="#3b4cc0" stroke="#3b4cc0"/>
<path d="M497.39 196.14L504.5 198.58L502.29 195.57z" fill="#465ecf" stroke="#465ecf"/>
<path d="M409.04 203.34L413.96 203.1L407.07 201.01z" fill="#3b4cc0" stroke="#3b4cc0"/>
<path d="M492.48 196.71L499.59 199.06L497.39 196.14z" fill="#455cce" stroke="#455cce"/>
<path d="M487.58 197.27L494.68 199.55L492.48 196.71z" fill="#445acc" stroke="#445acc"/>
<path d="M533.95 196.47L538.84 196.41L531.67 192.8z" fill="#4a63d3" stroke="#4a63d3"/>
<path d="M482.68 197.81L489.77 200.04L487.58 197.27z" fill="#4358cb" stroke="#4358cb"/>
<path d="M404.12 203.56L409.04 203.34L402.16 201.24z" fill="#3b4cc0" stroke="#3b4cc0"/>
<path d="M477.78 198.33L484.85 200.51L482.68 197.81z" fill="#4257c9" stroke="#4257c9"/>
<path d="M472.88 198.84L479.94 200.98L477.78 198.33z" fill="#4055c8" stroke="#4055c8"/>
<path d="M467.98 199.32L475.03 201.43L472.88 198.84z" fill="#4055c8" stroke="#4055c8"/>
<path d="M529.04 196.65L533.95 196.47L526.78 193.11z" fill="#4a63d3" stroke="#4a63d3"/>
<path d="M564.28 204.2L565.53 202.93L558.35 197.98z" fill="#3c4ec2" stroke="#3c4ec2"/>
<path d="M399.19 203.77L404.12 203.56L397.25 201.45z" fill="#3b4cc0" stroke="#3b4cc0"/>
<path d="M463.07 199.77L470.11 201.87L467.98 199.32z" fill="#3f53c6" stroke="#3f53c6"/>
<path d="M548.62 196.76L555.81 201.07L553.49 197.24z" fill="#445acc" stroke="#445acc"/>
<path d="M524.14 196.92L529.04 196.65L521.88 193.5z" fill="#4a63d3" stroke="#4a63d3"/>
<path d="M458.17 200.2L465.19 202.29L463.07 199.77z" fill="#3e51c5" stroke="#3e51c5"/>
<path d="M453.26 200.61L460.28 202.69L458.17 200.2z" fill="#3e51c5" stroke="#3e51c5"/>
<path d="M519.23 197.27L524.14 196.92L516.98 193.96z" fill="#4961d2" stroke="#4961d2"/>
<path d="M560.68 201.86L564.28 204.2L558.35 197.98z" fill="#3d50c3" stroke="#3d50c3"/>
<path d="M448.36 201L455.36 203.06L453.26 200.61z" fill="#3d50c3" stroke="#3d50c3"/>
<path d="M514.32 197.67L519.23 197.27L512.09 194.47z" fill="#4961d2" stroke="#4961d2"/>
<path d="M555.81 201.07L560.68 201.86L553.49 197.24z" fill="#4055c8" stroke="#4055c8"/>
<path d="M509.42 198.12L514.32 197.67L507.19 195.01z" fill="#485fd1" stroke="#485fd1"/>
<path d="M443.45 201.36L450.44 203.42L448.36 201z" fill="#3c4ec2" stroke="#3c4ec2"/>
<path d="M504.5 198.58L509.42 198.12L502.29 195.57z" fill="#465ecf" stroke="#465ecf"/>
<path d="M543.73 196.49L550.93 200.52L548.62 196.76z" fill="#455cce" stroke="#455cce"/>
<path d="M499.59 199.06L504.5 198.58L497.39 196.14z" fill="#455cce" stroke="#455cce"/>
<path d="M438.54 201.69L445.52 203.76L443.45 201.36z" fill="#3c4ec2" stroke="#3c4ec2"/>
<path d="M494.68 199.55L499.59 199.06L492.48 196.71z" fill="#445acc" stroke="#445acc"/>
<path d="M489.77 200.04L494.68 199.55L487.58 197.27z" fill="#4358cb" stroke="#4358cb"/>
<path d="M394.26 203.97L399.19 203.77L395.76 202.71z" fill="#3b4cc0" stroke="#3b4cc0"/>
<path d="M484.85 200.51L489.77 200.04L482.68 197.81z" fill="#4358cb" stroke="#4358cb"/>
<path d="M433.62 202.01L440.59 204.09L438.54 201.69z" fill="#3c4ec2" stroke="#3c4ec2"/>
<path d="M479.94 200.98L484.85 200.51L477.78 198.33z" fill="#4257c9" stroke="#4257c9"/>
<path d="M475.03 201.43L479.94 200.98L472.88 198.84z" fill="#4055c8" stroke="#4055c8"/>
<path d="M428.71 202.31L435.67 204.39L433.62 202.01z" fill="#3b4cc0" stroke="#3b4cc0"/>
<path d="M538.84 196.41L546.04 200.17L543.73 196.49z" fill="#465ecf" stroke="#465ecf"/>
<path d="M470.11 201.87L475.03 201.43L467.98 199.32z" fill="#3f53c6" stroke="#3f53c6"/>
<path d="M550.93 200.52L555.81 201.07L548.62 196.76z" fill="#4358cb" stroke="#4358cb"/>
<path d="M465.19 202.29L470.11 201.87L463.07 199.77z" fill="#3e51c5" stroke="#3e51c5"/>
<path d="M423.8 202.59L430.74 204.68L428.71 202.31z" fill="#3b4cc0" stroke="#3b4cc0"/>
<path d="M460.28 202.69L465.19 202.29L458.17 200.2z" fill="#3e51c5" stroke="#3e51c5"/>
<path d="M418.88 202.86L425.81 204.95L423.8 202.59z" fill="#3b4cc0" stroke="#3b4cc0"/>
<path d="M455.36 203.06L460.28 202.69L453.26 200.61z" fill="#3d50c3" stroke="#3d50c3"/>
<path d="M533.95 196.47L541.14 200L538.84 196.41z" fill="#485fd1" stroke="#485fd1"/>
<path d="M450.44 203.42L455.36 203.06L448.36 201z" fill="#3d50c3" stroke="#3d50c3"/>
<path d="M413.96 203.1L420.88 205.21L418.88 202.86z" fill="#3b4cc0" stroke="#3b4cc0"/>
<path d="M546.04 200.17L550.93 200.52L543.73 196.49z" fill="#445acc" stroke="#445acc"/>
<path d="M445.52 203.76L450.44 203.42L443.45 201.36z" fill="#3c4ec2" stroke="#3c4ec2"/>
<path d="M529.04 196.65L536.23 199.97L533.95 196.47z" fill="#485fd1" stroke="#485fd1"/>
<path d="M409.04 203.34L415.95 205.46L413.96 203.1z" fill="#3b4cc0" stroke="#3b4cc0"/>
<path d="M440.59 204.09L445.52 203.76L438.54 201.69z" fill="#3c4ec2" stroke="#3c4ec2"/>
<path d="M524.14 196.92L531.32 200.05L529.04 196.65z" fill="#485fd1" stroke="#485fd1"/>
<path d="M404.12 203.56L411.02 205.69L409.04 203.34z" fill="#3b4cc0" stroke="#3b4cc0"/>
<path d="M555.81 201.07L563.02 205.46L560.68 201.86z" fill="#3d50c3" stroke="#3d50c3"/>
<path d="M435.67 204.39L440.59 204.09L433.62 202.01z" fill="#3b4cc0" stroke="#3b4cc0"/>
<path d="M563.02 205.46L564.28 204.2L560.68 201.86z" fill="#3b4cc0" stroke="#3b4cc0"/>
<path d="M541.14 200L546.04 200.17L538.84 196.41z" fill="#455cce" stroke="#455cce"/>
<path d="M519.23 197.27L526.41 200.23L524.14 196.92z" fill="#485fd1" stroke="#485fd1"/>
<path d="M430.74 204.68L435.67 204.39L428.71 202.31z" fill="#3b4cc0" stroke="#3b4cc0"/>
<path d="M399.19 203.77L406.08 205.91L404.12 203.56z" fill="#3b4cc0" stroke="#3b4cc0"/>
<path d="M514.32 197.67L521.49 200.49L519.23 197.27z" fill="#465ecf" stroke="#465ecf"/>
<path d="M425.81 204.95L430.74 204.68L423.8 202.59z" fill="#3b4cc0" stroke="#3b4cc0"/>
<path d="M394.26 203.97L401.14 206.12L399.19 203.77z" fill="#3b4cc0" stroke="#3b4cc0"/>
<path d="M509.42 198.12L516.58 200.8L514.32 197.67z" fill="#465ecf" stroke="#465ecf"/>
<path d="M536.23 199.97L541.14 200L533.95 196.47z" fill="#465ecf" stroke="#465ecf"/>
<path d="M504.5 198.58L511.66 201.16L509.42 198.12z" fill="#455cce" stroke="#455cce"/>
<path d="M420.88 205.21L425.81 204.95L418.88 202.86z" fill="#3b4cc0" stroke="#3b4cc0"/>
<path d="M499.59 199.06L506.73 201.54L504.5 198.58z" fill="#445acc" stroke="#445acc"/>
<path d="M550.93 200.52L558.14 204.65L555.81 201.07z" fill="#3f53c6" stroke="#3f53c6"/>
<path d="M494.68 199.55L501.81 201.95L499.59 199.06z" fill="#445acc" stroke="#445acc"/>
<path d="M531.32 200.05L536.23 199.97L529.04 196.65z" fill="#465ecf" stroke="#465ecf"/>
<path d="M415.95 205.46L420.88 205.21L413.96 203.1z" fill="#3b4cc0" stroke="#3b4cc0"/>
<path d="M489.77 200.04L496.89 202.37L494.68 199.55z" fill="#4358cb" stroke="#4358cb"/>
<path d="M484.85 200.51L491.96 202.79L489.77 200.04z" fill="#4257c9" stroke="#4257c9"/>
<path d="M411.02 205.69L415.95 205.46L409.04 203.34z" fill="#3b4cc0" stroke="#3b4cc0"/>
<path d="M526.41 200.23L531.32 200.05L524.14 196.92z" fill="#465ecf" stroke="#465ecf"/>
<path d="M479.94 200.98L487.04 203.21L484.85 200.51z" fill="#4055c8" stroke="#4055c8"/>
<path d="M475.03 201.43L482.11 203.63L479.94 200.98z" fill="#4055c8" stroke="#4055c8"/>
<path d="M521.49 200.49L526.41 200.23L519.23 197.27z" fill="#465ecf" stroke="#465ecf"/>
<path d="M392.76 205.24L396.2 206.32L394.26 203.97z" fill="#3b4cc0" stroke="#3b4cc0"/>
<path d="M406.08 205.91L411.02 205.69L404.12 203.56z" fill="#3b4cc0" stroke="#3b4cc0"/>
<path d="M470.11 201.87L477.18 204.03L475.03 201.43z" fill="#3f53c6" stroke="#3f53c6"/>
<path d="M546.04 200.17L553.26 204.06L550.93 200.52z" fill="#4257c9" stroke="#4257c9"/>
<path d="M465.19 202.29L472.26 204.43L470.11 201.87z" fill="#3e51c5" stroke="#3e51c5"/>
<path d="M516.58 200.8L521.49 200.49L514.32 197.67z" fill="#455cce" stroke="#455cce"/>
<path d="M401.14 206.12L406.08 205.91L399.19 203.77z" fill="#3b4cc0" stroke="#3b4cc0"/>
<path d="M460.28 202.69L467.33 204.81L465.19 202.29z" fill="#3e51c5" stroke="#3e51c5"/>
<path d="M511.66 201.16L516.58 200.8L509.42 198.12z" fill="#455cce" stroke="#455cce"/>
<path d="M561.76 206.74L563.02 205.46L555.81 201.07z" fill="#3c4ec2" stroke="#3c4ec2"/>
<path d="M455.36 203.06L462.4 205.18L460.28 202.69z" fill="#3d50c3" stroke="#3d50c3"/>
<path d="M506.73 201.54L511.66 201.16L504.5 198.58z" fill="#445acc" stroke="#445acc"/>
<path d="M396.2 206.32L401.14 206.12L394.26 203.97z" fill="#3b4cc0" stroke="#3b4cc0"/>
<path d="M501.81 201.95L506.73 201.54L499.59 199.06z" fill="#445acc" stroke="#445acc"/>
<path d="M450.44 203.42L457.46 205.53L455.36 203.06z" fill="#3d50c3" stroke="#3d50c3"/>
<path d="M558.14 204.65L561.76 206.74L555.81 201.07z" fill="#3d50c3" stroke="#3d50c3"/>
<path d="M541.14 200L548.36 203.66L546.04 200.17z" fill="#4358cb" stroke="#4358cb"/>
<path d="M496.89 202.37L501.81 201.95L494.68 199.55z" fill="#4358cb" stroke="#4358cb"/>
<path d="M553.26 204.06L558.14 204.65L550.93 200.52z" fill="#3f53c6" stroke="#3f53c6"/>
<path d="M445.52 203.76L452.53 205.87L450.44 203.42z" fill="#3c4ec2" stroke="#3c4ec2"/>
<path d="M491.96 202.79L496.89 202.37L489.77 200.04z" fill="#4257c9" stroke="#4257c9"/>
<path d="M487.04 203.21L491.96 202.79L484.85 200.51z" fill="#4257c9" stroke="#4257c9"/>
<path d="M440.59 204.09L447.6 206.19L445.52 203.76z" fill="#3c4ec2" stroke="#3c4ec2"/>
<path d="M482.11 203.63L487.04 203.21L479.94 200.98z" fill="#4055c8" stroke="#4055c8"/>
<path d="M435.67 204.39L442.66 206.5L440.59 204.09z" fill="#3b4cc0" stroke="#3b4cc0"/>
<path d="M536.23 199.97L543.45 203.42L541.14 200z" fill="#445acc" stroke="#445acc"/>
<path d="M477.18 204.03L482.11 203.63L475.03 201.43z" fill="#3f53c6" stroke="#3f53c6"/>
<path d="M472.26 204.43L477.18 204.03L470.11 201.87z" fill="#3f53c6" stroke="#3f53c6"/>
<path d="M430.74 204.68L437.72 206.79L435.67 204.39z" fill="#3b4cc0" stroke="#3b4cc0"/>
<path d="M391.26 206.51L396.2 206.32L392.76 205.24z" fill="#3b4cc0" stroke="#3b4cc0"/>
<path d="M548.36 203.66L553.26 204.06L546.04 200.17z" fill="#4055c8" stroke="#4055c8"/>
<path d="M467.33 204.81L472.26 204.43L465.19 202.29z" fill="#3e51c5" stroke="#3e51c5"/>
<path d="M531.32 200.05L538.54 203.32L536.23 199.97z" fill="#445acc" stroke="#445acc"/>
<path d="M425.81 204.95L432.78 207.07L430.74 204.68z" fill="#3b4cc0" stroke="#3b4cc0"/>
<path d="M462.4 205.18L467.33 204.81L460.28 202.69z" fill="#3d50c3" stroke="#3d50c3"/>
<path d="M457.46 205.53L462.4 205.18L455.36 203.06z" fill="#3d50c3" stroke="#3d50c3"/>
<path d="M420.88 205.21L427.84 207.34L425.81 204.95z" fill="#3b4cc0" stroke="#3b4cc0"/>
<path d="M526.41 200.23L533.62 203.33L531.32 200.05z" fill="#455cce" stroke="#455cce"/>
<path d="M543.45 203.42L548.36 203.66L541.14 200z" fill="#4257c9" stroke="#4257c9"/>
<path d="M452.53 205.87L457.46 205.53L450.44 203.42z" fill="#3c4ec2" stroke="#3c4ec2"/>
<path d="M415.95 205.46L422.9 207.59L420.88 205.21z" fill="#3b4cc0" stroke="#3b4cc0"/>
<path d="M447.6 206.19L452.53 205.87L445.52 203.76z" fill="#3c4ec2" stroke="#3c4ec2"/>
<path d="M521.49 200.49L528.69 203.43L526.41 200.23z" fill="#445acc" stroke="#445acc"/>
<path d="M411.02 205.69L417.95 207.83L415.95 205.46z" fill="#3b4cc0" stroke="#3b4cc0"/>
<path d="M442.66 206.5L447.6 206.19L440.59 204.09z" fill="#3c4ec2" stroke="#3c4ec2"/>
<path d="M516.58 200.8L523.77 203.61L521.49 200.49z" fill="#445acc" stroke="#445acc"/>
<path d="M538.54 203.32L543.45 203.42L536.23 199.97z" fill="#4358cb" stroke="#4358cb"/>
<path d="M406.08 205.91L413.01 208.06L411.02 205.69z" fill="#3b4cc0" stroke="#3b4cc0"/>
<path d="M437.72 206.79L442.66 206.5L435.67 204.39z" fill="#3b4cc0" stroke="#3b4cc0"/>
<path d="M511.66 201.16L518.84 203.85L516.58 200.8z" fill="#445acc" stroke="#445acc"/>
<path d="M553.26 204.06L560.5 208.01L558.14 204.65z" fill="#3c4ec2" stroke="#3c4ec2"/>
<path d="M432.78 207.07L437.72 206.79L430.74 204.68z" fill="#3b4cc0" stroke="#3b4cc0"/>
<path d="M506.73 201.54L513.91 204.14L511.66 201.16z" fill="#4358cb" stroke="#4358cb"/>
<path d="M401.14 206.12L408.06 208.28L406.08 205.91z" fill="#3b4cc0" stroke="#3b4cc0"/>
<path d="M533.62 203.33L538.54 203.32L531.32 200.05z" fill="#445acc" stroke="#445acc"/>
<path d="M560.5 208.01L561.76 206.74L558.14 204.65z" fill="#3b4cc0" stroke="#3b4cc0"/>
<path d="M501.81 201.95L508.98 204.46L506.73 201.54z" fill="#4358cb" stroke="#4358cb"/>
<path d="M427.84 207.34L432.78 207.07L425.81 204.95z" fill="#3b4cc0" stroke="#3b4cc0"/>
<path d="M396.2 206.32L403.11 208.49L401.14 206.12z" fill="#3b4cc0" stroke="#3b4cc0"/>
<path d="M496.89 202.37L504.04 204.8L501.81 201.95z" fill="#4257c9" stroke="#4257c9"/>
<path d="M528.69 203.43L533.62 203.33L526.41 200.23z" fill="#445acc" stroke="#445acc"/>
<path d="M422.9 207.59L427.84 207.34L420.88 205.21z" fill="#3b4cc0" stroke="#3b4cc0"/>
<path d="M491.96 202.79L499.11 205.16L496.89 202.37z" fill="#4257c9" stroke="#4257c9"/>
<path d="M391.26 206.51L398.15 208.69L396.2 206.32z" fill="#3b4cc0" stroke="#3b4cc0"/>
<path d="M487.04 203.21L494.17 205.53L491.96 202.79z" fill="#4055c8" stroke="#4055c8"/>
<path d="M548.36 203.66L555.6 207.4L553.26 204.06z" fill="#3e51c5" stroke="#3e51c5"/>
<path d="M523.77 203.61L528.69 203.43L521.49 200.49z" fill="#445acc" stroke="#445acc"/>
<path d="M417.95 207.83L422.9 207.59L415.95 205.46z" fill="#3b4cc0" stroke="#3b4cc0"/>
<path d="M482.11 203.63L489.23 205.9L487.04 203.21z" fill="#4055c8" stroke="#4055c8"/>
<path d="M518.84 203.85L523.77 203.61L516.58 200.8z" fill="#445acc" stroke="#445acc"/>
<path d="M477.18 204.03L484.29 206.27L482.11 203.63z" fill="#3f53c6" stroke="#3f53c6"/>
<path d="M413.01 208.06L417.95 207.83L411.02 205.69z" fill="#3b4cc0" stroke="#3b4cc0"/>
<path d="M472.26 204.43L479.35 206.64L477.18 204.03z" fill="#3e51c5" stroke="#3e51c5"/>
<path d="M513.91 204.14L518.84 203.85L511.66 201.16z" fill="#4358cb" stroke="#4358cb"/>
<path d="M408.06 208.28L413.01 208.06L406.08 205.91z" fill="#3b4cc0" stroke="#3b4cc0"/>
<path d="M467.33 204.81L474.41 207L472.26 204.43z" fill="#3e51c5" stroke="#3e51c5"/>
<path d="M543.45 203.42L550.69 206.97L548.36 203.66z" fill="#3f53c6" stroke="#3f53c6"/>
<path d="M508.98 204.46L513.91 204.14L506.73 201.54z" fill="#4358cb" stroke="#4358cb"/>
<path d="M462.4 205.18L469.47 207.35L467.33 204.81z" fill="#3d50c3" stroke="#3d50c3"/>
<path d="M403.11 208.49L408.06 208.28L401.14 206.12z" fill="#3b4cc0" stroke="#3b4cc0"/>
<path d="M389.75 207.79L393.2 208.88L391.26 206.51z" fill="#3b4cc0" stroke="#3b4cc0"/>
<path d="M504.04 204.8L508.98 204.46L501.81 201.95z" fill="#4257c9" stroke="#4257c9"/>
<path d="M457.46 205.53L464.53 207.69L462.4 205.18z" fill="#3d50c3" stroke="#3d50c3"/>
<path d="M499.11 205.16L504.04 204.8L496.89 202.37z" fill="#4257c9" stroke="#4257c9"/>
<path d="M398.15 208.69L403.11 208.49L396.2 206.32z" fill="#3b4cc0" stroke="#3b4cc0"/>
<path d="M452.53 205.87L459.58 208.02L457.46 205.53z" fill="#3c4ec2" stroke="#3c4ec2"/>
<path d="M559.23 209.29L560.5 208.01L553.26 204.06z" fill="#3b4cc0" stroke="#3b4cc0"/>
<path d="M538.54 203.32L545.77 206.69L543.45 203.42z" fill="#4055c8" stroke="#4055c8"/>
<path d="M494.17 205.53L499.11 205.16L491.96 202.79z" fill="#4055c8" stroke="#4055c8"/>
<path d="M489.23 205.9L494.17 205.53L487.04 203.21z" fill="#4055c8" stroke="#4055c8"/>
<path d="M447.6 206.19L454.64 208.34L452.53 205.87z" fill="#3c4ec2" stroke="#3c4ec2"/>
<path d="M393.2 208.88L398.15 208.69L391.26 206.51z" fill="#3b4cc0" stroke="#3b4cc0"/>
<path d="M550.69 206.97L555.6 207.4L548.36 203.66z" fill="#3e51c5" stroke="#3e51c5"/>
<path d="M555.6 207.4L559.23 209.29L553.26 204.06z" fill="#3c4ec2" stroke="#3c4ec2"/>
<path d="M484.29 206.27L489.23 205.9L482.11 203.63z" fill="#3f53c6" stroke="#3f53c6"/>
<path d="M442.66 206.5L449.69 208.64L447.6 206.19z" fill="#3c4ec2" stroke="#3c4ec2"/>
<path d="M533.62 203.33L540.85 206.54L538.54 203.32z" fill="#4257c9" stroke="#4257c9"/>
<path d="M479.35 206.64L484.29 206.27L477.18 204.03z" fill="#3f53c6" stroke="#3f53c6"/>
<path d="M437.72 206.79L444.74 208.94L442.66 206.5z" fill="#3b4cc0" stroke="#3b4cc0"/>
<path d="M474.41 207L479.35 206.64L472.26 204.43z" fill="#3e51c5" stroke="#3e51c5"/>
<path d="M432.78 207.07L439.79 209.22L437.72 206.79z" fill="#3b4cc0" stroke="#3b4cc0"/>
<path d="M469.47 207.35L474.41 207L467.33 204.81z" fill="#3e51c5" stroke="#3e51c5"/>
<path d="M545.77 206.69L550.69 206.97L543.45 203.42z" fill="#3f53c6" stroke="#3f53c6"/>
<path d="M528.69 203.43L535.92 206.49L533.62 203.33z" fill="#4257c9" stroke="#4257c9"/>
<path d="M464.53 207.69L469.47 207.35L462.4 205.18z" fill="#3d50c3" stroke="#3d50c3"/>
<path d="M427.84 207.34L434.84 209.49L432.78 207.07z" fill="#3b4cc0" stroke="#3b4cc0"/>
<path d="M388.24 209.07L393.2 208.88L389.75 207.79z" fill="#3b4cc0" stroke="#3b4cc0"/>
<path d="M523.77 203.61L530.99 206.54L528.69 203.43z" fill="#4257c9" stroke="#4257c9"/>
<path d="M459.58 208.02L464.53 207.69L457.46 205.53z" fill="#3d50c3" stroke="#3d50c3"/>
<path d="M422.9 207.59L429.88 209.74L427.84 207.34z" fill="#3b4cc0" stroke="#3b4cc0"/>
<path d="M540.85 206.54L545.77 206.69L538.54 203.32z" fill="#4055c8" stroke="#4055c8"/>
<path d="M454.64 208.34L459.58 208.02L452.53 205.87z" fill="#3c4ec2" stroke="#3c4ec2"/>
<path d="M518.84 203.85L526.05 206.66L523.77 203.61z" fill="#4257c9" stroke="#4257c9"/>
<path d="M417.95 207.83L424.93 209.99L422.9 207.59z" fill="#3b4cc0" stroke="#3b4cc0"/>
<path d="M449.69 208.64L454.64 208.34L447.6 206.19z" fill="#3c4ec2" stroke="#3c4ec2"/>
<path d="M513.91 204.14L521.11 206.84L518.84 203.85z" fill="#4257c9" stroke="#4257c9"/>
<path d="M413.01 208.06L419.97 210.23L417.95 207.83z" fill="#3b4cc0" stroke="#3b4cc0"/>
<path d="M535.92 206.49L540.85 206.54L533.62 203.33z" fill="#4055c8" stroke="#4055c8"/>
<path d="M444.74 208.94L449.69 208.64L442.66 206.5z" fill="#3c4ec2" stroke="#3c4ec2"/>
<path d="M508.98 204.46L516.17 207.06L513.91 204.14z" fill="#4257c9" stroke="#4257c9"/>
<path d="M439.79 209.22L444.74 208.94L437.72 206.79z" fill="#3b4cc0" stroke="#3b4cc0"/>
<path d="M408.06 208.28L415.01 210.46L413.01 208.06z" fill="#3b4cc0" stroke="#3b4cc0"/>
<path d="M504.04 204.8L511.23 207.32L508.98 204.46z" fill="#4257c9" stroke="#4257c9"/>
<path d="M530.99 206.54L535.92 206.49L528.69 203.43z" fill="#4257c9" stroke="#4257c9"/>
<path d="M434.84 209.49L439.79 209.22L432.78 207.07z" fill="#3b4cc0" stroke="#3b4cc0"/>
<path d="M403.11 208.49L410.05 210.67L408.06 208.28z" fill="#3b4cc0" stroke="#3b4cc0"/>
<path d="M499.11 205.16L506.28 207.61L504.04 204.8z" fill="#4055c8" stroke="#4055c8"/>
<path d="M550.69 206.97L557.96 210.58L555.6 207.4z" fill="#3c4ec2" stroke="#3c4ec2"/>
<path d="M429.88 209.74L434.84 209.49L427.84 207.34z" fill="#3b4cc0" stroke="#3b4cc0"/>
<path d="M526.05 206.66L530.99 206.54L523.77 203.61z" fill="#4257c9" stroke="#4257c9"/>
<path d="M494.17 205.53L501.34 207.92L499.11 205.16z" fill="#4055c8" stroke="#4055c8"/>
<path d="M398.15 208.69L405.08 210.88L403.11 208.49z" fill="#3b4cc0" stroke="#3b4cc0"/>
<path d="M557.96 210.58L559.23 209.29L555.6 207.4z" fill="#3b4cc0" stroke="#3b4cc0"/>
<path d="M489.23 205.9L496.39 208.25L494.17 205.53z" fill="#3f53c6" stroke="#3f53c6"/>
<path d="M424.93 209.99L429.88 209.74L422.9 207.59z" fill="#3b4cc0" stroke="#3b4cc0"/>
<path d="M521.11 206.84L526.05 206.66L518.84 203.85z" fill="#4257c9" stroke="#4257c9"/>
<path d="M393.2 208.88L400.12 211.08L398.15 208.69z" fill="#3b4cc0" stroke="#3b4cc0"/>
<path d="M484.29 206.27L491.44 208.57L489.23 205.9z" fill="#3f53c6" stroke="#3f53c6"/>
<path d="M419.97 210.23L424.93 209.99L417.95 207.83z" fill="#3b4cc0" stroke="#3b4cc0"/>
<path d="M545.77 206.69L553.04 210.13L550.69 206.97z" fill="#3d50c3" stroke="#3d50c3"/>
<path d="M516.17 207.06L521.11 206.84L513.91 204.14z" fill="#4257c9" stroke="#4257c9"/>
<path d="M479.35 206.64L486.49 208.91L484.29 206.27z" fill="#3e51c5" stroke="#3e51c5"/>
<path d="M388.24 209.07L395.15 211.27L393.2 208.88z" fill="#3b4cc0" stroke="#3b4cc0"/>
<path d="M415.01 210.46L419.97 210.23L413.01 208.06z" fill="#3b4cc0" stroke="#3b4cc0"/>
<path d="M474.41 207L481.53 209.24L479.35 206.64z" fill="#3e51c5" stroke="#3e51c5"/>
<path d="M511.23 207.32L516.17 207.06L508.98 204.46z" fill="#4055c8" stroke="#4055c8"/>
<path d="M469.47 207.35L476.58 209.57L474.41 207z" fill="#3d50c3" stroke="#3d50c3"/>
<path d="M506.28 207.61L511.23 207.32L504.04 204.8z" fill="#4055c8" stroke="#4055c8"/>
<path d="M410.05 210.67L415.01 210.46L408.06 208.28z" fill="#3b4cc0" stroke="#3b4cc0"/>
<path d="M540.85 206.54L548.11 209.82L545.77 206.69z" fill="#3e51c5" stroke="#3e51c5"/>
<path d="M464.53 207.69L471.63 209.89L469.47 207.35z" fill="#3d50c3" stroke="#3d50c3"/>
<path d="M501.34 207.92L506.28 207.61L499.11 205.16z" fill="#4055c8" stroke="#4055c8"/>
<path d="M405.08 210.88L410.05 210.67L403.11 208.49z" fill="#3b4cc0" stroke="#3b4cc0"/>
<path d="M459.58 208.02L466.67 210.21L464.53 207.69z" fill="#3d50c3" stroke="#3d50c3"/>
<path d="M496.39 208.25L501.34 207.92L494.17 205.53z" fill="#3f53c6" stroke="#3f53c6"/>
<path d="M454.64 208.34L461.71 210.52L459.58 208.02z" fill="#3c4ec2" stroke="#3c4ec2"/>
<path d="M400.12 211.08L405.08 210.88L398.15 208.69z" fill="#3b4cc0" stroke="#3b4cc0"/>
<path d="M535.92 206.49L543.18 209.64L540.85 206.54z" fill="#3f53c6" stroke="#3f53c6"/>
<path d="M386.73 210.35L390.18 211.46L388.24 209.07z" fill="#3b4cc0" stroke="#3b4cc0"/>
<path d="M491.44 208.57L496.39 208.25L489.23 205.9z" fill="#3f53c6" stroke="#3f53c6"/>
<path d="M449.69 208.64L456.75 210.82L454.64 208.34z" fill="#3c4ec2" stroke="#3c4ec2"/>
<path d="M486.49 208.91L491.44 208.57L484.29 206.27z" fill="#3e51c5" stroke="#3e51c5"/>
<path d="M556.68 211.86L557.96 210.58L550.69 206.97z" fill="#3b4cc0" stroke="#3b4cc0"/>
<path d="M395.15 211.27L400.12 211.08L393.2 208.88z" fill="#3b4cc0" stroke="#3b4cc0"/>
<path d="M548.11 209.82L553.04 210.13L545.77 206.69z" fill="#3d50c3" stroke="#3d50c3"/>
<path d="M444.74 208.94L451.79 211.11L449.69 208.64z" fill="#3c4ec2" stroke="#3c4ec2"/>
<path d="M481.53 209.24L486.49 208.91L479.35 206.64z" fill="#3e51c5" stroke="#3e51c5"/>
<path d="M530.99 206.54L538.24 209.55L535.92 206.49z" fill="#3f53c6" stroke="#3f53c6"/>
<path d="M553.04 210.13L556.68 211.86L550.69 206.97z" fill="#3b4cc0" stroke="#3b4cc0"/>
<path d="M390.18 211.46L395.15 211.27L388.24 209.07z" fill="#3b4cc0" stroke="#3b4cc0"/>
<path d="M476.58 209.57L481.53 209.24L474.41 207z" fill="#3e51c5" stroke="#3e51c5"/>
<path d="M439.79 209.22L446.83 211.39L444.74 208.94z" fill="#3b4cc0" stroke="#3b4cc0"/>
<path d="M471.63 209.89L476.58 209.57L469.47 207.35z" fill="#3d50c3" stroke="#3d50c3"/>
<path d="M526.05 206.66L533.3 209.55L530.99 206.54z" fill="#4055c8" stroke="#4055c8"/>
<path d="M434.84 209.49L441.87 211.66L439.79 209.22z" fill="#3b4cc0" stroke="#3b4cc0"/>
<path d="M543.18 209.64L548.11 209.82L540.85 206.54z" fill="#3e51c5" stroke="#3e51c5"/>
<path d="M466.67 210.21L471.63 209.89L464.53 207.69z" fill="#3d50c3" stroke="#3d50c3"/>
<path d="M429.88 209.74L436.9 211.92L434.84 209.49z" fill="#3b4cc0" stroke="#3b4cc0"/>
<path d="M521.11 206.84L528.35 209.62L526.05 206.66z" fill="#4055c8" stroke="#4055c8"/>
<path d="M461.71 210.52L466.67 210.21L459.58 208.02z" fill="#3c4ec2" stroke="#3c4ec2"/>
<path d="M424.93 209.99L431.93 212.17L429.88 209.74z" fill="#3b4cc0" stroke="#3b4cc0"/>
<path d="M456.75 210.82L461.71 210.52L454.64 208.34z" fill="#3c4ec2" stroke="#3c4ec2"/>
<path d="M538.24 209.55L543.18 209.64L535.92 206.49z" fill="#3f53c6" stroke="#3f53c6"/>
<path d="M516.17 207.06L523.4 209.76L521.11 206.84z" fill="#4055c8" stroke="#4055c8"/>
<path d="M385.21 211.64L390.18 211.46L386.73 210.35z" fill="#3b4cc0" stroke="#3b4cc0"/>
<path d="M419.97 210.23L426.96 212.41L424.93 209.99z" fill="#3b4cc0" stroke="#3b4cc0"/>
<path d="M451.79 211.11L456.75 210.82L449.69 208.64z" fill="#3c4ec2" stroke="#3c4ec2"/>
<path d="M511.23 207.32L518.45 209.94L516.17 207.06z" fill="#4055c8" stroke="#4055c8"/>
<path d="M533.3 209.55L538.24 209.55L530.99 206.54z" fill="#3f53c6" stroke="#3f53c6"/>
<path d="M446.83 211.39L451.79 211.11L444.74 208.94z" fill="#3b4cc0" stroke="#3b4cc0"/>
<path d="M415.01 210.46L421.99 212.64L419.97 210.23z" fill="#3b4cc0" stroke="#3b4cc0"/>
<path d="M506.28 207.61L513.49 210.15L511.23 207.32z" fill="#4055c8" stroke="#4055c8"/>
<path d="M441.87 211.66L446.83 211.39L439.79 209.22z" fill="#3b4cc0" stroke="#3b4cc0"/>
<path d="M410.05 210.67L417.02 212.87L415.01 210.46z" fill="#3b4cc0" stroke="#3b4cc0"/>
<path d="M501.34 207.92L508.54 210.4L506.28 207.61z" fill="#3f53c6" stroke="#3f53c6"/>
<path d="M528.35 209.62L533.3 209.55L526.05 206.66z" fill="#3f53c6" stroke="#3f53c6"/>
<path d="M436.9 211.92L441.87 211.66L434.84 209.49z" fill="#3b4cc0" stroke="#3b4cc0"/>
<path d="M405.08 210.88L412.04 213.09L410.05 210.67z" fill="#3b4cc0" stroke="#3b4cc0"/>
<path d="M496.39 208.25L503.58 210.66L501.34 207.92z" fill="#3f53c6" stroke="#3f53c6"/>
<path d="M523.4 209.76L528.35 209.62L521.11 206.84z" fill="#3f53c6" stroke="#3f53c6"/>
<path d="M431.93 212.17L436.9 211.92L429.88 209.74z" fill="#3b4cc0" stroke="#3b4cc0"/>
<path d="M491.44 208.57L498.62 210.95L496.39 208.25z" fill="#3f53c6" stroke="#3f53c6"/>
<path d="M548.11 209.82L555.4 213.15L553.04 210.13z" fill="#3b4cc0" stroke="#3b4cc0"/>
<path d="M400.12 211.08L407.07 213.29L405.08 210.88z" fill="#3b4cc0" stroke="#3b4cc0"/>
<path d="M426.96 212.41L431.93 212.17L424.93 209.99z" fill="#3b4cc0" stroke="#3b4cc0"/>
<path d="M486.49 208.91L493.65 211.24L491.44 208.57z" fill="#3e51c5" stroke="#3e51c5"/>
<path d="M518.45 209.94L523.4 209.76L516.17 207.06z" fill="#3f53c6" stroke="#3f53c6"/>
<path d="M395.15 211.27L402.09 213.49L400.12 211.08z" fill="#3b4cc0" stroke="#3b4cc0"/>
<path d="M555.4 213.15L556.68 211.86L553.04 210.13z" fill="#3b4cc0" stroke="#3b4cc0"/>
<path d="M481.53 209.24L488.69 211.54L486.49 208.91z" fill="#3e51c5" stroke="#3e51c5"/>
<path d="M421.99 212.64L426.96 212.41L419.97 210.23z" fill="#3b4cc0" stroke="#3b4cc0"/>
<path d="M513.49 210.15L518.45 209.94L511.23 207.32z" fill="#3f53c6" stroke="#3f53c6"/>
<path d="M476.58 209.57L483.73 211.84L481.53 209.24z" fill="#3d50c3" stroke="#3d50c3"/>
<path d="M390.18 211.46L397.11 213.69L395.15 211.27z" fill="#3b4cc0" stroke="#3b4cc0"/>
<path d="M543.18 209.64L550.47 212.84L548.11 209.82z" fill="#3c4ec2" stroke="#3c4ec2"/>
<path d="M508.54 210.4L513.49 210.15L506.28 207.61z" fill="#3f53c6" stroke="#3f53c6"/>
<path d="M417.02 212.87L421.99 212.64L415.01 210.46z" fill="#3b4cc0" stroke="#3b4cc0"/>
<path d="M471.63 209.89L478.76 212.14L476.58 209.57z" fill="#3d50c3" stroke="#3d50c3"/>
<path d="M385.21 211.64L392.12 213.87L390.18 211.46z" fill="#3b4cc0" stroke="#3b4cc0"/>
<path d="M503.58 210.66L508.54 210.4L501.34 207.92z" fill="#3f53c6" stroke="#3f53c6"/>
<path d="M412.04 213.09L417.02 212.87L410.05 210.67z" fill="#3b4cc0" stroke="#3b4cc0"/>
<path d="M466.67 210.21L473.79 212.44L471.63 209.89z" fill="#3d50c3" stroke="#3d50c3"/>
<path d="M538.24 209.55L545.52 212.63L543.18 209.64z" fill="#3d50c3" stroke="#3d50c3"/>
<path d="M498.62 210.95L503.58 210.66L496.39 208.25z" fill="#3f53c6" stroke="#3f53c6"/>
<path d="M461.71 210.52L468.82 212.74L466.67 210.21z" fill="#3c4ec2" stroke="#3c4ec2"/>
<path d="M407.07 213.29L412.04 213.09L405.08 210.88z" fill="#3b4cc0" stroke="#3b4cc0"/>
<path d="M493.65 211.24L498.62 210.95L491.44 208.57z" fill="#3e51c5" stroke="#3e51c5"/>
<path d="M456.75 210.82L463.85 213.03L461.71 210.52z" fill="#3c4ec2" stroke="#3c4ec2"/>
<path d="M402.09 213.49L407.07 213.29L400.12 211.08z" fill="#3b4cc0" stroke="#3b4cc0"/>
<path d="M533.3 209.55L540.57 212.52L538.24 209.55z" fill="#3e51c5" stroke="#3e51c5"/>
<path d="M488.69 211.54L493.65 211.24L486.49 208.91z" fill="#3e51c5" stroke="#3e51c5"/>
<path d="M451.79 211.11L458.88 213.31L456.75 210.82z" fill="#3c4ec2" stroke="#3c4ec2"/>
<path d="M483.73 211.84L488.69 211.54L481.53 209.24z" fill="#3d50c3" stroke="#3d50c3"/>
<path d="M397.11 213.69L402.09 213.49L395.15 211.27z" fill="#3b4cc0" stroke="#3b4cc0"/>
<path d="M446.83 211.39L453.91 213.59L451.79 211.11z" fill="#3b4cc0" stroke="#3b4cc0"/>
<path d="M528.35 209.62L535.62 212.49L533.3 209.55z" fill="#3e51c5" stroke="#3e51c5"/>
<path d="M478.76 212.14L483.73 211.84L476.58 209.57z" fill="#3d50c3" stroke="#3d50c3"/>
<path d="M554.12 214.45L555.4 213.15L548.11 209.82z" fill="#3b4cc0" stroke="#3b4cc0"/>
<path d="M545.52 212.63L550.47 212.84L543.18 209.64z" fill="#3c4ec2" stroke="#3c4ec2"/>
<path d="M392.12 213.87L397.11 213.69L390.18 211.46z" fill="#3b4cc0" stroke="#3b4cc0"/>
<path d="M441.87 211.66L448.93 213.85L446.83 211.39z" fill="#3b4cc0" stroke="#3b4cc0"/>
<path d="M473.79 212.44L478.76 212.14L471.63 209.89z" fill="#3d50c3" stroke="#3d50c3"/>
<path d="M550.47 212.84L554.12 214.45L548.11 209.82z" fill="#3b4cc0" stroke="#3b4cc0"/>
<path d="M523.4 209.76L530.66 212.53L528.35 209.62z" fill="#3f53c6" stroke="#3f53c6"/>
<path d="M436.9 211.92L443.95 214.12L441.87 211.66z" fill="#3b4cc0" stroke="#3b4cc0"/>
<path d="M468.82 212.74L473.79 212.44L466.67 210.21z" fill="#3c4ec2" stroke="#3c4ec2"/>
<path d="M540.57 212.52L545.52 212.63L538.24 209.55z" fill="#3d50c3" stroke="#3d50c3"/>
<path d="M431.93 212.17L438.97 214.37L436.9 211.92z" fill="#3b4cc0" stroke="#3b4cc0"/>
<path d="M463.85 213.03L468.82 212.74L461.71 210.52z" fill="#3c4ec2" stroke="#3c4ec2"/>
<path d="M518.45 209.94L525.7 212.62L523.4 209.76z" fill="#3f53c6" stroke="#3f53c6"/>
<path d="M426.96 212.41L433.99 214.61L431.93 212.17z" fill="#3b4cc0" stroke="#3b4cc0"/>
<path d="M458.88 213.31L463.85 213.03L456.75 210.82z" fill="#3c4ec2" stroke="#3c4ec2"/>
<path d="M513.49 210.15L520.74 212.76L518.45 209.94z" fill="#3f53c6" stroke="#3f53c6"/>
<path d="M535.62 212.49L540.57 212.52L533.3 209.55z" fill="#3e51c5" stroke="#3e51c5"/>
<path d="M453.91 213.59L458.88 213.31L451.79 211.11z" fill="#3c4ec2" stroke="#3c4ec2"/>
<path d="M421.99 212.64L429.01 214.85L426.96 212.41z" fill="#3b4cc0" stroke="#3b4cc0"/>
<path d="M508.54 210.4L515.77 212.94L513.49 210.15z" fill="#3e51c5" stroke="#3e51c5"/>
<path d="M448.93 213.85L453.91 213.59L446.83 211.39z" fill="#3b4cc0" stroke="#3b4cc0"/>
<path d="M417.02 212.87L424.03 215.08L421.99 212.64z" fill="#3b4cc0" stroke="#3b4cc0"/>
<path d="M530.66 212.53L535.62 212.49L528.35 209.62z" fill="#3e51c5" stroke="#3e51c5"/>
<path d="M503.58 210.66L510.8 213.15L508.54 210.4z" fill="#3e51c5" stroke="#3e51c5"/>
<path d="M443.95 214.12L448.93 213.85L441.87 211.66z" fill="#3b4cc0" stroke="#3b4cc0"/>
<path d="M412.04 213.09L419.04 215.3L417.02 212.87z" fill="#3b4cc0" stroke="#3b4cc0"/>
<path d="M498.62 210.95L505.83 213.38L503.58 210.66z" fill="#3e51c5" stroke="#3e51c5"/>
<path d="M525.7 212.62L530.66 212.53L523.4 209.76z" fill="#3e51c5" stroke="#3e51c5"/>
<path d="M438.97 214.37L443.95 214.12L436.9 211.92z" fill="#3b4cc0" stroke="#3b4cc0"/>
<path d="M407.07 213.29L414.05 215.52L412.04 213.09z" fill="#3b4cc0" stroke="#3b4cc0"/>
<path d="M493.65 211.24L500.86 213.63L498.62 210.95z" fill="#3e51c5" stroke="#3e51c5"/>
<path d="M520.74 212.76L525.7 212.62L518.45 209.94z" fill="#3e51c5" stroke="#3e51c5"/>
<path d="M433.99 214.61L438.97 214.37L431.93 212.17z" fill="#3b4cc0" stroke="#3b4cc0"/>
<path d="M488.69 211.54L495.88 213.9L493.65 211.24z" fill="#3e51c5" stroke="#3e51c5"/>
<path d="M402.09 213.49L409.06 215.73L407.07 213.29z" fill="#3b4cc0" stroke="#3b4cc0"/>
<path d="M429.01 214.85L433.99 214.61L426.96 212.41z" fill="#3b4cc0" stroke="#3b4cc0"/>
<path d="M515.77 212.94L520.74 212.76L513.49 210.15z" fill="#3e51c5" stroke="#3e51c5"/>
<path d="M483.73 211.84L490.91 214.17L488.69 211.54z" fill="#3d50c3" stroke="#3d50c3"/>
<path d="M545.52 212.63L552.84 215.75L550.47 212.84z" fill="#3b4cc0" stroke="#3b4cc0"/>
<path d="M397.11 213.69L404.07 215.93L402.09 213.49z" fill="#3b4cc0" stroke="#3b4cc0"/>
<path d="M424.03 215.08L429.01 214.85L421.99 212.64z" fill="#3b4cc0" stroke="#3b4cc0"/>
<path d="M510.8 213.15L515.77 212.94L508.54 210.4z" fill="#3e51c5" stroke="#3e51c5"/>
<path d="M478.76 212.14L485.93 214.44L483.73 211.84z" fill="#3d50c3" stroke="#3d50c3"/>
<path d="M392.12 213.87L399.08 216.12L397.11 213.69z" fill="#3b4cc0" stroke="#3b4cc0"/>
<path d="M552.84 215.75L554.12 214.45L550.47 212.84z" fill="#3b4cc0" stroke="#3b4cc0"/>
<path d="M419.04 215.3L424.03 215.08L417.02 212.87z" fill="#3b4cc0" stroke="#3b4cc0"/>
<path d="M473.79 212.44L480.95 214.72L478.76 212.14z" fill="#3d50c3" stroke="#3d50c3"/>
<path d="M505.83 213.38L510.8 213.15L503.58 210.66z" fill="#3e51c5" stroke="#3e51c5"/>
<path d="M540.57 212.52L547.88 215.53L545.52 212.63z" fill="#3c4ec2" stroke="#3c4ec2"/>
<path d="M468.82 212.74L475.97 215L473.79 212.44z" fill="#3c4ec2" stroke="#3c4ec2"/>
<path d="M414.05 215.52L419.04 215.3L412.04 213.09z" fill="#3b4cc0" stroke="#3b4cc0"/>
<path d="M500.86 213.63L505.83 213.38L498.62 210.95z" fill="#3e51c5" stroke="#3e51c5"/>
<path d="M463.85 213.03L470.99 215.27L468.82 212.74z" fill="#3c4ec2" stroke="#3c4ec2"/>
<path d="M495.88 213.9L500.86 213.63L493.65 211.24z" fill="#3e51c5" stroke="#3e51c5"/>
<path d="M409.06 215.73L414.05 215.52L407.07 213.29z" fill="#3b4cc0" stroke="#3b4cc0"/>
<path d="M535.62 212.49L542.92 215.4L540.57 212.52z" fill="#3d50c3" stroke="#3d50c3"/>
<path d="M458.88 213.31L466 215.55L463.85 213.03z" fill="#3c4ec2" stroke="#3c4ec2"/>
<path d="M490.91 214.17L495.88 213.9L488.69 211.54z" fill="#3d50c3" stroke="#3d50c3"/>
<path d="M404.07 215.93L409.06 215.73L402.09 213.49z" fill="#3b4cc0" stroke="#3b4cc0"/>
<path d="M453.91 213.59L461.02 215.82L458.88 213.31z" fill="#3b4cc0" stroke="#3b4cc0"/>
<path d="M530.66 212.53L537.96 215.35L535.62 212.49z" fill="#3d50c3" stroke="#3d50c3"/>
<path d="M485.93 214.44L490.91 214.17L483.73 211.84z" fill="#3d50c3" stroke="#3d50c3"/>
<path d="M399.08 216.12L404.07 215.93L397.11 213.69z" fill="#3b4cc0" stroke="#3b4cc0"/>
<path d="M448.93 213.85L456.03 216.08L453.91 213.59z" fill="#3b4cc0" stroke="#3b4cc0"/>
<path d="M480.95 214.72L485.93 214.44L478.76 212.14z" fill="#3d50c3" stroke="#3d50c3"/>
<path d="M525.7 212.62L532.99 215.37L530.66 212.53z" fill="#3d50c3" stroke="#3d50c3"/>
<path d="M443.95 214.12L451.04 216.34L448.93 213.85z" fill="#3b4cc0" stroke="#3b4cc0"/>
<path d="M475.97 215L480.95 214.72L473.79 212.44z" fill="#3c4ec2" stroke="#3c4ec2"/>
<path d="M542.92 215.4L547.88 215.53L540.57 212.52z" fill="#3c4ec2" stroke="#3c4ec2"/>
<path d="M551.55 217.05L552.84 215.75L545.52 212.63z" fill="#3b4cc0" stroke="#3b4cc0"/>
<path d="M438.97 214.37L446.05 216.59L443.95 214.12z" fill="#3b4cc0" stroke="#3b4cc0"/>
<path d="M470.99 215.27L475.97 215L468.82 212.74z" fill="#3c4ec2" stroke="#3c4ec2"/>
<path d="M520.74 212.76L528.01 215.43L525.7 212.62z" fill="#3e51c5" stroke="#3e51c5"/>
<path d="M547.88 215.53L551.55 217.05L545.52 212.63z" fill="#3b4cc0" stroke="#3b4cc0"/>
<path d="M466 215.55L470.99 215.27L463.85 213.03z" fill="#3c4ec2" stroke="#3c4ec2"/>
<path d="M433.99 214.61L441.06 216.84L438.97 214.37z" fill="#3b4cc0" stroke="#3b4cc0"/>
<path d="M537.96 215.35L542.92 215.4L535.62 212.49z" fill="#3c4ec2" stroke="#3c4ec2"/>
<path d="M515.77 212.94L523.04 215.55L520.74 212.76z" fill="#3e51c5" stroke="#3e51c5"/>
<path d="M461.02 215.82L466 215.55L458.88 213.31z" fill="#3c4ec2" stroke="#3c4ec2"/>
<path d="M429.01 214.85L436.07 217.08L433.99 214.61z" fill="#3b4cc0" stroke="#3b4cc0"/>
<path d="M510.8 213.15L518.06 215.7L515.77 212.94z" fill="#3e51c5" stroke="#3e51c5"/>
<path d="M456.03 216.08L461.02 215.82L453.91 213.59z" fill="#3b4cc0" stroke="#3b4cc0"/>
<path d="M532.99 215.37L537.96 215.35L530.66 212.53z" fill="#3d50c3" stroke="#3d50c3"/>
<path d="M424.03 215.08L431.07 217.31L429.01 214.85z" fill="#3b4cc0" stroke="#3b4cc0"/>
<path d="M505.83 213.38L513.08 215.88L510.8 213.15z" fill="#3d50c3" stroke="#3d50c3"/>
<path d="M451.04 216.34L456.03 216.08L448.93 213.85z" fill="#3b4cc0" stroke="#3b4cc0"/>
<path d="M419.04 215.3L426.07 217.54L424.03 215.08z" fill="#3b4cc0" stroke="#3b4cc0"/>
<path d="M528.01 215.43L532.99 215.37L525.7 212.62z" fill="#3d50c3" stroke="#3d50c3"/>
<path d="M500.86 213.63L508.09 216.08L505.83 213.38z" fill="#3d50c3" stroke="#3d50c3"/>
<path d="M446.05 216.59L451.04 216.34L443.95 214.12z" fill="#3b4cc0" stroke="#3b4cc0"/>
<path d="M414.05 215.52L421.08 217.76L419.04 215.3z" fill="#3b4cc0" stroke="#3b4cc0"/>
<path d="M441.06 216.84L446.05 216.59L438.97 214.37z" fill="#3b4cc0" stroke="#3b4cc0"/>
<path d="M495.88 213.9L503.11 216.3L500.86 213.63z" fill="#3d50c3" stroke="#3d50c3"/>
<path d="M523.04 215.55L528.01 215.43L520.74 212.76z" fill="#3d50c3" stroke="#3d50c3"/>
<path d="M409.06 215.73L416.07 217.97L414.05 215.52z" fill="#3b4cc0" stroke="#3b4cc0"/>
<path d="M490.91 214.17L498.12 216.54L495.88 213.9z" fill="#3d50c3" stroke="#3d50c3"/>
<path d="M436.07 217.08L441.06 216.84L433.99 214.61z" fill="#3b4cc0" stroke="#3b4cc0"/>
<path d="M518.06 215.7L523.04 215.55L515.77 212.94z" fill="#3d50c3" stroke="#3d50c3"/>
<path d="M404.07 215.93L411.07 218.18L409.06 215.73z" fill="#3b4cc0" stroke="#3b4cc0"/>
<path d="M485.93 214.44L493.13 216.79L490.91 214.17z" fill="#3d50c3" stroke="#3d50c3"/>
<path d="M431.07 217.31L436.07 217.08L429.01 214.85z" fill="#3b4cc0" stroke="#3b4cc0"/>
<path d="M513.08 215.88L518.06 215.7L510.8 213.15z" fill="#3d50c3" stroke="#3d50c3"/>
<path d="M399.08 216.12L406.07 218.38L404.07 215.93z" fill="#3b4cc0" stroke="#3b4cc0"/>
<path d="M480.95 214.72L488.14 217.04L485.93 214.44z" fill="#3c4ec2" stroke="#3c4ec2"/>
<path d="M426.07 217.54L431.07 217.31L424.03 215.08z" fill="#3b4cc0" stroke="#3b4cc0"/>
<path d="M542.92 215.4L550.25 218.35L547.88 215.53z" fill="#3b4cc0" stroke="#3b4cc0"/>
<path d="M508.09 216.08L513.08 215.88L505.83 213.38z" fill="#3d50c3" stroke="#3d50c3"/>
<path d="M475.97 215L483.15 217.3L480.95 214.72z" fill="#3c4ec2" stroke="#3c4ec2"/>
<path d="M421.08 217.76L426.07 217.54L419.04 215.3z" fill="#3b4cc0" stroke="#3b4cc0"/>
<path d="M503.11 216.3L508.09 216.08L500.86 213.63z" fill="#3d50c3" stroke="#3d50c3"/>
<path d="M470.99 215.27L478.16 217.56L475.97 215z" fill="#3c4ec2" stroke="#3c4ec2"/>
<path d="M550.25 218.35L551.55 217.05L547.88 215.53z" fill="#3b4cc0" stroke="#3b4cc0"/>
<path d="M416.07 217.97L421.08 217.76L414.05 215.52z" fill="#3b4cc0" stroke="#3b4cc0"/>
<path d="M537.96 215.35L545.28 218.22L542.92 215.4z" fill="#3b4cc0" stroke="#3b4cc0"/>
<path d="M498.12 216.54L503.11 216.3L495.88 213.9z" fill="#3d50c3" stroke="#3d50c3"/>
<path d="M466 215.55L473.16 217.82L470.99 215.27z" fill="#3c4ec2" stroke="#3c4ec2"/>
<path d="M411.07 218.18L416.07 217.97L409.06 215.73z" fill="#3b4cc0" stroke="#3b4cc0"/>
<path d="M493.13 216.79L498.12 216.54L490.91 214.17z" fill="#3d50c3" stroke="#3d50c3"/>
<path d="M461.02 215.82L468.17 218.08L466 215.55z" fill="#3b4cc0" stroke="#3b4cc0"/>
<path d="M532.99 215.37L540.3 218.16L537.96 215.35z" fill="#3c4ec2" stroke="#3c4ec2"/>
<path d="M406.07 218.38L411.07 218.18L404.07 215.93z" fill="#3b4cc0" stroke="#3b4cc0"/>
<path d="M488.14 217.04L493.13 216.79L485.93 214.44z" fill="#3c4ec2" stroke="#3c4ec2"/>
<path d="M456.03 216.08L463.17 218.33L461.02 215.82z" fill="#3b4cc0" stroke="#3b4cc0"/>
<path d="M483.15 217.3L488.14 217.04L480.95 214.72z" fill="#3c4ec2" stroke="#3c4ec2"/>
<path d="M528.01 215.43L535.32 218.15L532.99 215.37z" fill="#3c4ec2" stroke="#3c4ec2"/>
<path d="M451.04 216.34L458.17 218.58L456.03 216.08z" fill="#3b4cc0" stroke="#3b4cc0"/>
<path d="M478.16 217.56L483.15 217.3L475.97 215z" fill="#3c4ec2" stroke="#3c4ec2"/>
<path d="M446.05 216.59L453.17 218.83L451.04 216.34z" fill="#3b4cc0" stroke="#3b4cc0"/>
<path d="M523.04 215.55L530.34 218.2L528.01 215.43z" fill="#3d50c3" stroke="#3d50c3"/>
<path d="M473.16 217.82L478.16 217.56L470.99 215.27z" fill="#3c4ec2" stroke="#3c4ec2"/>
<path d="M441.06 216.84L448.16 219.08L446.05 216.59z" fill="#3b4cc0" stroke="#3b4cc0"/>
<path d="M540.3 218.16L545.28 218.22L537.96 215.35z" fill="#3b4cc0" stroke="#3b4cc0"/>
<path d="M518.06 215.7L525.35 218.29L523.04 215.55z" fill="#3d50c3" stroke="#3d50c3"/>
<path d="M468.17 218.08L473.16 217.82L466 215.55z" fill="#3c4ec2" stroke="#3c4ec2"/>
<path d="M548.96 219.66L550.25 218.35L542.92 215.4z" fill="#3b4cc0" stroke="#3b4cc0"/>
<path d="M436.07 217.08L443.16 219.32L441.06 216.84z" fill="#3b4cc0" stroke="#3b4cc0"/>
<path d="M545.28 218.22L548.96 219.66L542.92 215.4z" fill="#3b4cc0" stroke="#3b4cc0"/>
<path d="M463.17 218.33L468.17 218.08L461.02 215.82z" fill="#3b4cc0" stroke="#3b4cc0"/>
<path d="M513.08 215.88L520.36 218.42L518.06 215.7z" fill="#3d50c3" stroke="#3d50c3"/>
<path d="M431.07 217.31L438.15 219.55L436.07 217.08z" fill="#3b4cc0" stroke="#3b4cc0"/>
<path d="M535.32 218.15L540.3 218.16L532.99 215.37z" fill="#3c4ec2" stroke="#3c4ec2"/>
<path d="M458.17 218.58L463.17 218.33L456.03 216.08z" fill="#3b4cc0" stroke="#3b4cc0"/>
<path d="M426.07 217.54L433.14 219.78L431.07 217.31z" fill="#3b4cc0" stroke="#3b4cc0"/>
<path d="M508.09 216.08L515.37 218.58L513.08 215.88z" fill="#3d50c3" stroke="#3d50c3"/>
<path d="M530.34 218.2L535.32 218.15L528.01 215.43z" fill="#3c4ec2" stroke="#3c4ec2"/>
<path d="M453.17 218.83L458.17 218.58L451.04 216.34z" fill="#3b4cc0" stroke="#3b4cc0"/>
<path d="M421.08 217.76L428.13 220.01L426.07 217.54z" fill="#3b4cc0" stroke="#3b4cc0"/>
<path d="M503.11 216.3L510.37 218.76L508.09 216.08z" fill="#3d50c3" stroke="#3d50c3"/>
<path d="M448.16 219.08L453.17 218.83L446.05 216.59z" fill="#3b4cc0" stroke="#3b4cc0"/>
<path d="M525.35 218.29L530.34 218.2L523.04 215.55z" fill="#3c4ec2" stroke="#3c4ec2"/>
<path d="M416.07 217.97L423.12 220.23L421.08 217.76z" fill="#3b4cc0" stroke="#3b4cc0"/>
<path d="M498.12 216.54L505.37 218.96L503.11 216.3z" fill="#3d50c3" stroke="#3d50c3"/>
<path d="M443.16 219.32L448.16 219.08L441.06 216.84z" fill="#3b4cc0" stroke="#3b4cc0"/>
<path d="M411.07 218.18L418.11 220.44L416.07 217.97z" fill="#3b4cc0" stroke="#3b4cc0"/>
<path d="M493.13 216.79L500.37 219.17L498.12 216.54z" fill="#3c4ec2" stroke="#3c4ec2"/>
<path d="M520.36 218.42L525.35 218.29L518.06 215.7z" fill="#3d50c3" stroke="#3d50c3"/>
<path d="M438.15 219.55L443.16 219.32L436.07 217.08z" fill="#3b4cc0" stroke="#3b4cc0"/>
<path d="M488.14 217.04L495.37 219.4L493.13 216.79z" fill="#3c4ec2" stroke="#3c4ec2"/>
<path d="M406.07 218.38L413.09 220.65L411.07 218.18z" fill="#3b4cc0" stroke="#3b4cc0"/>
<path d="M515.37 218.58L520.36 218.42L513.08 215.88z" fill="#3d50c3" stroke="#3d50c3"/>
<path d="M433.14 219.78L438.15 219.55L431.07 217.31z" fill="#3b4cc0" stroke="#3b4cc0"/>
<path d="M483.15 217.3L490.37 219.64L488.14 217.04z" fill="#3c4ec2" stroke="#3c4ec2"/>
<path d="M510.37 218.76L515.37 218.58L508.09 216.08z" fill="#3d50c3" stroke="#3d50c3"/>
<path d="M428.13 220.01L433.14 219.78L426.07 217.54z" fill="#3b4cc0" stroke="#3b4cc0"/>
<path d="M478.16 217.56L485.36 219.88L483.15 217.3z" fill="#3c4ec2" stroke="#3c4ec2"/>
<path d="M505.37 218.96L510.37 218.76L503.11 216.3z" fill="#3c4ec2" stroke="#3c4ec2"/>
<path d="M423.12 220.23L428.13 220.01L421.08 217.76z" fill="#3b4cc0" stroke="#3b4cc0"/>
<path d="M540.3 218.16L547.66 220.98L545.28 218.22z" fill="#3b4cc0" stroke="#3b4cc0"/>
<path d="M473.16 217.82L480.36 220.12L478.16 217.56z" fill="#3c4ec2" stroke="#3c4ec2"/>
<path d="M500.37 219.17L505.37 218.96L498.12 216.54z" fill="#3c4ec2" stroke="#3c4ec2"/>
<path d="M418.11 220.44L423.12 220.23L416.07 217.97z" fill="#3b4cc0" stroke="#3b4cc0"/>
<path d="M468.17 218.08L475.35 220.37L473.16 217.82z" fill="#3b4cc0" stroke="#3b4cc0"/>
<path d="M547.66 220.98L548.96 219.66L545.28 218.22z" fill="#3b4cc0" stroke="#3b4cc0"/>
<path d="M535.32 218.15L542.67 220.91L540.3 218.16z" fill="#3b4cc0" stroke="#3b4cc0"/>
<path d="M495.37 219.4L500.37 219.17L493.13 216.79z" fill="#3c4ec2" stroke="#3c4ec2"/>
<path d="M413.09 220.65L418.11 220.44L411.07 218.18z" fill="#3b4cc0" stroke="#3b4cc0"/>
<path d="M463.17 218.33L470.34 220.61L468.17 218.08z" fill="#3b4cc0" stroke="#3b4cc0"/>
<path d="M490.37 219.64L495.37 219.4L488.14 217.04z" fill="#3c4ec2" stroke="#3c4ec2"/>
<path d="M458.17 218.58L465.33 220.86L463.17 218.33z" fill="#3b4cc0" stroke="#3b4cc0"/>
<path d="M530.34 218.2L537.67 220.9L535.32 218.15z" fill="#3b4cc0" stroke="#3b4cc0"/>
<path d="M485.36 219.88L490.37 219.64L483.15 217.3z" fill="#3c4ec2" stroke="#3c4ec2"/>
<path d="M453.17 218.83L460.32 221.1L458.17 218.58z" fill="#3b4cc0" stroke="#3b4cc0"/>
<path d="M480.36 220.12L485.36 219.88L478.16 217.56z" fill="#3c4ec2" stroke="#3c4ec2"/>
<path d="M525.35 218.29L532.68 220.93L530.34 218.2z" fill="#3c4ec2" stroke="#3c4ec2"/>
<path d="M448.16 219.08L455.3 221.34L453.17 218.83z" fill="#3b4cc0" stroke="#3b4cc0"/>
<path d="M475.35 220.37L480.36 220.12L473.16 217.82z" fill="#3c4ec2" stroke="#3c4ec2"/>
<path d="M443.16 219.32L450.29 221.58L448.16 219.08z" fill="#3b4cc0" stroke="#3b4cc0"/>
<path d="M520.36 218.42L527.68 221.01L525.35 218.29z" fill="#3c4ec2" stroke="#3c4ec2"/>
<path d="M470.34 220.61L475.35 220.37L468.17 218.08z" fill="#3b4cc0" stroke="#3b4cc0"/>
<path d="M438.15 219.55L445.27 221.82L443.16 219.32z" fill="#3b4cc0" stroke="#3b4cc0"/>
<path d="M515.37 218.58L522.67 221.12L520.36 218.42z" fill="#3c4ec2" stroke="#3c4ec2"/>
<path d="M537.67 220.9L542.67 220.91L535.32 218.15z" fill="#3b4cc0" stroke="#3b4cc0"/>
<path d="M465.33 220.86L470.34 220.61L463.17 218.33z" fill="#3b4cc0" stroke="#3b4cc0"/>
<path d="M433.14 219.78L440.25 222.05L438.15 219.55z" fill="#3b4cc0" stroke="#3b4cc0"/>
<path d="M546.35 222.29L547.66 220.98L540.3 218.16z" fill="#3b4cc0" stroke="#3b4cc0"/>
<path d="M510.37 218.76L517.67 221.26L515.37 218.58z" fill="#3c4ec2" stroke="#3c4ec2"/>
<path d="M460.32 221.1L465.33 220.86L458.17 218.58z" fill="#3b4cc0" stroke="#3b4cc0"/>
<path d="M542.67 220.91L546.35 222.29L540.3 218.16z" fill="#3b4cc0" stroke="#3b4cc0"/>
<path d="M532.68 220.93L537.67 220.9L530.34 218.2z" fill="#3b4cc0" stroke="#3b4cc0"/>
<path d="M428.13 220.01L435.23 222.28L433.14 219.78z" fill="#3b4cc0" stroke="#3b4cc0"/>
<path d="M455.3 221.34L460.32 221.1L453.17 218.83z" fill="#3b4cc0" stroke="#3b4cc0"/>
<path d="M505.37 218.96L512.66 221.42L510.37 218.76z" fill="#3c4ec2" stroke="#3c4ec2"/>
<path d="M423.12 220.23L430.2 222.5L428.13 220.01z" fill="#3b4cc0" stroke="#3b4cc0"/>
<path d="M527.68 221.01L532.68 220.93L525.35 218.29z" fill="#3c4ec2" stroke="#3c4ec2"/>
<path d="M450.29 221.58L455.3 221.34L448.16 219.08z" fill="#3b4cc0" stroke="#3b4cc0"/>
<path d="M500.37 219.17L507.65 221.6L505.37 218.96z" fill="#3c4ec2" stroke="#3c4ec2"/>
<path d="M418.11 220.44L425.18 222.72L423.12 220.23z" fill="#3b4cc0" stroke="#3b4cc0"/>
<path d="M445.27 221.82L450.29 221.58L443.16 219.32z" fill="#3b4cc0" stroke="#3b4cc0"/>
<path d="M522.67 221.12L527.68 221.01L520.36 218.42z" fill="#3c4ec2" stroke="#3c4ec2"/>
<path d="M495.37 219.4L502.64 221.8L500.37 219.17z" fill="#3c4ec2" stroke="#3c4ec2"/>
<path d="M413.09 220.65L420.15 222.93L418.11 220.44z" fill="#3b4cc0" stroke="#3b4cc0"/>
<path d="M440.25 222.05L445.27 221.82L438.15 219.55z" fill="#3b4cc0" stroke="#3b4cc0"/>
<path d="M490.37 219.64L497.62 222.01L495.37 219.4z" fill="#3c4ec2" stroke="#3c4ec2"/>
<path d="M517.67 221.26L522.67 221.12L515.37 218.58z" fill="#3c4ec2" stroke="#3c4ec2"/>
<path d="M435.23 222.28L440.25 222.05L433.14 219.78z" fill="#3b4cc0" stroke="#3b4cc0"/>
<path d="M485.36 219.88L492.61 222.23L490.37 219.64z" fill="#3c4ec2" stroke="#3c4ec2"/>
<path d="M512.66 221.42L517.67 221.26L510.37 218.76z" fill="#3c4ec2" stroke="#3c4ec2"/>
<path d="M430.2 222.5L435.23 222.28L428.13 220.01z" fill="#3b4cc0" stroke="#3b4cc0"/>
<path d="M480.36 220.12L487.59 222.46L485.36 219.88z" fill="#3c4ec2" stroke="#3c4ec2"/>
<path d="M507.65 221.6L512.66 221.42L505.37 218.96z" fill="#3c4ec2" stroke="#3c4ec2"/>
<path d="M425.18 222.72L430.2 222.5L423.12 220.23z" fill="#3b4cc0" stroke="#3b4cc0"/>
<path d="M475.35 220.37L482.57 222.69L480.36 220.12z" fill="#3b4cc0" stroke="#3b4cc0"/>
<path d="M502.64 221.8L507.65 221.6L500.37 219.17z" fill="#3c4ec2" stroke="#3c4ec2"/>
<path d="M420.15 222.93L425.18 222.72L418.11 220.44z" fill="#3b4cc0" stroke="#3b4cc0"/>
<path d="M470.34 220.61L477.55 222.92L475.35 220.37z" fill="#3b4cc0" stroke="#3b4cc0"/>
<path d="M537.67 220.9L545.04 223.61L542.67 220.91z" fill="#3b4cc0" stroke="#3b4cc0"/>
<path d="M497.62 222.01L502.64 221.8L495.37 219.4z" fill="#3c4ec2" stroke="#3c4ec2"/>
<path d="M465.33 220.86L472.53 223.16L470.34 220.61z" fill="#3b4cc0" stroke="#3b4cc0"/>
<path d="M492.61 222.23L497.62 222.01L490.37 219.64z" fill="#3c4ec2" stroke="#3c4ec2"/>
<path d="M532.68 220.93L540.04 223.6L537.67 220.9z" fill="#3b4cc0" stroke="#3b4cc0"/>
<path d="M545.04 223.61L546.35 222.29L542.67 220.91z" fill="#3b4cc0" stroke="#3b4cc0"/>
<path d="M460.32 221.1L467.5 223.39L465.33 220.86z" fill="#3b4cc0" stroke="#3b4cc0"/>
<path d="M487.59 222.46L492.61 222.23L485.36 219.88z" fill="#3c4ec2" stroke="#3c4ec2"/>
<path d="M455.3 221.34L462.48 223.63L460.32 221.1z" fill="#3b4cc0" stroke="#3b4cc0"/>
<path d="M527.68 221.01L535.03 223.63L532.68 220.93z" fill="#3b4cc0" stroke="#3b4cc0"/>
<path d="M482.57 222.69L487.59 222.46L480.36 220.12z" fill="#3b4cc0" stroke="#3b4cc0"/>
<path d="M450.29 221.58L457.45 223.86L455.3 221.34z" fill="#3b4cc0" stroke="#3b4cc0"/>
<path d="M477.55 222.92L482.57 222.69L475.35 220.37z" fill="#3b4cc0" stroke="#3b4cc0"/>
<path d="M522.67 221.12L530.01 223.69L527.68 221.01z" fill="#3b4cc0" stroke="#3b4cc0"/>
<path d="M445.27 221.82L452.42 224.1L450.29 221.58z" fill="#3b4cc0" stroke="#3b4cc0"/>
<path d="M472.53 223.16L477.55 222.92L470.34 220.61z" fill="#3b4cc0" stroke="#3b4cc0"/>
<path d="M517.67 221.26L525 223.79L522.67 221.12z" fill="#3c4ec2" stroke="#3c4ec2"/>
<path d="M440.25 222.05L447.39 224.33L445.27 221.82z" fill="#3b4cc0" stroke="#3b4cc0"/>
<path d="M467.5 223.39L472.53 223.16L465.33 220.86z" fill="#3b4cc0" stroke="#3b4cc0"/>
<path d="M435.23 222.28L442.35 224.56L440.25 222.05z" fill="#3b4cc0" stroke="#3b4cc0"/>
<path d="M512.66 221.42L519.98 223.92L517.67 221.26z" fill="#3c4ec2" stroke="#3c4ec2"/>
<path d="M535.03 223.63L540.04 223.6L532.68 220.93z" fill="#3b4cc0" stroke="#3b4cc0"/>
<path d="M462.48 223.63L467.5 223.39L460.32 221.1z" fill="#3b4cc0" stroke="#3b4cc0"/>
<path d="M430.2 222.5L437.32 224.78L435.23 222.28z" fill="#3b4cc0" stroke="#3b4cc0"/>
<path d="M543.73 224.94L545.04 223.61L537.67 220.9z" fill="#3b4cc0" stroke="#3b4cc0"/>
<path d="M507.65 221.6L514.96 224.07L512.66 221.42z" fill="#3c4ec2" stroke="#3c4ec2"/>
<path d="M457.45 223.86L462.48 223.63L455.3 221.34z" fill="#3b4cc0" stroke="#3b4cc0"/>
<path d="M540.04 223.6L543.73 224.94L537.67 220.9z" fill="#3b4cc0" stroke="#3b4cc0"/>
<path d="M530.01 223.69L535.03 223.63L527.68 221.01z" fill="#3b4cc0" stroke="#3b4cc0"/>
<path d="M425.18 222.72L432.28 225.01L430.2 222.5z" fill="#3b4cc0" stroke="#3b4cc0"/>
<path d="M502.64 221.8L509.94 224.24L507.65 221.6z" fill="#3c4ec2" stroke="#3c4ec2"/>
<path d="M452.42 224.1L457.45 223.86L450.29 221.58z" fill="#3b4cc0" stroke="#3b4cc0"/>
<path d="M420.15 222.93L427.24 225.23L425.18 222.72z" fill="#3b4cc0" stroke="#3b4cc0"/>
<path d="M525 223.79L530.01 223.69L522.67 221.12z" fill="#3b4cc0" stroke="#3b4cc0"/>
<path d="M497.62 222.01L504.91 224.42L502.64 221.8z" fill="#3c4ec2" stroke="#3c4ec2"/>
<path d="M447.39 224.33L452.42 224.1L445.27 221.82z" fill="#3b4cc0" stroke="#3b4cc0"/>
<path d="M519.98 223.92L525 223.79L517.67 221.26z" fill="#3b4cc0" stroke="#3b4cc0"/>
<path d="M442.35 224.56L447.39 224.33L440.25 222.05z" fill="#3b4cc0" stroke="#3b4cc0"/>
<path d="M492.61 222.23L499.89 224.62L497.62 222.01z" fill="#3b4cc0" stroke="#3b4cc0"/>
<path d="M437.32 224.78L442.35 224.56L435.23 222.28z" fill="#3b4cc0" stroke="#3b4cc0"/>
<path d="M487.59 222.46L494.86 224.82L492.61 222.23z" fill="#3b4cc0" stroke="#3b4cc0"/>
<path d="M514.96 224.07L519.98 223.92L512.66 221.42z" fill="#3b4cc0" stroke="#3b4cc0"/>
<path d="M432.28 225.01L437.32 224.78L430.2 222.5z" fill="#3b4cc0" stroke="#3b4cc0"/>
<path d="M482.57 222.69L489.83 225.04L487.59 222.46z" fill="#3b4cc0" stroke="#3b4cc0"/>
<path d="M509.94 224.24L514.96 224.07L507.65 221.6z" fill="#3b4cc0" stroke="#3b4cc0"/>
<path d="M427.24 225.23L432.28 225.01L425.18 222.72z" fill="#3b4cc0" stroke="#3b4cc0"/>
<path d="M477.55 222.92L484.79 225.26L482.57 222.69z" fill="#3b4cc0" stroke="#3b4cc0"/>
<path d="M504.91 224.42L509.94 224.24L502.64 221.8z" fill="#3b4cc0" stroke="#3b4cc0"/>
<path d="M472.53 223.16L479.76 225.48L477.55 222.92z" fill="#3b4cc0" stroke="#3b4cc0"/>
<path d="M499.89 224.62L504.91 224.42L497.62 222.01z" fill="#3b4cc0" stroke="#3b4cc0"/>
<path d="M467.5 223.39L474.72 225.71L472.53 223.16z" fill="#3b4cc0" stroke="#3b4cc0"/>
<path d="M494.86 224.82L499.89 224.62L492.61 222.23z" fill="#3b4cc0" stroke="#3b4cc0"/>
<path d="M535.03 223.63L542.41 226.27L540.04 223.6z" fill="#3b4cc0" stroke="#3b4cc0"/>
<path d="M462.48 223.63L469.69 225.94L467.5 223.39z" fill="#3b4cc0" stroke="#3b4cc0"/>
<path d="M489.83 225.04L494.86 224.82L487.59 222.46z" fill="#3b4cc0" stroke="#3b4cc0"/>
<path d="M530.01 223.69L537.39 226.29L535.03 223.63z" fill="#3b4cc0" stroke="#3b4cc0"/>
<path d="M457.45 223.86L464.65 226.17L462.48 223.63z" fill="#3b4cc0" stroke="#3b4cc0"/>
<path d="M542.41 226.27L543.73 224.94L540.04 223.6z" fill="#3b4cc0" stroke="#3b4cc0"/>
<path d="M484.79 225.26L489.83 225.04L482.57 222.69z" fill="#3b4cc0" stroke="#3b4cc0"/>
<path d="M452.42 224.1L459.61 226.4L457.45 223.86z" fill="#3b4cc0" stroke="#3b4cc0"/>
<path d="M525 223.79L532.37 226.35L530.01 223.69z" fill="#3b4cc0" stroke="#3b4cc0"/>
<path d="M479.76 225.48L484.79 225.26L477.55 222.92z" fill="#3b4cc0" stroke="#3b4cc0"/>
<path d="M447.39 224.33L454.56 226.63L452.42 224.1z" fill="#3b4cc0" stroke="#3b4cc0"/>
<path d="M474.72 225.71L479.76 225.48L472.53 223.16z" fill="#3b4cc0" stroke="#3b4cc0"/>
<path d="M519.98 223.92L527.34 226.45L525 223.79z" fill="#3b4cc0" stroke="#3b4cc0"/>
<path d="M442.35 224.56L449.52 226.86L447.39 224.33z" fill="#3b4cc0" stroke="#3b4cc0"/>
<path d="M469.69 225.94L474.72 225.71L467.5 223.39z" fill="#3b4cc0" stroke="#3b4cc0"/>
<path d="M514.96 224.07L522.31 226.56L519.98 223.92z" fill="#3b4cc0" stroke="#3b4cc0"/>
<path d="M437.32 224.78L444.47 227.08L442.35 224.56z" fill="#3b4cc0" stroke="#3b4cc0"/>
<path d="M464.65 226.17L469.69 225.94L462.48 223.63z" fill="#3b4cc0" stroke="#3b4cc0"/>
<path d="M432.28 225.01L439.42 227.31L437.32 224.78z" fill="#3b4cc0" stroke="#3b4cc0"/>
<path d="M509.94 224.24L517.27 226.7L514.96 224.07z" fill="#3b4cc0" stroke="#3b4cc0"/>
<path d="M532.37 226.35L537.39 226.29L530.01 223.69z" fill="#3b4cc0" stroke="#3b4cc0"/>
<path d="M459.61 226.4L464.65 226.17L457.45 223.86z" fill="#3b4cc0" stroke="#3b4cc0"/>
<path d="M427.24 225.23L434.37 227.53L432.28 225.01z" fill="#3b4cc0" stroke="#3b4cc0"/>
<path d="M504.91 224.42L512.24 226.86L509.94 224.24z" fill="#3b4cc0" stroke="#3b4cc0"/>
<path d="M541.09 227.6L542.41 226.27L535.03 223.63z" fill="#3b4cc0" stroke="#3b4cc0"/>
<path d="M454.56 226.63L459.61 226.4L452.42 224.1z" fill="#3b4cc0" stroke="#3b4cc0"/>
<path d="M527.34 226.45L532.37 226.35L525 223.79z" fill="#3b4cc0" stroke="#3b4cc0"/>
<path d="M537.39 226.29L541.09 227.6L535.03 223.63z" fill="#3b4cc0" stroke="#3b4cc0"/>
<path d="M499.89 224.62L507.2 227.03L504.91 224.42z" fill="#3b4cc0" stroke="#3b4cc0"/>
<path d="M449.52 226.86L454.56 226.63L447.39 224.33z" fill="#3b4cc0" stroke="#3b4cc0"/>
<path d="M522.31 226.56L527.34 226.45L519.98 223.92z" fill="#3b4cc0" stroke="#3b4cc0"/>
<path d="M494.86 224.82L502.16 227.22L499.89 224.62z" fill="#3b4cc0" stroke="#3b4cc0"/>
<path d="M444.47 227.08L449.52 226.86L442.35 224.56z" fill="#3b4cc0" stroke="#3b4cc0"/>
<path d="M517.27 226.7L522.31 226.56L514.96 224.07z" fill="#3b4cc0" stroke="#3b4cc0"/>
<path d="M489.83 225.04L497.12 227.42L494.86 224.82z" fill="#3b4cc0" stroke="#3b4cc0"/>
<path d="M439.42 227.31L444.47 227.08L437.32 224.78z" fill="#3b4cc0" stroke="#3b4cc0"/>
<path d="M484.79 225.26L492.08 227.62L489.83 225.04z" fill="#3b4cc0" stroke="#3b4cc0"/>
<path d="M512.24 226.86L517.27 226.7L509.94 224.24z" fill="#3b4cc0" stroke="#3b4cc0"/>
<path d="M434.37 227.53L439.42 227.31L432.28 225.01z" fill="#3b4cc0" stroke="#3b4cc0"/>
<path d="M479.76 225.48L487.03 227.83L484.79 225.26z" fill="#3b4cc0" stroke="#3b4cc0"/>
<path d="M507.2 227.03L512.24 226.86L504.91 224.42z" fill="#3b4cc0" stroke="#3b4cc0"/>
<path d="M474.72 225.71L481.98 228.05L479.76 225.48z" fill="#3b4cc0" stroke="#3b4cc0"/>
<path d="M502.16 227.22L507.2 227.03L499.89 224.62z" fill="#3b4cc0" stroke="#3b4cc0"/>
<path d="M469.69 225.94L476.93 228.27L474.72 225.71z" fill="#3b4cc0" stroke="#3b4cc0"/>
<path d="M497.12 227.42L502.16 227.22L494.86 224.82z" fill="#3b4cc0" stroke="#3b4cc0"/>
<path d="M464.65 226.17L471.88 228.49L469.69 225.94z" fill="#3b4cc0" stroke="#3b4cc0"/>
<path d="M492.08 227.62L497.12 227.42L489.83 225.04z" fill="#3b4cc0" stroke="#3b4cc0"/>
<path d="M532.37 226.35L539.77 228.94L537.39 226.29z" fill="#3b4cc0" stroke="#3b4cc0"/>
<path d="M459.61 226.4L466.83 228.72L464.65 226.17z" fill="#3b4cc0" stroke="#3b4cc0"/>
<path d="M487.03 227.83L492.08 227.62L484.79 225.26z" fill="#3b4cc0" stroke="#3b4cc0"/>
<path d="M454.56 226.63L461.78 228.94L459.61 226.4z" fill="#3b4cc0" stroke="#3b4cc0"/>
<path d="M527.34 226.45L534.73 229L532.37 226.35z" fill="#3b4cc0" stroke="#3b4cc0"/>
<path d="M481.98 228.05L487.03 227.83L479.76 225.48z" fill="#3b4cc0" stroke="#3b4cc0"/>
<path d="M539.77 228.94L541.09 227.6L537.39 226.29z" fill="#3b4cc0" stroke="#3b4cc0"/>
<path d="M449.52 226.86L456.72 229.17L454.56 226.63z" fill="#3b4cc0" stroke="#3b4cc0"/>
<path d="M522.31 226.56L529.69 229.08L527.34 226.45z" fill="#3b4cc0" stroke="#3b4cc0"/>
<path d="M476.93 228.27L481.98 228.05L474.72 225.71z" fill="#3b4cc0" stroke="#3b4cc0"/>
<path d="M444.47 227.08L451.66 229.4L449.52 226.86z" fill="#3b4cc0" stroke="#3b4cc0"/>
<path d="M471.88 228.49L476.93 228.27L469.69 225.94z" fill="#3b4cc0" stroke="#3b4cc0"/>
<path d="M517.27 226.7L524.65 229.19L522.31 226.56z" fill="#3b4cc0" stroke="#3b4cc0"/>
<path d="M439.42 227.31L446.6 229.62L444.47 227.08z" fill="#3b4cc0" stroke="#3b4cc0"/>
<path d="M466.83 228.72L471.88 228.49L464.65 226.17z" fill="#3b4cc0" stroke="#3b4cc0"/>
<path d="M512.24 226.86L519.6 229.33L517.27 226.7z" fill="#3b4cc0" stroke="#3b4cc0"/>
<path d="M434.37 227.53L441.54 229.85L439.42 227.31z" fill="#3b4cc0" stroke="#3b4cc0"/>
<path d="M461.78 228.94L466.83 228.72L459.61 226.4z" fill="#3b4cc0" stroke="#3b4cc0"/>
<path d="M507.2 227.03L514.55 229.48L512.24 226.86z" fill="#3b4cc0" stroke="#3b4cc0"/>
<path d="M456.72 229.17L461.78 228.94L454.56 226.63z" fill="#3b4cc0" stroke="#3b4cc0"/>
<path d="M529.69 229.08L534.73 229L527.34 226.45z" fill="#3b4cc0" stroke="#3b4cc0"/>
<path d="M502.16 227.22L509.5 229.64L507.2 227.03z" fill="#3b4cc0" stroke="#3b4cc0"/>
<path d="M451.66 229.4L456.72 229.17L449.52 226.86z" fill="#3b4cc0" stroke="#3b4cc0"/>
<path d="M538.44 230.28L539.77 228.94L532.37 226.35z" fill="#3b4cc0" stroke="#3b4cc0"/>
<path d="M524.65 229.19L529.69 229.08L522.31 226.56z" fill="#3b4cc0" stroke="#3b4cc0"/>
<path d="M534.73 229L538.44 230.28L532.37 226.35z" fill="#3b4cc0" stroke="#3b4cc0"/>
<path d="M497.12 227.42L504.45 229.82L502.16 227.22z" fill="#3b4cc0" stroke="#3b4cc0"/>
<path d="M446.6 229.62L451.66 229.4L444.47 227.08z" fill="#3b4cc0" stroke="#3b4cc0"/>
<path d="M519.6 229.33L524.65 229.19L517.27 226.7z" fill="#3b4cc0" stroke="#3b4cc0"/>
<path d="M492.08 227.62L499.39 230.01L497.12 227.42z" fill="#3b4cc0" stroke="#3b4cc0"/>
<path d="M441.54 229.85L446.6 229.62L439.42 227.31z" fill="#3b4cc0" stroke="#3b4cc0"/>
<path d="M514.55 229.48L519.6 229.33L512.24 226.86z" fill="#3b4cc0" stroke="#3b4cc0"/>
<path d="M487.03 227.83L494.34 230.21L492.08 227.62z" fill="#3b4cc0" stroke="#3b4cc0"/>
<path d="M481.98 228.05L489.28 230.41L487.03 227.83z" fill="#3b4cc0" stroke="#3b4cc0"/>
<path d="M509.5 229.64L514.55 229.48L507.2 227.03z" fill="#3b4cc0" stroke="#3b4cc0"/>
<path d="M476.93 228.27L484.22 230.62L481.98 228.05z" fill="#3b4cc0" stroke="#3b4cc0"/>
<path d="M504.45 229.82L509.5 229.64L502.16 227.22z" fill="#3b4cc0" stroke="#3b4cc0"/>
<path d="M471.88 228.49L479.16 230.84L476.93 228.27z" fill="#3b4cc0" stroke="#3b4cc0"/>
<path d="M499.39 230.01L504.45 229.82L497.12 227.42z" fill="#3b4cc0" stroke="#3b4cc0"/>
<path d="M466.83 228.72L474.09 231.06L471.88 228.49z" fill="#3b4cc0" stroke="#3b4cc0"/>
<path d="M494.34 230.21L499.39 230.01L492.08 227.62z" fill="#3b4cc0" stroke="#3b4cc0"/>
<path d="M461.78 228.94L469.03 231.28L466.83 228.72z" fill="#3b4cc0" stroke="#3b4cc0"/>
<path d="M489.28 230.41L494.34 230.21L487.03 227.83z" fill="#3b4cc0" stroke="#3b4cc0"/>
<path d="M529.69 229.08L537.11 231.62L534.73 229z" fill="#3b4cc0" stroke="#3b4cc0"/>
<path d="M456.72 229.17L463.96 231.5L461.78 228.94z" fill="#3b4cc0" stroke="#3b4cc0"/>
<path d="M484.22 230.62L489.28 230.41L481.98 228.05z" fill="#3b4cc0" stroke="#3b4cc0"/>
<path d="M451.66 229.4L458.89 231.72L456.72 229.17z" fill="#3b4cc0" stroke="#3b4cc0"/>
<path d="M524.65 229.19L532.06 231.71L529.69 229.08z" fill="#3b4cc0" stroke="#3b4cc0"/>
<path d="M479.16 230.84L484.22 230.62L476.93 228.27z" fill="#3b4cc0" stroke="#3b4cc0"/>
<path d="M537.11 231.62L538.44 230.28L534.73 229z" fill="#3b4cc0" stroke="#3b4cc0"/>
<path d="M446.6 229.62L453.82 231.95L451.66 229.4z" fill="#3b4cc0" stroke="#3b4cc0"/>
<path d="M519.6 229.33L527 231.82L524.65 229.19z" fill="#3b4cc0" stroke="#3b4cc0"/>
<path d="M474.09 231.06L479.16 230.84L471.88 228.49z" fill="#3b4cc0" stroke="#3b4cc0"/>
<path d="M441.54 229.85L448.74 232.18L446.6 229.62z" fill="#3b4cc0" stroke="#3b4cc0"/>
<path d="M469.03 231.28L474.09 231.06L466.83 228.72z" fill="#3b4cc0" stroke="#3b4cc0"/>
<path d="M514.55 229.48L521.94 231.94L519.6 229.33z" fill="#3b4cc0" stroke="#3b4cc0"/>
<path d="M463.96 231.5L469.03 231.28L461.78 228.94z" fill="#3b4cc0" stroke="#3b4cc0"/>
<path d="M509.5 229.64L516.88 232.09L514.55 229.48z" fill="#3b4cc0" stroke="#3b4cc0"/>
<path d="M458.89 231.72L463.96 231.5L456.72 229.17z" fill="#3b4cc0" stroke="#3b4cc0"/>
<path d="M504.45 229.82L511.82 232.25L509.5 229.64z" fill="#3b4cc0" stroke="#3b4cc0"/>
<path d="M453.82 231.95L458.89 231.72L451.66 229.4z" fill="#3b4cc0" stroke="#3b4cc0"/>
<path d="M527 231.82L532.06 231.71L524.65 229.19z" fill="#3b4cc0" stroke="#3b4cc0"/>
<path d="M499.39 230.01L506.75 232.42L504.45 229.82z" fill="#3b4cc0" stroke="#3b4cc0"/>
<path d="M448.74 232.18L453.82 231.95L446.6 229.62z" fill="#3b4cc0" stroke="#3b4cc0"/>
<path d="M535.77 232.97L537.11 231.62L529.69 229.08z" fill="#3b4cc0" stroke="#3b4cc0"/>
<path d="M521.94 231.94L527 231.82L519.6 229.33z" fill="#3b4cc0" stroke="#3b4cc0"/>
<path d="M532.06 231.71L535.77 232.97L529.69 229.08z" fill="#3b4cc0" stroke="#3b4cc0"/>
<path d="M494.34 230.21L501.68 232.61L499.39 230.01z" fill="#3b4cc0" stroke="#3b4cc0"/>
<path d="M516.88 232.09L521.94 231.94L514.55 229.48z" fill="#3b4cc0" stroke="#3b4cc0"/>
<path d="M489.28 230.41L496.61 232.8L494.34 230.21z" fill="#3b4cc0" stroke="#3b4cc0"/>
<path d="M484.22 230.62L491.54 233L489.28 230.41z" fill="#3b4cc0" stroke="#3b4cc0"/>
<path d="M511.82 232.25L516.88 232.09L509.5 229.64z" fill="#3b4cc0" stroke="#3b4cc0"/>
<path d="M479.16 230.84L486.47 233.2L484.22 230.62z" fill="#3b4cc0" stroke="#3b4cc0"/>
<path d="M506.75 232.42L511.82 232.25L504.45 229.82z" fill="#3b4cc0" stroke="#3b4cc0"/>
<path d="M474.09 231.06L481.39 233.41L479.16 230.84z" fill="#3b4cc0" stroke="#3b4cc0"/>
<path d="M501.68 232.61L506.75 232.42L499.39 230.01z" fill="#3b4cc0" stroke="#3b4cc0"/>
<path d="M469.03 231.28L476.31 233.63L474.09 231.06z" fill="#3b4cc0" stroke="#3b4cc0"/>
<path d="M496.61 232.8L501.68 232.61L494.34 230.21z" fill="#3b4cc0" stroke="#3b4cc0"/>
<path d="M463.96 231.5L471.23 233.85L469.03 231.28z" fill="#3b4cc0" stroke="#3b4cc0"/>
<path d="M491.54 233L496.61 232.8L489.28 230.41z" fill="#3b4cc0" stroke="#3b4cc0"/>
<path d="M458.89 231.72L466.15 234.07L463.96 231.5z" fill="#3b4cc0" stroke="#3b4cc0"/>
<path d="M486.47 233.2L491.54 233L484.22 230.62z" fill="#3b4cc0" stroke="#3b4cc0"/>
<path d="M527 231.82L534.43 234.32L532.06 231.71z" fill="#3b4cc0" stroke="#3b4cc0"/>
<path d="M453.82 231.95L461.07 234.29L458.89 231.72z" fill="#3b4cc0" stroke="#3b4cc0"/>
<path d="M481.39 233.41L486.47 233.2L479.16 230.84z" fill="#3b4cc0" stroke="#3b4cc0"/>
<path d="M448.74 232.18L455.98 234.52L453.82 231.95z" fill="#3b4cc0" stroke="#3b4cc0"/>
<path d="M521.94 231.94L529.37 234.43L527 231.82z" fill="#3b4cc0" stroke="#3b4cc0"/>
<path d="M476.31 233.63L481.39 233.41L474.09 231.06z" fill="#3b4cc0" stroke="#3b4cc0"/>
<path d="M534.43 234.32L535.77 232.97L532.06 231.71z" fill="#3b4cc0" stroke="#3b4cc0"/>
<path d="M471.23 233.85L476.31 233.63L469.03 231.28z" fill="#3b4cc0" stroke="#3b4cc0"/>
<path d="M516.88 232.09L524.29 234.56L521.94 231.94z" fill="#3b4cc0" stroke="#3b4cc0"/>
<path d="M466.15 234.07L471.23 233.85L463.96 231.5z" fill="#3b4cc0" stroke="#3b4cc0"/>
<path d="M511.82 232.25L519.22 234.7L516.88 232.09z" fill="#3b4cc0" stroke="#3b4cc0"/>
<path d="M461.07 234.29L466.15 234.07L458.89 231.72z" fill="#3b4cc0" stroke="#3b4cc0"/>
<path d="M506.75 232.42L514.14 234.85L511.82 232.25z" fill="#3b4cc0" stroke="#3b4cc0"/>
<path d="M455.98 234.52L461.07 234.29L453.82 231.95z" fill="#3b4cc0" stroke="#3b4cc0"/>
<path d="M501.68 232.61L509.06 235.02L506.75 232.42z" fill="#3b4cc0" stroke="#3b4cc0"/>
<path d="M524.29 234.56L529.37 234.43L521.94 231.94z" fill="#3b4cc0" stroke="#3b4cc0"/>
<path d="M496.61 232.8L503.98 235.2L501.68 232.61z" fill="#3b4cc0" stroke="#3b4cc0"/>
<path d="M533.09 235.68L534.43 234.32L527 231.82z" fill="#3b4cc0" stroke="#3b4cc0"/>
<path d="M519.22 234.7L524.29 234.56L516.88 232.09z" fill="#3b4cc0" stroke="#3b4cc0"/>
<path d="M491.54 233L498.9 235.39L496.61 232.8z" fill="#3b4cc0" stroke="#3b4cc0"/>
<path d="M529.37 234.43L533.09 235.68L527 231.82z" fill="#3b4cc0" stroke="#3b4cc0"/>
<path d="M514.14 234.85L519.22 234.7L511.82 232.25z" fill="#3b4cc0" stroke="#3b4cc0"/>
<path d="M486.47 233.2L493.81 235.59L491.54 233z" fill="#3b4cc0" stroke="#3b4cc0"/>
<path d="M481.39 233.41L488.72 235.79L486.47 233.2z" fill="#3b4cc0" stroke="#3b4cc0"/>
<path d="M509.06 235.02L514.14 234.85L506.75 232.42z" fill="#3b4cc0" stroke="#3b4cc0"/>
<path d="M476.31 233.63L483.64 235.99L481.39 233.41z" fill="#3b4cc0" stroke="#3b4cc0"/>
<path d="M503.98 235.2L509.06 235.02L501.68 232.61z" fill="#3b4cc0" stroke="#3b4cc0"/>
<path d="M471.23 233.85L478.54 236.21L476.31 233.63z" fill="#3b4cc0" stroke="#3b4cc0"/>
<path d="M498.9 235.39L503.98 235.2L496.61 232.8z" fill="#3b4cc0" stroke="#3b4cc0"/>
<path d="M466.15 234.07L473.45 236.42L471.23 233.85z" fill="#3b4cc0" stroke="#3b4cc0"/>
<path d="M493.81 235.59L498.9 235.39L491.54 233z" fill="#3b4cc0" stroke="#3b4cc0"/>
<path d="M461.07 234.29L468.36 236.65L466.15 234.07z" fill="#3b4cc0" stroke="#3b4cc0"/>
<path d="M488.72 235.79L493.81 235.59L486.47 233.2z" fill="#3b4cc0" stroke="#3b4cc0"/>
<path d="M455.98 234.52L463.26 236.87L461.07 234.29z" fill="#3b4cc0" stroke="#3b4cc0"/>
<path d="M483.64 235.99L488.72 235.79L481.39 233.41z" fill="#3b4cc0" stroke="#3b4cc0"/>
<path d="M524.29 234.56L531.74 237.04L529.37 234.43z" fill="#3b4cc0" stroke="#3b4cc0"/>
<path d="M478.54 236.21L483.64 235.99L476.31 233.63z" fill="#3b4cc0" stroke="#3b4cc0"/>
<path d="M519.22 234.7L526.66 237.16L524.29 234.56z" fill="#3b4cc0" stroke="#3b4cc0"/>
<path d="M473.45 236.42L478.54 236.21L471.23 233.85z" fill="#3b4cc0" stroke="#3b4cc0"/>
<path d="M531.74 237.04L533.09 235.68L529.37 234.43z" fill="#3b4cc0" stroke="#3b4cc0"/>
<path d="M468.36 236.65L473.45 236.42L466.15 234.07z" fill="#3b4cc0" stroke="#3b4cc0"/>
<path d="M514.14 234.85L521.57 237.31L519.22 234.7z" fill="#3b4cc0" stroke="#3b4cc0"/>
<path d="M463.26 236.87L468.36 236.65L461.07 234.29z" fill="#3b4cc0" stroke="#3b4cc0"/>
<path d="M509.06 235.02L516.48 237.46L514.14 234.85z" fill="#3b4cc0" stroke="#3b4cc0"/>
<path d="M503.98 235.2L511.39 237.63L509.06 235.02z" fill="#3b4cc0" stroke="#3b4cc0"/>
<path d="M498.9 235.39L506.29 237.8L503.98 235.2z" fill="#3b4cc0" stroke="#3b4cc0"/>
<path d="M521.57 237.31L526.66 237.16L519.22 234.7z" fill="#3b4cc0" stroke="#3b4cc0"/>
<path d="M493.81 235.59L501.2 237.99L498.9 235.39z" fill="#3b4cc0" stroke="#3b4cc0"/>
<path d="M530.39 238.4L531.74 237.04L524.29 234.56z" fill="#3b4cc0" stroke="#3b4cc0"/>
<path d="M516.48 237.46L521.57 237.31L514.14 234.85z" fill="#3b4cc0" stroke="#3b4cc0"/>
<path d="M488.72 235.79L496.1 238.18L493.81 235.59z" fill="#3b4cc0" stroke="#3b4cc0"/>
<path d="M526.66 237.16L530.39 238.4L524.29 234.56z" fill="#3b4cc0" stroke="#3b4cc0"/>
<path d="M483.64 235.99L491 238.38L488.72 235.79z" fill="#3b4cc0" stroke="#3b4cc0"/>
<path d="M511.39 237.63L516.48 237.46L509.06 235.02z" fill="#3b4cc0" stroke="#3b4cc0"/>
<path d="M478.54 236.21L485.89 238.58L483.64 235.99z" fill="#3b4cc0" stroke="#3b4cc0"/>
<path d="M506.29 237.8L511.39 237.63L503.98 235.2z" fill="#3b4cc0" stroke="#3b4cc0"/>
<path d="M473.45 236.42L480.79 238.8L478.54 236.21z" fill="#3b4cc0" stroke="#3b4cc0"/>
<path d="M501.2 237.99L506.29 237.8L498.9 235.39z" fill="#3b4cc0" stroke="#3b4cc0"/>
<path d="M468.36 236.65L475.68 239.01L473.45 236.42z" fill="#3b4cc0" stroke="#3b4cc0"/>
<path d="M496.1 238.18L501.2 237.99L493.81 235.59z" fill="#3b4cc0" stroke="#3b4cc0"/>
<path d="M463.26 236.87L470.57 239.23L468.36 236.65z" fill="#3b4cc0" stroke="#3b4cc0"/>
<path d="M491 238.38L496.1 238.18L488.72 235.79z" fill="#3b4cc0" stroke="#3b4cc0"/>
<path d="M485.89 238.58L491 238.38L483.64 235.99z" fill="#3b4cc0" stroke="#3b4cc0"/>
<path d="M480.79 238.8L485.89 238.58L478.54 236.21z" fill="#3b4cc0" stroke="#3b4cc0"/>
<path d="M521.57 237.31L529.04 239.77L526.66 237.16z" fill="#3b4cc0" stroke="#3b4cc0"/>
<path d="M475.68 239.01L480.79 238.8L473.45 236.42z" fill="#3b4cc0" stroke="#3b4cc0"/>
<path d="M470.57 239.23L475.68 239.01L468.36 236.65z" fill="#3b4cc0" stroke="#3b4cc0"/>
<path d="M516.48 237.46L523.94 239.91L521.57 237.31z" fill="#3b4cc0" stroke="#3b4cc0"/>
<path d="M529.04 239.77L530.39 238.4L526.66 237.16z" fill="#3b4cc0" stroke="#3b4cc0"/>
<path d="M511.39 237.63L518.83 240.07L516.48 237.46z" fill="#3b4cc0" stroke="#3b4cc0"/>
<path d="M506.29 237.8L513.73 240.23L511.39 237.63z" fill="#3b4cc0" stroke="#3b4cc0"/>
<path d="M501.2 237.99L508.62 240.4L506.29 237.8z" fill="#3b4cc0" stroke="#3b4cc0"/>
<path d="M496.1 238.18L503.51 240.59L501.2 237.99z" fill="#3b4cc0" stroke="#3b4cc0"/>
<path d="M518.83 240.07L523.94 239.91L516.48 237.46z" fill="#3b4cc0" stroke="#3b4cc0"/>
<path d="M491 238.38L498.4 240.78L496.1 238.18z" fill="#3b4cc0" stroke="#3b4cc0"/>
<path d="M513.73 240.23L518.83 240.07L511.39 237.63z" fill="#3b4cc0" stroke="#3b4cc0"/>
<path d="M527.68 241.14L529.04 239.77L521.57 237.31z" fill="#3b4cc0" stroke="#3b4cc0"/>
<path d="M485.89 238.58L493.28 240.98L491 238.38z" fill="#3b4cc0" stroke="#3b4cc0"/>
<path d="M523.94 239.91L527.68 241.14L521.57 237.31z" fill="#3b4cc0" stroke="#3b4cc0"/>
<path d="M480.79 238.8L488.16 241.18L485.89 238.58z" fill="#3b4cc0" stroke="#3b4cc0"/>
<path d="M508.62 240.4L513.73 240.23L506.29 237.8z" fill="#3b4cc0" stroke="#3b4cc0"/>
<path d="M475.68 239.01L483.05 241.39L480.79 238.8z" fill="#3b4cc0" stroke="#3b4cc0"/>
<path d="M503.51 240.59L508.62 240.4L501.2 237.99z" fill="#3b4cc0" stroke="#3b4cc0"/>
<path d="M470.57 239.23L477.93 241.61L475.68 239.01z" fill="#3b4cc0" stroke="#3b4cc0"/>
<path d="M498.4 240.78L503.51 240.59L496.1 238.18z" fill="#3b4cc0" stroke="#3b4cc0"/>
<path d="M493.28 240.98L498.4 240.78L491 238.38z" fill="#3b4cc0" stroke="#3b4cc0"/>
<path d="M488.16 241.18L493.28 240.98L485.89 238.58z" fill="#3b4cc0" stroke="#3b4cc0"/>
<path d="M483.05 241.39L488.16 241.18L480.79 238.8z" fill="#3b4cc0" stroke="#3b4cc0"/>
<path d="M477.93 241.61L483.05 241.39L475.68 239.01z" fill="#3b4cc0" stroke="#3b4cc0"/>
<path d="M518.83 240.07L526.31 242.52L523.94 239.91z" fill="#3b4cc0" stroke="#3b4cc0"/>
<path d="M513.73 240.23L521.2 242.67L518.83 240.07z" fill="#3b4cc0" stroke="#3b4cc0"/>
<path d="M526.31 242.52L527.68 241.14L523.94 239.91z" fill="#3b4cc0" stroke="#3b4cc0"/>
<path d="M508.62 240.4L516.08 242.84L513.73 240.23z" fill="#3b4cc0" stroke="#3b4cc0"/>
<path d="M503.51 240.59L510.96 243.01L508.62 240.4z" fill="#3b4cc0" stroke="#3b4cc0"/>
<path d="M498.4 240.78L505.83 243.19L503.51 240.59z" fill="#3b4cc0" stroke="#3b4cc0"/>
<path d="M493.28 240.98L500.71 243.38L498.4 240.78z" fill="#3b4cc0" stroke="#3b4cc0"/>
<path d="M516.08 242.84L521.2 242.67L513.73 240.23z" fill="#3b4cc0" stroke="#3b4cc0"/>
<path d="M488.16 241.18L495.58 243.58L493.28 240.98z" fill="#3b4cc0" stroke="#3b4cc0"/>
<path d="M483.05 241.39L490.45 243.79L488.16 241.18z" fill="#3b4cc0" stroke="#3b4cc0"/>
<path d="M510.96 243.01L516.08 242.84L508.62 240.4z" fill="#3b4cc0" stroke="#3b4cc0"/>
<path d="M524.95 243.9L526.31 242.52L518.83 240.07z" fill="#3b4cc0" stroke="#3b4cc0"/>
<path d="M521.2 242.67L524.95 243.9L518.83 240.07z" fill="#3b4cc0" stroke="#3b4cc0"/>
<path d="M477.93 241.61L485.32 244L483.05 241.39z" fill="#3b4cc0" stroke="#3b4cc0"/>
<path d="M505.83 243.19L510.96 243.01L503.51 240.59z" fill="#3b4cc0" stroke="#3b4cc0"/>
<path d="M500.71 243.38L505.83 243.19L498.4 240.78z" fill="#3b4cc0" stroke="#3b4cc0"/>
<path d="M495.58 243.58L500.71 243.38L493.28 240.98z" fill="#3b4cc0" stroke="#3b4cc0"/>
<path d="M490.45 243.79L495.58 243.58L488.16 241.18z" fill="#3b4cc0" stroke="#3b4cc0"/>
<path d="M485.32 244L490.45 243.79L483.05 241.39z" fill="#3b4cc0" stroke="#3b4cc0"/>
<path d="M516.08 242.84L523.58 245.28L521.2 242.67z" fill="#3b4cc0" stroke="#3b4cc0"/>
<path d="M510.96 243.01L518.44 245.45L516.08 242.84z" fill="#3b4cc0" stroke="#3b4cc0"/>
<path d="M523.58 245.28L524.95 243.9L521.2 242.67z" fill="#3b4cc0" stroke="#3b4cc0"/>
<path d="M505.83 243.19L513.31 245.62L510.96 243.01z" fill="#3b4cc0" stroke="#3b4cc0"/>
<path d="M500.71 243.38L508.17 245.81L505.83 243.19z" fill="#3b4cc0" stroke="#3b4cc0"/>
<path d="M495.58 243.58L503.03 246L500.71 243.38z" fill="#3b4cc0" stroke="#3b4cc0"/>
<path d="M490.45 243.79L497.89 246.2L495.58 243.58z" fill="#3b4cc0" stroke="#3b4cc0"/>
<path d="M485.32 244L492.74 246.4L490.45 243.79z" fill="#3b4cc0" stroke="#3b4cc0"/>
<path d="M513.31 245.62L518.44 245.45L510.96 243.01z" fill="#3b4cc0" stroke="#3b4cc0"/>
<path d="M508.17 245.81L513.31 245.62L505.83 243.19z" fill="#3b4cc0" stroke="#3b4cc0"/>
<path d="M522.2 246.67L523.58 245.28L516.08 242.84z" fill="#3b4cc0" stroke="#3b4cc0"/>
<path d="M518.44 245.45L522.2 246.67L516.08 242.84z" fill="#3b4cc0" stroke="#3b4cc0"/>
<path d="M503.03 246L508.17 245.81L500.71 243.38z" fill="#3b4cc0" stroke="#3b4cc0"/>
<path d="M497.89 246.2L503.03 246L495.58 243.58z" fill="#3b4cc0" stroke="#3b4cc0"/>
<path d="M492.74 246.4L497.89 246.2L490.45 243.79z" fill="#3b4cc0" stroke="#3b4cc0"/>
<path d="M513.31 245.62L520.82 248.07L518.44 245.45z" fill="#3b4cc0" stroke="#3b4cc0"/>
<path d="M508.17 245.81L515.67 248.24L513.31 245.62z" fill="#3b4cc0" stroke="#3b4cc0"/>
<path d="M520.82 248.07L522.2 246.67L518.44 245.45z" fill="#3b4cc0" stroke="#3b4cc0"/>
<path d="M503.03 246L510.52 248.42L508.17 245.81z" fill="#3b4cc0" stroke="#3b4cc0"/>
<path d="M497.89 246.2L505.37 248.62L503.03 246z" fill="#3b4cc0" stroke="#3b4cc0"/>
<path d="M492.74 246.4L500.21 248.81L497.89 246.2z" fill="#3b4cc0" stroke="#3b4cc0"/>
<path d="M510.52 248.42L515.67 248.24L508.17 245.81z" fill="#3b4cc0" stroke="#3b4cc0"/>
<path d="M505.37 248.62L510.52 248.42L503.03 246z" fill="#3b4cc0" stroke="#3b4cc0"/>
<path d="M519.44 249.46L520.82 248.07L513.31 245.62z" fill="#3b4cc0" stroke="#3b4cc0"/>
<path d="M515.67 248.24L519.44 249.46L513.31 245.62z" fill="#3b4cc0" stroke="#3b4cc0"/>
<path d="M500.21 248.81L505.37 248.62L497.89 246.2z" fill="#3b4cc0" stroke="#3b4cc0"/>
<path d="M510.52 248.42L518.05 250.86L515.67 248.24z" fill="#3b4cc0" stroke="#3b4cc0"/>
<path d="M505.37 248.62L512.88 251.05L510.52 248.42z" fill="#3b4cc0" stroke="#3b4cc0"/>
<path d="M518.05 250.86L519.44 249.46L515.67 248.24z" fill="#3b4cc0" stroke="#3b4cc0"/>
<path d="M500.21 248.81L507.71 251.24L505.37 248.62z" fill="#3b4cc0" stroke="#3b4cc0"/>
<path d="M507.71 251.24L512.88 251.05L505.37 248.62z" fill="#3b4cc0" stroke="#3b4cc0"/>
<path d="M516.66 252.27L518.05 250.86L510.52 248.42z" fill="#3b4cc0" stroke="#3b4cc0"/>
<path d="M512.88 251.05L516.66 252.27L510.52 248.42z" fill="#3b4cc0" stroke="#3b4cc0"/>
<path d="M507.71 251.24L515.26 253.68L512.88 251.05z" fill="#3b4cc0" stroke="#3b4cc0"/>
<path d="M515.26 253.68L516.66 252.27L512.88 251.05z" fill="#3b4cc0" stroke="#3b4cc0"/>
</g>
<g id="text_47">
<text style="font-size: 12.05px; font-family: 'DejaVu Sans', 'Liberation Sans', sans-serif; text-anchor: middle" x="483.173" y="9.356">FEM solution</text>
</g>
</g>
<g id="axes_4">
<g id="patch_12">
<path d="M 634.171 280.962 L 648.111 280.962 L 648.111 15.163 L 634.171 15.163 z " style="fill: #ffffff"/>
</g>
<rect x="634.17" y="15.16" width="13.94" height="265.8" fill="url(#gc)"/>
<g id="matplotlib.axis_3"/>
<g id="matplotlib.axis_4">
<g id="ytick_10">
<g id="line2d_48">
<g>
<use href="#m1a3ad3c0e2" x="648.111" y="249.639" style="stroke: #000000; stroke-width: 0.8"/>
</g>
</g>
<g id="text_48">
<text style="font-size: 10px; font-family: 'DejaVu Sans', 'Liberation Sans', sans-serif; text-anchor: start" x="654.511" y="253.438">0.5</text>
</g>
</g>
<g id="ytick_11">
<g id="line2d_49">
<g>
<use href="#m1a3ad3c0e2" x="648.111" y="217.545" style="stroke: #000000; stroke-width: 0.8"/>
</g>
</g>
<g id="text_49">
<text style="font-size: 10px; font-family: 'DejaVu Sans', 'Liberation Sans', sans-serif; text-anchor: start" x="654.511" y="221.344">1.0</text>
</g>
</g>
<g id="ytick_12">
<g id="line2d_50">
<g>
<use href="#m1a3ad3c0e2" x="648.111" y="185.452" style="stroke: #000000; stroke-width: 0.8"/>
</g>
</g>
<g id="text_50">
<text style="font-size: 10px; font-family: 'DejaVu Sans', 'Liberation Sans', sans-serif; text-anchor: start" x="654.511" y="189.251">1.5</text>
</g>
</g>
<g id="ytick_13">
<g id="line2d_51">
<g>
<use href="#m1a3ad3c0e2" x="648.111" y="153.358" style="stroke: #000000; stroke-width: 0.8"/>
</g>
</g>
<g id="text_51">
<text style="font-size: 10px; font-family: 'DejaVu Sans', 'Liberation Sans', sans-serif; text-anchor: start" x="654.511" y="157.157">2.0</text>
</g>
</g>
<g id="ytick_14">
<g id="line2d_52">
<g>
<use href="#m1a3ad3c0e2" x="648.111" y="121.264" style="stroke: #000000; stroke-width: 0.8"/>
</g>
</g>
<g id="text_52">
<text style="font-size: 10px; font-family: 'DejaVu Sans', 'Liberation Sans', sans-serif; text-anchor: start" x="654.511" y="125.064">2.5</text>
</g>
</g>
<g id="ytick_15">
<g id="line2d_53">
<g>
<use href="#m1a3ad3c0e2" x="648.111" y="89.171" style="stroke: #000000; stroke-width: 0.8"/>
</g>
</g>
<g id="text_53">
<text style="font-size: 10px; font-family: 'DejaVu Sans', 'Liberation Sans', sans-serif; text-anchor: start" x="654.511" y="92.970">3.0</text>
</g>
</g>
<g id="ytick_16">
<g id="line2d_54">
<g>
<use href="#m1a3ad3c0e2" x="648.111" y="57.077" style="stroke: #000000; stroke-width: 0.8"/>
</g>
</g>
<g id="text_54">
<text style="font-size: 10px; font-family: 'DejaVu Sans', 'Liberation Sans', sans-serif; text-anchor: start" x="654.511" y="60.876">3.5</text>
</g>
</g>
<g id="ytick_17">
<g id="line2d_55">
<g>
<use href="#m1a3ad3c0e2" x="648.111" y="24.984" style="stroke: #000000; stroke-width: 0.8"/>
</g>
</g>
<g id="text_55">
<text style="font-size: 10px; font-family: 'DejaVu Sans', 'Liberation Sans', sans-serif; text-anchor: start" x="654.511" y="28.783">4.0</text>
</g>
</g>
</g>
<g id="LineCollection_2"/>
<g id="patch_13">
<path d="M 634.171 280.962 L 641.141 280.962 L 648.111 280.962 L 648.111 15.163 L 641.141 15.163 L 634.171 15.163 L 634.171 280.962 z " style="fill: none; stroke: #000000; stroke-width: 0.8; stroke-linejoin: miter; stroke-linecap: square"/>
</g>
</g>
</g>
<defs>
<clipPath id="pb22b215cfc">
<rect x="-14.185" y="15.261" width="266.092" height="266.092"/>
</clipPath>
<clipPath id="pba16997394">
<rect x="350.127" y="15.456" width="266.092" height="266.092"/>
</clipPath>
</defs>
<defs><linearGradient id="gv" x1="0" y1="0" x2="0" y2="1"><stop offset="0" stop-color="#fde725"/><stop offset="0.021" stop-color="#f1e51d"/><stop offset="0.042" stop-color="#e5e419"/><stop offset="0.063" stop-color="#d5e21a"/><stop offset="0.085" stop-color="#c8e020"/><stop offset="0.106" stop-color="#b8de29"/><stop offset="0.127" stop-color="#aadc32"/><stop offset="0.148" stop-color="#9bd93c"/><stop offset="0.170" stop-color="#8ed645"/><stop offset="0.191" stop-color="#7fd34e"/><stop offset="0.212" stop-color="#73d056"/><stop offset="0.234" stop-color="#67cc5c"/><stop offset="0.255" stop-color="#5ac864"/><stop offset="0.276" stop-color="#50c46a"/><stop offset="0.297" stop-color="#44bf70"/><stop offset="0.319" stop-color="#3bbb75"/><stop offset="0.340" stop-color="#32b67a"/><stop offset="0.361" stop-color="#2cb17e"/><stop offset="0.383" stop-color="#25ac82"/><stop offset="0.404" stop-color="#22a785"/><stop offset="0.425" stop-color="#1fa287"/><stop offset="0.446" stop-color="#1e9d89"/><stop offset="0.468" stop-color="#1f988b"/><stop offset="0.489" stop-color="#20928c"/><stop offset="0.510" stop-color="#218e8d"/><stop offset="0.531" stop-color="#23888e"/><stop offset="0.553" stop-color="#25838e"/><stop offset="0.574" stop-color="#277e8e"/><stop offset="0.595" stop-color="#29798e"/><stop offset="0.617" stop-color="#2b748e"/><stop offset="0.638" stop-color="#2e6f8e"/><stop offset="0.659" stop-color="#306a8e"/><stop offset="0.680" stop-color="#32648e"/><stop offset="0.702" stop-color="#355f8d"/><stop offset="0.723" stop-color="#38598c"/><stop offset="0.744" stop-color="#3a538b"/><stop offset="0.766" stop-color="#3d4d8a"/><stop offset="0.787" stop-color="#3f4788"/><stop offset="0.808" stop-color="#424186"/><stop offset="0.829" stop-color="#443a83"/><stop offset="0.851" stop-color="#463480"/><stop offset="0.872" stop-color="#472d7b"/><stop offset="0.893" stop-color="#482677"/><stop offset="0.914" stop-color="#481f70"/><stop offset="0.936" stop-color="#48186a"/><stop offset="0.957" stop-color="#471063"/><stop offset="0.978" stop-color="#46085c"/><stop offset="1" stop-color="#440154"/></linearGradient><linearGradient id="gc" x1="0" y1="0" x2="0" y2="1"><stop offset="0" stop-color="#b40426"/><stop offset="0.021" stop-color="#bb1b2c"/><stop offset="0.042" stop-color="#c32e31"/><stop offset="0.063" stop-color="#cb3e38"/><stop offset="0.085" stop-color="#d1493f"/><stop offset="0.106" stop-color="#d85646"/><stop offset="0.127" stop-color="#de614d"/><stop offset="0.148" stop-color="#e36c55"/><stop offset="0.170" stop-color="#e8765c"/><stop offset="0.191" stop-color="#ec8165"/><stop offset="0.212" stop-color="#f08a6c"/><stop offset="0.234" stop-color="#f29274"/><stop offset="0.255" stop-color="#f59c7d"/><stop offset="0.276" stop-color="#f6a385"/><stop offset="0.297" stop-color="#f7ac8e"/><stop offset="0.319" stop-color="#f7b396"/><stop offset="0.340" stop-color="#f7ba9f"/><stop offset="0.361" stop-color="#f5c0a7"/><stop offset="0.383" stop-color="#f3c7b1"/><stop offset="0.404" stop-color="#f1ccb8"/><stop offset="0.425" stop-color="#eed0c0"/><stop offset="0.446" stop-color="#ead5c9"/><stop offset="0.468" stop-color="#e5d8d1"/><stop offset="0.489" stop-color="#dfdbd9"/><stop offset="0.510" stop-color="#dadce0"/><stop offset="0.531" stop-color="#d4dbe6"/><stop offset="0.553" stop-color="#cedaeb"/><stop offset="0.574" stop-color="#c7d7f0"/><stop offset="0.595" stop-color="#c1d4f4"/><stop offset="0.617" stop-color="#bbd1f8"/><stop offset="0.638" stop-color="#b3cdfb"/><stop offset="0.659" stop-color="#adc9fd"/><stop offset="0.680" stop-color="#a5c3fe"/><stop offset="0.702" stop-color="#9ebeff"/><stop offset="0.723" stop-color="#96b7ff"/><stop offset="0.744" stop-color="#8fb1fe"/><stop offset="0.766" stop-color="#86a9fc"/><stop offset="0.787" stop-color="#80a3fa"/><stop offset="0.808" stop-color="#799cf8"/><stop offset="0.829" stop-color="#7093f3"/><stop offset="0.851" stop-color="#6a8bef"/><stop offset="0.872" stop-color="#6282ea"/><stop offset="0.893" stop-color="#5b7ae5"/><stop offset="0.914" stop-color="#5470de"/><stop offset="0.936" stop-color="#4e68d8"/><stop offset="0.957" stop-color="#465ecf"/><stop offset="0.978" stop-color="#4055c8"/><stop offset="1" stop-color="#3b4cc0"/></linearGradient></defs></svg> 
</body></html>
